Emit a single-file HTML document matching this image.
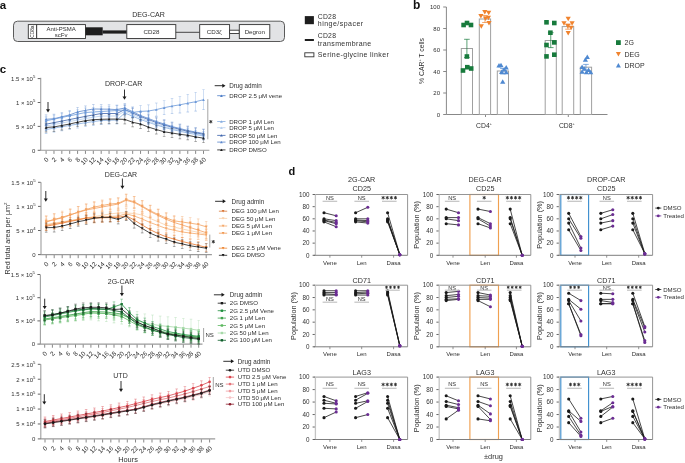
<!DOCTYPE html>
<html><head><meta charset="utf-8"><style>
html,body{margin:0;padding:0;background:#fff;}
body{width:685px;height:463px;overflow:hidden;}
svg{display:block;font-family:"Liberation Sans", sans-serif;will-change:transform;}
</style></head><body>
<svg width="685" height="463" viewBox="0 0 685 463">
<rect width="685" height="463" fill="#fff"/>
<text x="-0.30" y="9.00" font-size="11.50" text-anchor="start" fill="#111" font-weight="bold" >a</text>
<text x="413.00" y="9.20" font-size="12.00" text-anchor="start" fill="#111" font-weight="bold" >b</text>
<text x="-0.30" y="73.20" font-size="11.50" text-anchor="start" fill="#111" font-weight="bold" >c</text>
<text x="288.60" y="175.40" font-size="11.00" text-anchor="start" fill="#111" font-weight="bold" >d</text>
<rect x="13.50" y="21.20" width="271.00" height="20.30" fill="#e2e3e5" stroke="#5a5a5a" stroke-width="1.00" rx="4.00" />
<text x="148.50" y="17.30" font-size="7.10" text-anchor="middle" fill="#303030" font-weight="normal" >DEG-CAR</text>
<rect x="28.30" y="24.60" width="8.40" height="13.90" fill="#fff" stroke="#333" stroke-width="0.90" rx="0.00" />
<text x="34.40" y="31.60" font-size="4.80" text-anchor="middle" fill="#303030" font-weight="normal" transform="rotate(-90 34.4 31.6)" >CD8a</text>
<rect x="36.70" y="24.60" width="48.80" height="13.90" fill="#fff" stroke="#333" stroke-width="0.90" rx="0.00" />
<text x="61.10" y="30.70" font-size="6.00" text-anchor="middle" fill="#303030" font-weight="normal" >Anti-PSMA</text>
<text x="61.10" y="37.10" font-size="6.00" text-anchor="middle" fill="#303030" font-weight="normal" >scFv</text>
<rect x="85.50" y="27.30" width="17.20" height="8.00" fill="#1e1e1e" stroke="none" stroke-width="1.00" rx="0.00" />
<rect x="102.60" y="30.40" width="24.20" height="3.20" fill="#1e1e1e" stroke="none" stroke-width="1.00" rx="0.00" />
<rect x="126.80" y="24.60" width="49.00" height="13.90" fill="#fff" stroke="#333" stroke-width="0.90" rx="0.00" />
<text x="151.50" y="34.00" font-size="6.20" text-anchor="middle" fill="#303030" font-weight="normal" >CD28</text>
<line x1="175.80" y1="32.30" x2="199.70" y2="32.30" stroke="#333" stroke-width="0.90" />
<rect x="199.70" y="24.60" width="29.90" height="13.90" fill="#fff" stroke="#333" stroke-width="0.90" rx="0.00" />
<text x="214.30" y="34.00" font-size="6.20" text-anchor="middle" fill="#303030" font-weight="normal" >CD3ζ</text>
<rect x="229.60" y="30.20" width="9.70" height="3.30" fill="#fff" stroke="#333" stroke-width="0.90" rx="0.00" />
<rect x="239.30" y="24.60" width="30.50" height="13.90" fill="#fff" stroke="#333" stroke-width="0.90" rx="0.00" />
<text x="254.80" y="34.00" font-size="6.20" text-anchor="middle" fill="#303030" font-weight="normal" >Degron</text>
<rect x="304.80" y="16.10" width="9.10" height="8.10" fill="#1e1e1e" stroke="none" stroke-width="1.00" rx="0.00" />
<text x="317.80" y="19.20" font-size="6.80" text-anchor="start" fill="#303030" font-weight="normal" letter-spacing="0.25">CD28</text>
<text x="317.80" y="25.90" font-size="7.00" text-anchor="start" fill="#303030" font-weight="normal" letter-spacing="0.48">hinge/spacer</text>
<rect x="304.80" y="39.00" width="9.10" height="2.00" fill="#1e1e1e" stroke="none" stroke-width="1.00" rx="0.00" />
<text x="317.80" y="38.30" font-size="6.80" text-anchor="start" fill="#303030" font-weight="normal" letter-spacing="0.25">CD28</text>
<text x="317.80" y="45.90" font-size="7.00" text-anchor="start" fill="#303030" font-weight="normal" letter-spacing="0.36">transmembrane</text>
<rect x="304.80" y="52.80" width="9.10" height="4.00" fill="#fff" stroke="#333" stroke-width="0.90" rx="0.00" />
<text x="317.80" y="56.90" font-size="7.00" text-anchor="start" fill="#303030" font-weight="normal" letter-spacing="0.4">Serine-glycine linker</text>
<line x1="446.40" y1="7.00" x2="446.40" y2="114.50" stroke="#7a7a7a" stroke-width="0.90" />
<line x1="446.40" y1="114.50" x2="607.50" y2="114.50" stroke="#7a7a7a" stroke-width="0.90" />
<line x1="443.20" y1="114.50" x2="446.40" y2="114.50" stroke="#7a7a7a" stroke-width="0.90" />
<text x="440.00" y="116.70" font-size="6.00" text-anchor="end" fill="#303030" font-weight="normal" >0</text>
<line x1="443.20" y1="93.00" x2="446.40" y2="93.00" stroke="#7a7a7a" stroke-width="0.90" />
<text x="440.00" y="95.20" font-size="6.00" text-anchor="end" fill="#303030" font-weight="normal" >20</text>
<line x1="443.20" y1="71.50" x2="446.40" y2="71.50" stroke="#7a7a7a" stroke-width="0.90" />
<text x="440.00" y="73.70" font-size="6.00" text-anchor="end" fill="#303030" font-weight="normal" >40</text>
<line x1="443.20" y1="50.00" x2="446.40" y2="50.00" stroke="#7a7a7a" stroke-width="0.90" />
<text x="440.00" y="52.20" font-size="6.00" text-anchor="end" fill="#303030" font-weight="normal" >60</text>
<line x1="443.20" y1="28.50" x2="446.40" y2="28.50" stroke="#7a7a7a" stroke-width="0.90" />
<text x="440.00" y="30.70" font-size="6.00" text-anchor="end" fill="#303030" font-weight="normal" >80</text>
<line x1="443.20" y1="7.00" x2="446.40" y2="7.00" stroke="#7a7a7a" stroke-width="0.90" />
<text x="440.00" y="9.20" font-size="6.00" text-anchor="end" fill="#303030" font-weight="normal" >100</text>
<line x1="485.50" y1="114.50" x2="485.50" y2="117.00" stroke="#7a7a7a" stroke-width="0.90" />
<line x1="568.30" y1="114.50" x2="568.30" y2="117.00" stroke="#7a7a7a" stroke-width="0.90" />
<text x="484.00" y="128.00" font-size="6.80" text-anchor="middle" fill="#303030" font-weight="normal" >CD4<tspan font-size="3.8" dy="-3.2">+</tspan></text>
<text x="566.80" y="128.00" font-size="6.80" text-anchor="middle" fill="#303030" font-weight="normal" >CD8<tspan font-size="3.8" dy="-3.2">+</tspan></text>
<text x="423.50" y="61.00" font-size="6.80" text-anchor="middle" fill="#303030" font-weight="normal" transform="rotate(-90 423.5 61)" >% CAR<tspan font-size="3.8" dy="-3">+</tspan><tspan dy="3"> T cells</tspan></text>
<rect x="461.30" y="48.50" width="11.20" height="66.00" fill="#fff" stroke="#a0a0a0" stroke-width="1.00" rx="0.00" />
<rect x="479.30" y="19.00" width="11.30" height="95.50" fill="#fff" stroke="#a0a0a0" stroke-width="1.00" rx="0.00" />
<rect x="497.30" y="71.00" width="11.20" height="43.50" fill="#fff" stroke="#a0a0a0" stroke-width="1.00" rx="0.00" />
<rect x="545.20" y="40.50" width="11.10" height="74.00" fill="#fff" stroke="#a0a0a0" stroke-width="1.00" rx="0.00" />
<rect x="562.20" y="26.60" width="11.50" height="87.90" fill="#fff" stroke="#a0a0a0" stroke-width="1.00" rx="0.00" />
<rect x="580.30" y="67.20" width="11.30" height="47.30" fill="#fff" stroke="#a0a0a0" stroke-width="1.00" rx="0.00" />
<line x1="466.90" y1="39.30" x2="466.90" y2="57.50" stroke="#177a3c" stroke-width="0.70" />
<line x1="464.10" y1="39.30" x2="469.70" y2="39.30" stroke="#177a3c" stroke-width="0.70" />
<line x1="464.10" y1="57.50" x2="469.70" y2="57.50" stroke="#177a3c" stroke-width="0.70" />
<line x1="484.95" y1="15.50" x2="484.95" y2="22.50" stroke="#f0832e" stroke-width="0.70" />
<line x1="482.15" y1="15.50" x2="487.75" y2="15.50" stroke="#f0832e" stroke-width="0.70" />
<line x1="482.15" y1="22.50" x2="487.75" y2="22.50" stroke="#f0832e" stroke-width="0.70" />
<line x1="502.90" y1="68.50" x2="502.90" y2="74.00" stroke="#4f89d1" stroke-width="0.70" />
<line x1="500.10" y1="68.50" x2="505.70" y2="68.50" stroke="#4f89d1" stroke-width="0.70" />
<line x1="500.10" y1="74.00" x2="505.70" y2="74.00" stroke="#4f89d1" stroke-width="0.70" />
<line x1="550.75" y1="32.70" x2="550.75" y2="47.60" stroke="#177a3c" stroke-width="0.70" />
<line x1="547.95" y1="32.70" x2="553.55" y2="32.70" stroke="#177a3c" stroke-width="0.70" />
<line x1="547.95" y1="47.60" x2="553.55" y2="47.60" stroke="#177a3c" stroke-width="0.70" />
<line x1="567.95" y1="24.00" x2="567.95" y2="29.20" stroke="#f0832e" stroke-width="0.70" />
<line x1="565.15" y1="24.00" x2="570.75" y2="24.00" stroke="#f0832e" stroke-width="0.70" />
<line x1="565.15" y1="29.20" x2="570.75" y2="29.20" stroke="#f0832e" stroke-width="0.70" />
<line x1="585.95" y1="64.40" x2="585.95" y2="70.00" stroke="#4f89d1" stroke-width="0.70" />
<line x1="583.15" y1="64.40" x2="588.75" y2="64.40" stroke="#4f89d1" stroke-width="0.70" />
<line x1="583.15" y1="70.00" x2="588.75" y2="70.00" stroke="#4f89d1" stroke-width="0.70" />
<rect x="461.30" y="22.70" width="4.60" height="4.60" fill="#177a3c" stroke="none" stroke-width="1.00" rx="0.00" />
<rect x="464.70" y="20.70" width="4.60" height="4.60" fill="#177a3c" stroke="none" stroke-width="1.00" rx="0.00" />
<rect x="468.70" y="22.70" width="4.60" height="4.60" fill="#177a3c" stroke="none" stroke-width="1.00" rx="0.00" />
<rect x="464.60" y="54.20" width="4.60" height="4.60" fill="#177a3c" stroke="none" stroke-width="1.00" rx="0.00" />
<rect x="460.70" y="68.20" width="4.60" height="4.60" fill="#177a3c" stroke="none" stroke-width="1.00" rx="0.00" />
<rect x="465.00" y="64.90" width="4.60" height="4.60" fill="#177a3c" stroke="none" stroke-width="1.00" rx="0.00" />
<rect x="468.90" y="66.20" width="4.60" height="4.60" fill="#177a3c" stroke="none" stroke-width="1.00" rx="0.00" />
<rect x="544.20" y="20.00" width="4.60" height="4.60" fill="#177a3c" stroke="none" stroke-width="1.00" rx="0.00" />
<rect x="552.00" y="20.70" width="4.60" height="4.60" fill="#177a3c" stroke="none" stroke-width="1.00" rx="0.00" />
<rect x="548.10" y="30.40" width="4.60" height="4.60" fill="#177a3c" stroke="none" stroke-width="1.00" rx="0.00" />
<rect x="552.00" y="40.10" width="4.60" height="4.60" fill="#177a3c" stroke="none" stroke-width="1.00" rx="0.00" />
<rect x="544.20" y="42.70" width="4.60" height="4.60" fill="#177a3c" stroke="none" stroke-width="1.00" rx="0.00" />
<rect x="544.20" y="54.10" width="4.60" height="4.60" fill="#177a3c" stroke="none" stroke-width="1.00" rx="0.00" />
<rect x="552.00" y="52.40" width="4.60" height="4.60" fill="#177a3c" stroke="none" stroke-width="1.00" rx="0.00" />
<polygon points="478.30,13.94 483.50,13.94 480.90,18.46" fill="#f0832e"/>
<polygon points="482.20,10.04 487.40,10.04 484.80,14.56" fill="#f0832e"/>
<polygon points="486.10,10.74 491.30,10.74 488.70,15.26" fill="#f0832e"/>
<polygon points="482.90,16.54 488.10,16.54 485.50,21.06" fill="#f0832e"/>
<polygon points="485.80,15.84 491.00,15.84 488.40,20.36" fill="#f0832e"/>
<polygon points="486.40,21.04 491.60,21.04 489.00,25.56" fill="#f0832e"/>
<polygon points="478.70,24.34 483.90,24.34 481.30,28.86" fill="#f0832e"/>
<polygon points="565.60,16.74 570.80,16.74 568.20,21.26" fill="#f0832e"/>
<polygon points="561.40,21.34 566.60,21.34 564.00,25.86" fill="#f0832e"/>
<polygon points="569.50,21.34 574.70,21.34 572.10,25.86" fill="#f0832e"/>
<polygon points="565.30,23.94 570.50,23.94 567.90,28.46" fill="#f0832e"/>
<polygon points="568.50,25.84 573.70,25.84 571.10,30.36" fill="#f0832e"/>
<polygon points="565.60,31.04 570.80,31.04 568.20,35.56" fill="#f0832e"/>
<polygon points="496.40,67.56 501.60,67.56 499.00,63.04" fill="#4f89d1"/>
<polygon points="498.40,67.16 503.60,67.16 501.00,62.64" fill="#4f89d1"/>
<polygon points="503.60,69.46 508.80,69.46 506.20,64.94" fill="#4f89d1"/>
<polygon points="501.60,71.46 506.80,71.46 504.20,66.94" fill="#4f89d1"/>
<polygon points="499.00,73.96 504.20,73.96 501.60,69.44" fill="#4f89d1"/>
<polygon points="503.60,74.36 508.80,74.36 506.20,69.84" fill="#4f89d1"/>
<polygon points="500.10,83.76 505.30,83.76 502.70,79.24" fill="#4f89d1"/>
<polygon points="584.70,59.06 589.90,59.06 587.30,54.54" fill="#4f89d1"/>
<polygon points="582.80,61.66 588.00,61.66 585.40,57.14" fill="#4f89d1"/>
<polygon points="579.50,69.06 584.70,69.06 582.10,64.54" fill="#4f89d1"/>
<polygon points="581.70,70.76 586.90,70.76 584.30,66.24" fill="#4f89d1"/>
<polygon points="586.00,72.06 591.20,72.06 588.60,67.54" fill="#4f89d1"/>
<polygon points="579.50,73.76 584.70,73.76 582.10,69.24" fill="#4f89d1"/>
<polygon points="583.80,74.26 589.00,74.26 586.40,69.74" fill="#4f89d1"/>
<polygon points="588.10,74.26 593.30,74.26 590.70,69.74" fill="#4f89d1"/>
<rect x="616.00" y="40.20" width="4.80" height="4.80" fill="#177a3c" stroke="none" stroke-width="1.00" rx="0.00" />
<polygon points="615.90,52.12 620.90,52.12 618.40,56.47" fill="#f0832e"/>
<polygon points="615.90,67.47 620.90,67.47 618.40,63.12" fill="#4f89d1"/>
<text x="624.50" y="45.20" font-size="7.00" text-anchor="start" fill="#303030" font-weight="normal" >2G</text>
<text x="624.50" y="56.50" font-size="7.00" text-anchor="start" fill="#303030" font-weight="normal" >DEG</text>
<text x="624.50" y="67.60" font-size="7.00" text-anchor="start" fill="#303030" font-weight="normal" >DROP</text>
<line x1="40.70" y1="77.80" x2="40.70" y2="150.30" stroke="#a2a2a2" stroke-width="1.15" />
<line x1="40.20" y1="150.30" x2="209.40" y2="150.30" stroke="#9a9a9a" stroke-width="1.10" />
<line x1="37.70" y1="150.30" x2="40.40" y2="150.30" stroke="#555" stroke-width="0.90" />
<text x="35.30" y="152.60" font-size="6.00" text-anchor="end" fill="#303030" font-weight="normal" >0</text>
<line x1="37.70" y1="126.40" x2="40.40" y2="126.40" stroke="#555" stroke-width="0.90" />
<text x="35.30" y="128.70" font-size="6.00" text-anchor="end" fill="#303030" font-weight="normal" >5 × 10<tspan font-size="4.3" dy="-2.7">4</tspan></text>
<line x1="37.70" y1="102.50" x2="40.40" y2="102.50" stroke="#555" stroke-width="0.90" />
<text x="35.30" y="104.80" font-size="6.00" text-anchor="end" fill="#303030" font-weight="normal" >1 × 10<tspan font-size="4.3" dy="-2.7">5</tspan></text>
<line x1="37.70" y1="78.60" x2="40.40" y2="78.60" stroke="#555" stroke-width="0.90" />
<text x="35.30" y="80.90" font-size="6.00" text-anchor="end" fill="#303030" font-weight="normal" >1.5 × 10<tspan font-size="4.3" dy="-2.7">5</tspan></text>
<line x1="46.10" y1="150.80" x2="46.10" y2="153.90" stroke="#6a6a6a" stroke-width="0.80" />
<text x="49.00" y="160.10" font-size="6.40" text-anchor="end" fill="#303030" font-weight="normal" transform="rotate(-45 49 160.1)" >0</text>
<line x1="53.97" y1="150.80" x2="53.97" y2="153.90" stroke="#6a6a6a" stroke-width="0.80" />
<text x="56.87" y="160.10" font-size="6.40" text-anchor="end" fill="#303030" font-weight="normal" transform="rotate(-45 56.87 160.1)" >2</text>
<line x1="61.84" y1="150.80" x2="61.84" y2="153.90" stroke="#6a6a6a" stroke-width="0.80" />
<text x="64.74" y="160.10" font-size="6.40" text-anchor="end" fill="#303030" font-weight="normal" transform="rotate(-45 64.74 160.1)" >4</text>
<line x1="69.71" y1="150.80" x2="69.71" y2="153.90" stroke="#6a6a6a" stroke-width="0.80" />
<text x="72.61" y="160.10" font-size="6.40" text-anchor="end" fill="#303030" font-weight="normal" transform="rotate(-45 72.61 160.1)" >6</text>
<line x1="77.58" y1="150.80" x2="77.58" y2="153.90" stroke="#6a6a6a" stroke-width="0.80" />
<text x="80.48" y="160.10" font-size="6.40" text-anchor="end" fill="#303030" font-weight="normal" transform="rotate(-45 80.48 160.1)" >8</text>
<line x1="85.45" y1="150.80" x2="85.45" y2="153.90" stroke="#6a6a6a" stroke-width="0.80" />
<text x="88.35" y="160.10" font-size="6.40" text-anchor="end" fill="#303030" font-weight="normal" transform="rotate(-45 88.35 160.1)" >10</text>
<line x1="93.32" y1="150.80" x2="93.32" y2="153.90" stroke="#6a6a6a" stroke-width="0.80" />
<text x="96.22" y="160.10" font-size="6.40" text-anchor="end" fill="#303030" font-weight="normal" transform="rotate(-45 96.22 160.1)" >12</text>
<line x1="101.19" y1="150.80" x2="101.19" y2="153.90" stroke="#6a6a6a" stroke-width="0.80" />
<text x="104.09" y="160.10" font-size="6.40" text-anchor="end" fill="#303030" font-weight="normal" transform="rotate(-45 104.09 160.1)" >14</text>
<line x1="109.06" y1="150.80" x2="109.06" y2="153.90" stroke="#6a6a6a" stroke-width="0.80" />
<text x="111.96" y="160.10" font-size="6.40" text-anchor="end" fill="#303030" font-weight="normal" transform="rotate(-45 111.96 160.1)" >16</text>
<line x1="116.93" y1="150.80" x2="116.93" y2="153.90" stroke="#6a6a6a" stroke-width="0.80" />
<text x="119.83" y="160.10" font-size="6.40" text-anchor="end" fill="#303030" font-weight="normal" transform="rotate(-45 119.83 160.1)" >18</text>
<line x1="124.80" y1="150.80" x2="124.80" y2="153.90" stroke="#6a6a6a" stroke-width="0.80" />
<text x="127.70" y="160.10" font-size="6.40" text-anchor="end" fill="#303030" font-weight="normal" transform="rotate(-45 127.7 160.1)" >20</text>
<line x1="132.67" y1="150.80" x2="132.67" y2="153.90" stroke="#6a6a6a" stroke-width="0.80" />
<text x="135.57" y="160.10" font-size="6.40" text-anchor="end" fill="#303030" font-weight="normal" transform="rotate(-45 135.57 160.1)" >22</text>
<line x1="140.54" y1="150.80" x2="140.54" y2="153.90" stroke="#6a6a6a" stroke-width="0.80" />
<text x="143.44" y="160.10" font-size="6.40" text-anchor="end" fill="#303030" font-weight="normal" transform="rotate(-45 143.44 160.1)" >24</text>
<line x1="148.41" y1="150.80" x2="148.41" y2="153.90" stroke="#6a6a6a" stroke-width="0.80" />
<text x="151.31" y="160.10" font-size="6.40" text-anchor="end" fill="#303030" font-weight="normal" transform="rotate(-45 151.31 160.1)" >26</text>
<line x1="156.28" y1="150.80" x2="156.28" y2="153.90" stroke="#6a6a6a" stroke-width="0.80" />
<text x="159.18" y="160.10" font-size="6.40" text-anchor="end" fill="#303030" font-weight="normal" transform="rotate(-45 159.18 160.1)" >28</text>
<line x1="164.15" y1="150.80" x2="164.15" y2="153.90" stroke="#6a6a6a" stroke-width="0.80" />
<text x="167.05" y="160.10" font-size="6.40" text-anchor="end" fill="#303030" font-weight="normal" transform="rotate(-45 167.05 160.1)" >30</text>
<line x1="172.02" y1="150.80" x2="172.02" y2="153.90" stroke="#6a6a6a" stroke-width="0.80" />
<text x="174.92" y="160.10" font-size="6.40" text-anchor="end" fill="#303030" font-weight="normal" transform="rotate(-45 174.92 160.1)" >32</text>
<line x1="179.89" y1="150.80" x2="179.89" y2="153.90" stroke="#6a6a6a" stroke-width="0.80" />
<text x="182.79" y="160.10" font-size="6.40" text-anchor="end" fill="#303030" font-weight="normal" transform="rotate(-45 182.79 160.1)" >34</text>
<line x1="187.76" y1="150.80" x2="187.76" y2="153.90" stroke="#6a6a6a" stroke-width="0.80" />
<text x="190.66" y="160.10" font-size="6.40" text-anchor="end" fill="#303030" font-weight="normal" transform="rotate(-45 190.66 160.1)" >36</text>
<line x1="195.63" y1="150.80" x2="195.63" y2="153.90" stroke="#6a6a6a" stroke-width="0.80" />
<text x="198.53" y="160.10" font-size="6.40" text-anchor="end" fill="#303030" font-weight="normal" transform="rotate(-45 198.53 160.1)" >38</text>
<line x1="203.50" y1="150.80" x2="203.50" y2="153.90" stroke="#6a6a6a" stroke-width="0.80" />
<text x="206.40" y="160.10" font-size="6.40" text-anchor="end" fill="#303030" font-weight="normal" transform="rotate(-45 206.4 160.1)" >40</text>
<line x1="46.10" y1="122.50" x2="46.10" y2="129.50" stroke="#b9d1ef" stroke-width="0.55" opacity="0.68"/>
<line x1="44.80" y1="122.50" x2="47.40" y2="122.50" stroke="#b9d1ef" stroke-width="0.55" opacity="0.68"/>
<line x1="44.80" y1="129.50" x2="47.40" y2="129.50" stroke="#b9d1ef" stroke-width="0.55" opacity="0.90"/>
<line x1="53.97" y1="121.00" x2="53.97" y2="128.00" stroke="#b9d1ef" stroke-width="0.55" opacity="0.68"/>
<line x1="52.67" y1="121.00" x2="55.27" y2="121.00" stroke="#b9d1ef" stroke-width="0.55" opacity="0.68"/>
<line x1="52.67" y1="128.00" x2="55.27" y2="128.00" stroke="#b9d1ef" stroke-width="0.55" opacity="0.90"/>
<line x1="61.84" y1="119.50" x2="61.84" y2="126.50" stroke="#b9d1ef" stroke-width="0.55" opacity="0.68"/>
<line x1="60.54" y1="119.50" x2="63.14" y2="119.50" stroke="#b9d1ef" stroke-width="0.55" opacity="0.68"/>
<line x1="60.54" y1="126.50" x2="63.14" y2="126.50" stroke="#b9d1ef" stroke-width="0.55" opacity="0.90"/>
<line x1="69.71" y1="118.00" x2="69.71" y2="125.00" stroke="#b9d1ef" stroke-width="0.55" opacity="0.68"/>
<line x1="68.41" y1="118.00" x2="71.01" y2="118.00" stroke="#b9d1ef" stroke-width="0.55" opacity="0.68"/>
<line x1="68.41" y1="125.00" x2="71.01" y2="125.00" stroke="#b9d1ef" stroke-width="0.55" opacity="0.90"/>
<line x1="77.58" y1="116.50" x2="77.58" y2="123.50" stroke="#b9d1ef" stroke-width="0.55" opacity="0.68"/>
<line x1="76.28" y1="116.50" x2="78.88" y2="116.50" stroke="#b9d1ef" stroke-width="0.55" opacity="0.68"/>
<line x1="76.28" y1="123.50" x2="78.88" y2="123.50" stroke="#b9d1ef" stroke-width="0.55" opacity="0.90"/>
<line x1="85.45" y1="115.00" x2="85.45" y2="122.00" stroke="#b9d1ef" stroke-width="0.55" opacity="0.68"/>
<line x1="84.15" y1="115.00" x2="86.75" y2="115.00" stroke="#b9d1ef" stroke-width="0.55" opacity="0.68"/>
<line x1="84.15" y1="122.00" x2="86.75" y2="122.00" stroke="#b9d1ef" stroke-width="0.55" opacity="0.90"/>
<line x1="93.32" y1="113.75" x2="93.32" y2="120.75" stroke="#b9d1ef" stroke-width="0.55" opacity="0.68"/>
<line x1="92.02" y1="113.75" x2="94.62" y2="113.75" stroke="#b9d1ef" stroke-width="0.55" opacity="0.68"/>
<line x1="92.02" y1="120.75" x2="94.62" y2="120.75" stroke="#b9d1ef" stroke-width="0.55" opacity="0.90"/>
<line x1="101.19" y1="112.50" x2="101.19" y2="119.50" stroke="#b9d1ef" stroke-width="0.55" opacity="0.68"/>
<line x1="99.89" y1="112.50" x2="102.49" y2="112.50" stroke="#b9d1ef" stroke-width="0.55" opacity="0.68"/>
<line x1="99.89" y1="119.50" x2="102.49" y2="119.50" stroke="#b9d1ef" stroke-width="0.55" opacity="0.90"/>
<line x1="109.06" y1="112.50" x2="109.06" y2="119.50" stroke="#b9d1ef" stroke-width="0.55" opacity="0.68"/>
<line x1="107.76" y1="112.50" x2="110.36" y2="112.50" stroke="#b9d1ef" stroke-width="0.55" opacity="0.68"/>
<line x1="107.76" y1="119.50" x2="110.36" y2="119.50" stroke="#b9d1ef" stroke-width="0.55" opacity="0.90"/>
<line x1="116.93" y1="112.50" x2="116.93" y2="119.50" stroke="#b9d1ef" stroke-width="0.55" opacity="0.68"/>
<line x1="115.63" y1="112.50" x2="118.23" y2="112.50" stroke="#b9d1ef" stroke-width="0.55" opacity="0.68"/>
<line x1="115.63" y1="119.50" x2="118.23" y2="119.50" stroke="#b9d1ef" stroke-width="0.55" opacity="0.90"/>
<line x1="124.80" y1="107.50" x2="124.80" y2="114.50" stroke="#b9d1ef" stroke-width="0.55" opacity="0.68"/>
<line x1="123.50" y1="107.50" x2="126.10" y2="107.50" stroke="#b9d1ef" stroke-width="0.55" opacity="0.68"/>
<line x1="123.50" y1="114.50" x2="126.10" y2="114.50" stroke="#b9d1ef" stroke-width="0.55" opacity="0.90"/>
<line x1="132.67" y1="111.00" x2="132.67" y2="118.00" stroke="#b9d1ef" stroke-width="0.55" opacity="0.68"/>
<line x1="131.37" y1="111.00" x2="133.97" y2="111.00" stroke="#b9d1ef" stroke-width="0.55" opacity="0.68"/>
<line x1="131.37" y1="118.00" x2="133.97" y2="118.00" stroke="#b9d1ef" stroke-width="0.55" opacity="0.90"/>
<line x1="140.54" y1="114.50" x2="140.54" y2="121.50" stroke="#b9d1ef" stroke-width="0.55" opacity="0.68"/>
<line x1="139.24" y1="114.50" x2="141.84" y2="114.50" stroke="#b9d1ef" stroke-width="0.55" opacity="0.68"/>
<line x1="139.24" y1="121.50" x2="141.84" y2="121.50" stroke="#b9d1ef" stroke-width="0.55" opacity="0.90"/>
<line x1="148.41" y1="117.50" x2="148.41" y2="124.50" stroke="#b9d1ef" stroke-width="0.55" opacity="0.68"/>
<line x1="147.11" y1="117.50" x2="149.71" y2="117.50" stroke="#b9d1ef" stroke-width="0.55" opacity="0.68"/>
<line x1="147.11" y1="124.50" x2="149.71" y2="124.50" stroke="#b9d1ef" stroke-width="0.55" opacity="0.90"/>
<line x1="156.28" y1="120.50" x2="156.28" y2="127.50" stroke="#b9d1ef" stroke-width="0.55" opacity="0.68"/>
<line x1="154.98" y1="120.50" x2="157.58" y2="120.50" stroke="#b9d1ef" stroke-width="0.55" opacity="0.68"/>
<line x1="154.98" y1="127.50" x2="157.58" y2="127.50" stroke="#b9d1ef" stroke-width="0.55" opacity="0.90"/>
<line x1="164.15" y1="122.75" x2="164.15" y2="129.75" stroke="#b9d1ef" stroke-width="0.55" opacity="0.68"/>
<line x1="162.85" y1="122.75" x2="165.45" y2="122.75" stroke="#b9d1ef" stroke-width="0.55" opacity="0.68"/>
<line x1="162.85" y1="129.75" x2="165.45" y2="129.75" stroke="#b9d1ef" stroke-width="0.55" opacity="0.90"/>
<line x1="172.02" y1="125.00" x2="172.02" y2="132.00" stroke="#b9d1ef" stroke-width="0.55" opacity="0.68"/>
<line x1="170.72" y1="125.00" x2="173.32" y2="125.00" stroke="#b9d1ef" stroke-width="0.55" opacity="0.68"/>
<line x1="170.72" y1="132.00" x2="173.32" y2="132.00" stroke="#b9d1ef" stroke-width="0.55" opacity="0.90"/>
<line x1="179.89" y1="126.75" x2="179.89" y2="133.75" stroke="#b9d1ef" stroke-width="0.55" opacity="0.68"/>
<line x1="178.59" y1="126.75" x2="181.19" y2="126.75" stroke="#b9d1ef" stroke-width="0.55" opacity="0.68"/>
<line x1="178.59" y1="133.75" x2="181.19" y2="133.75" stroke="#b9d1ef" stroke-width="0.55" opacity="0.90"/>
<line x1="187.76" y1="128.50" x2="187.76" y2="135.50" stroke="#b9d1ef" stroke-width="0.55" opacity="0.68"/>
<line x1="186.46" y1="128.50" x2="189.06" y2="128.50" stroke="#b9d1ef" stroke-width="0.55" opacity="0.68"/>
<line x1="186.46" y1="135.50" x2="189.06" y2="135.50" stroke="#b9d1ef" stroke-width="0.55" opacity="0.90"/>
<line x1="195.63" y1="130.00" x2="195.63" y2="137.00" stroke="#b9d1ef" stroke-width="0.55" opacity="0.68"/>
<line x1="194.33" y1="130.00" x2="196.93" y2="130.00" stroke="#b9d1ef" stroke-width="0.55" opacity="0.68"/>
<line x1="194.33" y1="137.00" x2="196.93" y2="137.00" stroke="#b9d1ef" stroke-width="0.55" opacity="0.90"/>
<line x1="203.50" y1="131.50" x2="203.50" y2="138.50" stroke="#b9d1ef" stroke-width="0.55" opacity="0.68"/>
<line x1="202.20" y1="131.50" x2="204.80" y2="131.50" stroke="#b9d1ef" stroke-width="0.55" opacity="0.68"/>
<line x1="202.20" y1="138.50" x2="204.80" y2="138.50" stroke="#b9d1ef" stroke-width="0.55" opacity="0.90"/>
<polyline points="46.10,126.00 53.97,124.50 61.84,123.00 69.71,121.50 77.58,120.00 85.45,118.50 93.32,117.25 101.19,116.00 109.06,116.00 116.93,116.00 124.80,111.00 132.67,114.50 140.54,118.00 148.41,121.00 156.28,124.00 164.15,126.25 172.02,128.50 179.89,130.25 187.76,132.00 195.63,133.50 203.50,135.00" fill="none" stroke="#b9d1ef" stroke-width="0.80"/>
<polygon points="44.70,127.22 47.50,127.22 46.10,124.78" fill="#b9d1ef"/>
<polygon points="52.57,125.72 55.37,125.72 53.97,123.28" fill="#b9d1ef"/>
<polygon points="60.44,124.22 63.24,124.22 61.84,121.78" fill="#b9d1ef"/>
<polygon points="68.31,122.72 71.11,122.72 69.71,120.28" fill="#b9d1ef"/>
<polygon points="76.18,121.22 78.98,121.22 77.58,118.78" fill="#b9d1ef"/>
<polygon points="84.05,119.72 86.85,119.72 85.45,117.28" fill="#b9d1ef"/>
<polygon points="91.92,118.47 94.72,118.47 93.32,116.03" fill="#b9d1ef"/>
<polygon points="99.79,117.22 102.59,117.22 101.19,114.78" fill="#b9d1ef"/>
<polygon points="107.66,117.22 110.46,117.22 109.06,114.78" fill="#b9d1ef"/>
<polygon points="115.53,117.22 118.33,117.22 116.93,114.78" fill="#b9d1ef"/>
<polygon points="123.40,112.22 126.20,112.22 124.80,109.78" fill="#b9d1ef"/>
<polygon points="131.27,115.72 134.07,115.72 132.67,113.28" fill="#b9d1ef"/>
<polygon points="139.14,119.22 141.94,119.22 140.54,116.78" fill="#b9d1ef"/>
<polygon points="147.01,122.22 149.81,122.22 148.41,119.78" fill="#b9d1ef"/>
<polygon points="154.88,125.22 157.68,125.22 156.28,122.78" fill="#b9d1ef"/>
<polygon points="162.75,127.47 165.55,127.47 164.15,125.03" fill="#b9d1ef"/>
<polygon points="170.62,129.72 173.42,129.72 172.02,127.28" fill="#b9d1ef"/>
<polygon points="178.49,131.47 181.29,131.47 179.89,129.03" fill="#b9d1ef"/>
<polygon points="186.36,133.22 189.16,133.22 187.76,130.78" fill="#b9d1ef"/>
<polygon points="194.23,134.72 197.03,134.72 195.63,132.28" fill="#b9d1ef"/>
<polygon points="202.10,136.22 204.90,136.22 203.50,133.78" fill="#b9d1ef"/>
<line x1="46.10" y1="125.50" x2="46.10" y2="133.50" stroke="#86ade0" stroke-width="0.55" opacity="0.68"/>
<line x1="44.80" y1="125.50" x2="47.40" y2="125.50" stroke="#86ade0" stroke-width="0.55" opacity="0.68"/>
<line x1="44.80" y1="133.50" x2="47.40" y2="133.50" stroke="#86ade0" stroke-width="0.55" opacity="0.90"/>
<line x1="53.97" y1="124.14" x2="53.97" y2="132.14" stroke="#86ade0" stroke-width="0.55" opacity="0.68"/>
<line x1="52.67" y1="124.14" x2="55.27" y2="124.14" stroke="#86ade0" stroke-width="0.55" opacity="0.68"/>
<line x1="52.67" y1="132.14" x2="55.27" y2="132.14" stroke="#86ade0" stroke-width="0.55" opacity="0.90"/>
<line x1="61.84" y1="122.78" x2="61.84" y2="130.78" stroke="#86ade0" stroke-width="0.55" opacity="0.68"/>
<line x1="60.54" y1="122.78" x2="63.14" y2="122.78" stroke="#86ade0" stroke-width="0.55" opacity="0.68"/>
<line x1="60.54" y1="130.78" x2="63.14" y2="130.78" stroke="#86ade0" stroke-width="0.55" opacity="0.90"/>
<line x1="69.71" y1="121.42" x2="69.71" y2="129.42" stroke="#86ade0" stroke-width="0.55" opacity="0.68"/>
<line x1="68.41" y1="121.42" x2="71.01" y2="121.42" stroke="#86ade0" stroke-width="0.55" opacity="0.68"/>
<line x1="68.41" y1="129.42" x2="71.01" y2="129.42" stroke="#86ade0" stroke-width="0.55" opacity="0.90"/>
<line x1="77.58" y1="120.06" x2="77.58" y2="128.06" stroke="#86ade0" stroke-width="0.55" opacity="0.68"/>
<line x1="76.28" y1="120.06" x2="78.88" y2="120.06" stroke="#86ade0" stroke-width="0.55" opacity="0.68"/>
<line x1="76.28" y1="128.06" x2="78.88" y2="128.06" stroke="#86ade0" stroke-width="0.55" opacity="0.90"/>
<line x1="85.45" y1="118.70" x2="85.45" y2="126.70" stroke="#86ade0" stroke-width="0.55" opacity="0.68"/>
<line x1="84.15" y1="118.70" x2="86.75" y2="118.70" stroke="#86ade0" stroke-width="0.55" opacity="0.68"/>
<line x1="84.15" y1="126.70" x2="86.75" y2="126.70" stroke="#86ade0" stroke-width="0.55" opacity="0.90"/>
<line x1="93.32" y1="117.60" x2="93.32" y2="125.60" stroke="#86ade0" stroke-width="0.55" opacity="0.68"/>
<line x1="92.02" y1="117.60" x2="94.62" y2="117.60" stroke="#86ade0" stroke-width="0.55" opacity="0.68"/>
<line x1="92.02" y1="125.60" x2="94.62" y2="125.60" stroke="#86ade0" stroke-width="0.55" opacity="0.90"/>
<line x1="101.19" y1="116.50" x2="101.19" y2="124.50" stroke="#86ade0" stroke-width="0.55" opacity="0.68"/>
<line x1="99.89" y1="116.50" x2="102.49" y2="116.50" stroke="#86ade0" stroke-width="0.55" opacity="0.68"/>
<line x1="99.89" y1="124.50" x2="102.49" y2="124.50" stroke="#86ade0" stroke-width="0.55" opacity="0.90"/>
<line x1="109.06" y1="116.25" x2="109.06" y2="124.25" stroke="#86ade0" stroke-width="0.55" opacity="0.68"/>
<line x1="107.76" y1="116.25" x2="110.36" y2="116.25" stroke="#86ade0" stroke-width="0.55" opacity="0.68"/>
<line x1="107.76" y1="124.25" x2="110.36" y2="124.25" stroke="#86ade0" stroke-width="0.55" opacity="0.90"/>
<line x1="116.93" y1="116.00" x2="116.93" y2="124.00" stroke="#86ade0" stroke-width="0.55" opacity="0.68"/>
<line x1="115.63" y1="116.00" x2="118.23" y2="116.00" stroke="#86ade0" stroke-width="0.55" opacity="0.68"/>
<line x1="115.63" y1="124.00" x2="118.23" y2="124.00" stroke="#86ade0" stroke-width="0.55" opacity="0.90"/>
<line x1="124.80" y1="109.00" x2="124.80" y2="117.00" stroke="#86ade0" stroke-width="0.55" opacity="0.68"/>
<line x1="123.50" y1="109.00" x2="126.10" y2="109.00" stroke="#86ade0" stroke-width="0.55" opacity="0.68"/>
<line x1="123.50" y1="117.00" x2="126.10" y2="117.00" stroke="#86ade0" stroke-width="0.55" opacity="0.90"/>
<line x1="132.67" y1="112.25" x2="132.67" y2="120.25" stroke="#86ade0" stroke-width="0.55" opacity="0.68"/>
<line x1="131.37" y1="112.25" x2="133.97" y2="112.25" stroke="#86ade0" stroke-width="0.55" opacity="0.68"/>
<line x1="131.37" y1="120.25" x2="133.97" y2="120.25" stroke="#86ade0" stroke-width="0.55" opacity="0.90"/>
<line x1="140.54" y1="115.50" x2="140.54" y2="123.50" stroke="#86ade0" stroke-width="0.55" opacity="0.68"/>
<line x1="139.24" y1="115.50" x2="141.84" y2="115.50" stroke="#86ade0" stroke-width="0.55" opacity="0.68"/>
<line x1="139.24" y1="123.50" x2="141.84" y2="123.50" stroke="#86ade0" stroke-width="0.55" opacity="0.90"/>
<line x1="148.41" y1="118.25" x2="148.41" y2="126.25" stroke="#86ade0" stroke-width="0.55" opacity="0.68"/>
<line x1="147.11" y1="118.25" x2="149.71" y2="118.25" stroke="#86ade0" stroke-width="0.55" opacity="0.68"/>
<line x1="147.11" y1="126.25" x2="149.71" y2="126.25" stroke="#86ade0" stroke-width="0.55" opacity="0.90"/>
<line x1="156.28" y1="121.00" x2="156.28" y2="129.00" stroke="#86ade0" stroke-width="0.55" opacity="0.68"/>
<line x1="154.98" y1="121.00" x2="157.58" y2="121.00" stroke="#86ade0" stroke-width="0.55" opacity="0.68"/>
<line x1="154.98" y1="129.00" x2="157.58" y2="129.00" stroke="#86ade0" stroke-width="0.55" opacity="0.90"/>
<line x1="164.15" y1="123.25" x2="164.15" y2="131.25" stroke="#86ade0" stroke-width="0.55" opacity="0.68"/>
<line x1="162.85" y1="123.25" x2="165.45" y2="123.25" stroke="#86ade0" stroke-width="0.55" opacity="0.68"/>
<line x1="162.85" y1="131.25" x2="165.45" y2="131.25" stroke="#86ade0" stroke-width="0.55" opacity="0.90"/>
<line x1="172.02" y1="125.50" x2="172.02" y2="133.50" stroke="#86ade0" stroke-width="0.55" opacity="0.68"/>
<line x1="170.72" y1="125.50" x2="173.32" y2="125.50" stroke="#86ade0" stroke-width="0.55" opacity="0.68"/>
<line x1="170.72" y1="133.50" x2="173.32" y2="133.50" stroke="#86ade0" stroke-width="0.55" opacity="0.90"/>
<line x1="179.89" y1="127.25" x2="179.89" y2="135.25" stroke="#86ade0" stroke-width="0.55" opacity="0.68"/>
<line x1="178.59" y1="127.25" x2="181.19" y2="127.25" stroke="#86ade0" stroke-width="0.55" opacity="0.68"/>
<line x1="178.59" y1="135.25" x2="181.19" y2="135.25" stroke="#86ade0" stroke-width="0.55" opacity="0.90"/>
<line x1="187.76" y1="129.00" x2="187.76" y2="137.00" stroke="#86ade0" stroke-width="0.55" opacity="0.68"/>
<line x1="186.46" y1="129.00" x2="189.06" y2="129.00" stroke="#86ade0" stroke-width="0.55" opacity="0.68"/>
<line x1="186.46" y1="137.00" x2="189.06" y2="137.00" stroke="#86ade0" stroke-width="0.55" opacity="0.90"/>
<line x1="195.63" y1="130.50" x2="195.63" y2="138.50" stroke="#86ade0" stroke-width="0.55" opacity="0.68"/>
<line x1="194.33" y1="130.50" x2="196.93" y2="130.50" stroke="#86ade0" stroke-width="0.55" opacity="0.68"/>
<line x1="194.33" y1="138.50" x2="196.93" y2="138.50" stroke="#86ade0" stroke-width="0.55" opacity="0.90"/>
<line x1="203.50" y1="132.00" x2="203.50" y2="140.00" stroke="#86ade0" stroke-width="0.55" opacity="0.68"/>
<line x1="202.20" y1="132.00" x2="204.80" y2="132.00" stroke="#86ade0" stroke-width="0.55" opacity="0.68"/>
<line x1="202.20" y1="140.00" x2="204.80" y2="140.00" stroke="#86ade0" stroke-width="0.55" opacity="0.90"/>
<polyline points="46.10,129.50 53.97,128.14 61.84,126.78 69.71,125.42 77.58,124.06 85.45,122.70 93.32,121.60 101.19,120.50 109.06,120.25 116.93,120.00 124.80,113.00 132.67,116.25 140.54,119.50 148.41,122.25 156.28,125.00 164.15,127.25 172.02,129.50 179.89,131.25 187.76,133.00 195.63,134.50 203.50,136.00" fill="none" stroke="#86ade0" stroke-width="0.80"/>
<polygon points="44.70,130.72 47.50,130.72 46.10,128.28" fill="#86ade0"/>
<polygon points="52.57,129.36 55.37,129.36 53.97,126.92" fill="#86ade0"/>
<polygon points="60.44,128.00 63.24,128.00 61.84,125.56" fill="#86ade0"/>
<polygon points="68.31,126.64 71.11,126.64 69.71,124.20" fill="#86ade0"/>
<polygon points="76.18,125.28 78.98,125.28 77.58,122.84" fill="#86ade0"/>
<polygon points="84.05,123.92 86.85,123.92 85.45,121.48" fill="#86ade0"/>
<polygon points="91.92,122.82 94.72,122.82 93.32,120.38" fill="#86ade0"/>
<polygon points="99.79,121.72 102.59,121.72 101.19,119.28" fill="#86ade0"/>
<polygon points="107.66,121.47 110.46,121.47 109.06,119.03" fill="#86ade0"/>
<polygon points="115.53,121.22 118.33,121.22 116.93,118.78" fill="#86ade0"/>
<polygon points="123.40,114.22 126.20,114.22 124.80,111.78" fill="#86ade0"/>
<polygon points="131.27,117.47 134.07,117.47 132.67,115.03" fill="#86ade0"/>
<polygon points="139.14,120.72 141.94,120.72 140.54,118.28" fill="#86ade0"/>
<polygon points="147.01,123.47 149.81,123.47 148.41,121.03" fill="#86ade0"/>
<polygon points="154.88,126.22 157.68,126.22 156.28,123.78" fill="#86ade0"/>
<polygon points="162.75,128.47 165.55,128.47 164.15,126.03" fill="#86ade0"/>
<polygon points="170.62,130.72 173.42,130.72 172.02,128.28" fill="#86ade0"/>
<polygon points="178.49,132.47 181.29,132.47 179.89,130.03" fill="#86ade0"/>
<polygon points="186.36,134.22 189.16,134.22 187.76,131.78" fill="#86ade0"/>
<polygon points="194.23,135.72 197.03,135.72 195.63,133.28" fill="#86ade0"/>
<polygon points="202.10,137.22 204.90,137.22 203.50,134.78" fill="#86ade0"/>
<line x1="46.10" y1="119.70" x2="46.10" y2="128.70" stroke="#3c63ac" stroke-width="0.55" opacity="0.60"/>
<line x1="44.80" y1="119.70" x2="47.40" y2="119.70" stroke="#3c63ac" stroke-width="0.55" opacity="0.60"/>
<line x1="44.80" y1="128.70" x2="47.40" y2="128.70" stroke="#3c63ac" stroke-width="0.55" opacity="0.80"/>
<line x1="53.97" y1="118.14" x2="53.97" y2="127.14" stroke="#3c63ac" stroke-width="0.55" opacity="0.60"/>
<line x1="52.67" y1="118.14" x2="55.27" y2="118.14" stroke="#3c63ac" stroke-width="0.55" opacity="0.60"/>
<line x1="52.67" y1="127.14" x2="55.27" y2="127.14" stroke="#3c63ac" stroke-width="0.55" opacity="0.80"/>
<line x1="61.84" y1="116.58" x2="61.84" y2="125.58" stroke="#3c63ac" stroke-width="0.55" opacity="0.60"/>
<line x1="60.54" y1="116.58" x2="63.14" y2="116.58" stroke="#3c63ac" stroke-width="0.55" opacity="0.60"/>
<line x1="60.54" y1="125.58" x2="63.14" y2="125.58" stroke="#3c63ac" stroke-width="0.55" opacity="0.80"/>
<line x1="69.71" y1="115.02" x2="69.71" y2="124.02" stroke="#3c63ac" stroke-width="0.55" opacity="0.60"/>
<line x1="68.41" y1="115.02" x2="71.01" y2="115.02" stroke="#3c63ac" stroke-width="0.55" opacity="0.60"/>
<line x1="68.41" y1="124.02" x2="71.01" y2="124.02" stroke="#3c63ac" stroke-width="0.55" opacity="0.80"/>
<line x1="77.58" y1="113.46" x2="77.58" y2="122.46" stroke="#3c63ac" stroke-width="0.55" opacity="0.60"/>
<line x1="76.28" y1="113.46" x2="78.88" y2="113.46" stroke="#3c63ac" stroke-width="0.55" opacity="0.60"/>
<line x1="76.28" y1="122.46" x2="78.88" y2="122.46" stroke="#3c63ac" stroke-width="0.55" opacity="0.80"/>
<line x1="85.45" y1="111.90" x2="85.45" y2="120.90" stroke="#3c63ac" stroke-width="0.55" opacity="0.60"/>
<line x1="84.15" y1="111.90" x2="86.75" y2="111.90" stroke="#3c63ac" stroke-width="0.55" opacity="0.60"/>
<line x1="84.15" y1="120.90" x2="86.75" y2="120.90" stroke="#3c63ac" stroke-width="0.55" opacity="0.80"/>
<line x1="93.32" y1="110.45" x2="93.32" y2="119.45" stroke="#3c63ac" stroke-width="0.55" opacity="0.60"/>
<line x1="92.02" y1="110.45" x2="94.62" y2="110.45" stroke="#3c63ac" stroke-width="0.55" opacity="0.60"/>
<line x1="92.02" y1="119.45" x2="94.62" y2="119.45" stroke="#3c63ac" stroke-width="0.55" opacity="0.80"/>
<line x1="101.19" y1="109.00" x2="101.19" y2="118.00" stroke="#3c63ac" stroke-width="0.55" opacity="0.60"/>
<line x1="99.89" y1="109.00" x2="102.49" y2="109.00" stroke="#3c63ac" stroke-width="0.55" opacity="0.60"/>
<line x1="99.89" y1="118.00" x2="102.49" y2="118.00" stroke="#3c63ac" stroke-width="0.55" opacity="0.80"/>
<line x1="109.06" y1="109.00" x2="109.06" y2="118.00" stroke="#3c63ac" stroke-width="0.55" opacity="0.60"/>
<line x1="107.76" y1="109.00" x2="110.36" y2="109.00" stroke="#3c63ac" stroke-width="0.55" opacity="0.60"/>
<line x1="107.76" y1="118.00" x2="110.36" y2="118.00" stroke="#3c63ac" stroke-width="0.55" opacity="0.80"/>
<line x1="116.93" y1="109.00" x2="116.93" y2="118.00" stroke="#3c63ac" stroke-width="0.55" opacity="0.60"/>
<line x1="115.63" y1="109.00" x2="118.23" y2="109.00" stroke="#3c63ac" stroke-width="0.55" opacity="0.60"/>
<line x1="115.63" y1="118.00" x2="118.23" y2="118.00" stroke="#3c63ac" stroke-width="0.55" opacity="0.80"/>
<line x1="124.80" y1="105.00" x2="124.80" y2="114.00" stroke="#3c63ac" stroke-width="0.55" opacity="0.60"/>
<line x1="123.50" y1="105.00" x2="126.10" y2="105.00" stroke="#3c63ac" stroke-width="0.55" opacity="0.60"/>
<line x1="123.50" y1="114.00" x2="126.10" y2="114.00" stroke="#3c63ac" stroke-width="0.55" opacity="0.80"/>
<line x1="132.67" y1="108.50" x2="132.67" y2="117.50" stroke="#3c63ac" stroke-width="0.55" opacity="0.60"/>
<line x1="131.37" y1="108.50" x2="133.97" y2="108.50" stroke="#3c63ac" stroke-width="0.55" opacity="0.60"/>
<line x1="131.37" y1="117.50" x2="133.97" y2="117.50" stroke="#3c63ac" stroke-width="0.55" opacity="0.80"/>
<line x1="140.54" y1="112.00" x2="140.54" y2="121.00" stroke="#3c63ac" stroke-width="0.55" opacity="0.60"/>
<line x1="139.24" y1="112.00" x2="141.84" y2="112.00" stroke="#3c63ac" stroke-width="0.55" opacity="0.60"/>
<line x1="139.24" y1="121.00" x2="141.84" y2="121.00" stroke="#3c63ac" stroke-width="0.55" opacity="0.80"/>
<line x1="148.41" y1="115.00" x2="148.41" y2="124.00" stroke="#3c63ac" stroke-width="0.55" opacity="0.60"/>
<line x1="147.11" y1="115.00" x2="149.71" y2="115.00" stroke="#3c63ac" stroke-width="0.55" opacity="0.60"/>
<line x1="147.11" y1="124.00" x2="149.71" y2="124.00" stroke="#3c63ac" stroke-width="0.55" opacity="0.80"/>
<line x1="156.28" y1="118.00" x2="156.28" y2="127.00" stroke="#3c63ac" stroke-width="0.55" opacity="0.60"/>
<line x1="154.98" y1="118.00" x2="157.58" y2="118.00" stroke="#3c63ac" stroke-width="0.55" opacity="0.60"/>
<line x1="154.98" y1="127.00" x2="157.58" y2="127.00" stroke="#3c63ac" stroke-width="0.55" opacity="0.80"/>
<line x1="164.15" y1="120.40" x2="164.15" y2="129.40" stroke="#3c63ac" stroke-width="0.55" opacity="0.60"/>
<line x1="162.85" y1="120.40" x2="165.45" y2="120.40" stroke="#3c63ac" stroke-width="0.55" opacity="0.60"/>
<line x1="162.85" y1="129.40" x2="165.45" y2="129.40" stroke="#3c63ac" stroke-width="0.55" opacity="0.80"/>
<line x1="172.02" y1="122.80" x2="172.02" y2="131.80" stroke="#3c63ac" stroke-width="0.55" opacity="0.60"/>
<line x1="170.72" y1="122.80" x2="173.32" y2="122.80" stroke="#3c63ac" stroke-width="0.55" opacity="0.60"/>
<line x1="170.72" y1="131.80" x2="173.32" y2="131.80" stroke="#3c63ac" stroke-width="0.55" opacity="0.80"/>
<line x1="179.89" y1="124.80" x2="179.89" y2="133.80" stroke="#3c63ac" stroke-width="0.55" opacity="0.60"/>
<line x1="178.59" y1="124.80" x2="181.19" y2="124.80" stroke="#3c63ac" stroke-width="0.55" opacity="0.60"/>
<line x1="178.59" y1="133.80" x2="181.19" y2="133.80" stroke="#3c63ac" stroke-width="0.55" opacity="0.80"/>
<line x1="187.76" y1="126.80" x2="187.76" y2="135.80" stroke="#3c63ac" stroke-width="0.55" opacity="0.60"/>
<line x1="186.46" y1="126.80" x2="189.06" y2="126.80" stroke="#3c63ac" stroke-width="0.55" opacity="0.60"/>
<line x1="186.46" y1="135.80" x2="189.06" y2="135.80" stroke="#3c63ac" stroke-width="0.55" opacity="0.80"/>
<line x1="195.63" y1="128.25" x2="195.63" y2="137.25" stroke="#3c63ac" stroke-width="0.55" opacity="0.60"/>
<line x1="194.33" y1="128.25" x2="196.93" y2="128.25" stroke="#3c63ac" stroke-width="0.55" opacity="0.60"/>
<line x1="194.33" y1="137.25" x2="196.93" y2="137.25" stroke="#3c63ac" stroke-width="0.55" opacity="0.80"/>
<line x1="203.50" y1="129.70" x2="203.50" y2="138.70" stroke="#3c63ac" stroke-width="0.55" opacity="0.60"/>
<line x1="202.20" y1="129.70" x2="204.80" y2="129.70" stroke="#3c63ac" stroke-width="0.55" opacity="0.60"/>
<line x1="202.20" y1="138.70" x2="204.80" y2="138.70" stroke="#3c63ac" stroke-width="0.55" opacity="0.80"/>
<polyline points="46.10,124.20 53.97,122.64 61.84,121.08 69.71,119.52 77.58,117.96 85.45,116.40 93.32,114.95 101.19,113.50 109.06,113.50 116.93,113.50 124.80,109.50 132.67,113.00 140.54,116.50 148.41,119.50 156.28,122.50 164.15,124.90 172.02,127.30 179.89,129.30 187.76,131.30 195.63,132.75 203.50,134.20" fill="none" stroke="#3c63ac" stroke-width="0.80"/>
<polygon points="44.70,125.42 47.50,125.42 46.10,122.98" fill="#3c63ac"/>
<polygon points="52.57,123.86 55.37,123.86 53.97,121.42" fill="#3c63ac"/>
<polygon points="60.44,122.30 63.24,122.30 61.84,119.86" fill="#3c63ac"/>
<polygon points="68.31,120.74 71.11,120.74 69.71,118.30" fill="#3c63ac"/>
<polygon points="76.18,119.18 78.98,119.18 77.58,116.74" fill="#3c63ac"/>
<polygon points="84.05,117.62 86.85,117.62 85.45,115.18" fill="#3c63ac"/>
<polygon points="91.92,116.17 94.72,116.17 93.32,113.73" fill="#3c63ac"/>
<polygon points="99.79,114.72 102.59,114.72 101.19,112.28" fill="#3c63ac"/>
<polygon points="107.66,114.72 110.46,114.72 109.06,112.28" fill="#3c63ac"/>
<polygon points="115.53,114.72 118.33,114.72 116.93,112.28" fill="#3c63ac"/>
<polygon points="123.40,110.72 126.20,110.72 124.80,108.28" fill="#3c63ac"/>
<polygon points="131.27,114.22 134.07,114.22 132.67,111.78" fill="#3c63ac"/>
<polygon points="139.14,117.72 141.94,117.72 140.54,115.28" fill="#3c63ac"/>
<polygon points="147.01,120.72 149.81,120.72 148.41,118.28" fill="#3c63ac"/>
<polygon points="154.88,123.72 157.68,123.72 156.28,121.28" fill="#3c63ac"/>
<polygon points="162.75,126.12 165.55,126.12 164.15,123.68" fill="#3c63ac"/>
<polygon points="170.62,128.52 173.42,128.52 172.02,126.08" fill="#3c63ac"/>
<polygon points="178.49,130.52 181.29,130.52 179.89,128.08" fill="#3c63ac"/>
<polygon points="186.36,132.52 189.16,132.52 187.76,130.08" fill="#3c63ac"/>
<polygon points="194.23,133.97 197.03,133.97 195.63,131.53" fill="#3c63ac"/>
<polygon points="202.10,135.42 204.90,135.42 203.50,132.98" fill="#3c63ac"/>
<line x1="46.10" y1="114.80" x2="46.10" y2="123.80" stroke="#5a86cc" stroke-width="0.55" opacity="0.60"/>
<line x1="44.80" y1="114.80" x2="47.40" y2="114.80" stroke="#5a86cc" stroke-width="0.55" opacity="0.60"/>
<line x1="44.80" y1="123.80" x2="47.40" y2="123.80" stroke="#5a86cc" stroke-width="0.55" opacity="0.80"/>
<line x1="53.97" y1="114.20" x2="53.97" y2="123.20" stroke="#5a86cc" stroke-width="0.55" opacity="0.60"/>
<line x1="52.67" y1="114.20" x2="55.27" y2="114.20" stroke="#5a86cc" stroke-width="0.55" opacity="0.60"/>
<line x1="52.67" y1="123.20" x2="55.27" y2="123.20" stroke="#5a86cc" stroke-width="0.55" opacity="0.80"/>
<line x1="61.84" y1="112.30" x2="61.84" y2="121.30" stroke="#5a86cc" stroke-width="0.55" opacity="0.60"/>
<line x1="60.54" y1="112.30" x2="63.14" y2="112.30" stroke="#5a86cc" stroke-width="0.55" opacity="0.60"/>
<line x1="60.54" y1="121.30" x2="63.14" y2="121.30" stroke="#5a86cc" stroke-width="0.55" opacity="0.80"/>
<line x1="69.71" y1="110.40" x2="69.71" y2="119.40" stroke="#5a86cc" stroke-width="0.55" opacity="0.60"/>
<line x1="68.41" y1="110.40" x2="71.01" y2="110.40" stroke="#5a86cc" stroke-width="0.55" opacity="0.60"/>
<line x1="68.41" y1="119.40" x2="71.01" y2="119.40" stroke="#5a86cc" stroke-width="0.55" opacity="0.80"/>
<line x1="77.58" y1="107.40" x2="77.58" y2="116.40" stroke="#5a86cc" stroke-width="0.55" opacity="0.60"/>
<line x1="76.28" y1="107.40" x2="78.88" y2="107.40" stroke="#5a86cc" stroke-width="0.55" opacity="0.60"/>
<line x1="76.28" y1="116.40" x2="78.88" y2="116.40" stroke="#5a86cc" stroke-width="0.55" opacity="0.80"/>
<line x1="85.45" y1="105.90" x2="85.45" y2="114.90" stroke="#5a86cc" stroke-width="0.55" opacity="0.60"/>
<line x1="84.15" y1="105.90" x2="86.75" y2="105.90" stroke="#5a86cc" stroke-width="0.55" opacity="0.60"/>
<line x1="84.15" y1="114.90" x2="86.75" y2="114.90" stroke="#5a86cc" stroke-width="0.55" opacity="0.80"/>
<line x1="93.32" y1="104.50" x2="93.32" y2="113.50" stroke="#5a86cc" stroke-width="0.55" opacity="0.60"/>
<line x1="92.02" y1="104.50" x2="94.62" y2="104.50" stroke="#5a86cc" stroke-width="0.55" opacity="0.60"/>
<line x1="92.02" y1="113.50" x2="94.62" y2="113.50" stroke="#5a86cc" stroke-width="0.55" opacity="0.80"/>
<line x1="101.19" y1="104.60" x2="101.19" y2="113.60" stroke="#5a86cc" stroke-width="0.55" opacity="0.60"/>
<line x1="99.89" y1="104.60" x2="102.49" y2="104.60" stroke="#5a86cc" stroke-width="0.55" opacity="0.60"/>
<line x1="99.89" y1="113.60" x2="102.49" y2="113.60" stroke="#5a86cc" stroke-width="0.55" opacity="0.80"/>
<line x1="109.06" y1="104.70" x2="109.06" y2="113.70" stroke="#5a86cc" stroke-width="0.55" opacity="0.60"/>
<line x1="107.76" y1="104.70" x2="110.36" y2="104.70" stroke="#5a86cc" stroke-width="0.55" opacity="0.60"/>
<line x1="107.76" y1="113.70" x2="110.36" y2="113.70" stroke="#5a86cc" stroke-width="0.55" opacity="0.80"/>
<line x1="116.93" y1="105.10" x2="116.93" y2="114.10" stroke="#5a86cc" stroke-width="0.55" opacity="0.60"/>
<line x1="115.63" y1="105.10" x2="118.23" y2="105.10" stroke="#5a86cc" stroke-width="0.55" opacity="0.60"/>
<line x1="115.63" y1="114.10" x2="118.23" y2="114.10" stroke="#5a86cc" stroke-width="0.55" opacity="0.80"/>
<line x1="124.80" y1="103.50" x2="124.80" y2="112.50" stroke="#5a86cc" stroke-width="0.55" opacity="0.60"/>
<line x1="123.50" y1="103.50" x2="126.10" y2="103.50" stroke="#5a86cc" stroke-width="0.55" opacity="0.60"/>
<line x1="123.50" y1="112.50" x2="126.10" y2="112.50" stroke="#5a86cc" stroke-width="0.55" opacity="0.80"/>
<line x1="132.67" y1="107.25" x2="132.67" y2="116.25" stroke="#5a86cc" stroke-width="0.55" opacity="0.60"/>
<line x1="131.37" y1="107.25" x2="133.97" y2="107.25" stroke="#5a86cc" stroke-width="0.55" opacity="0.60"/>
<line x1="131.37" y1="116.25" x2="133.97" y2="116.25" stroke="#5a86cc" stroke-width="0.55" opacity="0.80"/>
<line x1="140.54" y1="111.00" x2="140.54" y2="120.00" stroke="#5a86cc" stroke-width="0.55" opacity="0.60"/>
<line x1="139.24" y1="111.00" x2="141.84" y2="111.00" stroke="#5a86cc" stroke-width="0.55" opacity="0.60"/>
<line x1="139.24" y1="120.00" x2="141.84" y2="120.00" stroke="#5a86cc" stroke-width="0.55" opacity="0.80"/>
<line x1="148.41" y1="114.00" x2="148.41" y2="123.00" stroke="#5a86cc" stroke-width="0.55" opacity="0.60"/>
<line x1="147.11" y1="114.00" x2="149.71" y2="114.00" stroke="#5a86cc" stroke-width="0.55" opacity="0.60"/>
<line x1="147.11" y1="123.00" x2="149.71" y2="123.00" stroke="#5a86cc" stroke-width="0.55" opacity="0.80"/>
<line x1="156.28" y1="117.00" x2="156.28" y2="126.00" stroke="#5a86cc" stroke-width="0.55" opacity="0.60"/>
<line x1="154.98" y1="117.00" x2="157.58" y2="117.00" stroke="#5a86cc" stroke-width="0.55" opacity="0.60"/>
<line x1="154.98" y1="126.00" x2="157.58" y2="126.00" stroke="#5a86cc" stroke-width="0.55" opacity="0.80"/>
<line x1="164.15" y1="119.50" x2="164.15" y2="128.50" stroke="#5a86cc" stroke-width="0.55" opacity="0.60"/>
<line x1="162.85" y1="119.50" x2="165.45" y2="119.50" stroke="#5a86cc" stroke-width="0.55" opacity="0.60"/>
<line x1="162.85" y1="128.50" x2="165.45" y2="128.50" stroke="#5a86cc" stroke-width="0.55" opacity="0.80"/>
<line x1="172.02" y1="122.00" x2="172.02" y2="131.00" stroke="#5a86cc" stroke-width="0.55" opacity="0.60"/>
<line x1="170.72" y1="122.00" x2="173.32" y2="122.00" stroke="#5a86cc" stroke-width="0.55" opacity="0.60"/>
<line x1="170.72" y1="131.00" x2="173.32" y2="131.00" stroke="#5a86cc" stroke-width="0.55" opacity="0.80"/>
<line x1="179.89" y1="124.00" x2="179.89" y2="133.00" stroke="#5a86cc" stroke-width="0.55" opacity="0.60"/>
<line x1="178.59" y1="124.00" x2="181.19" y2="124.00" stroke="#5a86cc" stroke-width="0.55" opacity="0.60"/>
<line x1="178.59" y1="133.00" x2="181.19" y2="133.00" stroke="#5a86cc" stroke-width="0.55" opacity="0.80"/>
<line x1="187.76" y1="126.00" x2="187.76" y2="135.00" stroke="#5a86cc" stroke-width="0.55" opacity="0.60"/>
<line x1="186.46" y1="126.00" x2="189.06" y2="126.00" stroke="#5a86cc" stroke-width="0.55" opacity="0.60"/>
<line x1="186.46" y1="135.00" x2="189.06" y2="135.00" stroke="#5a86cc" stroke-width="0.55" opacity="0.80"/>
<line x1="195.63" y1="127.50" x2="195.63" y2="136.50" stroke="#5a86cc" stroke-width="0.55" opacity="0.60"/>
<line x1="194.33" y1="127.50" x2="196.93" y2="127.50" stroke="#5a86cc" stroke-width="0.55" opacity="0.60"/>
<line x1="194.33" y1="136.50" x2="196.93" y2="136.50" stroke="#5a86cc" stroke-width="0.55" opacity="0.80"/>
<line x1="203.50" y1="129.00" x2="203.50" y2="138.00" stroke="#5a86cc" stroke-width="0.55" opacity="0.60"/>
<line x1="202.20" y1="129.00" x2="204.80" y2="129.00" stroke="#5a86cc" stroke-width="0.55" opacity="0.60"/>
<line x1="202.20" y1="138.00" x2="204.80" y2="138.00" stroke="#5a86cc" stroke-width="0.55" opacity="0.80"/>
<polyline points="46.10,119.30 53.97,118.70 61.84,116.80 69.71,114.90 77.58,111.90 85.45,110.40 93.32,109.00 101.19,109.10 109.06,109.20 116.93,109.60 124.80,108.00 132.67,111.75 140.54,115.50 148.41,118.50 156.28,121.50 164.15,124.00 172.02,126.50 179.89,128.50 187.76,130.50 195.63,132.00 203.50,133.50" fill="none" stroke="#5a86cc" stroke-width="0.80"/>
<polygon points="44.70,120.52 47.50,120.52 46.10,118.08" fill="#5a86cc"/>
<polygon points="52.57,119.92 55.37,119.92 53.97,117.48" fill="#5a86cc"/>
<polygon points="60.44,118.02 63.24,118.02 61.84,115.58" fill="#5a86cc"/>
<polygon points="68.31,116.12 71.11,116.12 69.71,113.68" fill="#5a86cc"/>
<polygon points="76.18,113.12 78.98,113.12 77.58,110.68" fill="#5a86cc"/>
<polygon points="84.05,111.62 86.85,111.62 85.45,109.18" fill="#5a86cc"/>
<polygon points="91.92,110.22 94.72,110.22 93.32,107.78" fill="#5a86cc"/>
<polygon points="99.79,110.32 102.59,110.32 101.19,107.88" fill="#5a86cc"/>
<polygon points="107.66,110.42 110.46,110.42 109.06,107.98" fill="#5a86cc"/>
<polygon points="115.53,110.82 118.33,110.82 116.93,108.38" fill="#5a86cc"/>
<polygon points="123.40,109.22 126.20,109.22 124.80,106.78" fill="#5a86cc"/>
<polygon points="131.27,112.97 134.07,112.97 132.67,110.53" fill="#5a86cc"/>
<polygon points="139.14,116.72 141.94,116.72 140.54,114.28" fill="#5a86cc"/>
<polygon points="147.01,119.72 149.81,119.72 148.41,117.28" fill="#5a86cc"/>
<polygon points="154.88,122.72 157.68,122.72 156.28,120.28" fill="#5a86cc"/>
<polygon points="162.75,125.22 165.55,125.22 164.15,122.78" fill="#5a86cc"/>
<polygon points="170.62,127.72 173.42,127.72 172.02,125.28" fill="#5a86cc"/>
<polygon points="178.49,129.72 181.29,129.72 179.89,127.28" fill="#5a86cc"/>
<polygon points="186.36,131.72 189.16,131.72 187.76,129.28" fill="#5a86cc"/>
<polygon points="194.23,133.22 197.03,133.22 195.63,130.78" fill="#5a86cc"/>
<polygon points="202.10,134.72 204.90,134.72 203.50,132.28" fill="#5a86cc"/>
<line x1="46.10" y1="116.80" x2="46.10" y2="124.80" stroke="#6b98d8" stroke-width="0.55" opacity="0.60"/>
<line x1="44.80" y1="116.80" x2="47.40" y2="116.80" stroke="#6b98d8" stroke-width="0.55" opacity="0.60"/>
<line x1="44.80" y1="124.80" x2="47.40" y2="124.80" stroke="#6b98d8" stroke-width="0.55" opacity="0.80"/>
<line x1="53.97" y1="115.04" x2="53.97" y2="123.24" stroke="#6b98d8" stroke-width="0.55" opacity="0.60"/>
<line x1="52.67" y1="115.04" x2="55.27" y2="115.04" stroke="#6b98d8" stroke-width="0.55" opacity="0.60"/>
<line x1="52.67" y1="123.24" x2="55.27" y2="123.24" stroke="#6b98d8" stroke-width="0.55" opacity="0.80"/>
<line x1="61.84" y1="113.28" x2="61.84" y2="121.68" stroke="#6b98d8" stroke-width="0.55" opacity="0.60"/>
<line x1="60.54" y1="113.28" x2="63.14" y2="113.28" stroke="#6b98d8" stroke-width="0.55" opacity="0.60"/>
<line x1="60.54" y1="121.68" x2="63.14" y2="121.68" stroke="#6b98d8" stroke-width="0.55" opacity="0.80"/>
<line x1="69.71" y1="111.52" x2="69.71" y2="120.12" stroke="#6b98d8" stroke-width="0.55" opacity="0.60"/>
<line x1="68.41" y1="111.52" x2="71.01" y2="111.52" stroke="#6b98d8" stroke-width="0.55" opacity="0.60"/>
<line x1="68.41" y1="120.12" x2="71.01" y2="120.12" stroke="#6b98d8" stroke-width="0.55" opacity="0.80"/>
<line x1="77.58" y1="109.76" x2="77.58" y2="118.56" stroke="#6b98d8" stroke-width="0.55" opacity="0.60"/>
<line x1="76.28" y1="109.76" x2="78.88" y2="109.76" stroke="#6b98d8" stroke-width="0.55" opacity="0.60"/>
<line x1="76.28" y1="118.56" x2="78.88" y2="118.56" stroke="#6b98d8" stroke-width="0.55" opacity="0.80"/>
<line x1="85.45" y1="108.00" x2="85.45" y2="117.00" stroke="#6b98d8" stroke-width="0.55" opacity="0.60"/>
<line x1="84.15" y1="108.00" x2="86.75" y2="108.00" stroke="#6b98d8" stroke-width="0.55" opacity="0.60"/>
<line x1="84.15" y1="117.00" x2="86.75" y2="117.00" stroke="#6b98d8" stroke-width="0.55" opacity="0.80"/>
<line x1="93.32" y1="107.40" x2="93.32" y2="116.60" stroke="#6b98d8" stroke-width="0.55" opacity="0.60"/>
<line x1="92.02" y1="107.40" x2="94.62" y2="107.40" stroke="#6b98d8" stroke-width="0.55" opacity="0.60"/>
<line x1="92.02" y1="116.60" x2="94.62" y2="116.60" stroke="#6b98d8" stroke-width="0.55" opacity="0.80"/>
<line x1="101.19" y1="106.80" x2="101.19" y2="116.20" stroke="#6b98d8" stroke-width="0.55" opacity="0.60"/>
<line x1="99.89" y1="106.80" x2="102.49" y2="106.80" stroke="#6b98d8" stroke-width="0.55" opacity="0.60"/>
<line x1="99.89" y1="116.20" x2="102.49" y2="116.20" stroke="#6b98d8" stroke-width="0.55" opacity="0.80"/>
<line x1="109.06" y1="106.20" x2="109.06" y2="115.80" stroke="#6b98d8" stroke-width="0.55" opacity="0.60"/>
<line x1="107.76" y1="106.20" x2="110.36" y2="106.20" stroke="#6b98d8" stroke-width="0.55" opacity="0.60"/>
<line x1="107.76" y1="115.80" x2="110.36" y2="115.80" stroke="#6b98d8" stroke-width="0.55" opacity="0.80"/>
<line x1="116.93" y1="105.60" x2="116.93" y2="115.40" stroke="#6b98d8" stroke-width="0.55" opacity="0.60"/>
<line x1="115.63" y1="105.60" x2="118.23" y2="105.60" stroke="#6b98d8" stroke-width="0.55" opacity="0.60"/>
<line x1="115.63" y1="115.40" x2="118.23" y2="115.40" stroke="#6b98d8" stroke-width="0.55" opacity="0.80"/>
<line x1="124.80" y1="105.00" x2="124.80" y2="115.00" stroke="#6b98d8" stroke-width="0.55" opacity="0.60"/>
<line x1="123.50" y1="105.00" x2="126.10" y2="105.00" stroke="#6b98d8" stroke-width="0.55" opacity="0.60"/>
<line x1="123.50" y1="115.00" x2="126.10" y2="115.00" stroke="#6b98d8" stroke-width="0.55" opacity="0.80"/>
<line x1="132.67" y1="107.00" x2="132.67" y2="117.80" stroke="#6b98d8" stroke-width="0.55" opacity="0.60"/>
<line x1="131.37" y1="107.00" x2="133.97" y2="107.00" stroke="#6b98d8" stroke-width="0.55" opacity="0.60"/>
<line x1="131.37" y1="117.80" x2="133.97" y2="117.80" stroke="#6b98d8" stroke-width="0.55" opacity="0.80"/>
<line x1="140.54" y1="105.60" x2="140.54" y2="117.20" stroke="#6b98d8" stroke-width="0.55" opacity="0.60"/>
<line x1="139.24" y1="105.60" x2="141.84" y2="105.60" stroke="#6b98d8" stroke-width="0.55" opacity="0.60"/>
<line x1="139.24" y1="117.20" x2="141.84" y2="117.20" stroke="#6b98d8" stroke-width="0.55" opacity="0.80"/>
<line x1="148.41" y1="104.80" x2="148.41" y2="117.20" stroke="#6b98d8" stroke-width="0.55" opacity="0.60"/>
<line x1="147.11" y1="104.80" x2="149.71" y2="104.80" stroke="#6b98d8" stroke-width="0.55" opacity="0.60"/>
<line x1="147.11" y1="117.20" x2="149.71" y2="117.20" stroke="#6b98d8" stroke-width="0.55" opacity="0.80"/>
<line x1="156.28" y1="103.00" x2="156.28" y2="116.20" stroke="#6b98d8" stroke-width="0.55" opacity="0.60"/>
<line x1="154.98" y1="103.00" x2="157.58" y2="103.00" stroke="#6b98d8" stroke-width="0.55" opacity="0.60"/>
<line x1="154.98" y1="116.20" x2="157.58" y2="116.20" stroke="#6b98d8" stroke-width="0.55" opacity="0.80"/>
<line x1="164.15" y1="100.70" x2="164.15" y2="114.70" stroke="#6b98d8" stroke-width="0.55" opacity="0.60"/>
<line x1="162.85" y1="100.70" x2="165.45" y2="100.70" stroke="#6b98d8" stroke-width="0.55" opacity="0.60"/>
<line x1="162.85" y1="114.70" x2="165.45" y2="114.70" stroke="#6b98d8" stroke-width="0.55" opacity="0.80"/>
<line x1="172.02" y1="98.50" x2="172.02" y2="113.70" stroke="#6b98d8" stroke-width="0.55" opacity="0.60"/>
<line x1="170.72" y1="98.50" x2="173.32" y2="98.50" stroke="#6b98d8" stroke-width="0.55" opacity="0.60"/>
<line x1="170.72" y1="113.70" x2="173.32" y2="113.70" stroke="#6b98d8" stroke-width="0.55" opacity="0.80"/>
<line x1="179.89" y1="96.60" x2="179.89" y2="113.00" stroke="#6b98d8" stroke-width="0.55" opacity="0.60"/>
<line x1="178.59" y1="96.60" x2="181.19" y2="96.60" stroke="#6b98d8" stroke-width="0.55" opacity="0.60"/>
<line x1="178.59" y1="113.00" x2="181.19" y2="113.00" stroke="#6b98d8" stroke-width="0.55" opacity="0.80"/>
<line x1="187.76" y1="94.40" x2="187.76" y2="112.00" stroke="#6b98d8" stroke-width="0.55" opacity="0.60"/>
<line x1="186.46" y1="94.40" x2="189.06" y2="94.40" stroke="#6b98d8" stroke-width="0.55" opacity="0.60"/>
<line x1="186.46" y1="112.00" x2="189.06" y2="112.00" stroke="#6b98d8" stroke-width="0.55" opacity="0.80"/>
<line x1="195.63" y1="92.30" x2="195.63" y2="111.10" stroke="#6b98d8" stroke-width="0.55" opacity="0.60"/>
<line x1="194.33" y1="92.30" x2="196.93" y2="92.30" stroke="#6b98d8" stroke-width="0.55" opacity="0.60"/>
<line x1="194.33" y1="111.10" x2="196.93" y2="111.10" stroke="#6b98d8" stroke-width="0.55" opacity="0.80"/>
<line x1="203.50" y1="89.70" x2="203.50" y2="109.70" stroke="#6b98d8" stroke-width="0.55" opacity="0.60"/>
<line x1="202.20" y1="89.70" x2="204.80" y2="89.70" stroke="#6b98d8" stroke-width="0.55" opacity="0.60"/>
<line x1="202.20" y1="109.70" x2="204.80" y2="109.70" stroke="#6b98d8" stroke-width="0.55" opacity="0.80"/>
<polyline points="46.10,120.80 53.97,119.14 61.84,117.48 69.71,115.82 77.58,114.16 85.45,112.50 93.32,112.00 101.19,111.50 109.06,111.00 116.93,110.50 124.80,110.00 132.67,112.40 140.54,111.40 148.41,111.00 156.28,109.60 164.15,107.70 172.02,106.10 179.89,104.80 187.76,103.20 195.63,101.70 203.50,99.70" fill="none" stroke="#6b98d8" stroke-width="0.80"/>
<polygon points="44.70,122.02 47.50,122.02 46.10,119.58" fill="#6b98d8"/>
<polygon points="52.57,120.36 55.37,120.36 53.97,117.92" fill="#6b98d8"/>
<polygon points="60.44,118.70 63.24,118.70 61.84,116.26" fill="#6b98d8"/>
<polygon points="68.31,117.04 71.11,117.04 69.71,114.60" fill="#6b98d8"/>
<polygon points="76.18,115.38 78.98,115.38 77.58,112.94" fill="#6b98d8"/>
<polygon points="84.05,113.72 86.85,113.72 85.45,111.28" fill="#6b98d8"/>
<polygon points="91.92,113.22 94.72,113.22 93.32,110.78" fill="#6b98d8"/>
<polygon points="99.79,112.72 102.59,112.72 101.19,110.28" fill="#6b98d8"/>
<polygon points="107.66,112.22 110.46,112.22 109.06,109.78" fill="#6b98d8"/>
<polygon points="115.53,111.72 118.33,111.72 116.93,109.28" fill="#6b98d8"/>
<polygon points="123.40,111.22 126.20,111.22 124.80,108.78" fill="#6b98d8"/>
<polygon points="131.27,113.62 134.07,113.62 132.67,111.18" fill="#6b98d8"/>
<polygon points="139.14,112.62 141.94,112.62 140.54,110.18" fill="#6b98d8"/>
<polygon points="147.01,112.22 149.81,112.22 148.41,109.78" fill="#6b98d8"/>
<polygon points="154.88,110.82 157.68,110.82 156.28,108.38" fill="#6b98d8"/>
<polygon points="162.75,108.92 165.55,108.92 164.15,106.48" fill="#6b98d8"/>
<polygon points="170.62,107.32 173.42,107.32 172.02,104.88" fill="#6b98d8"/>
<polygon points="178.49,106.02 181.29,106.02 179.89,103.58" fill="#6b98d8"/>
<polygon points="186.36,104.42 189.16,104.42 187.76,101.98" fill="#6b98d8"/>
<polygon points="194.23,102.92 197.03,102.92 195.63,100.48" fill="#6b98d8"/>
<polygon points="202.10,100.92 204.90,100.92 203.50,98.48" fill="#6b98d8"/>
<line x1="46.10" y1="123.00" x2="46.10" y2="132.00" stroke="#333" stroke-width="0.55" opacity="0.60"/>
<line x1="44.80" y1="123.00" x2="47.40" y2="123.00" stroke="#333" stroke-width="0.55" opacity="0.60"/>
<line x1="44.80" y1="132.00" x2="47.40" y2="132.00" stroke="#333" stroke-width="0.55" opacity="0.80"/>
<line x1="53.97" y1="122.40" x2="53.97" y2="131.40" stroke="#333" stroke-width="0.55" opacity="0.60"/>
<line x1="52.67" y1="122.40" x2="55.27" y2="122.40" stroke="#333" stroke-width="0.55" opacity="0.60"/>
<line x1="52.67" y1="131.40" x2="55.27" y2="131.40" stroke="#333" stroke-width="0.55" opacity="0.80"/>
<line x1="61.84" y1="121.00" x2="61.84" y2="130.00" stroke="#333" stroke-width="0.55" opacity="0.60"/>
<line x1="60.54" y1="121.00" x2="63.14" y2="121.00" stroke="#333" stroke-width="0.55" opacity="0.60"/>
<line x1="60.54" y1="130.00" x2="63.14" y2="130.00" stroke="#333" stroke-width="0.55" opacity="0.80"/>
<line x1="69.71" y1="119.50" x2="69.71" y2="128.50" stroke="#333" stroke-width="0.55" opacity="0.60"/>
<line x1="68.41" y1="119.50" x2="71.01" y2="119.50" stroke="#333" stroke-width="0.55" opacity="0.60"/>
<line x1="68.41" y1="128.50" x2="71.01" y2="128.50" stroke="#333" stroke-width="0.55" opacity="0.80"/>
<line x1="77.58" y1="117.70" x2="77.58" y2="126.70" stroke="#333" stroke-width="0.55" opacity="0.60"/>
<line x1="76.28" y1="117.70" x2="78.88" y2="117.70" stroke="#333" stroke-width="0.55" opacity="0.60"/>
<line x1="76.28" y1="126.70" x2="78.88" y2="126.70" stroke="#333" stroke-width="0.55" opacity="0.80"/>
<line x1="85.45" y1="116.20" x2="85.45" y2="125.20" stroke="#333" stroke-width="0.55" opacity="0.60"/>
<line x1="84.15" y1="116.20" x2="86.75" y2="116.20" stroke="#333" stroke-width="0.55" opacity="0.60"/>
<line x1="84.15" y1="125.20" x2="86.75" y2="125.20" stroke="#333" stroke-width="0.55" opacity="0.80"/>
<line x1="93.32" y1="115.20" x2="93.32" y2="124.20" stroke="#333" stroke-width="0.55" opacity="0.60"/>
<line x1="92.02" y1="115.20" x2="94.62" y2="115.20" stroke="#333" stroke-width="0.55" opacity="0.60"/>
<line x1="92.02" y1="124.20" x2="94.62" y2="124.20" stroke="#333" stroke-width="0.55" opacity="0.80"/>
<line x1="101.19" y1="114.80" x2="101.19" y2="123.80" stroke="#333" stroke-width="0.55" opacity="0.60"/>
<line x1="99.89" y1="114.80" x2="102.49" y2="114.80" stroke="#333" stroke-width="0.55" opacity="0.60"/>
<line x1="99.89" y1="123.80" x2="102.49" y2="123.80" stroke="#333" stroke-width="0.55" opacity="0.80"/>
<line x1="109.06" y1="114.60" x2="109.06" y2="123.60" stroke="#333" stroke-width="0.55" opacity="0.60"/>
<line x1="107.76" y1="114.60" x2="110.36" y2="114.60" stroke="#333" stroke-width="0.55" opacity="0.60"/>
<line x1="107.76" y1="123.60" x2="110.36" y2="123.60" stroke="#333" stroke-width="0.55" opacity="0.80"/>
<line x1="116.93" y1="114.60" x2="116.93" y2="123.60" stroke="#333" stroke-width="0.55" opacity="0.60"/>
<line x1="115.63" y1="114.60" x2="118.23" y2="114.60" stroke="#333" stroke-width="0.55" opacity="0.60"/>
<line x1="115.63" y1="123.60" x2="118.23" y2="123.60" stroke="#333" stroke-width="0.55" opacity="0.80"/>
<line x1="124.80" y1="114.90" x2="124.80" y2="123.90" stroke="#333" stroke-width="0.55" opacity="0.60"/>
<line x1="123.50" y1="114.90" x2="126.10" y2="114.90" stroke="#333" stroke-width="0.55" opacity="0.60"/>
<line x1="123.50" y1="123.90" x2="126.10" y2="123.90" stroke="#333" stroke-width="0.55" opacity="0.80"/>
<line x1="132.67" y1="117.80" x2="132.67" y2="126.80" stroke="#333" stroke-width="0.55" opacity="0.60"/>
<line x1="131.37" y1="117.80" x2="133.97" y2="117.80" stroke="#333" stroke-width="0.55" opacity="0.60"/>
<line x1="131.37" y1="126.80" x2="133.97" y2="126.80" stroke="#333" stroke-width="0.55" opacity="0.80"/>
<line x1="140.54" y1="119.50" x2="140.54" y2="128.50" stroke="#333" stroke-width="0.55" opacity="0.60"/>
<line x1="139.24" y1="119.50" x2="141.84" y2="119.50" stroke="#333" stroke-width="0.55" opacity="0.60"/>
<line x1="139.24" y1="128.50" x2="141.84" y2="128.50" stroke="#333" stroke-width="0.55" opacity="0.80"/>
<line x1="148.41" y1="122.60" x2="148.41" y2="131.60" stroke="#333" stroke-width="0.55" opacity="0.60"/>
<line x1="147.11" y1="122.60" x2="149.71" y2="122.60" stroke="#333" stroke-width="0.55" opacity="0.60"/>
<line x1="147.11" y1="131.60" x2="149.71" y2="131.60" stroke="#333" stroke-width="0.55" opacity="0.80"/>
<line x1="156.28" y1="125.00" x2="156.28" y2="134.00" stroke="#333" stroke-width="0.55" opacity="0.60"/>
<line x1="154.98" y1="125.00" x2="157.58" y2="125.00" stroke="#333" stroke-width="0.55" opacity="0.60"/>
<line x1="154.98" y1="134.00" x2="157.58" y2="134.00" stroke="#333" stroke-width="0.55" opacity="0.80"/>
<line x1="164.15" y1="127.30" x2="164.15" y2="136.30" stroke="#333" stroke-width="0.55" opacity="0.60"/>
<line x1="162.85" y1="127.30" x2="165.45" y2="127.30" stroke="#333" stroke-width="0.55" opacity="0.60"/>
<line x1="162.85" y1="136.30" x2="165.45" y2="136.30" stroke="#333" stroke-width="0.55" opacity="0.80"/>
<line x1="172.02" y1="128.50" x2="172.02" y2="137.50" stroke="#333" stroke-width="0.55" opacity="0.60"/>
<line x1="170.72" y1="128.50" x2="173.32" y2="128.50" stroke="#333" stroke-width="0.55" opacity="0.60"/>
<line x1="170.72" y1="137.50" x2="173.32" y2="137.50" stroke="#333" stroke-width="0.55" opacity="0.80"/>
<line x1="179.89" y1="129.80" x2="179.89" y2="138.80" stroke="#333" stroke-width="0.55" opacity="0.60"/>
<line x1="178.59" y1="129.80" x2="181.19" y2="129.80" stroke="#333" stroke-width="0.55" opacity="0.60"/>
<line x1="178.59" y1="138.80" x2="181.19" y2="138.80" stroke="#333" stroke-width="0.55" opacity="0.80"/>
<line x1="187.76" y1="130.80" x2="187.76" y2="139.80" stroke="#333" stroke-width="0.55" opacity="0.60"/>
<line x1="186.46" y1="130.80" x2="189.06" y2="130.80" stroke="#333" stroke-width="0.55" opacity="0.60"/>
<line x1="186.46" y1="139.80" x2="189.06" y2="139.80" stroke="#333" stroke-width="0.55" opacity="0.80"/>
<line x1="195.63" y1="132.40" x2="195.63" y2="141.40" stroke="#333" stroke-width="0.55" opacity="0.60"/>
<line x1="194.33" y1="132.40" x2="196.93" y2="132.40" stroke="#333" stroke-width="0.55" opacity="0.60"/>
<line x1="194.33" y1="141.40" x2="196.93" y2="141.40" stroke="#333" stroke-width="0.55" opacity="0.80"/>
<line x1="203.50" y1="133.70" x2="203.50" y2="142.70" stroke="#333" stroke-width="0.55" opacity="0.60"/>
<line x1="202.20" y1="133.70" x2="204.80" y2="133.70" stroke="#333" stroke-width="0.55" opacity="0.60"/>
<line x1="202.20" y1="142.70" x2="204.80" y2="142.70" stroke="#333" stroke-width="0.55" opacity="0.80"/>
<polyline points="46.10,127.50 53.97,126.90 61.84,125.50 69.71,124.00 77.58,122.20 85.45,120.70 93.32,119.70 101.19,119.30 109.06,119.10 116.93,119.10 124.80,119.40 132.67,122.30 140.54,124.00 148.41,127.10 156.28,129.50 164.15,131.80 172.02,133.00 179.89,134.30 187.76,135.30 195.63,136.90 203.50,138.20" fill="none" stroke="#1a1a1a" stroke-width="0.80"/>
<polygon points="44.70,128.72 47.50,128.72 46.10,126.28" fill="#1a1a1a"/>
<polygon points="52.57,128.12 55.37,128.12 53.97,125.68" fill="#1a1a1a"/>
<polygon points="60.44,126.72 63.24,126.72 61.84,124.28" fill="#1a1a1a"/>
<polygon points="68.31,125.22 71.11,125.22 69.71,122.78" fill="#1a1a1a"/>
<polygon points="76.18,123.42 78.98,123.42 77.58,120.98" fill="#1a1a1a"/>
<polygon points="84.05,121.92 86.85,121.92 85.45,119.48" fill="#1a1a1a"/>
<polygon points="91.92,120.92 94.72,120.92 93.32,118.48" fill="#1a1a1a"/>
<polygon points="99.79,120.52 102.59,120.52 101.19,118.08" fill="#1a1a1a"/>
<polygon points="107.66,120.32 110.46,120.32 109.06,117.88" fill="#1a1a1a"/>
<polygon points="115.53,120.32 118.33,120.32 116.93,117.88" fill="#1a1a1a"/>
<polygon points="123.40,120.62 126.20,120.62 124.80,118.18" fill="#1a1a1a"/>
<polygon points="131.27,123.52 134.07,123.52 132.67,121.08" fill="#1a1a1a"/>
<polygon points="139.14,125.22 141.94,125.22 140.54,122.78" fill="#1a1a1a"/>
<polygon points="147.01,128.32 149.81,128.32 148.41,125.88" fill="#1a1a1a"/>
<polygon points="154.88,130.72 157.68,130.72 156.28,128.28" fill="#1a1a1a"/>
<polygon points="162.75,133.02 165.55,133.02 164.15,130.58" fill="#1a1a1a"/>
<polygon points="170.62,134.22 173.42,134.22 172.02,131.78" fill="#1a1a1a"/>
<polygon points="178.49,135.52 181.29,135.52 179.89,133.08" fill="#1a1a1a"/>
<polygon points="186.36,136.52 189.16,136.52 187.76,134.08" fill="#1a1a1a"/>
<polygon points="194.23,138.12 197.03,138.12 195.63,135.68" fill="#1a1a1a"/>
<polygon points="202.10,139.42 204.90,139.42 203.50,136.98" fill="#1a1a1a"/>
<text x="123.60" y="86.00" font-size="7.00" text-anchor="middle" fill="#303030" font-weight="normal" >DROP-CAR</text>
<line x1="124.50" y1="89.50" x2="124.50" y2="97.30" stroke="#1a1a1a" stroke-width="0.90" />
<polygon points="122.50,96.60 126.50,96.60 124.50,99.80" fill="#1a1a1a"/>
<line x1="48.00" y1="102.00" x2="48.00" y2="110.00" stroke="#1a1a1a" stroke-width="0.90" />
<polygon points="46.00,109.30 50.00,109.30 48.00,112.50" fill="#1a1a1a"/>
<line x1="214.70" y1="85.70" x2="223.00" y2="85.70" stroke="#1a1a1a" stroke-width="0.90" />
<polygon points="222.30,83.70 222.30,87.70 225.50,85.70" fill="#1a1a1a"/>
<text x="229.20" y="87.90" font-size="6.30" text-anchor="start" fill="#303030" font-weight="normal" >Drug admin</text>
<line x1="217.20" y1="95.70" x2="225.50" y2="95.70" stroke="#4f7fc8" stroke-width="0.80" />
<polygon points="220.00,96.92 222.80,96.92 221.40,94.48" fill="#4f7fc8"/>
<text x="229.20" y="97.80" font-size="6.10" text-anchor="start" fill="#303030" font-weight="normal" >DROP 2.5 μM vene</text>
<line x1="217.20" y1="121.50" x2="225.50" y2="121.50" stroke="#86ade0" stroke-width="0.80" />
<polygon points="220.00,122.72 222.80,122.72 221.40,120.28" fill="#86ade0"/>
<text x="229.20" y="123.60" font-size="6.10" text-anchor="start" fill="#303030" font-weight="normal" >DROP 1 μM Len</text>
<line x1="217.20" y1="127.70" x2="225.50" y2="127.70" stroke="#b9d1ef" stroke-width="0.80" />
<polygon points="220.00,128.92 222.80,128.92 221.40,126.48" fill="#b9d1ef"/>
<text x="229.20" y="129.80" font-size="6.10" text-anchor="start" fill="#303030" font-weight="normal" >DROP 5 μM Len</text>
<line x1="217.20" y1="135.40" x2="225.50" y2="135.40" stroke="#3c63ac" stroke-width="0.80" />
<polygon points="220.00,136.62 222.80,136.62 221.40,134.18" fill="#3c63ac"/>
<text x="229.20" y="137.50" font-size="6.10" text-anchor="start" fill="#303030" font-weight="normal" >DROP 50 μM Len</text>
<line x1="217.20" y1="142.10" x2="225.50" y2="142.10" stroke="#5a86cc" stroke-width="0.80" />
<polygon points="220.00,143.32 222.80,143.32 221.40,140.88" fill="#5a86cc"/>
<text x="229.20" y="144.20" font-size="6.10" text-anchor="start" fill="#303030" font-weight="normal" >DROP 100 μM Len</text>
<line x1="217.20" y1="149.90" x2="225.50" y2="149.90" stroke="#1a1a1a" stroke-width="0.80" />
<polygon points="220.00,151.12 222.80,151.12 221.40,148.68" fill="#1a1a1a"/>
<text x="229.20" y="152.00" font-size="6.10" text-anchor="start" fill="#303030" font-weight="normal" >DROP DMSO</text>
<line x1="207.80" y1="99.20" x2="207.80" y2="139.30" stroke="#9a9a9a" stroke-width="0.90" />
<path d="M210.80 120.00L210.80 123.40M209.33 120.85L212.27 122.55M209.33 122.55L212.27 120.85" stroke="#333333" stroke-width="1.00"/>
<line x1="41.00" y1="182.30" x2="41.00" y2="254.60" stroke="#a2a2a2" stroke-width="1.15" />
<line x1="40.50" y1="254.60" x2="211.90" y2="254.60" stroke="#9a9a9a" stroke-width="1.10" />
<line x1="38.00" y1="254.60" x2="40.70" y2="254.60" stroke="#555" stroke-width="0.90" />
<text x="35.60" y="256.90" font-size="6.00" text-anchor="end" fill="#303030" font-weight="normal" >0</text>
<line x1="38.00" y1="230.50" x2="40.70" y2="230.50" stroke="#555" stroke-width="0.90" />
<text x="35.60" y="232.80" font-size="6.00" text-anchor="end" fill="#303030" font-weight="normal" >5 × 10<tspan font-size="4.3" dy="-2.7">4</tspan></text>
<line x1="38.00" y1="206.40" x2="40.70" y2="206.40" stroke="#555" stroke-width="0.90" />
<text x="35.60" y="208.70" font-size="6.00" text-anchor="end" fill="#303030" font-weight="normal" >1 × 10<tspan font-size="4.3" dy="-2.7">5</tspan></text>
<line x1="38.00" y1="182.30" x2="40.70" y2="182.30" stroke="#555" stroke-width="0.90" />
<text x="35.60" y="184.60" font-size="6.00" text-anchor="end" fill="#303030" font-weight="normal" >1.5 × 10<tspan font-size="4.3" dy="-2.7">5</tspan></text>
<line x1="46.20" y1="255.10" x2="46.20" y2="258.20" stroke="#6a6a6a" stroke-width="0.80" />
<text x="49.10" y="264.40" font-size="6.40" text-anchor="end" fill="#303030" font-weight="normal" transform="rotate(-45 49.1 264.4)" >0</text>
<line x1="54.20" y1="255.10" x2="54.20" y2="258.20" stroke="#6a6a6a" stroke-width="0.80" />
<text x="57.10" y="264.40" font-size="6.40" text-anchor="end" fill="#303030" font-weight="normal" transform="rotate(-45 57.1 264.4)" >2</text>
<line x1="62.20" y1="255.10" x2="62.20" y2="258.20" stroke="#6a6a6a" stroke-width="0.80" />
<text x="65.10" y="264.40" font-size="6.40" text-anchor="end" fill="#303030" font-weight="normal" transform="rotate(-45 65.1 264.4)" >4</text>
<line x1="70.20" y1="255.10" x2="70.20" y2="258.20" stroke="#6a6a6a" stroke-width="0.80" />
<text x="73.10" y="264.40" font-size="6.40" text-anchor="end" fill="#303030" font-weight="normal" transform="rotate(-45 73.1 264.4)" >6</text>
<line x1="78.20" y1="255.10" x2="78.20" y2="258.20" stroke="#6a6a6a" stroke-width="0.80" />
<text x="81.10" y="264.40" font-size="6.40" text-anchor="end" fill="#303030" font-weight="normal" transform="rotate(-45 81.1 264.4)" >8</text>
<line x1="86.20" y1="255.10" x2="86.20" y2="258.20" stroke="#6a6a6a" stroke-width="0.80" />
<text x="89.10" y="264.40" font-size="6.40" text-anchor="end" fill="#303030" font-weight="normal" transform="rotate(-45 89.1 264.4)" >10</text>
<line x1="94.20" y1="255.10" x2="94.20" y2="258.20" stroke="#6a6a6a" stroke-width="0.80" />
<text x="97.10" y="264.40" font-size="6.40" text-anchor="end" fill="#303030" font-weight="normal" transform="rotate(-45 97.1 264.4)" >12</text>
<line x1="102.20" y1="255.10" x2="102.20" y2="258.20" stroke="#6a6a6a" stroke-width="0.80" />
<text x="105.10" y="264.40" font-size="6.40" text-anchor="end" fill="#303030" font-weight="normal" transform="rotate(-45 105.1 264.4)" >14</text>
<line x1="110.20" y1="255.10" x2="110.20" y2="258.20" stroke="#6a6a6a" stroke-width="0.80" />
<text x="113.10" y="264.40" font-size="6.40" text-anchor="end" fill="#303030" font-weight="normal" transform="rotate(-45 113.1 264.4)" >16</text>
<line x1="118.20" y1="255.10" x2="118.20" y2="258.20" stroke="#6a6a6a" stroke-width="0.80" />
<text x="121.10" y="264.40" font-size="6.40" text-anchor="end" fill="#303030" font-weight="normal" transform="rotate(-45 121.1 264.4)" >18</text>
<line x1="126.20" y1="255.10" x2="126.20" y2="258.20" stroke="#6a6a6a" stroke-width="0.80" />
<text x="129.10" y="264.40" font-size="6.40" text-anchor="end" fill="#303030" font-weight="normal" transform="rotate(-45 129.1 264.4)" >20</text>
<line x1="134.20" y1="255.10" x2="134.20" y2="258.20" stroke="#6a6a6a" stroke-width="0.80" />
<text x="137.10" y="264.40" font-size="6.40" text-anchor="end" fill="#303030" font-weight="normal" transform="rotate(-45 137.1 264.4)" >22</text>
<line x1="142.20" y1="255.10" x2="142.20" y2="258.20" stroke="#6a6a6a" stroke-width="0.80" />
<text x="145.10" y="264.40" font-size="6.40" text-anchor="end" fill="#303030" font-weight="normal" transform="rotate(-45 145.1 264.4)" >24</text>
<line x1="150.20" y1="255.10" x2="150.20" y2="258.20" stroke="#6a6a6a" stroke-width="0.80" />
<text x="153.10" y="264.40" font-size="6.40" text-anchor="end" fill="#303030" font-weight="normal" transform="rotate(-45 153.1 264.4)" >26</text>
<line x1="158.20" y1="255.10" x2="158.20" y2="258.20" stroke="#6a6a6a" stroke-width="0.80" />
<text x="161.10" y="264.40" font-size="6.40" text-anchor="end" fill="#303030" font-weight="normal" transform="rotate(-45 161.1 264.4)" >28</text>
<line x1="166.20" y1="255.10" x2="166.20" y2="258.20" stroke="#6a6a6a" stroke-width="0.80" />
<text x="169.10" y="264.40" font-size="6.40" text-anchor="end" fill="#303030" font-weight="normal" transform="rotate(-45 169.1 264.4)" >30</text>
<line x1="174.20" y1="255.10" x2="174.20" y2="258.20" stroke="#6a6a6a" stroke-width="0.80" />
<text x="177.10" y="264.40" font-size="6.40" text-anchor="end" fill="#303030" font-weight="normal" transform="rotate(-45 177.1 264.4)" >32</text>
<line x1="182.20" y1="255.10" x2="182.20" y2="258.20" stroke="#6a6a6a" stroke-width="0.80" />
<text x="185.10" y="264.40" font-size="6.40" text-anchor="end" fill="#303030" font-weight="normal" transform="rotate(-45 185.1 264.4)" >34</text>
<line x1="190.20" y1="255.10" x2="190.20" y2="258.20" stroke="#6a6a6a" stroke-width="0.80" />
<text x="193.10" y="264.40" font-size="6.40" text-anchor="end" fill="#303030" font-weight="normal" transform="rotate(-45 193.1 264.4)" >36</text>
<line x1="198.20" y1="255.10" x2="198.20" y2="258.20" stroke="#6a6a6a" stroke-width="0.80" />
<text x="201.10" y="264.40" font-size="6.40" text-anchor="end" fill="#303030" font-weight="normal" transform="rotate(-45 201.1 264.4)" >38</text>
<line x1="206.20" y1="255.10" x2="206.20" y2="258.20" stroke="#6a6a6a" stroke-width="0.80" />
<text x="209.10" y="264.40" font-size="6.40" text-anchor="end" fill="#303030" font-weight="normal" transform="rotate(-45 209.1 264.4)" >40</text>
<line x1="46.20" y1="218.90" x2="46.20" y2="229.90" stroke="#f9cfa8" stroke-width="0.55" opacity="0.68"/>
<line x1="44.90" y1="218.90" x2="47.50" y2="218.90" stroke="#f9cfa8" stroke-width="0.55" opacity="0.68"/>
<line x1="44.90" y1="229.90" x2="47.50" y2="229.90" stroke="#f9cfa8" stroke-width="0.55" opacity="0.90"/>
<line x1="54.20" y1="217.60" x2="54.20" y2="228.60" stroke="#f9cfa8" stroke-width="0.55" opacity="0.68"/>
<line x1="52.90" y1="217.60" x2="55.50" y2="217.60" stroke="#f9cfa8" stroke-width="0.55" opacity="0.68"/>
<line x1="52.90" y1="228.60" x2="55.50" y2="228.60" stroke="#f9cfa8" stroke-width="0.55" opacity="0.90"/>
<line x1="62.20" y1="216.30" x2="62.20" y2="227.30" stroke="#f9cfa8" stroke-width="0.55" opacity="0.68"/>
<line x1="60.90" y1="216.30" x2="63.50" y2="216.30" stroke="#f9cfa8" stroke-width="0.55" opacity="0.68"/>
<line x1="60.90" y1="227.30" x2="63.50" y2="227.30" stroke="#f9cfa8" stroke-width="0.55" opacity="0.90"/>
<line x1="70.20" y1="215.00" x2="70.20" y2="226.00" stroke="#f9cfa8" stroke-width="0.55" opacity="0.68"/>
<line x1="68.90" y1="215.00" x2="71.50" y2="215.00" stroke="#f9cfa8" stroke-width="0.55" opacity="0.68"/>
<line x1="68.90" y1="226.00" x2="71.50" y2="226.00" stroke="#f9cfa8" stroke-width="0.55" opacity="0.90"/>
<line x1="78.20" y1="213.70" x2="78.20" y2="224.70" stroke="#f9cfa8" stroke-width="0.55" opacity="0.68"/>
<line x1="76.90" y1="213.70" x2="79.50" y2="213.70" stroke="#f9cfa8" stroke-width="0.55" opacity="0.68"/>
<line x1="76.90" y1="224.70" x2="79.50" y2="224.70" stroke="#f9cfa8" stroke-width="0.55" opacity="0.90"/>
<line x1="86.20" y1="212.40" x2="86.20" y2="223.40" stroke="#f9cfa8" stroke-width="0.55" opacity="0.68"/>
<line x1="84.90" y1="212.40" x2="87.50" y2="212.40" stroke="#f9cfa8" stroke-width="0.55" opacity="0.68"/>
<line x1="84.90" y1="223.40" x2="87.50" y2="223.40" stroke="#f9cfa8" stroke-width="0.55" opacity="0.90"/>
<line x1="94.20" y1="211.10" x2="94.20" y2="222.10" stroke="#f9cfa8" stroke-width="0.55" opacity="0.68"/>
<line x1="92.90" y1="211.10" x2="95.50" y2="211.10" stroke="#f9cfa8" stroke-width="0.55" opacity="0.68"/>
<line x1="92.90" y1="222.10" x2="95.50" y2="222.10" stroke="#f9cfa8" stroke-width="0.55" opacity="0.90"/>
<line x1="102.20" y1="209.80" x2="102.20" y2="220.80" stroke="#f9cfa8" stroke-width="0.55" opacity="0.68"/>
<line x1="100.90" y1="209.80" x2="103.50" y2="209.80" stroke="#f9cfa8" stroke-width="0.55" opacity="0.68"/>
<line x1="100.90" y1="220.80" x2="103.50" y2="220.80" stroke="#f9cfa8" stroke-width="0.55" opacity="0.90"/>
<line x1="110.20" y1="208.50" x2="110.20" y2="219.50" stroke="#f9cfa8" stroke-width="0.55" opacity="0.68"/>
<line x1="108.90" y1="208.50" x2="111.50" y2="208.50" stroke="#f9cfa8" stroke-width="0.55" opacity="0.68"/>
<line x1="108.90" y1="219.50" x2="111.50" y2="219.50" stroke="#f9cfa8" stroke-width="0.55" opacity="0.90"/>
<line x1="118.20" y1="207.40" x2="118.20" y2="218.40" stroke="#f9cfa8" stroke-width="0.55" opacity="0.68"/>
<line x1="116.90" y1="207.40" x2="119.50" y2="207.40" stroke="#f9cfa8" stroke-width="0.55" opacity="0.68"/>
<line x1="116.90" y1="218.40" x2="119.50" y2="218.40" stroke="#f9cfa8" stroke-width="0.55" opacity="0.90"/>
<line x1="126.20" y1="207.40" x2="126.20" y2="218.40" stroke="#f9cfa8" stroke-width="0.55" opacity="0.68"/>
<line x1="124.90" y1="207.40" x2="127.50" y2="207.40" stroke="#f9cfa8" stroke-width="0.55" opacity="0.68"/>
<line x1="124.90" y1="218.40" x2="127.50" y2="218.40" stroke="#f9cfa8" stroke-width="0.55" opacity="0.90"/>
<line x1="134.20" y1="208.00" x2="134.20" y2="219.00" stroke="#f9cfa8" stroke-width="0.55" opacity="0.68"/>
<line x1="132.90" y1="208.00" x2="135.50" y2="208.00" stroke="#f9cfa8" stroke-width="0.55" opacity="0.68"/>
<line x1="132.90" y1="219.00" x2="135.50" y2="219.00" stroke="#f9cfa8" stroke-width="0.55" opacity="0.90"/>
<line x1="142.20" y1="209.50" x2="142.20" y2="220.50" stroke="#f9cfa8" stroke-width="0.55" opacity="0.68"/>
<line x1="140.90" y1="209.50" x2="143.50" y2="209.50" stroke="#f9cfa8" stroke-width="0.55" opacity="0.68"/>
<line x1="140.90" y1="220.50" x2="143.50" y2="220.50" stroke="#f9cfa8" stroke-width="0.55" opacity="0.90"/>
<line x1="150.20" y1="212.90" x2="150.20" y2="223.90" stroke="#f9cfa8" stroke-width="0.55" opacity="0.68"/>
<line x1="148.90" y1="212.90" x2="151.50" y2="212.90" stroke="#f9cfa8" stroke-width="0.55" opacity="0.68"/>
<line x1="148.90" y1="223.90" x2="151.50" y2="223.90" stroke="#f9cfa8" stroke-width="0.55" opacity="0.90"/>
<line x1="158.20" y1="216.40" x2="158.20" y2="227.40" stroke="#f9cfa8" stroke-width="0.55" opacity="0.68"/>
<line x1="156.90" y1="216.40" x2="159.50" y2="216.40" stroke="#f9cfa8" stroke-width="0.55" opacity="0.68"/>
<line x1="156.90" y1="227.40" x2="159.50" y2="227.40" stroke="#f9cfa8" stroke-width="0.55" opacity="0.90"/>
<line x1="166.20" y1="219.70" x2="166.20" y2="230.70" stroke="#f9cfa8" stroke-width="0.55" opacity="0.68"/>
<line x1="164.90" y1="219.70" x2="167.50" y2="219.70" stroke="#f9cfa8" stroke-width="0.55" opacity="0.68"/>
<line x1="164.90" y1="230.70" x2="167.50" y2="230.70" stroke="#f9cfa8" stroke-width="0.55" opacity="0.90"/>
<line x1="174.20" y1="221.60" x2="174.20" y2="232.60" stroke="#f9cfa8" stroke-width="0.55" opacity="0.68"/>
<line x1="172.90" y1="221.60" x2="175.50" y2="221.60" stroke="#f9cfa8" stroke-width="0.55" opacity="0.68"/>
<line x1="172.90" y1="232.60" x2="175.50" y2="232.60" stroke="#f9cfa8" stroke-width="0.55" opacity="0.90"/>
<line x1="182.20" y1="223.50" x2="182.20" y2="234.50" stroke="#f9cfa8" stroke-width="0.55" opacity="0.68"/>
<line x1="180.90" y1="223.50" x2="183.50" y2="223.50" stroke="#f9cfa8" stroke-width="0.55" opacity="0.68"/>
<line x1="180.90" y1="234.50" x2="183.50" y2="234.50" stroke="#f9cfa8" stroke-width="0.55" opacity="0.90"/>
<line x1="190.20" y1="225.17" x2="190.20" y2="236.17" stroke="#f9cfa8" stroke-width="0.55" opacity="0.68"/>
<line x1="188.90" y1="225.17" x2="191.50" y2="225.17" stroke="#f9cfa8" stroke-width="0.55" opacity="0.68"/>
<line x1="188.90" y1="236.17" x2="191.50" y2="236.17" stroke="#f9cfa8" stroke-width="0.55" opacity="0.90"/>
<line x1="198.20" y1="226.83" x2="198.20" y2="237.83" stroke="#f9cfa8" stroke-width="0.55" opacity="0.68"/>
<line x1="196.90" y1="226.83" x2="199.50" y2="226.83" stroke="#f9cfa8" stroke-width="0.55" opacity="0.68"/>
<line x1="196.90" y1="237.83" x2="199.50" y2="237.83" stroke="#f9cfa8" stroke-width="0.55" opacity="0.90"/>
<line x1="206.20" y1="228.50" x2="206.20" y2="239.50" stroke="#f9cfa8" stroke-width="0.55" opacity="0.68"/>
<line x1="204.90" y1="228.50" x2="207.50" y2="228.50" stroke="#f9cfa8" stroke-width="0.55" opacity="0.68"/>
<line x1="204.90" y1="239.50" x2="207.50" y2="239.50" stroke="#f9cfa8" stroke-width="0.55" opacity="0.90"/>
<polyline points="46.20,224.40 54.20,223.10 62.20,221.80 70.20,220.50 78.20,219.20 86.20,217.90 94.20,216.60 102.20,215.30 110.20,214.00 118.20,212.90 126.20,212.90 134.20,213.50 142.20,215.00 150.20,218.40 158.20,221.90 166.20,225.20 174.20,227.10 182.20,229.00 190.20,230.67 198.20,232.33 206.20,234.00" fill="none" stroke="#f9cfa8" stroke-width="0.80"/>
<polygon points="44.80,223.18 47.60,223.18 46.20,225.62" fill="#f9cfa8"/>
<polygon points="52.80,221.88 55.60,221.88 54.20,224.32" fill="#f9cfa8"/>
<polygon points="60.80,220.58 63.60,220.58 62.20,223.02" fill="#f9cfa8"/>
<polygon points="68.80,219.28 71.60,219.28 70.20,221.72" fill="#f9cfa8"/>
<polygon points="76.80,217.98 79.60,217.98 78.20,220.42" fill="#f9cfa8"/>
<polygon points="84.80,216.68 87.60,216.68 86.20,219.12" fill="#f9cfa8"/>
<polygon points="92.80,215.38 95.60,215.38 94.20,217.82" fill="#f9cfa8"/>
<polygon points="100.80,214.08 103.60,214.08 102.20,216.52" fill="#f9cfa8"/>
<polygon points="108.80,212.78 111.60,212.78 110.20,215.22" fill="#f9cfa8"/>
<polygon points="116.80,211.68 119.60,211.68 118.20,214.12" fill="#f9cfa8"/>
<polygon points="124.80,211.68 127.60,211.68 126.20,214.12" fill="#f9cfa8"/>
<polygon points="132.80,212.28 135.60,212.28 134.20,214.72" fill="#f9cfa8"/>
<polygon points="140.80,213.78 143.60,213.78 142.20,216.22" fill="#f9cfa8"/>
<polygon points="148.80,217.18 151.60,217.18 150.20,219.62" fill="#f9cfa8"/>
<polygon points="156.80,220.68 159.60,220.68 158.20,223.12" fill="#f9cfa8"/>
<polygon points="164.80,223.98 167.60,223.98 166.20,226.42" fill="#f9cfa8"/>
<polygon points="172.80,225.88 175.60,225.88 174.20,228.32" fill="#f9cfa8"/>
<polygon points="180.80,227.78 183.60,227.78 182.20,230.22" fill="#f9cfa8"/>
<polygon points="188.80,229.45 191.60,229.45 190.20,231.88" fill="#f9cfa8"/>
<polygon points="196.80,231.12 199.60,231.12 198.20,233.55" fill="#f9cfa8"/>
<polygon points="204.80,232.78 207.60,232.78 206.20,235.22" fill="#f9cfa8"/>
<line x1="46.20" y1="219.70" x2="46.20" y2="230.70" stroke="#f5a86a" stroke-width="0.55" opacity="0.68"/>
<line x1="44.90" y1="219.70" x2="47.50" y2="219.70" stroke="#f5a86a" stroke-width="0.55" opacity="0.68"/>
<line x1="44.90" y1="230.70" x2="47.50" y2="230.70" stroke="#f5a86a" stroke-width="0.55" opacity="0.90"/>
<line x1="54.20" y1="218.26" x2="54.20" y2="229.26" stroke="#f5a86a" stroke-width="0.55" opacity="0.68"/>
<line x1="52.90" y1="218.26" x2="55.50" y2="218.26" stroke="#f5a86a" stroke-width="0.55" opacity="0.68"/>
<line x1="52.90" y1="229.26" x2="55.50" y2="229.26" stroke="#f5a86a" stroke-width="0.55" opacity="0.90"/>
<line x1="62.20" y1="216.82" x2="62.20" y2="227.82" stroke="#f5a86a" stroke-width="0.55" opacity="0.68"/>
<line x1="60.90" y1="216.82" x2="63.50" y2="216.82" stroke="#f5a86a" stroke-width="0.55" opacity="0.68"/>
<line x1="60.90" y1="227.82" x2="63.50" y2="227.82" stroke="#f5a86a" stroke-width="0.55" opacity="0.90"/>
<line x1="70.20" y1="215.38" x2="70.20" y2="226.38" stroke="#f5a86a" stroke-width="0.55" opacity="0.68"/>
<line x1="68.90" y1="215.38" x2="71.50" y2="215.38" stroke="#f5a86a" stroke-width="0.55" opacity="0.68"/>
<line x1="68.90" y1="226.38" x2="71.50" y2="226.38" stroke="#f5a86a" stroke-width="0.55" opacity="0.90"/>
<line x1="78.20" y1="213.94" x2="78.20" y2="224.94" stroke="#f5a86a" stroke-width="0.55" opacity="0.68"/>
<line x1="76.90" y1="213.94" x2="79.50" y2="213.94" stroke="#f5a86a" stroke-width="0.55" opacity="0.68"/>
<line x1="76.90" y1="224.94" x2="79.50" y2="224.94" stroke="#f5a86a" stroke-width="0.55" opacity="0.90"/>
<line x1="86.20" y1="212.50" x2="86.20" y2="223.50" stroke="#f5a86a" stroke-width="0.55" opacity="0.68"/>
<line x1="84.90" y1="212.50" x2="87.50" y2="212.50" stroke="#f5a86a" stroke-width="0.55" opacity="0.68"/>
<line x1="84.90" y1="223.50" x2="87.50" y2="223.50" stroke="#f5a86a" stroke-width="0.55" opacity="0.90"/>
<line x1="94.20" y1="212.00" x2="94.20" y2="223.00" stroke="#f5a86a" stroke-width="0.55" opacity="0.68"/>
<line x1="92.90" y1="212.00" x2="95.50" y2="212.00" stroke="#f5a86a" stroke-width="0.55" opacity="0.68"/>
<line x1="92.90" y1="223.00" x2="95.50" y2="223.00" stroke="#f5a86a" stroke-width="0.55" opacity="0.90"/>
<line x1="102.20" y1="211.50" x2="102.20" y2="222.50" stroke="#f5a86a" stroke-width="0.55" opacity="0.68"/>
<line x1="100.90" y1="211.50" x2="103.50" y2="211.50" stroke="#f5a86a" stroke-width="0.55" opacity="0.68"/>
<line x1="100.90" y1="222.50" x2="103.50" y2="222.50" stroke="#f5a86a" stroke-width="0.55" opacity="0.90"/>
<line x1="110.20" y1="211.00" x2="110.20" y2="222.00" stroke="#f5a86a" stroke-width="0.55" opacity="0.68"/>
<line x1="108.90" y1="211.00" x2="111.50" y2="211.00" stroke="#f5a86a" stroke-width="0.55" opacity="0.68"/>
<line x1="108.90" y1="222.00" x2="111.50" y2="222.00" stroke="#f5a86a" stroke-width="0.55" opacity="0.90"/>
<line x1="118.20" y1="210.50" x2="118.20" y2="221.50" stroke="#f5a86a" stroke-width="0.55" opacity="0.68"/>
<line x1="116.90" y1="210.50" x2="119.50" y2="210.50" stroke="#f5a86a" stroke-width="0.55" opacity="0.68"/>
<line x1="116.90" y1="221.50" x2="119.50" y2="221.50" stroke="#f5a86a" stroke-width="0.55" opacity="0.90"/>
<line x1="126.20" y1="208.30" x2="126.20" y2="219.30" stroke="#f5a86a" stroke-width="0.55" opacity="0.68"/>
<line x1="124.90" y1="208.30" x2="127.50" y2="208.30" stroke="#f5a86a" stroke-width="0.55" opacity="0.68"/>
<line x1="124.90" y1="219.30" x2="127.50" y2="219.30" stroke="#f5a86a" stroke-width="0.55" opacity="0.90"/>
<line x1="134.20" y1="210.50" x2="134.20" y2="221.50" stroke="#f5a86a" stroke-width="0.55" opacity="0.68"/>
<line x1="132.90" y1="210.50" x2="135.50" y2="210.50" stroke="#f5a86a" stroke-width="0.55" opacity="0.68"/>
<line x1="132.90" y1="221.50" x2="135.50" y2="221.50" stroke="#f5a86a" stroke-width="0.55" opacity="0.90"/>
<line x1="142.20" y1="213.50" x2="142.20" y2="224.50" stroke="#f5a86a" stroke-width="0.55" opacity="0.68"/>
<line x1="140.90" y1="213.50" x2="143.50" y2="213.50" stroke="#f5a86a" stroke-width="0.55" opacity="0.68"/>
<line x1="140.90" y1="224.50" x2="143.50" y2="224.50" stroke="#f5a86a" stroke-width="0.55" opacity="0.90"/>
<line x1="150.20" y1="217.00" x2="150.20" y2="228.00" stroke="#f5a86a" stroke-width="0.55" opacity="0.68"/>
<line x1="148.90" y1="217.00" x2="151.50" y2="217.00" stroke="#f5a86a" stroke-width="0.55" opacity="0.68"/>
<line x1="148.90" y1="228.00" x2="151.50" y2="228.00" stroke="#f5a86a" stroke-width="0.55" opacity="0.90"/>
<line x1="158.20" y1="220.00" x2="158.20" y2="231.00" stroke="#f5a86a" stroke-width="0.55" opacity="0.68"/>
<line x1="156.90" y1="220.00" x2="159.50" y2="220.00" stroke="#f5a86a" stroke-width="0.55" opacity="0.68"/>
<line x1="156.90" y1="231.00" x2="159.50" y2="231.00" stroke="#f5a86a" stroke-width="0.55" opacity="0.90"/>
<line x1="166.20" y1="223.00" x2="166.20" y2="234.00" stroke="#f5a86a" stroke-width="0.55" opacity="0.68"/>
<line x1="164.90" y1="223.00" x2="167.50" y2="223.00" stroke="#f5a86a" stroke-width="0.55" opacity="0.68"/>
<line x1="164.90" y1="234.00" x2="167.50" y2="234.00" stroke="#f5a86a" stroke-width="0.55" opacity="0.90"/>
<line x1="174.20" y1="224.75" x2="174.20" y2="235.75" stroke="#f5a86a" stroke-width="0.55" opacity="0.68"/>
<line x1="172.90" y1="224.75" x2="175.50" y2="224.75" stroke="#f5a86a" stroke-width="0.55" opacity="0.68"/>
<line x1="172.90" y1="235.75" x2="175.50" y2="235.75" stroke="#f5a86a" stroke-width="0.55" opacity="0.90"/>
<line x1="182.20" y1="226.50" x2="182.20" y2="237.50" stroke="#f5a86a" stroke-width="0.55" opacity="0.68"/>
<line x1="180.90" y1="226.50" x2="183.50" y2="226.50" stroke="#f5a86a" stroke-width="0.55" opacity="0.68"/>
<line x1="180.90" y1="237.50" x2="183.50" y2="237.50" stroke="#f5a86a" stroke-width="0.55" opacity="0.90"/>
<line x1="190.20" y1="227.50" x2="190.20" y2="238.50" stroke="#f5a86a" stroke-width="0.55" opacity="0.68"/>
<line x1="188.90" y1="227.50" x2="191.50" y2="227.50" stroke="#f5a86a" stroke-width="0.55" opacity="0.68"/>
<line x1="188.90" y1="238.50" x2="191.50" y2="238.50" stroke="#f5a86a" stroke-width="0.55" opacity="0.90"/>
<line x1="198.20" y1="228.50" x2="198.20" y2="239.50" stroke="#f5a86a" stroke-width="0.55" opacity="0.68"/>
<line x1="196.90" y1="228.50" x2="199.50" y2="228.50" stroke="#f5a86a" stroke-width="0.55" opacity="0.68"/>
<line x1="196.90" y1="239.50" x2="199.50" y2="239.50" stroke="#f5a86a" stroke-width="0.55" opacity="0.90"/>
<line x1="206.20" y1="229.50" x2="206.20" y2="240.50" stroke="#f5a86a" stroke-width="0.55" opacity="0.68"/>
<line x1="204.90" y1="229.50" x2="207.50" y2="229.50" stroke="#f5a86a" stroke-width="0.55" opacity="0.68"/>
<line x1="204.90" y1="240.50" x2="207.50" y2="240.50" stroke="#f5a86a" stroke-width="0.55" opacity="0.90"/>
<polyline points="46.20,225.20 54.20,223.76 62.20,222.32 70.20,220.88 78.20,219.44 86.20,218.00 94.20,217.50 102.20,217.00 110.20,216.50 118.20,216.00 126.20,213.80 134.20,216.00 142.20,219.00 150.20,222.50 158.20,225.50 166.20,228.50 174.20,230.25 182.20,232.00 190.20,233.00 198.20,234.00 206.20,235.00" fill="none" stroke="#f5a86a" stroke-width="0.80"/>
<polygon points="44.80,223.98 47.60,223.98 46.20,226.42" fill="#f5a86a"/>
<polygon points="52.80,222.54 55.60,222.54 54.20,224.98" fill="#f5a86a"/>
<polygon points="60.80,221.10 63.60,221.10 62.20,223.54" fill="#f5a86a"/>
<polygon points="68.80,219.66 71.60,219.66 70.20,222.10" fill="#f5a86a"/>
<polygon points="76.80,218.22 79.60,218.22 78.20,220.66" fill="#f5a86a"/>
<polygon points="84.80,216.78 87.60,216.78 86.20,219.22" fill="#f5a86a"/>
<polygon points="92.80,216.28 95.60,216.28 94.20,218.72" fill="#f5a86a"/>
<polygon points="100.80,215.78 103.60,215.78 102.20,218.22" fill="#f5a86a"/>
<polygon points="108.80,215.28 111.60,215.28 110.20,217.72" fill="#f5a86a"/>
<polygon points="116.80,214.78 119.60,214.78 118.20,217.22" fill="#f5a86a"/>
<polygon points="124.80,212.58 127.60,212.58 126.20,215.02" fill="#f5a86a"/>
<polygon points="132.80,214.78 135.60,214.78 134.20,217.22" fill="#f5a86a"/>
<polygon points="140.80,217.78 143.60,217.78 142.20,220.22" fill="#f5a86a"/>
<polygon points="148.80,221.28 151.60,221.28 150.20,223.72" fill="#f5a86a"/>
<polygon points="156.80,224.28 159.60,224.28 158.20,226.72" fill="#f5a86a"/>
<polygon points="164.80,227.28 167.60,227.28 166.20,229.72" fill="#f5a86a"/>
<polygon points="172.80,229.03 175.60,229.03 174.20,231.47" fill="#f5a86a"/>
<polygon points="180.80,230.78 183.60,230.78 182.20,233.22" fill="#f5a86a"/>
<polygon points="188.80,231.78 191.60,231.78 190.20,234.22" fill="#f5a86a"/>
<polygon points="196.80,232.78 199.60,232.78 198.20,235.22" fill="#f5a86a"/>
<polygon points="204.80,233.78 207.60,233.78 206.20,236.22" fill="#f5a86a"/>
<line x1="46.20" y1="216.00" x2="46.20" y2="228.00" stroke="#f4a060" stroke-width="0.55" opacity="0.68"/>
<line x1="44.90" y1="216.00" x2="47.50" y2="216.00" stroke="#f4a060" stroke-width="0.55" opacity="0.68"/>
<line x1="44.90" y1="228.00" x2="47.50" y2="228.00" stroke="#f4a060" stroke-width="0.55" opacity="0.90"/>
<line x1="54.20" y1="213.60" x2="54.20" y2="225.60" stroke="#f4a060" stroke-width="0.55" opacity="0.68"/>
<line x1="52.90" y1="213.60" x2="55.50" y2="213.60" stroke="#f4a060" stroke-width="0.55" opacity="0.68"/>
<line x1="52.90" y1="225.60" x2="55.50" y2="225.60" stroke="#f4a060" stroke-width="0.55" opacity="0.90"/>
<line x1="62.20" y1="211.20" x2="62.20" y2="223.20" stroke="#f4a060" stroke-width="0.55" opacity="0.68"/>
<line x1="60.90" y1="211.20" x2="63.50" y2="211.20" stroke="#f4a060" stroke-width="0.55" opacity="0.68"/>
<line x1="60.90" y1="223.20" x2="63.50" y2="223.20" stroke="#f4a060" stroke-width="0.55" opacity="0.90"/>
<line x1="70.20" y1="208.80" x2="70.20" y2="220.80" stroke="#f4a060" stroke-width="0.55" opacity="0.68"/>
<line x1="68.90" y1="208.80" x2="71.50" y2="208.80" stroke="#f4a060" stroke-width="0.55" opacity="0.68"/>
<line x1="68.90" y1="220.80" x2="71.50" y2="220.80" stroke="#f4a060" stroke-width="0.55" opacity="0.90"/>
<line x1="78.20" y1="206.40" x2="78.20" y2="218.40" stroke="#f4a060" stroke-width="0.55" opacity="0.68"/>
<line x1="76.90" y1="206.40" x2="79.50" y2="206.40" stroke="#f4a060" stroke-width="0.55" opacity="0.68"/>
<line x1="76.90" y1="218.40" x2="79.50" y2="218.40" stroke="#f4a060" stroke-width="0.55" opacity="0.90"/>
<line x1="86.20" y1="204.00" x2="86.20" y2="216.00" stroke="#f4a060" stroke-width="0.55" opacity="0.68"/>
<line x1="84.90" y1="204.00" x2="87.50" y2="204.00" stroke="#f4a060" stroke-width="0.55" opacity="0.68"/>
<line x1="84.90" y1="216.00" x2="87.50" y2="216.00" stroke="#f4a060" stroke-width="0.55" opacity="0.90"/>
<line x1="94.20" y1="202.50" x2="94.20" y2="214.50" stroke="#f4a060" stroke-width="0.55" opacity="0.68"/>
<line x1="92.90" y1="202.50" x2="95.50" y2="202.50" stroke="#f4a060" stroke-width="0.55" opacity="0.68"/>
<line x1="92.90" y1="214.50" x2="95.50" y2="214.50" stroke="#f4a060" stroke-width="0.55" opacity="0.90"/>
<line x1="102.20" y1="201.00" x2="102.20" y2="213.00" stroke="#f4a060" stroke-width="0.55" opacity="0.68"/>
<line x1="100.90" y1="201.00" x2="103.50" y2="201.00" stroke="#f4a060" stroke-width="0.55" opacity="0.68"/>
<line x1="100.90" y1="213.00" x2="103.50" y2="213.00" stroke="#f4a060" stroke-width="0.55" opacity="0.90"/>
<line x1="110.20" y1="199.50" x2="110.20" y2="211.50" stroke="#f4a060" stroke-width="0.55" opacity="0.68"/>
<line x1="108.90" y1="199.50" x2="111.50" y2="199.50" stroke="#f4a060" stroke-width="0.55" opacity="0.68"/>
<line x1="108.90" y1="211.50" x2="111.50" y2="211.50" stroke="#f4a060" stroke-width="0.55" opacity="0.90"/>
<line x1="118.20" y1="198.00" x2="118.20" y2="210.00" stroke="#f4a060" stroke-width="0.55" opacity="0.68"/>
<line x1="116.90" y1="198.00" x2="119.50" y2="198.00" stroke="#f4a060" stroke-width="0.55" opacity="0.68"/>
<line x1="116.90" y1="210.00" x2="119.50" y2="210.00" stroke="#f4a060" stroke-width="0.55" opacity="0.90"/>
<line x1="126.20" y1="194.30" x2="126.20" y2="206.30" stroke="#f4a060" stroke-width="0.55" opacity="0.68"/>
<line x1="124.90" y1="194.30" x2="127.50" y2="194.30" stroke="#f4a060" stroke-width="0.55" opacity="0.68"/>
<line x1="124.90" y1="206.30" x2="127.50" y2="206.30" stroke="#f4a060" stroke-width="0.55" opacity="0.90"/>
<line x1="134.20" y1="196.50" x2="134.20" y2="208.50" stroke="#f4a060" stroke-width="0.55" opacity="0.68"/>
<line x1="132.90" y1="196.50" x2="135.50" y2="196.50" stroke="#f4a060" stroke-width="0.55" opacity="0.68"/>
<line x1="132.90" y1="208.50" x2="135.50" y2="208.50" stroke="#f4a060" stroke-width="0.55" opacity="0.90"/>
<line x1="142.20" y1="200.80" x2="142.20" y2="212.80" stroke="#f4a060" stroke-width="0.55" opacity="0.68"/>
<line x1="140.90" y1="200.80" x2="143.50" y2="200.80" stroke="#f4a060" stroke-width="0.55" opacity="0.68"/>
<line x1="140.90" y1="212.80" x2="143.50" y2="212.80" stroke="#f4a060" stroke-width="0.55" opacity="0.90"/>
<line x1="150.20" y1="205.50" x2="150.20" y2="217.50" stroke="#f4a060" stroke-width="0.55" opacity="0.68"/>
<line x1="148.90" y1="205.50" x2="151.50" y2="205.50" stroke="#f4a060" stroke-width="0.55" opacity="0.68"/>
<line x1="148.90" y1="217.50" x2="151.50" y2="217.50" stroke="#f4a060" stroke-width="0.55" opacity="0.90"/>
<line x1="158.20" y1="209.50" x2="158.20" y2="221.50" stroke="#f4a060" stroke-width="0.55" opacity="0.68"/>
<line x1="156.90" y1="209.50" x2="159.50" y2="209.50" stroke="#f4a060" stroke-width="0.55" opacity="0.68"/>
<line x1="156.90" y1="221.50" x2="159.50" y2="221.50" stroke="#f4a060" stroke-width="0.55" opacity="0.90"/>
<line x1="166.20" y1="213.30" x2="166.20" y2="225.30" stroke="#f4a060" stroke-width="0.55" opacity="0.68"/>
<line x1="164.90" y1="213.30" x2="167.50" y2="213.30" stroke="#f4a060" stroke-width="0.55" opacity="0.68"/>
<line x1="164.90" y1="225.30" x2="167.50" y2="225.30" stroke="#f4a060" stroke-width="0.55" opacity="0.90"/>
<line x1="174.20" y1="216.50" x2="174.20" y2="228.50" stroke="#f4a060" stroke-width="0.55" opacity="0.68"/>
<line x1="172.90" y1="216.50" x2="175.50" y2="216.50" stroke="#f4a060" stroke-width="0.55" opacity="0.68"/>
<line x1="172.90" y1="228.50" x2="175.50" y2="228.50" stroke="#f4a060" stroke-width="0.55" opacity="0.90"/>
<line x1="182.20" y1="219.00" x2="182.20" y2="231.00" stroke="#f4a060" stroke-width="0.55" opacity="0.68"/>
<line x1="180.90" y1="219.00" x2="183.50" y2="219.00" stroke="#f4a060" stroke-width="0.55" opacity="0.68"/>
<line x1="180.90" y1="231.00" x2="183.50" y2="231.00" stroke="#f4a060" stroke-width="0.55" opacity="0.90"/>
<line x1="190.20" y1="221.50" x2="190.20" y2="233.50" stroke="#f4a060" stroke-width="0.55" opacity="0.68"/>
<line x1="188.90" y1="221.50" x2="191.50" y2="221.50" stroke="#f4a060" stroke-width="0.55" opacity="0.68"/>
<line x1="188.90" y1="233.50" x2="191.50" y2="233.50" stroke="#f4a060" stroke-width="0.55" opacity="0.90"/>
<line x1="198.20" y1="224.10" x2="198.20" y2="236.10" stroke="#f4a060" stroke-width="0.55" opacity="0.68"/>
<line x1="196.90" y1="224.10" x2="199.50" y2="224.10" stroke="#f4a060" stroke-width="0.55" opacity="0.68"/>
<line x1="196.90" y1="236.10" x2="199.50" y2="236.10" stroke="#f4a060" stroke-width="0.55" opacity="0.90"/>
<line x1="206.20" y1="226.70" x2="206.20" y2="238.70" stroke="#f4a060" stroke-width="0.55" opacity="0.68"/>
<line x1="204.90" y1="226.70" x2="207.50" y2="226.70" stroke="#f4a060" stroke-width="0.55" opacity="0.68"/>
<line x1="204.90" y1="238.70" x2="207.50" y2="238.70" stroke="#f4a060" stroke-width="0.55" opacity="0.90"/>
<polyline points="46.20,222.00 54.20,219.60 62.20,217.20 70.20,214.80 78.20,212.40 86.20,210.00 94.20,208.50 102.20,207.00 110.20,205.50 118.20,204.00 126.20,200.30 134.20,202.50 142.20,206.80 150.20,211.50 158.20,215.50 166.20,219.30 174.20,222.50 182.20,225.00 190.20,227.50 198.20,230.10 206.20,232.70" fill="none" stroke="#f4a060" stroke-width="0.80"/>
<polygon points="44.80,220.78 47.60,220.78 46.20,223.22" fill="#f4a060"/>
<polygon points="52.80,218.38 55.60,218.38 54.20,220.82" fill="#f4a060"/>
<polygon points="60.80,215.98 63.60,215.98 62.20,218.42" fill="#f4a060"/>
<polygon points="68.80,213.58 71.60,213.58 70.20,216.02" fill="#f4a060"/>
<polygon points="76.80,211.18 79.60,211.18 78.20,213.62" fill="#f4a060"/>
<polygon points="84.80,208.78 87.60,208.78 86.20,211.22" fill="#f4a060"/>
<polygon points="92.80,207.28 95.60,207.28 94.20,209.72" fill="#f4a060"/>
<polygon points="100.80,205.78 103.60,205.78 102.20,208.22" fill="#f4a060"/>
<polygon points="108.80,204.28 111.60,204.28 110.20,206.72" fill="#f4a060"/>
<polygon points="116.80,202.78 119.60,202.78 118.20,205.22" fill="#f4a060"/>
<polygon points="124.80,199.08 127.60,199.08 126.20,201.52" fill="#f4a060"/>
<polygon points="132.80,201.28 135.60,201.28 134.20,203.72" fill="#f4a060"/>
<polygon points="140.80,205.58 143.60,205.58 142.20,208.02" fill="#f4a060"/>
<polygon points="148.80,210.28 151.60,210.28 150.20,212.72" fill="#f4a060"/>
<polygon points="156.80,214.28 159.60,214.28 158.20,216.72" fill="#f4a060"/>
<polygon points="164.80,218.08 167.60,218.08 166.20,220.52" fill="#f4a060"/>
<polygon points="172.80,221.28 175.60,221.28 174.20,223.72" fill="#f4a060"/>
<polygon points="180.80,223.78 183.60,223.78 182.20,226.22" fill="#f4a060"/>
<polygon points="188.80,226.28 191.60,226.28 190.20,228.72" fill="#f4a060"/>
<polygon points="196.80,228.88 199.60,228.88 198.20,231.32" fill="#f4a060"/>
<polygon points="204.80,231.48 207.60,231.48 206.20,233.92" fill="#f4a060"/>
<line x1="46.20" y1="216.00" x2="46.20" y2="227.00" stroke="#f3a261" stroke-width="0.55" opacity="0.68"/>
<line x1="44.90" y1="216.00" x2="47.50" y2="216.00" stroke="#f3a261" stroke-width="0.55" opacity="0.68"/>
<line x1="44.90" y1="227.00" x2="47.50" y2="227.00" stroke="#f3a261" stroke-width="0.55" opacity="0.90"/>
<line x1="54.20" y1="214.00" x2="54.20" y2="225.00" stroke="#f3a261" stroke-width="0.55" opacity="0.68"/>
<line x1="52.90" y1="214.00" x2="55.50" y2="214.00" stroke="#f3a261" stroke-width="0.55" opacity="0.68"/>
<line x1="52.90" y1="225.00" x2="55.50" y2="225.00" stroke="#f3a261" stroke-width="0.55" opacity="0.90"/>
<line x1="62.20" y1="212.50" x2="62.20" y2="223.50" stroke="#f3a261" stroke-width="0.55" opacity="0.68"/>
<line x1="60.90" y1="212.50" x2="63.50" y2="212.50" stroke="#f3a261" stroke-width="0.55" opacity="0.68"/>
<line x1="60.90" y1="223.50" x2="63.50" y2="223.50" stroke="#f3a261" stroke-width="0.55" opacity="0.90"/>
<line x1="70.20" y1="209.50" x2="70.20" y2="220.50" stroke="#f3a261" stroke-width="0.55" opacity="0.68"/>
<line x1="68.90" y1="209.50" x2="71.50" y2="209.50" stroke="#f3a261" stroke-width="0.55" opacity="0.68"/>
<line x1="68.90" y1="220.50" x2="71.50" y2="220.50" stroke="#f3a261" stroke-width="0.55" opacity="0.90"/>
<line x1="78.20" y1="206.50" x2="78.20" y2="217.50" stroke="#f3a261" stroke-width="0.55" opacity="0.68"/>
<line x1="76.90" y1="206.50" x2="79.50" y2="206.50" stroke="#f3a261" stroke-width="0.55" opacity="0.68"/>
<line x1="76.90" y1="217.50" x2="79.50" y2="217.50" stroke="#f3a261" stroke-width="0.55" opacity="0.90"/>
<line x1="86.20" y1="204.00" x2="86.20" y2="215.00" stroke="#f3a261" stroke-width="0.55" opacity="0.68"/>
<line x1="84.90" y1="204.00" x2="87.50" y2="204.00" stroke="#f3a261" stroke-width="0.55" opacity="0.68"/>
<line x1="84.90" y1="215.00" x2="87.50" y2="215.00" stroke="#f3a261" stroke-width="0.55" opacity="0.90"/>
<line x1="94.20" y1="201.50" x2="94.20" y2="212.50" stroke="#f3a261" stroke-width="0.55" opacity="0.68"/>
<line x1="92.90" y1="201.50" x2="95.50" y2="201.50" stroke="#f3a261" stroke-width="0.55" opacity="0.68"/>
<line x1="92.90" y1="212.50" x2="95.50" y2="212.50" stroke="#f3a261" stroke-width="0.55" opacity="0.90"/>
<line x1="102.20" y1="200.00" x2="102.20" y2="211.00" stroke="#f3a261" stroke-width="0.55" opacity="0.68"/>
<line x1="100.90" y1="200.00" x2="103.50" y2="200.00" stroke="#f3a261" stroke-width="0.55" opacity="0.68"/>
<line x1="100.90" y1="211.00" x2="103.50" y2="211.00" stroke="#f3a261" stroke-width="0.55" opacity="0.90"/>
<line x1="110.20" y1="198.50" x2="110.20" y2="209.50" stroke="#f3a261" stroke-width="0.55" opacity="0.68"/>
<line x1="108.90" y1="198.50" x2="111.50" y2="198.50" stroke="#f3a261" stroke-width="0.55" opacity="0.68"/>
<line x1="108.90" y1="209.50" x2="111.50" y2="209.50" stroke="#f3a261" stroke-width="0.55" opacity="0.90"/>
<line x1="118.20" y1="197.80" x2="118.20" y2="208.80" stroke="#f3a261" stroke-width="0.55" opacity="0.68"/>
<line x1="116.90" y1="197.80" x2="119.50" y2="197.80" stroke="#f3a261" stroke-width="0.55" opacity="0.68"/>
<line x1="116.90" y1="208.80" x2="119.50" y2="208.80" stroke="#f3a261" stroke-width="0.55" opacity="0.90"/>
<line x1="126.20" y1="194.00" x2="126.20" y2="205.00" stroke="#f3a261" stroke-width="0.55" opacity="0.68"/>
<line x1="124.90" y1="194.00" x2="127.50" y2="194.00" stroke="#f3a261" stroke-width="0.55" opacity="0.68"/>
<line x1="124.90" y1="205.00" x2="127.50" y2="205.00" stroke="#f3a261" stroke-width="0.55" opacity="0.90"/>
<line x1="134.20" y1="196.30" x2="134.20" y2="207.30" stroke="#f3a261" stroke-width="0.55" opacity="0.68"/>
<line x1="132.90" y1="196.30" x2="135.50" y2="196.30" stroke="#f3a261" stroke-width="0.55" opacity="0.68"/>
<line x1="132.90" y1="207.30" x2="135.50" y2="207.30" stroke="#f3a261" stroke-width="0.55" opacity="0.90"/>
<line x1="142.20" y1="200.50" x2="142.20" y2="211.50" stroke="#f3a261" stroke-width="0.55" opacity="0.68"/>
<line x1="140.90" y1="200.50" x2="143.50" y2="200.50" stroke="#f3a261" stroke-width="0.55" opacity="0.68"/>
<line x1="140.90" y1="211.50" x2="143.50" y2="211.50" stroke="#f3a261" stroke-width="0.55" opacity="0.90"/>
<line x1="150.20" y1="205.20" x2="150.20" y2="216.20" stroke="#f3a261" stroke-width="0.55" opacity="0.68"/>
<line x1="148.90" y1="205.20" x2="151.50" y2="205.20" stroke="#f3a261" stroke-width="0.55" opacity="0.68"/>
<line x1="148.90" y1="216.20" x2="151.50" y2="216.20" stroke="#f3a261" stroke-width="0.55" opacity="0.90"/>
<line x1="158.20" y1="209.00" x2="158.20" y2="220.00" stroke="#f3a261" stroke-width="0.55" opacity="0.68"/>
<line x1="156.90" y1="209.00" x2="159.50" y2="209.00" stroke="#f3a261" stroke-width="0.55" opacity="0.68"/>
<line x1="156.90" y1="220.00" x2="159.50" y2="220.00" stroke="#f3a261" stroke-width="0.55" opacity="0.90"/>
<line x1="166.20" y1="212.50" x2="166.20" y2="223.50" stroke="#f3a261" stroke-width="0.55" opacity="0.68"/>
<line x1="164.90" y1="212.50" x2="167.50" y2="212.50" stroke="#f3a261" stroke-width="0.55" opacity="0.68"/>
<line x1="164.90" y1="223.50" x2="167.50" y2="223.50" stroke="#f3a261" stroke-width="0.55" opacity="0.90"/>
<line x1="174.20" y1="215.30" x2="174.20" y2="226.30" stroke="#f3a261" stroke-width="0.55" opacity="0.68"/>
<line x1="172.90" y1="215.30" x2="175.50" y2="215.30" stroke="#f3a261" stroke-width="0.55" opacity="0.68"/>
<line x1="172.90" y1="226.30" x2="175.50" y2="226.30" stroke="#f3a261" stroke-width="0.55" opacity="0.90"/>
<line x1="182.20" y1="216.50" x2="182.20" y2="227.50" stroke="#f3a261" stroke-width="0.55" opacity="0.68"/>
<line x1="180.90" y1="216.50" x2="183.50" y2="216.50" stroke="#f3a261" stroke-width="0.55" opacity="0.68"/>
<line x1="180.90" y1="227.50" x2="183.50" y2="227.50" stroke="#f3a261" stroke-width="0.55" opacity="0.90"/>
<line x1="190.20" y1="217.70" x2="190.20" y2="228.70" stroke="#f3a261" stroke-width="0.55" opacity="0.68"/>
<line x1="188.90" y1="217.70" x2="191.50" y2="217.70" stroke="#f3a261" stroke-width="0.55" opacity="0.68"/>
<line x1="188.90" y1="228.70" x2="191.50" y2="228.70" stroke="#f3a261" stroke-width="0.55" opacity="0.90"/>
<line x1="198.20" y1="218.90" x2="198.20" y2="229.90" stroke="#f3a261" stroke-width="0.55" opacity="0.68"/>
<line x1="196.90" y1="218.90" x2="199.50" y2="218.90" stroke="#f3a261" stroke-width="0.55" opacity="0.68"/>
<line x1="196.90" y1="229.90" x2="199.50" y2="229.90" stroke="#f3a261" stroke-width="0.55" opacity="0.90"/>
<line x1="206.20" y1="221.30" x2="206.20" y2="232.30" stroke="#f3a261" stroke-width="0.55" opacity="0.68"/>
<line x1="204.90" y1="221.30" x2="207.50" y2="221.30" stroke="#f3a261" stroke-width="0.55" opacity="0.68"/>
<line x1="204.90" y1="232.30" x2="207.50" y2="232.30" stroke="#f3a261" stroke-width="0.55" opacity="0.90"/>
<polyline points="46.20,221.50 54.20,219.50 62.20,218.00 70.20,215.00 78.20,212.00 86.20,209.50 94.20,207.00 102.20,205.50 110.20,204.00 118.20,203.30 126.20,199.50 134.20,201.80 142.20,206.00 150.20,210.70 158.20,214.50 166.20,218.00 174.20,220.80 182.20,222.00 190.20,223.20 198.20,224.40 206.20,226.80" fill="none" stroke="#f3a261" stroke-width="0.80"/>
<polygon points="44.80,220.28 47.60,220.28 46.20,222.72" fill="#f3a261"/>
<polygon points="52.80,218.28 55.60,218.28 54.20,220.72" fill="#f3a261"/>
<polygon points="60.80,216.78 63.60,216.78 62.20,219.22" fill="#f3a261"/>
<polygon points="68.80,213.78 71.60,213.78 70.20,216.22" fill="#f3a261"/>
<polygon points="76.80,210.78 79.60,210.78 78.20,213.22" fill="#f3a261"/>
<polygon points="84.80,208.28 87.60,208.28 86.20,210.72" fill="#f3a261"/>
<polygon points="92.80,205.78 95.60,205.78 94.20,208.22" fill="#f3a261"/>
<polygon points="100.80,204.28 103.60,204.28 102.20,206.72" fill="#f3a261"/>
<polygon points="108.80,202.78 111.60,202.78 110.20,205.22" fill="#f3a261"/>
<polygon points="116.80,202.08 119.60,202.08 118.20,204.52" fill="#f3a261"/>
<polygon points="124.80,198.28 127.60,198.28 126.20,200.72" fill="#f3a261"/>
<polygon points="132.80,200.58 135.60,200.58 134.20,203.02" fill="#f3a261"/>
<polygon points="140.80,204.78 143.60,204.78 142.20,207.22" fill="#f3a261"/>
<polygon points="148.80,209.48 151.60,209.48 150.20,211.92" fill="#f3a261"/>
<polygon points="156.80,213.28 159.60,213.28 158.20,215.72" fill="#f3a261"/>
<polygon points="164.80,216.78 167.60,216.78 166.20,219.22" fill="#f3a261"/>
<polygon points="172.80,219.58 175.60,219.58 174.20,222.02" fill="#f3a261"/>
<polygon points="180.80,220.78 183.60,220.78 182.20,223.22" fill="#f3a261"/>
<polygon points="188.80,221.98 191.60,221.98 190.20,224.42" fill="#f3a261"/>
<polygon points="196.80,223.18 199.60,223.18 198.20,225.62" fill="#f3a261"/>
<polygon points="204.80,225.58 207.60,225.58 206.20,228.02" fill="#f3a261"/>
<line x1="46.20" y1="222.30" x2="46.20" y2="230.30" stroke="#e8762c" stroke-width="0.55" opacity="0.68"/>
<line x1="44.90" y1="222.30" x2="47.50" y2="222.30" stroke="#e8762c" stroke-width="0.55" opacity="0.68"/>
<line x1="44.90" y1="230.30" x2="47.50" y2="230.30" stroke="#e8762c" stroke-width="0.55" opacity="0.90"/>
<line x1="54.20" y1="220.68" x2="54.20" y2="228.68" stroke="#e8762c" stroke-width="0.55" opacity="0.68"/>
<line x1="52.90" y1="220.68" x2="55.50" y2="220.68" stroke="#e8762c" stroke-width="0.55" opacity="0.68"/>
<line x1="52.90" y1="228.68" x2="55.50" y2="228.68" stroke="#e8762c" stroke-width="0.55" opacity="0.90"/>
<line x1="62.20" y1="219.06" x2="62.20" y2="227.06" stroke="#e8762c" stroke-width="0.55" opacity="0.68"/>
<line x1="60.90" y1="219.06" x2="63.50" y2="219.06" stroke="#e8762c" stroke-width="0.55" opacity="0.68"/>
<line x1="60.90" y1="227.06" x2="63.50" y2="227.06" stroke="#e8762c" stroke-width="0.55" opacity="0.90"/>
<line x1="70.20" y1="217.44" x2="70.20" y2="225.44" stroke="#e8762c" stroke-width="0.55" opacity="0.68"/>
<line x1="68.90" y1="217.44" x2="71.50" y2="217.44" stroke="#e8762c" stroke-width="0.55" opacity="0.68"/>
<line x1="68.90" y1="225.44" x2="71.50" y2="225.44" stroke="#e8762c" stroke-width="0.55" opacity="0.90"/>
<line x1="78.20" y1="215.82" x2="78.20" y2="223.82" stroke="#e8762c" stroke-width="0.55" opacity="0.68"/>
<line x1="76.90" y1="215.82" x2="79.50" y2="215.82" stroke="#e8762c" stroke-width="0.55" opacity="0.68"/>
<line x1="76.90" y1="223.82" x2="79.50" y2="223.82" stroke="#e8762c" stroke-width="0.55" opacity="0.90"/>
<line x1="86.20" y1="214.20" x2="86.20" y2="222.20" stroke="#e8762c" stroke-width="0.55" opacity="0.68"/>
<line x1="84.90" y1="214.20" x2="87.50" y2="214.20" stroke="#e8762c" stroke-width="0.55" opacity="0.68"/>
<line x1="84.90" y1="222.20" x2="87.50" y2="222.20" stroke="#e8762c" stroke-width="0.55" opacity="0.90"/>
<line x1="94.20" y1="214.00" x2="94.20" y2="222.00" stroke="#e8762c" stroke-width="0.55" opacity="0.68"/>
<line x1="92.90" y1="214.00" x2="95.50" y2="214.00" stroke="#e8762c" stroke-width="0.55" opacity="0.68"/>
<line x1="92.90" y1="222.00" x2="95.50" y2="222.00" stroke="#e8762c" stroke-width="0.55" opacity="0.90"/>
<line x1="102.20" y1="213.80" x2="102.20" y2="221.80" stroke="#e8762c" stroke-width="0.55" opacity="0.68"/>
<line x1="100.90" y1="213.80" x2="103.50" y2="213.80" stroke="#e8762c" stroke-width="0.55" opacity="0.68"/>
<line x1="100.90" y1="221.80" x2="103.50" y2="221.80" stroke="#e8762c" stroke-width="0.55" opacity="0.90"/>
<line x1="110.20" y1="213.60" x2="110.20" y2="221.60" stroke="#e8762c" stroke-width="0.55" opacity="0.68"/>
<line x1="108.90" y1="213.60" x2="111.50" y2="213.60" stroke="#e8762c" stroke-width="0.55" opacity="0.68"/>
<line x1="108.90" y1="221.60" x2="111.50" y2="221.60" stroke="#e8762c" stroke-width="0.55" opacity="0.90"/>
<line x1="118.20" y1="213.40" x2="118.20" y2="221.40" stroke="#e8762c" stroke-width="0.55" opacity="0.68"/>
<line x1="116.90" y1="213.40" x2="119.50" y2="213.40" stroke="#e8762c" stroke-width="0.55" opacity="0.68"/>
<line x1="116.90" y1="221.40" x2="119.50" y2="221.40" stroke="#e8762c" stroke-width="0.55" opacity="0.90"/>
<line x1="126.20" y1="211.80" x2="126.20" y2="219.80" stroke="#e8762c" stroke-width="0.55" opacity="0.68"/>
<line x1="124.90" y1="211.80" x2="127.50" y2="211.80" stroke="#e8762c" stroke-width="0.55" opacity="0.68"/>
<line x1="124.90" y1="219.80" x2="127.50" y2="219.80" stroke="#e8762c" stroke-width="0.55" opacity="0.90"/>
<line x1="134.20" y1="216.00" x2="134.20" y2="224.00" stroke="#e8762c" stroke-width="0.55" opacity="0.68"/>
<line x1="132.90" y1="216.00" x2="135.50" y2="216.00" stroke="#e8762c" stroke-width="0.55" opacity="0.68"/>
<line x1="132.90" y1="224.00" x2="135.50" y2="224.00" stroke="#e8762c" stroke-width="0.55" opacity="0.90"/>
<line x1="142.20" y1="221.00" x2="142.20" y2="229.00" stroke="#e8762c" stroke-width="0.55" opacity="0.68"/>
<line x1="140.90" y1="221.00" x2="143.50" y2="221.00" stroke="#e8762c" stroke-width="0.55" opacity="0.68"/>
<line x1="140.90" y1="229.00" x2="143.50" y2="229.00" stroke="#e8762c" stroke-width="0.55" opacity="0.90"/>
<line x1="150.20" y1="225.70" x2="150.20" y2="233.70" stroke="#e8762c" stroke-width="0.55" opacity="0.68"/>
<line x1="148.90" y1="225.70" x2="151.50" y2="225.70" stroke="#e8762c" stroke-width="0.55" opacity="0.68"/>
<line x1="148.90" y1="233.70" x2="151.50" y2="233.70" stroke="#e8762c" stroke-width="0.55" opacity="0.90"/>
<line x1="158.20" y1="229.60" x2="158.20" y2="237.60" stroke="#e8762c" stroke-width="0.55" opacity="0.68"/>
<line x1="156.90" y1="229.60" x2="159.50" y2="229.60" stroke="#e8762c" stroke-width="0.55" opacity="0.68"/>
<line x1="156.90" y1="237.60" x2="159.50" y2="237.60" stroke="#e8762c" stroke-width="0.55" opacity="0.90"/>
<line x1="166.20" y1="232.80" x2="166.20" y2="240.80" stroke="#e8762c" stroke-width="0.55" opacity="0.68"/>
<line x1="164.90" y1="232.80" x2="167.50" y2="232.80" stroke="#e8762c" stroke-width="0.55" opacity="0.68"/>
<line x1="164.90" y1="240.80" x2="167.50" y2="240.80" stroke="#e8762c" stroke-width="0.55" opacity="0.90"/>
<line x1="174.20" y1="235.15" x2="174.20" y2="243.15" stroke="#e8762c" stroke-width="0.55" opacity="0.68"/>
<line x1="172.90" y1="235.15" x2="175.50" y2="235.15" stroke="#e8762c" stroke-width="0.55" opacity="0.68"/>
<line x1="172.90" y1="243.15" x2="175.50" y2="243.15" stroke="#e8762c" stroke-width="0.55" opacity="0.90"/>
<line x1="182.20" y1="237.50" x2="182.20" y2="245.50" stroke="#e8762c" stroke-width="0.55" opacity="0.68"/>
<line x1="180.90" y1="237.50" x2="183.50" y2="237.50" stroke="#e8762c" stroke-width="0.55" opacity="0.68"/>
<line x1="180.90" y1="245.50" x2="183.50" y2="245.50" stroke="#e8762c" stroke-width="0.55" opacity="0.90"/>
<line x1="190.20" y1="239.43" x2="190.20" y2="247.43" stroke="#e8762c" stroke-width="0.55" opacity="0.68"/>
<line x1="188.90" y1="239.43" x2="191.50" y2="239.43" stroke="#e8762c" stroke-width="0.55" opacity="0.68"/>
<line x1="188.90" y1="247.43" x2="191.50" y2="247.43" stroke="#e8762c" stroke-width="0.55" opacity="0.90"/>
<line x1="198.20" y1="241.37" x2="198.20" y2="249.37" stroke="#e8762c" stroke-width="0.55" opacity="0.68"/>
<line x1="196.90" y1="241.37" x2="199.50" y2="241.37" stroke="#e8762c" stroke-width="0.55" opacity="0.68"/>
<line x1="196.90" y1="249.37" x2="199.50" y2="249.37" stroke="#e8762c" stroke-width="0.55" opacity="0.90"/>
<line x1="206.20" y1="243.30" x2="206.20" y2="251.30" stroke="#e8762c" stroke-width="0.55" opacity="0.68"/>
<line x1="204.90" y1="243.30" x2="207.50" y2="243.30" stroke="#e8762c" stroke-width="0.55" opacity="0.68"/>
<line x1="204.90" y1="251.30" x2="207.50" y2="251.30" stroke="#e8762c" stroke-width="0.55" opacity="0.90"/>
<polyline points="46.20,226.30 54.20,224.68 62.20,223.06 70.20,221.44 78.20,219.82 86.20,218.20 94.20,218.00 102.20,217.80 110.20,217.60 118.20,217.40 126.20,215.80 134.20,220.00 142.20,225.00 150.20,229.70 158.20,233.60 166.20,236.80 174.20,239.15 182.20,241.50 190.20,243.43 198.20,245.37 206.20,247.30" fill="none" stroke="#e8762c" stroke-width="0.80"/>
<polygon points="44.80,225.08 47.60,225.08 46.20,227.52" fill="#e8762c"/>
<polygon points="52.80,223.46 55.60,223.46 54.20,225.90" fill="#e8762c"/>
<polygon points="60.80,221.84 63.60,221.84 62.20,224.28" fill="#e8762c"/>
<polygon points="68.80,220.22 71.60,220.22 70.20,222.66" fill="#e8762c"/>
<polygon points="76.80,218.60 79.60,218.60 78.20,221.04" fill="#e8762c"/>
<polygon points="84.80,216.98 87.60,216.98 86.20,219.42" fill="#e8762c"/>
<polygon points="92.80,216.78 95.60,216.78 94.20,219.22" fill="#e8762c"/>
<polygon points="100.80,216.58 103.60,216.58 102.20,219.02" fill="#e8762c"/>
<polygon points="108.80,216.38 111.60,216.38 110.20,218.82" fill="#e8762c"/>
<polygon points="116.80,216.18 119.60,216.18 118.20,218.62" fill="#e8762c"/>
<polygon points="124.80,214.58 127.60,214.58 126.20,217.02" fill="#e8762c"/>
<polygon points="132.80,218.78 135.60,218.78 134.20,221.22" fill="#e8762c"/>
<polygon points="140.80,223.78 143.60,223.78 142.20,226.22" fill="#e8762c"/>
<polygon points="148.80,228.48 151.60,228.48 150.20,230.92" fill="#e8762c"/>
<polygon points="156.80,232.38 159.60,232.38 158.20,234.82" fill="#e8762c"/>
<polygon points="164.80,235.58 167.60,235.58 166.20,238.02" fill="#e8762c"/>
<polygon points="172.80,237.93 175.60,237.93 174.20,240.37" fill="#e8762c"/>
<polygon points="180.80,240.28 183.60,240.28 182.20,242.72" fill="#e8762c"/>
<polygon points="188.80,242.22 191.60,242.22 190.20,244.65" fill="#e8762c"/>
<polygon points="196.80,244.15 199.60,244.15 198.20,246.58" fill="#e8762c"/>
<polygon points="204.80,246.08 207.60,246.08 206.20,248.52" fill="#e8762c"/>
<line x1="46.20" y1="223.20" x2="46.20" y2="232.20" stroke="#333" stroke-width="0.55" opacity="0.60"/>
<line x1="44.90" y1="223.20" x2="47.50" y2="223.20" stroke="#333" stroke-width="0.55" opacity="0.60"/>
<line x1="44.90" y1="232.20" x2="47.50" y2="232.20" stroke="#333" stroke-width="0.55" opacity="0.80"/>
<line x1="54.20" y1="223.00" x2="54.20" y2="232.00" stroke="#333" stroke-width="0.55" opacity="0.60"/>
<line x1="52.90" y1="223.00" x2="55.50" y2="223.00" stroke="#333" stroke-width="0.55" opacity="0.60"/>
<line x1="52.90" y1="232.00" x2="55.50" y2="232.00" stroke="#333" stroke-width="0.55" opacity="0.80"/>
<line x1="62.20" y1="221.60" x2="62.20" y2="230.60" stroke="#333" stroke-width="0.55" opacity="0.60"/>
<line x1="60.90" y1="221.60" x2="63.50" y2="221.60" stroke="#333" stroke-width="0.55" opacity="0.60"/>
<line x1="60.90" y1="230.60" x2="63.50" y2="230.60" stroke="#333" stroke-width="0.55" opacity="0.80"/>
<line x1="70.20" y1="219.50" x2="70.20" y2="228.50" stroke="#333" stroke-width="0.55" opacity="0.60"/>
<line x1="68.90" y1="219.50" x2="71.50" y2="219.50" stroke="#333" stroke-width="0.55" opacity="0.60"/>
<line x1="68.90" y1="228.50" x2="71.50" y2="228.50" stroke="#333" stroke-width="0.55" opacity="0.80"/>
<line x1="78.20" y1="217.20" x2="78.20" y2="226.20" stroke="#333" stroke-width="0.55" opacity="0.60"/>
<line x1="76.90" y1="217.20" x2="79.50" y2="217.20" stroke="#333" stroke-width="0.55" opacity="0.60"/>
<line x1="76.90" y1="226.20" x2="79.50" y2="226.20" stroke="#333" stroke-width="0.55" opacity="0.80"/>
<line x1="86.20" y1="215.60" x2="86.20" y2="224.60" stroke="#333" stroke-width="0.55" opacity="0.60"/>
<line x1="84.90" y1="215.60" x2="87.50" y2="215.60" stroke="#333" stroke-width="0.55" opacity="0.60"/>
<line x1="84.90" y1="224.60" x2="87.50" y2="224.60" stroke="#333" stroke-width="0.55" opacity="0.80"/>
<line x1="94.20" y1="213.70" x2="94.20" y2="222.70" stroke="#333" stroke-width="0.55" opacity="0.60"/>
<line x1="92.90" y1="213.70" x2="95.50" y2="213.70" stroke="#333" stroke-width="0.55" opacity="0.60"/>
<line x1="92.90" y1="222.70" x2="95.50" y2="222.70" stroke="#333" stroke-width="0.55" opacity="0.80"/>
<line x1="102.20" y1="212.90" x2="102.20" y2="221.90" stroke="#333" stroke-width="0.55" opacity="0.60"/>
<line x1="100.90" y1="212.90" x2="103.50" y2="212.90" stroke="#333" stroke-width="0.55" opacity="0.60"/>
<line x1="100.90" y1="221.90" x2="103.50" y2="221.90" stroke="#333" stroke-width="0.55" opacity="0.80"/>
<line x1="110.20" y1="212.90" x2="110.20" y2="221.90" stroke="#333" stroke-width="0.55" opacity="0.60"/>
<line x1="108.90" y1="212.90" x2="111.50" y2="212.90" stroke="#333" stroke-width="0.55" opacity="0.60"/>
<line x1="108.90" y1="221.90" x2="111.50" y2="221.90" stroke="#333" stroke-width="0.55" opacity="0.80"/>
<line x1="118.20" y1="214.90" x2="118.20" y2="223.90" stroke="#333" stroke-width="0.55" opacity="0.60"/>
<line x1="116.90" y1="214.90" x2="119.50" y2="214.90" stroke="#333" stroke-width="0.55" opacity="0.60"/>
<line x1="116.90" y1="223.90" x2="119.50" y2="223.90" stroke="#333" stroke-width="0.55" opacity="0.80"/>
<line x1="126.20" y1="211.50" x2="126.20" y2="220.50" stroke="#333" stroke-width="0.55" opacity="0.60"/>
<line x1="124.90" y1="211.50" x2="127.50" y2="211.50" stroke="#333" stroke-width="0.55" opacity="0.60"/>
<line x1="124.90" y1="220.50" x2="127.50" y2="220.50" stroke="#333" stroke-width="0.55" opacity="0.80"/>
<line x1="134.20" y1="219.10" x2="134.20" y2="228.10" stroke="#333" stroke-width="0.55" opacity="0.60"/>
<line x1="132.90" y1="219.10" x2="135.50" y2="219.10" stroke="#333" stroke-width="0.55" opacity="0.60"/>
<line x1="132.90" y1="228.10" x2="135.50" y2="228.10" stroke="#333" stroke-width="0.55" opacity="0.80"/>
<line x1="142.20" y1="223.90" x2="142.20" y2="232.90" stroke="#333" stroke-width="0.55" opacity="0.60"/>
<line x1="140.90" y1="223.90" x2="143.50" y2="223.90" stroke="#333" stroke-width="0.55" opacity="0.60"/>
<line x1="140.90" y1="232.90" x2="143.50" y2="232.90" stroke="#333" stroke-width="0.55" opacity="0.80"/>
<line x1="150.20" y1="228.70" x2="150.20" y2="237.70" stroke="#333" stroke-width="0.55" opacity="0.60"/>
<line x1="148.90" y1="228.70" x2="151.50" y2="228.70" stroke="#333" stroke-width="0.55" opacity="0.60"/>
<line x1="148.90" y1="237.70" x2="151.50" y2="237.70" stroke="#333" stroke-width="0.55" opacity="0.80"/>
<line x1="158.20" y1="232.10" x2="158.20" y2="241.10" stroke="#333" stroke-width="0.55" opacity="0.60"/>
<line x1="156.90" y1="232.10" x2="159.50" y2="232.10" stroke="#333" stroke-width="0.55" opacity="0.60"/>
<line x1="156.90" y1="241.10" x2="159.50" y2="241.10" stroke="#333" stroke-width="0.55" opacity="0.80"/>
<line x1="166.20" y1="234.70" x2="166.20" y2="243.70" stroke="#333" stroke-width="0.55" opacity="0.60"/>
<line x1="164.90" y1="234.70" x2="167.50" y2="234.70" stroke="#333" stroke-width="0.55" opacity="0.60"/>
<line x1="164.90" y1="243.70" x2="167.50" y2="243.70" stroke="#333" stroke-width="0.55" opacity="0.80"/>
<line x1="174.20" y1="237.70" x2="174.20" y2="246.70" stroke="#333" stroke-width="0.55" opacity="0.60"/>
<line x1="172.90" y1="237.70" x2="175.50" y2="237.70" stroke="#333" stroke-width="0.55" opacity="0.60"/>
<line x1="172.90" y1="246.70" x2="175.50" y2="246.70" stroke="#333" stroke-width="0.55" opacity="0.80"/>
<line x1="182.20" y1="239.40" x2="182.20" y2="248.40" stroke="#333" stroke-width="0.55" opacity="0.60"/>
<line x1="180.90" y1="239.40" x2="183.50" y2="239.40" stroke="#333" stroke-width="0.55" opacity="0.60"/>
<line x1="180.90" y1="248.40" x2="183.50" y2="248.40" stroke="#333" stroke-width="0.55" opacity="0.80"/>
<line x1="190.20" y1="241.30" x2="190.20" y2="250.30" stroke="#333" stroke-width="0.55" opacity="0.60"/>
<line x1="188.90" y1="241.30" x2="191.50" y2="241.30" stroke="#333" stroke-width="0.55" opacity="0.60"/>
<line x1="188.90" y1="250.30" x2="191.50" y2="250.30" stroke="#333" stroke-width="0.55" opacity="0.80"/>
<line x1="198.20" y1="242.50" x2="198.20" y2="251.50" stroke="#333" stroke-width="0.55" opacity="0.60"/>
<line x1="196.90" y1="242.50" x2="199.50" y2="242.50" stroke="#333" stroke-width="0.55" opacity="0.60"/>
<line x1="196.90" y1="251.50" x2="199.50" y2="251.50" stroke="#333" stroke-width="0.55" opacity="0.80"/>
<line x1="206.20" y1="243.70" x2="206.20" y2="252.70" stroke="#333" stroke-width="0.55" opacity="0.60"/>
<line x1="204.90" y1="243.70" x2="207.50" y2="243.70" stroke="#333" stroke-width="0.55" opacity="0.60"/>
<line x1="204.90" y1="252.70" x2="207.50" y2="252.70" stroke="#333" stroke-width="0.55" opacity="0.80"/>
<polyline points="46.20,227.70 54.20,227.50 62.20,226.10 70.20,224.00 78.20,221.70 86.20,220.10 94.20,218.20 102.20,217.40 110.20,217.40 118.20,219.40 126.20,216.00 134.20,223.60 142.20,228.40 150.20,233.20 158.20,236.60 166.20,239.20 174.20,242.20 182.20,243.90 190.20,245.80 198.20,247.00 206.20,248.20" fill="none" stroke="#1a1a1a" stroke-width="0.80"/>
<polygon points="44.80,226.48 47.60,226.48 46.20,228.92" fill="#1a1a1a"/>
<polygon points="52.80,226.28 55.60,226.28 54.20,228.72" fill="#1a1a1a"/>
<polygon points="60.80,224.88 63.60,224.88 62.20,227.32" fill="#1a1a1a"/>
<polygon points="68.80,222.78 71.60,222.78 70.20,225.22" fill="#1a1a1a"/>
<polygon points="76.80,220.48 79.60,220.48 78.20,222.92" fill="#1a1a1a"/>
<polygon points="84.80,218.88 87.60,218.88 86.20,221.32" fill="#1a1a1a"/>
<polygon points="92.80,216.98 95.60,216.98 94.20,219.42" fill="#1a1a1a"/>
<polygon points="100.80,216.18 103.60,216.18 102.20,218.62" fill="#1a1a1a"/>
<polygon points="108.80,216.18 111.60,216.18 110.20,218.62" fill="#1a1a1a"/>
<polygon points="116.80,218.18 119.60,218.18 118.20,220.62" fill="#1a1a1a"/>
<polygon points="124.80,214.78 127.60,214.78 126.20,217.22" fill="#1a1a1a"/>
<polygon points="132.80,222.38 135.60,222.38 134.20,224.82" fill="#1a1a1a"/>
<polygon points="140.80,227.18 143.60,227.18 142.20,229.62" fill="#1a1a1a"/>
<polygon points="148.80,231.98 151.60,231.98 150.20,234.42" fill="#1a1a1a"/>
<polygon points="156.80,235.38 159.60,235.38 158.20,237.82" fill="#1a1a1a"/>
<polygon points="164.80,237.98 167.60,237.98 166.20,240.42" fill="#1a1a1a"/>
<polygon points="172.80,240.98 175.60,240.98 174.20,243.42" fill="#1a1a1a"/>
<polygon points="180.80,242.68 183.60,242.68 182.20,245.12" fill="#1a1a1a"/>
<polygon points="188.80,244.58 191.60,244.58 190.20,247.02" fill="#1a1a1a"/>
<polygon points="196.80,245.78 199.60,245.78 198.20,248.22" fill="#1a1a1a"/>
<polygon points="204.80,246.98 207.60,246.98 206.20,249.42" fill="#1a1a1a"/>
<text x="121.00" y="176.90" font-size="7.00" text-anchor="middle" fill="#303030" font-weight="normal" >DEG-CAR</text>
<line x1="122.40" y1="178.50" x2="122.40" y2="186.50" stroke="#1a1a1a" stroke-width="0.90" />
<polygon points="120.40,185.80 124.40,185.80 122.40,189.00" fill="#1a1a1a"/>
<line x1="45.80" y1="191.00" x2="45.80" y2="199.30" stroke="#1a1a1a" stroke-width="0.90" />
<polygon points="43.80,198.60 47.80,198.60 45.80,201.80" fill="#1a1a1a"/>
<line x1="215.10" y1="201.30" x2="223.40" y2="201.30" stroke="#1a1a1a" stroke-width="0.90" />
<polygon points="222.70,199.30 222.70,203.30 225.90,201.30" fill="#1a1a1a"/>
<text x="231.60" y="203.50" font-size="6.30" text-anchor="start" fill="#303030" font-weight="normal" >Drug admin</text>
<line x1="218.90" y1="211.20" x2="227.20" y2="211.20" stroke="#d9783a" stroke-width="0.80" />
<polygon points="221.70,209.98 224.50,209.98 223.10,212.42" fill="#d9783a"/>
<text x="231.60" y="213.30" font-size="6.10" text-anchor="start" fill="#303030" font-weight="normal" >DEG 100 μM Len</text>
<line x1="218.90" y1="218.40" x2="227.20" y2="218.40" stroke="#f9cfa8" stroke-width="0.80" />
<polygon points="221.70,217.18 224.50,217.18 223.10,219.62" fill="#f9cfa8"/>
<text x="231.60" y="220.50" font-size="6.10" text-anchor="start" fill="#303030" font-weight="normal" >DEG 50 μM Len</text>
<line x1="218.90" y1="226.00" x2="227.20" y2="226.00" stroke="#f5a86a" stroke-width="0.80" />
<polygon points="221.70,224.78 224.50,224.78 223.10,227.22" fill="#f5a86a"/>
<text x="231.60" y="228.10" font-size="6.10" text-anchor="start" fill="#303030" font-weight="normal" >DEG 5 μM Len</text>
<line x1="218.90" y1="233.20" x2="227.20" y2="233.20" stroke="#f19a55" stroke-width="0.80" />
<polygon points="221.70,231.98 224.50,231.98 223.10,234.42" fill="#f19a55"/>
<text x="231.60" y="235.30" font-size="6.10" text-anchor="start" fill="#303030" font-weight="normal" >DEG 1 μM Len</text>
<line x1="218.90" y1="248.20" x2="227.20" y2="248.20" stroke="#ee8a3a" stroke-width="0.80" />
<polygon points="221.70,246.98 224.50,246.98 223.10,249.42" fill="#ee8a3a"/>
<text x="231.60" y="250.30" font-size="6.10" text-anchor="start" fill="#303030" font-weight="normal" >DEG 2.5 μM Vene</text>
<line x1="218.90" y1="255.30" x2="227.20" y2="255.30" stroke="#1a1a1a" stroke-width="0.80" />
<polygon points="221.70,254.08 224.50,254.08 223.10,256.52" fill="#1a1a1a"/>
<text x="231.60" y="257.40" font-size="6.10" text-anchor="start" fill="#303030" font-weight="normal" >DEG DMSO</text>
<line x1="209.80" y1="234.60" x2="209.80" y2="247.50" stroke="#9a9a9a" stroke-width="0.90" />
<path d="M213.30 240.00L213.30 243.40M211.83 240.85L214.77 242.55M211.83 242.55L214.77 240.85" stroke="#333333" stroke-width="1.00"/>
<line x1="40.40" y1="274.50" x2="40.40" y2="344.10" stroke="#a2a2a2" stroke-width="1.15" />
<line x1="39.90" y1="344.10" x2="202.50" y2="344.10" stroke="#9a9a9a" stroke-width="1.10" />
<line x1="37.40" y1="344.10" x2="40.10" y2="344.10" stroke="#555" stroke-width="0.90" />
<text x="35.00" y="346.40" font-size="6.00" text-anchor="end" fill="#303030" font-weight="normal" >0</text>
<line x1="37.40" y1="320.90" x2="40.10" y2="320.90" stroke="#555" stroke-width="0.90" />
<text x="35.00" y="323.20" font-size="6.00" text-anchor="end" fill="#303030" font-weight="normal" >5 × 10<tspan font-size="4.3" dy="-2.7">4</tspan></text>
<line x1="37.40" y1="297.70" x2="40.10" y2="297.70" stroke="#555" stroke-width="0.90" />
<text x="35.00" y="300.00" font-size="6.00" text-anchor="end" fill="#303030" font-weight="normal" >1 × 10<tspan font-size="4.3" dy="-2.7">5</tspan></text>
<line x1="37.40" y1="274.50" x2="40.10" y2="274.50" stroke="#555" stroke-width="0.90" />
<text x="35.00" y="276.80" font-size="6.00" text-anchor="end" fill="#303030" font-weight="normal" >1.5 × 10<tspan font-size="4.3" dy="-2.7">5</tspan></text>
<line x1="44.70" y1="344.60" x2="44.70" y2="347.70" stroke="#6a6a6a" stroke-width="0.80" />
<text x="47.60" y="353.90" font-size="6.40" text-anchor="end" fill="#303030" font-weight="normal" transform="rotate(-45 47.6 353.9)" >0</text>
<line x1="52.40" y1="344.60" x2="52.40" y2="347.70" stroke="#6a6a6a" stroke-width="0.80" />
<text x="55.30" y="353.90" font-size="6.40" text-anchor="end" fill="#303030" font-weight="normal" transform="rotate(-45 55.3 353.9)" >2</text>
<line x1="60.10" y1="344.60" x2="60.10" y2="347.70" stroke="#6a6a6a" stroke-width="0.80" />
<text x="63.00" y="353.90" font-size="6.40" text-anchor="end" fill="#303030" font-weight="normal" transform="rotate(-45 63 353.9)" >4</text>
<line x1="67.80" y1="344.60" x2="67.80" y2="347.70" stroke="#6a6a6a" stroke-width="0.80" />
<text x="70.70" y="353.90" font-size="6.40" text-anchor="end" fill="#303030" font-weight="normal" transform="rotate(-45 70.7 353.9)" >6</text>
<line x1="75.50" y1="344.60" x2="75.50" y2="347.70" stroke="#6a6a6a" stroke-width="0.80" />
<text x="78.40" y="353.90" font-size="6.40" text-anchor="end" fill="#303030" font-weight="normal" transform="rotate(-45 78.4 353.9)" >8</text>
<line x1="83.20" y1="344.60" x2="83.20" y2="347.70" stroke="#6a6a6a" stroke-width="0.80" />
<text x="86.10" y="353.90" font-size="6.40" text-anchor="end" fill="#303030" font-weight="normal" transform="rotate(-45 86.1 353.9)" >10</text>
<line x1="90.90" y1="344.60" x2="90.90" y2="347.70" stroke="#6a6a6a" stroke-width="0.80" />
<text x="93.80" y="353.90" font-size="6.40" text-anchor="end" fill="#303030" font-weight="normal" transform="rotate(-45 93.8 353.9)" >12</text>
<line x1="98.60" y1="344.60" x2="98.60" y2="347.70" stroke="#6a6a6a" stroke-width="0.80" />
<text x="101.50" y="353.90" font-size="6.40" text-anchor="end" fill="#303030" font-weight="normal" transform="rotate(-45 101.5 353.9)" >14</text>
<line x1="106.30" y1="344.60" x2="106.30" y2="347.70" stroke="#6a6a6a" stroke-width="0.80" />
<text x="109.20" y="353.90" font-size="6.40" text-anchor="end" fill="#303030" font-weight="normal" transform="rotate(-45 109.2 353.9)" >16</text>
<line x1="114.00" y1="344.60" x2="114.00" y2="347.70" stroke="#6a6a6a" stroke-width="0.80" />
<text x="116.90" y="353.90" font-size="6.40" text-anchor="end" fill="#303030" font-weight="normal" transform="rotate(-45 116.9 353.9)" >18</text>
<line x1="121.70" y1="344.60" x2="121.70" y2="347.70" stroke="#6a6a6a" stroke-width="0.80" />
<text x="124.60" y="353.90" font-size="6.40" text-anchor="end" fill="#303030" font-weight="normal" transform="rotate(-45 124.6 353.9)" >20</text>
<line x1="129.40" y1="344.60" x2="129.40" y2="347.70" stroke="#6a6a6a" stroke-width="0.80" />
<text x="132.30" y="353.90" font-size="6.40" text-anchor="end" fill="#303030" font-weight="normal" transform="rotate(-45 132.3 353.9)" >22</text>
<line x1="137.10" y1="344.60" x2="137.10" y2="347.70" stroke="#6a6a6a" stroke-width="0.80" />
<text x="140.00" y="353.90" font-size="6.40" text-anchor="end" fill="#303030" font-weight="normal" transform="rotate(-45 140 353.9)" >24</text>
<line x1="144.80" y1="344.60" x2="144.80" y2="347.70" stroke="#6a6a6a" stroke-width="0.80" />
<text x="147.70" y="353.90" font-size="6.40" text-anchor="end" fill="#303030" font-weight="normal" transform="rotate(-45 147.7 353.9)" >26</text>
<line x1="152.50" y1="344.60" x2="152.50" y2="347.70" stroke="#6a6a6a" stroke-width="0.80" />
<text x="155.40" y="353.90" font-size="6.40" text-anchor="end" fill="#303030" font-weight="normal" transform="rotate(-45 155.4 353.9)" >28</text>
<line x1="160.20" y1="344.60" x2="160.20" y2="347.70" stroke="#6a6a6a" stroke-width="0.80" />
<text x="163.10" y="353.90" font-size="6.40" text-anchor="end" fill="#303030" font-weight="normal" transform="rotate(-45 163.1 353.9)" >30</text>
<line x1="167.90" y1="344.60" x2="167.90" y2="347.70" stroke="#6a6a6a" stroke-width="0.80" />
<text x="170.80" y="353.90" font-size="6.40" text-anchor="end" fill="#303030" font-weight="normal" transform="rotate(-45 170.8 353.9)" >32</text>
<line x1="175.60" y1="344.60" x2="175.60" y2="347.70" stroke="#6a6a6a" stroke-width="0.80" />
<text x="178.50" y="353.90" font-size="6.40" text-anchor="end" fill="#303030" font-weight="normal" transform="rotate(-45 178.5 353.9)" >34</text>
<line x1="183.30" y1="344.60" x2="183.30" y2="347.70" stroke="#6a6a6a" stroke-width="0.80" />
<text x="186.20" y="353.90" font-size="6.40" text-anchor="end" fill="#303030" font-weight="normal" transform="rotate(-45 186.2 353.9)" >36</text>
<line x1="191.00" y1="344.60" x2="191.00" y2="347.70" stroke="#6a6a6a" stroke-width="0.80" />
<text x="193.90" y="353.90" font-size="6.40" text-anchor="end" fill="#303030" font-weight="normal" transform="rotate(-45 193.9 353.9)" >38</text>
<line x1="198.70" y1="344.60" x2="198.70" y2="347.70" stroke="#6a6a6a" stroke-width="0.80" />
<text x="201.60" y="353.90" font-size="6.40" text-anchor="end" fill="#303030" font-weight="normal" transform="rotate(-45 201.6 353.9)" >40</text>
<line x1="44.70" y1="314.50" x2="44.70" y2="324.50" stroke="#a6d9a8" stroke-width="0.55" opacity="0.68"/>
<line x1="43.40" y1="314.50" x2="46.00" y2="314.50" stroke="#a6d9a8" stroke-width="0.55" opacity="0.68"/>
<line x1="43.40" y1="324.50" x2="46.00" y2="324.50" stroke="#a6d9a8" stroke-width="0.55" opacity="0.90"/>
<line x1="52.40" y1="312.85" x2="52.40" y2="323.65" stroke="#a6d9a8" stroke-width="0.55" opacity="0.68"/>
<line x1="51.10" y1="312.85" x2="53.70" y2="312.85" stroke="#a6d9a8" stroke-width="0.55" opacity="0.68"/>
<line x1="51.10" y1="323.65" x2="53.70" y2="323.65" stroke="#a6d9a8" stroke-width="0.55" opacity="0.90"/>
<line x1="60.10" y1="311.20" x2="60.10" y2="322.80" stroke="#a6d9a8" stroke-width="0.55" opacity="0.68"/>
<line x1="58.80" y1="311.20" x2="61.40" y2="311.20" stroke="#a6d9a8" stroke-width="0.55" opacity="0.68"/>
<line x1="58.80" y1="322.80" x2="61.40" y2="322.80" stroke="#a6d9a8" stroke-width="0.55" opacity="0.90"/>
<line x1="67.80" y1="309.55" x2="67.80" y2="321.95" stroke="#a6d9a8" stroke-width="0.55" opacity="0.68"/>
<line x1="66.50" y1="309.55" x2="69.10" y2="309.55" stroke="#a6d9a8" stroke-width="0.55" opacity="0.68"/>
<line x1="66.50" y1="321.95" x2="69.10" y2="321.95" stroke="#a6d9a8" stroke-width="0.55" opacity="0.90"/>
<line x1="75.50" y1="307.90" x2="75.50" y2="321.10" stroke="#a6d9a8" stroke-width="0.55" opacity="0.68"/>
<line x1="74.20" y1="307.90" x2="76.80" y2="307.90" stroke="#a6d9a8" stroke-width="0.55" opacity="0.68"/>
<line x1="74.20" y1="321.10" x2="76.80" y2="321.10" stroke="#a6d9a8" stroke-width="0.55" opacity="0.90"/>
<line x1="83.20" y1="306.50" x2="83.20" y2="320.50" stroke="#a6d9a8" stroke-width="0.55" opacity="0.68"/>
<line x1="81.90" y1="306.50" x2="84.50" y2="306.50" stroke="#a6d9a8" stroke-width="0.55" opacity="0.68"/>
<line x1="81.90" y1="320.50" x2="84.50" y2="320.50" stroke="#a6d9a8" stroke-width="0.55" opacity="0.90"/>
<line x1="90.90" y1="305.10" x2="90.90" y2="319.90" stroke="#a6d9a8" stroke-width="0.55" opacity="0.68"/>
<line x1="89.60" y1="305.10" x2="92.20" y2="305.10" stroke="#a6d9a8" stroke-width="0.55" opacity="0.68"/>
<line x1="89.60" y1="319.90" x2="92.20" y2="319.90" stroke="#a6d9a8" stroke-width="0.55" opacity="0.90"/>
<line x1="98.60" y1="305.20" x2="98.60" y2="320.80" stroke="#a6d9a8" stroke-width="0.55" opacity="0.68"/>
<line x1="97.30" y1="305.20" x2="99.90" y2="305.20" stroke="#a6d9a8" stroke-width="0.55" opacity="0.68"/>
<line x1="97.30" y1="320.80" x2="99.90" y2="320.80" stroke="#a6d9a8" stroke-width="0.55" opacity="0.90"/>
<line x1="106.30" y1="305.30" x2="106.30" y2="321.70" stroke="#a6d9a8" stroke-width="0.55" opacity="0.68"/>
<line x1="105.00" y1="305.30" x2="107.60" y2="305.30" stroke="#a6d9a8" stroke-width="0.55" opacity="0.68"/>
<line x1="105.00" y1="321.70" x2="107.60" y2="321.70" stroke="#a6d9a8" stroke-width="0.55" opacity="0.90"/>
<line x1="114.00" y1="305.65" x2="114.00" y2="322.85" stroke="#a6d9a8" stroke-width="0.55" opacity="0.68"/>
<line x1="112.70" y1="305.65" x2="115.30" y2="305.65" stroke="#a6d9a8" stroke-width="0.55" opacity="0.68"/>
<line x1="112.70" y1="322.85" x2="115.30" y2="322.85" stroke="#a6d9a8" stroke-width="0.55" opacity="0.90"/>
<line x1="121.70" y1="306.00" x2="121.70" y2="324.00" stroke="#a6d9a8" stroke-width="0.55" opacity="0.68"/>
<line x1="120.40" y1="306.00" x2="123.00" y2="306.00" stroke="#a6d9a8" stroke-width="0.55" opacity="0.68"/>
<line x1="120.40" y1="324.00" x2="123.00" y2="324.00" stroke="#a6d9a8" stroke-width="0.55" opacity="0.90"/>
<line x1="129.40" y1="308.65" x2="129.40" y2="326.85" stroke="#a6d9a8" stroke-width="0.55" opacity="0.68"/>
<line x1="128.10" y1="308.65" x2="130.70" y2="308.65" stroke="#a6d9a8" stroke-width="0.55" opacity="0.68"/>
<line x1="128.10" y1="326.85" x2="130.70" y2="326.85" stroke="#a6d9a8" stroke-width="0.55" opacity="0.90"/>
<line x1="137.10" y1="311.30" x2="137.10" y2="329.70" stroke="#a6d9a8" stroke-width="0.55" opacity="0.68"/>
<line x1="135.80" y1="311.30" x2="138.40" y2="311.30" stroke="#a6d9a8" stroke-width="0.55" opacity="0.68"/>
<line x1="135.80" y1="329.70" x2="138.40" y2="329.70" stroke="#a6d9a8" stroke-width="0.55" opacity="0.90"/>
<line x1="144.80" y1="313.90" x2="144.80" y2="332.50" stroke="#a6d9a8" stroke-width="0.55" opacity="0.68"/>
<line x1="143.50" y1="313.90" x2="146.10" y2="313.90" stroke="#a6d9a8" stroke-width="0.55" opacity="0.68"/>
<line x1="143.50" y1="332.50" x2="146.10" y2="332.50" stroke="#a6d9a8" stroke-width="0.55" opacity="0.90"/>
<line x1="152.50" y1="315.00" x2="152.50" y2="333.80" stroke="#a6d9a8" stroke-width="0.55" opacity="0.68"/>
<line x1="151.20" y1="315.00" x2="153.80" y2="315.00" stroke="#a6d9a8" stroke-width="0.55" opacity="0.68"/>
<line x1="151.20" y1="333.80" x2="153.80" y2="333.80" stroke="#a6d9a8" stroke-width="0.55" opacity="0.90"/>
<line x1="160.20" y1="316.10" x2="160.20" y2="335.10" stroke="#a6d9a8" stroke-width="0.55" opacity="0.68"/>
<line x1="158.90" y1="316.10" x2="161.50" y2="316.10" stroke="#a6d9a8" stroke-width="0.55" opacity="0.68"/>
<line x1="158.90" y1="335.10" x2="161.50" y2="335.10" stroke="#a6d9a8" stroke-width="0.55" opacity="0.90"/>
<line x1="167.90" y1="316.80" x2="167.90" y2="336.00" stroke="#a6d9a8" stroke-width="0.55" opacity="0.68"/>
<line x1="166.60" y1="316.80" x2="169.20" y2="316.80" stroke="#a6d9a8" stroke-width="0.55" opacity="0.68"/>
<line x1="166.60" y1="336.00" x2="169.20" y2="336.00" stroke="#a6d9a8" stroke-width="0.55" opacity="0.90"/>
<line x1="175.60" y1="317.50" x2="175.60" y2="336.90" stroke="#a6d9a8" stroke-width="0.55" opacity="0.68"/>
<line x1="174.30" y1="317.50" x2="176.90" y2="317.50" stroke="#a6d9a8" stroke-width="0.55" opacity="0.68"/>
<line x1="174.30" y1="336.90" x2="176.90" y2="336.90" stroke="#a6d9a8" stroke-width="0.55" opacity="0.90"/>
<line x1="183.30" y1="318.35" x2="183.30" y2="337.95" stroke="#a6d9a8" stroke-width="0.55" opacity="0.68"/>
<line x1="182.00" y1="318.35" x2="184.60" y2="318.35" stroke="#a6d9a8" stroke-width="0.55" opacity="0.68"/>
<line x1="182.00" y1="337.95" x2="184.60" y2="337.95" stroke="#a6d9a8" stroke-width="0.55" opacity="0.90"/>
<line x1="191.00" y1="319.20" x2="191.00" y2="339.00" stroke="#a6d9a8" stroke-width="0.55" opacity="0.68"/>
<line x1="189.70" y1="319.20" x2="192.30" y2="319.20" stroke="#a6d9a8" stroke-width="0.55" opacity="0.68"/>
<line x1="189.70" y1="339.00" x2="192.30" y2="339.00" stroke="#a6d9a8" stroke-width="0.55" opacity="0.90"/>
<line x1="198.70" y1="320.30" x2="198.70" y2="340.30" stroke="#a6d9a8" stroke-width="0.55" opacity="0.68"/>
<line x1="197.40" y1="320.30" x2="200.00" y2="320.30" stroke="#a6d9a8" stroke-width="0.55" opacity="0.68"/>
<line x1="197.40" y1="340.30" x2="200.00" y2="340.30" stroke="#a6d9a8" stroke-width="0.55" opacity="0.90"/>
<polyline points="44.70,319.50 52.40,318.25 60.10,317.00 67.80,315.75 75.50,314.50 83.20,313.50 90.90,312.50 98.60,313.00 106.30,313.50 114.00,314.25 121.70,315.00 129.40,317.75 137.10,320.50 144.80,323.20 152.50,324.40 160.20,325.60 167.90,326.40 175.60,327.20 183.30,328.15 191.00,329.10 198.70,330.30" fill="none" stroke="#a6d9a8" stroke-width="0.80"/>
<rect x="43.50" y="318.30" width="2.40" height="2.40" fill="#a6d9a8" stroke="none" stroke-width="1.00" rx="0.00" />
<rect x="51.20" y="317.05" width="2.40" height="2.40" fill="#a6d9a8" stroke="none" stroke-width="1.00" rx="0.00" />
<rect x="58.90" y="315.80" width="2.40" height="2.40" fill="#a6d9a8" stroke="none" stroke-width="1.00" rx="0.00" />
<rect x="66.60" y="314.55" width="2.40" height="2.40" fill="#a6d9a8" stroke="none" stroke-width="1.00" rx="0.00" />
<rect x="74.30" y="313.30" width="2.40" height="2.40" fill="#a6d9a8" stroke="none" stroke-width="1.00" rx="0.00" />
<rect x="82.00" y="312.30" width="2.40" height="2.40" fill="#a6d9a8" stroke="none" stroke-width="1.00" rx="0.00" />
<rect x="89.70" y="311.30" width="2.40" height="2.40" fill="#a6d9a8" stroke="none" stroke-width="1.00" rx="0.00" />
<rect x="97.40" y="311.80" width="2.40" height="2.40" fill="#a6d9a8" stroke="none" stroke-width="1.00" rx="0.00" />
<rect x="105.10" y="312.30" width="2.40" height="2.40" fill="#a6d9a8" stroke="none" stroke-width="1.00" rx="0.00" />
<rect x="112.80" y="313.05" width="2.40" height="2.40" fill="#a6d9a8" stroke="none" stroke-width="1.00" rx="0.00" />
<rect x="120.50" y="313.80" width="2.40" height="2.40" fill="#a6d9a8" stroke="none" stroke-width="1.00" rx="0.00" />
<rect x="128.20" y="316.55" width="2.40" height="2.40" fill="#a6d9a8" stroke="none" stroke-width="1.00" rx="0.00" />
<rect x="135.90" y="319.30" width="2.40" height="2.40" fill="#a6d9a8" stroke="none" stroke-width="1.00" rx="0.00" />
<rect x="143.60" y="322.00" width="2.40" height="2.40" fill="#a6d9a8" stroke="none" stroke-width="1.00" rx="0.00" />
<rect x="151.30" y="323.20" width="2.40" height="2.40" fill="#a6d9a8" stroke="none" stroke-width="1.00" rx="0.00" />
<rect x="159.00" y="324.40" width="2.40" height="2.40" fill="#a6d9a8" stroke="none" stroke-width="1.00" rx="0.00" />
<rect x="166.70" y="325.20" width="2.40" height="2.40" fill="#a6d9a8" stroke="none" stroke-width="1.00" rx="0.00" />
<rect x="174.40" y="326.00" width="2.40" height="2.40" fill="#a6d9a8" stroke="none" stroke-width="1.00" rx="0.00" />
<rect x="182.10" y="326.95" width="2.40" height="2.40" fill="#a6d9a8" stroke="none" stroke-width="1.00" rx="0.00" />
<rect x="189.80" y="327.90" width="2.40" height="2.40" fill="#a6d9a8" stroke="none" stroke-width="1.00" rx="0.00" />
<rect x="197.50" y="329.10" width="2.40" height="2.40" fill="#a6d9a8" stroke="none" stroke-width="1.00" rx="0.00" />
<line x1="44.70" y1="315.00" x2="44.70" y2="325.00" stroke="#5cb85f" stroke-width="0.55" opacity="0.68"/>
<line x1="43.40" y1="315.00" x2="46.00" y2="315.00" stroke="#5cb85f" stroke-width="0.55" opacity="0.68"/>
<line x1="43.40" y1="325.00" x2="46.00" y2="325.00" stroke="#5cb85f" stroke-width="0.55" opacity="0.90"/>
<line x1="52.40" y1="313.88" x2="52.40" y2="323.88" stroke="#5cb85f" stroke-width="0.55" opacity="0.68"/>
<line x1="51.10" y1="313.88" x2="53.70" y2="313.88" stroke="#5cb85f" stroke-width="0.55" opacity="0.68"/>
<line x1="51.10" y1="323.88" x2="53.70" y2="323.88" stroke="#5cb85f" stroke-width="0.55" opacity="0.90"/>
<line x1="60.10" y1="312.75" x2="60.10" y2="322.75" stroke="#5cb85f" stroke-width="0.55" opacity="0.68"/>
<line x1="58.80" y1="312.75" x2="61.40" y2="312.75" stroke="#5cb85f" stroke-width="0.55" opacity="0.68"/>
<line x1="58.80" y1="322.75" x2="61.40" y2="322.75" stroke="#5cb85f" stroke-width="0.55" opacity="0.90"/>
<line x1="67.80" y1="311.62" x2="67.80" y2="321.62" stroke="#5cb85f" stroke-width="0.55" opacity="0.68"/>
<line x1="66.50" y1="311.62" x2="69.10" y2="311.62" stroke="#5cb85f" stroke-width="0.55" opacity="0.68"/>
<line x1="66.50" y1="321.62" x2="69.10" y2="321.62" stroke="#5cb85f" stroke-width="0.55" opacity="0.90"/>
<line x1="75.50" y1="310.50" x2="75.50" y2="320.50" stroke="#5cb85f" stroke-width="0.55" opacity="0.68"/>
<line x1="74.20" y1="310.50" x2="76.80" y2="310.50" stroke="#5cb85f" stroke-width="0.55" opacity="0.68"/>
<line x1="74.20" y1="320.50" x2="76.80" y2="320.50" stroke="#5cb85f" stroke-width="0.55" opacity="0.90"/>
<line x1="83.20" y1="309.25" x2="83.20" y2="319.25" stroke="#5cb85f" stroke-width="0.55" opacity="0.68"/>
<line x1="81.90" y1="309.25" x2="84.50" y2="309.25" stroke="#5cb85f" stroke-width="0.55" opacity="0.68"/>
<line x1="81.90" y1="319.25" x2="84.50" y2="319.25" stroke="#5cb85f" stroke-width="0.55" opacity="0.90"/>
<line x1="90.90" y1="308.00" x2="90.90" y2="318.00" stroke="#5cb85f" stroke-width="0.55" opacity="0.68"/>
<line x1="89.60" y1="308.00" x2="92.20" y2="308.00" stroke="#5cb85f" stroke-width="0.55" opacity="0.68"/>
<line x1="89.60" y1="318.00" x2="92.20" y2="318.00" stroke="#5cb85f" stroke-width="0.55" opacity="0.90"/>
<line x1="98.60" y1="308.25" x2="98.60" y2="318.25" stroke="#5cb85f" stroke-width="0.55" opacity="0.68"/>
<line x1="97.30" y1="308.25" x2="99.90" y2="308.25" stroke="#5cb85f" stroke-width="0.55" opacity="0.68"/>
<line x1="97.30" y1="318.25" x2="99.90" y2="318.25" stroke="#5cb85f" stroke-width="0.55" opacity="0.90"/>
<line x1="106.30" y1="308.50" x2="106.30" y2="318.50" stroke="#5cb85f" stroke-width="0.55" opacity="0.68"/>
<line x1="105.00" y1="308.50" x2="107.60" y2="308.50" stroke="#5cb85f" stroke-width="0.55" opacity="0.68"/>
<line x1="105.00" y1="318.50" x2="107.60" y2="318.50" stroke="#5cb85f" stroke-width="0.55" opacity="0.90"/>
<line x1="114.00" y1="310.00" x2="114.00" y2="320.00" stroke="#5cb85f" stroke-width="0.55" opacity="0.68"/>
<line x1="112.70" y1="310.00" x2="115.30" y2="310.00" stroke="#5cb85f" stroke-width="0.55" opacity="0.68"/>
<line x1="112.70" y1="320.00" x2="115.30" y2="320.00" stroke="#5cb85f" stroke-width="0.55" opacity="0.90"/>
<line x1="121.70" y1="311.50" x2="121.70" y2="321.50" stroke="#5cb85f" stroke-width="0.55" opacity="0.68"/>
<line x1="120.40" y1="311.50" x2="123.00" y2="311.50" stroke="#5cb85f" stroke-width="0.55" opacity="0.68"/>
<line x1="120.40" y1="321.50" x2="123.00" y2="321.50" stroke="#5cb85f" stroke-width="0.55" opacity="0.90"/>
<line x1="129.40" y1="315.75" x2="129.40" y2="325.75" stroke="#5cb85f" stroke-width="0.55" opacity="0.68"/>
<line x1="128.10" y1="315.75" x2="130.70" y2="315.75" stroke="#5cb85f" stroke-width="0.55" opacity="0.68"/>
<line x1="128.10" y1="325.75" x2="130.70" y2="325.75" stroke="#5cb85f" stroke-width="0.55" opacity="0.90"/>
<line x1="137.10" y1="320.00" x2="137.10" y2="330.00" stroke="#5cb85f" stroke-width="0.55" opacity="0.68"/>
<line x1="135.80" y1="320.00" x2="138.40" y2="320.00" stroke="#5cb85f" stroke-width="0.55" opacity="0.68"/>
<line x1="135.80" y1="330.00" x2="138.40" y2="330.00" stroke="#5cb85f" stroke-width="0.55" opacity="0.90"/>
<line x1="144.80" y1="322.75" x2="144.80" y2="332.75" stroke="#5cb85f" stroke-width="0.55" opacity="0.68"/>
<line x1="143.50" y1="322.75" x2="146.10" y2="322.75" stroke="#5cb85f" stroke-width="0.55" opacity="0.68"/>
<line x1="143.50" y1="332.75" x2="146.10" y2="332.75" stroke="#5cb85f" stroke-width="0.55" opacity="0.90"/>
<line x1="152.50" y1="325.50" x2="152.50" y2="335.50" stroke="#5cb85f" stroke-width="0.55" opacity="0.68"/>
<line x1="151.20" y1="325.50" x2="153.80" y2="325.50" stroke="#5cb85f" stroke-width="0.55" opacity="0.68"/>
<line x1="151.20" y1="335.50" x2="153.80" y2="335.50" stroke="#5cb85f" stroke-width="0.55" opacity="0.90"/>
<line x1="160.20" y1="327.25" x2="160.20" y2="337.25" stroke="#5cb85f" stroke-width="0.55" opacity="0.68"/>
<line x1="158.90" y1="327.25" x2="161.50" y2="327.25" stroke="#5cb85f" stroke-width="0.55" opacity="0.68"/>
<line x1="158.90" y1="337.25" x2="161.50" y2="337.25" stroke="#5cb85f" stroke-width="0.55" opacity="0.90"/>
<line x1="167.90" y1="329.00" x2="167.90" y2="339.00" stroke="#5cb85f" stroke-width="0.55" opacity="0.68"/>
<line x1="166.60" y1="329.00" x2="169.20" y2="329.00" stroke="#5cb85f" stroke-width="0.55" opacity="0.68"/>
<line x1="166.60" y1="339.00" x2="169.20" y2="339.00" stroke="#5cb85f" stroke-width="0.55" opacity="0.90"/>
<line x1="175.60" y1="330.00" x2="175.60" y2="340.00" stroke="#5cb85f" stroke-width="0.55" opacity="0.68"/>
<line x1="174.30" y1="330.00" x2="176.90" y2="330.00" stroke="#5cb85f" stroke-width="0.55" opacity="0.68"/>
<line x1="174.30" y1="340.00" x2="176.90" y2="340.00" stroke="#5cb85f" stroke-width="0.55" opacity="0.90"/>
<line x1="183.30" y1="331.00" x2="183.30" y2="341.00" stroke="#5cb85f" stroke-width="0.55" opacity="0.68"/>
<line x1="182.00" y1="331.00" x2="184.60" y2="331.00" stroke="#5cb85f" stroke-width="0.55" opacity="0.68"/>
<line x1="182.00" y1="341.00" x2="184.60" y2="341.00" stroke="#5cb85f" stroke-width="0.55" opacity="0.90"/>
<line x1="191.00" y1="331.90" x2="191.00" y2="341.90" stroke="#5cb85f" stroke-width="0.55" opacity="0.68"/>
<line x1="189.70" y1="331.90" x2="192.30" y2="331.90" stroke="#5cb85f" stroke-width="0.55" opacity="0.68"/>
<line x1="189.70" y1="341.90" x2="192.30" y2="341.90" stroke="#5cb85f" stroke-width="0.55" opacity="0.90"/>
<line x1="198.70" y1="332.80" x2="198.70" y2="342.80" stroke="#5cb85f" stroke-width="0.55" opacity="0.68"/>
<line x1="197.40" y1="332.80" x2="200.00" y2="332.80" stroke="#5cb85f" stroke-width="0.55" opacity="0.68"/>
<line x1="197.40" y1="342.80" x2="200.00" y2="342.80" stroke="#5cb85f" stroke-width="0.55" opacity="0.90"/>
<polyline points="44.70,320.00 52.40,318.88 60.10,317.75 67.80,316.62 75.50,315.50 83.20,314.25 90.90,313.00 98.60,313.25 106.30,313.50 114.00,315.00 121.70,316.50 129.40,320.75 137.10,325.00 144.80,327.75 152.50,330.50 160.20,332.25 167.90,334.00 175.60,335.00 183.30,336.00 191.00,336.90 198.70,337.80" fill="none" stroke="#5cb85f" stroke-width="0.80"/>
<rect x="43.50" y="318.80" width="2.40" height="2.40" fill="#5cb85f" stroke="none" stroke-width="1.00" rx="0.00" />
<rect x="51.20" y="317.68" width="2.40" height="2.40" fill="#5cb85f" stroke="none" stroke-width="1.00" rx="0.00" />
<rect x="58.90" y="316.55" width="2.40" height="2.40" fill="#5cb85f" stroke="none" stroke-width="1.00" rx="0.00" />
<rect x="66.60" y="315.43" width="2.40" height="2.40" fill="#5cb85f" stroke="none" stroke-width="1.00" rx="0.00" />
<rect x="74.30" y="314.30" width="2.40" height="2.40" fill="#5cb85f" stroke="none" stroke-width="1.00" rx="0.00" />
<rect x="82.00" y="313.05" width="2.40" height="2.40" fill="#5cb85f" stroke="none" stroke-width="1.00" rx="0.00" />
<rect x="89.70" y="311.80" width="2.40" height="2.40" fill="#5cb85f" stroke="none" stroke-width="1.00" rx="0.00" />
<rect x="97.40" y="312.05" width="2.40" height="2.40" fill="#5cb85f" stroke="none" stroke-width="1.00" rx="0.00" />
<rect x="105.10" y="312.30" width="2.40" height="2.40" fill="#5cb85f" stroke="none" stroke-width="1.00" rx="0.00" />
<rect x="112.80" y="313.80" width="2.40" height="2.40" fill="#5cb85f" stroke="none" stroke-width="1.00" rx="0.00" />
<rect x="120.50" y="315.30" width="2.40" height="2.40" fill="#5cb85f" stroke="none" stroke-width="1.00" rx="0.00" />
<rect x="128.20" y="319.55" width="2.40" height="2.40" fill="#5cb85f" stroke="none" stroke-width="1.00" rx="0.00" />
<rect x="135.90" y="323.80" width="2.40" height="2.40" fill="#5cb85f" stroke="none" stroke-width="1.00" rx="0.00" />
<rect x="143.60" y="326.55" width="2.40" height="2.40" fill="#5cb85f" stroke="none" stroke-width="1.00" rx="0.00" />
<rect x="151.30" y="329.30" width="2.40" height="2.40" fill="#5cb85f" stroke="none" stroke-width="1.00" rx="0.00" />
<rect x="159.00" y="331.05" width="2.40" height="2.40" fill="#5cb85f" stroke="none" stroke-width="1.00" rx="0.00" />
<rect x="166.70" y="332.80" width="2.40" height="2.40" fill="#5cb85f" stroke="none" stroke-width="1.00" rx="0.00" />
<rect x="174.40" y="333.80" width="2.40" height="2.40" fill="#5cb85f" stroke="none" stroke-width="1.00" rx="0.00" />
<rect x="182.10" y="334.80" width="2.40" height="2.40" fill="#5cb85f" stroke="none" stroke-width="1.00" rx="0.00" />
<rect x="189.80" y="335.70" width="2.40" height="2.40" fill="#5cb85f" stroke="none" stroke-width="1.00" rx="0.00" />
<rect x="197.50" y="336.60" width="2.40" height="2.40" fill="#5cb85f" stroke="none" stroke-width="1.00" rx="0.00" />
<line x1="44.70" y1="314.00" x2="44.70" y2="324.00" stroke="#3fa34d" stroke-width="0.55" opacity="0.68"/>
<line x1="43.40" y1="314.00" x2="46.00" y2="314.00" stroke="#3fa34d" stroke-width="0.55" opacity="0.68"/>
<line x1="43.40" y1="324.00" x2="46.00" y2="324.00" stroke="#3fa34d" stroke-width="0.55" opacity="0.90"/>
<line x1="52.40" y1="312.75" x2="52.40" y2="322.75" stroke="#3fa34d" stroke-width="0.55" opacity="0.68"/>
<line x1="51.10" y1="312.75" x2="53.70" y2="312.75" stroke="#3fa34d" stroke-width="0.55" opacity="0.68"/>
<line x1="51.10" y1="322.75" x2="53.70" y2="322.75" stroke="#3fa34d" stroke-width="0.55" opacity="0.90"/>
<line x1="60.10" y1="311.50" x2="60.10" y2="321.50" stroke="#3fa34d" stroke-width="0.55" opacity="0.68"/>
<line x1="58.80" y1="311.50" x2="61.40" y2="311.50" stroke="#3fa34d" stroke-width="0.55" opacity="0.68"/>
<line x1="58.80" y1="321.50" x2="61.40" y2="321.50" stroke="#3fa34d" stroke-width="0.55" opacity="0.90"/>
<line x1="67.80" y1="310.25" x2="67.80" y2="320.25" stroke="#3fa34d" stroke-width="0.55" opacity="0.68"/>
<line x1="66.50" y1="310.25" x2="69.10" y2="310.25" stroke="#3fa34d" stroke-width="0.55" opacity="0.68"/>
<line x1="66.50" y1="320.25" x2="69.10" y2="320.25" stroke="#3fa34d" stroke-width="0.55" opacity="0.90"/>
<line x1="75.50" y1="309.00" x2="75.50" y2="319.00" stroke="#3fa34d" stroke-width="0.55" opacity="0.68"/>
<line x1="74.20" y1="309.00" x2="76.80" y2="309.00" stroke="#3fa34d" stroke-width="0.55" opacity="0.68"/>
<line x1="74.20" y1="319.00" x2="76.80" y2="319.00" stroke="#3fa34d" stroke-width="0.55" opacity="0.90"/>
<line x1="83.20" y1="307.75" x2="83.20" y2="317.75" stroke="#3fa34d" stroke-width="0.55" opacity="0.68"/>
<line x1="81.90" y1="307.75" x2="84.50" y2="307.75" stroke="#3fa34d" stroke-width="0.55" opacity="0.68"/>
<line x1="81.90" y1="317.75" x2="84.50" y2="317.75" stroke="#3fa34d" stroke-width="0.55" opacity="0.90"/>
<line x1="90.90" y1="306.50" x2="90.90" y2="316.50" stroke="#3fa34d" stroke-width="0.55" opacity="0.68"/>
<line x1="89.60" y1="306.50" x2="92.20" y2="306.50" stroke="#3fa34d" stroke-width="0.55" opacity="0.68"/>
<line x1="89.60" y1="316.50" x2="92.20" y2="316.50" stroke="#3fa34d" stroke-width="0.55" opacity="0.90"/>
<line x1="98.60" y1="306.75" x2="98.60" y2="316.75" stroke="#3fa34d" stroke-width="0.55" opacity="0.68"/>
<line x1="97.30" y1="306.75" x2="99.90" y2="306.75" stroke="#3fa34d" stroke-width="0.55" opacity="0.68"/>
<line x1="97.30" y1="316.75" x2="99.90" y2="316.75" stroke="#3fa34d" stroke-width="0.55" opacity="0.90"/>
<line x1="106.30" y1="307.00" x2="106.30" y2="317.00" stroke="#3fa34d" stroke-width="0.55" opacity="0.68"/>
<line x1="105.00" y1="307.00" x2="107.60" y2="307.00" stroke="#3fa34d" stroke-width="0.55" opacity="0.68"/>
<line x1="105.00" y1="317.00" x2="107.60" y2="317.00" stroke="#3fa34d" stroke-width="0.55" opacity="0.90"/>
<line x1="114.00" y1="308.00" x2="114.00" y2="318.00" stroke="#3fa34d" stroke-width="0.55" opacity="0.68"/>
<line x1="112.70" y1="308.00" x2="115.30" y2="308.00" stroke="#3fa34d" stroke-width="0.55" opacity="0.68"/>
<line x1="112.70" y1="318.00" x2="115.30" y2="318.00" stroke="#3fa34d" stroke-width="0.55" opacity="0.90"/>
<line x1="121.70" y1="309.00" x2="121.70" y2="319.00" stroke="#3fa34d" stroke-width="0.55" opacity="0.68"/>
<line x1="120.40" y1="309.00" x2="123.00" y2="309.00" stroke="#3fa34d" stroke-width="0.55" opacity="0.68"/>
<line x1="120.40" y1="319.00" x2="123.00" y2="319.00" stroke="#3fa34d" stroke-width="0.55" opacity="0.90"/>
<line x1="129.40" y1="313.25" x2="129.40" y2="323.25" stroke="#3fa34d" stroke-width="0.55" opacity="0.68"/>
<line x1="128.10" y1="313.25" x2="130.70" y2="313.25" stroke="#3fa34d" stroke-width="0.55" opacity="0.68"/>
<line x1="128.10" y1="323.25" x2="130.70" y2="323.25" stroke="#3fa34d" stroke-width="0.55" opacity="0.90"/>
<line x1="137.10" y1="317.50" x2="137.10" y2="327.50" stroke="#3fa34d" stroke-width="0.55" opacity="0.68"/>
<line x1="135.80" y1="317.50" x2="138.40" y2="317.50" stroke="#3fa34d" stroke-width="0.55" opacity="0.68"/>
<line x1="135.80" y1="327.50" x2="138.40" y2="327.50" stroke="#3fa34d" stroke-width="0.55" opacity="0.90"/>
<line x1="144.80" y1="320.50" x2="144.80" y2="330.50" stroke="#3fa34d" stroke-width="0.55" opacity="0.68"/>
<line x1="143.50" y1="320.50" x2="146.10" y2="320.50" stroke="#3fa34d" stroke-width="0.55" opacity="0.68"/>
<line x1="143.50" y1="330.50" x2="146.10" y2="330.50" stroke="#3fa34d" stroke-width="0.55" opacity="0.90"/>
<line x1="152.50" y1="323.50" x2="152.50" y2="333.50" stroke="#3fa34d" stroke-width="0.55" opacity="0.68"/>
<line x1="151.20" y1="323.50" x2="153.80" y2="323.50" stroke="#3fa34d" stroke-width="0.55" opacity="0.68"/>
<line x1="151.20" y1="333.50" x2="153.80" y2="333.50" stroke="#3fa34d" stroke-width="0.55" opacity="0.90"/>
<line x1="160.20" y1="325.75" x2="160.20" y2="335.75" stroke="#3fa34d" stroke-width="0.55" opacity="0.68"/>
<line x1="158.90" y1="325.75" x2="161.50" y2="325.75" stroke="#3fa34d" stroke-width="0.55" opacity="0.68"/>
<line x1="158.90" y1="335.75" x2="161.50" y2="335.75" stroke="#3fa34d" stroke-width="0.55" opacity="0.90"/>
<line x1="167.90" y1="328.00" x2="167.90" y2="338.00" stroke="#3fa34d" stroke-width="0.55" opacity="0.68"/>
<line x1="166.60" y1="328.00" x2="169.20" y2="328.00" stroke="#3fa34d" stroke-width="0.55" opacity="0.68"/>
<line x1="166.60" y1="338.00" x2="169.20" y2="338.00" stroke="#3fa34d" stroke-width="0.55" opacity="0.90"/>
<line x1="175.60" y1="329.25" x2="175.60" y2="339.25" stroke="#3fa34d" stroke-width="0.55" opacity="0.68"/>
<line x1="174.30" y1="329.25" x2="176.90" y2="329.25" stroke="#3fa34d" stroke-width="0.55" opacity="0.68"/>
<line x1="174.30" y1="339.25" x2="176.90" y2="339.25" stroke="#3fa34d" stroke-width="0.55" opacity="0.90"/>
<line x1="183.30" y1="330.50" x2="183.30" y2="340.50" stroke="#3fa34d" stroke-width="0.55" opacity="0.68"/>
<line x1="182.00" y1="330.50" x2="184.60" y2="330.50" stroke="#3fa34d" stroke-width="0.55" opacity="0.68"/>
<line x1="182.00" y1="340.50" x2="184.60" y2="340.50" stroke="#3fa34d" stroke-width="0.55" opacity="0.90"/>
<line x1="191.00" y1="331.25" x2="191.00" y2="341.25" stroke="#3fa34d" stroke-width="0.55" opacity="0.68"/>
<line x1="189.70" y1="331.25" x2="192.30" y2="331.25" stroke="#3fa34d" stroke-width="0.55" opacity="0.68"/>
<line x1="189.70" y1="341.25" x2="192.30" y2="341.25" stroke="#3fa34d" stroke-width="0.55" opacity="0.90"/>
<line x1="198.70" y1="332.00" x2="198.70" y2="342.00" stroke="#3fa34d" stroke-width="0.55" opacity="0.68"/>
<line x1="197.40" y1="332.00" x2="200.00" y2="332.00" stroke="#3fa34d" stroke-width="0.55" opacity="0.68"/>
<line x1="197.40" y1="342.00" x2="200.00" y2="342.00" stroke="#3fa34d" stroke-width="0.55" opacity="0.90"/>
<polyline points="44.70,319.00 52.40,317.75 60.10,316.50 67.80,315.25 75.50,314.00 83.20,312.75 90.90,311.50 98.60,311.75 106.30,312.00 114.00,313.00 121.70,314.00 129.40,318.25 137.10,322.50 144.80,325.50 152.50,328.50 160.20,330.75 167.90,333.00 175.60,334.25 183.30,335.50 191.00,336.25 198.70,337.00" fill="none" stroke="#3fa34d" stroke-width="0.80"/>
<rect x="43.50" y="317.80" width="2.40" height="2.40" fill="#3fa34d" stroke="none" stroke-width="1.00" rx="0.00" />
<rect x="51.20" y="316.55" width="2.40" height="2.40" fill="#3fa34d" stroke="none" stroke-width="1.00" rx="0.00" />
<rect x="58.90" y="315.30" width="2.40" height="2.40" fill="#3fa34d" stroke="none" stroke-width="1.00" rx="0.00" />
<rect x="66.60" y="314.05" width="2.40" height="2.40" fill="#3fa34d" stroke="none" stroke-width="1.00" rx="0.00" />
<rect x="74.30" y="312.80" width="2.40" height="2.40" fill="#3fa34d" stroke="none" stroke-width="1.00" rx="0.00" />
<rect x="82.00" y="311.55" width="2.40" height="2.40" fill="#3fa34d" stroke="none" stroke-width="1.00" rx="0.00" />
<rect x="89.70" y="310.30" width="2.40" height="2.40" fill="#3fa34d" stroke="none" stroke-width="1.00" rx="0.00" />
<rect x="97.40" y="310.55" width="2.40" height="2.40" fill="#3fa34d" stroke="none" stroke-width="1.00" rx="0.00" />
<rect x="105.10" y="310.80" width="2.40" height="2.40" fill="#3fa34d" stroke="none" stroke-width="1.00" rx="0.00" />
<rect x="112.80" y="311.80" width="2.40" height="2.40" fill="#3fa34d" stroke="none" stroke-width="1.00" rx="0.00" />
<rect x="120.50" y="312.80" width="2.40" height="2.40" fill="#3fa34d" stroke="none" stroke-width="1.00" rx="0.00" />
<rect x="128.20" y="317.05" width="2.40" height="2.40" fill="#3fa34d" stroke="none" stroke-width="1.00" rx="0.00" />
<rect x="135.90" y="321.30" width="2.40" height="2.40" fill="#3fa34d" stroke="none" stroke-width="1.00" rx="0.00" />
<rect x="143.60" y="324.30" width="2.40" height="2.40" fill="#3fa34d" stroke="none" stroke-width="1.00" rx="0.00" />
<rect x="151.30" y="327.30" width="2.40" height="2.40" fill="#3fa34d" stroke="none" stroke-width="1.00" rx="0.00" />
<rect x="159.00" y="329.55" width="2.40" height="2.40" fill="#3fa34d" stroke="none" stroke-width="1.00" rx="0.00" />
<rect x="166.70" y="331.80" width="2.40" height="2.40" fill="#3fa34d" stroke="none" stroke-width="1.00" rx="0.00" />
<rect x="174.40" y="333.05" width="2.40" height="2.40" fill="#3fa34d" stroke="none" stroke-width="1.00" rx="0.00" />
<rect x="182.10" y="334.30" width="2.40" height="2.40" fill="#3fa34d" stroke="none" stroke-width="1.00" rx="0.00" />
<rect x="189.80" y="335.05" width="2.40" height="2.40" fill="#3fa34d" stroke="none" stroke-width="1.00" rx="0.00" />
<rect x="197.50" y="335.80" width="2.40" height="2.40" fill="#3fa34d" stroke="none" stroke-width="1.00" rx="0.00" />
<line x1="44.70" y1="312.00" x2="44.70" y2="322.00" stroke="#1f8f3f" stroke-width="0.55" opacity="0.68"/>
<line x1="43.40" y1="312.00" x2="46.00" y2="312.00" stroke="#1f8f3f" stroke-width="0.55" opacity="0.68"/>
<line x1="43.40" y1="322.00" x2="46.00" y2="322.00" stroke="#1f8f3f" stroke-width="0.55" opacity="0.90"/>
<line x1="52.40" y1="310.50" x2="52.40" y2="320.50" stroke="#1f8f3f" stroke-width="0.55" opacity="0.68"/>
<line x1="51.10" y1="310.50" x2="53.70" y2="310.50" stroke="#1f8f3f" stroke-width="0.55" opacity="0.68"/>
<line x1="51.10" y1="320.50" x2="53.70" y2="320.50" stroke="#1f8f3f" stroke-width="0.55" opacity="0.90"/>
<line x1="60.10" y1="309.00" x2="60.10" y2="319.00" stroke="#1f8f3f" stroke-width="0.55" opacity="0.68"/>
<line x1="58.80" y1="309.00" x2="61.40" y2="309.00" stroke="#1f8f3f" stroke-width="0.55" opacity="0.68"/>
<line x1="58.80" y1="319.00" x2="61.40" y2="319.00" stroke="#1f8f3f" stroke-width="0.55" opacity="0.90"/>
<line x1="67.80" y1="307.50" x2="67.80" y2="317.50" stroke="#1f8f3f" stroke-width="0.55" opacity="0.68"/>
<line x1="66.50" y1="307.50" x2="69.10" y2="307.50" stroke="#1f8f3f" stroke-width="0.55" opacity="0.68"/>
<line x1="66.50" y1="317.50" x2="69.10" y2="317.50" stroke="#1f8f3f" stroke-width="0.55" opacity="0.90"/>
<line x1="75.50" y1="306.00" x2="75.50" y2="316.00" stroke="#1f8f3f" stroke-width="0.55" opacity="0.68"/>
<line x1="74.20" y1="306.00" x2="76.80" y2="306.00" stroke="#1f8f3f" stroke-width="0.55" opacity="0.68"/>
<line x1="74.20" y1="316.00" x2="76.80" y2="316.00" stroke="#1f8f3f" stroke-width="0.55" opacity="0.90"/>
<line x1="83.20" y1="305.00" x2="83.20" y2="315.00" stroke="#1f8f3f" stroke-width="0.55" opacity="0.68"/>
<line x1="81.90" y1="305.00" x2="84.50" y2="305.00" stroke="#1f8f3f" stroke-width="0.55" opacity="0.68"/>
<line x1="81.90" y1="315.00" x2="84.50" y2="315.00" stroke="#1f8f3f" stroke-width="0.55" opacity="0.90"/>
<line x1="90.90" y1="304.00" x2="90.90" y2="314.00" stroke="#1f8f3f" stroke-width="0.55" opacity="0.68"/>
<line x1="89.60" y1="304.00" x2="92.20" y2="304.00" stroke="#1f8f3f" stroke-width="0.55" opacity="0.68"/>
<line x1="89.60" y1="314.00" x2="92.20" y2="314.00" stroke="#1f8f3f" stroke-width="0.55" opacity="0.90"/>
<line x1="98.60" y1="304.25" x2="98.60" y2="314.25" stroke="#1f8f3f" stroke-width="0.55" opacity="0.68"/>
<line x1="97.30" y1="304.25" x2="99.90" y2="304.25" stroke="#1f8f3f" stroke-width="0.55" opacity="0.68"/>
<line x1="97.30" y1="314.25" x2="99.90" y2="314.25" stroke="#1f8f3f" stroke-width="0.55" opacity="0.90"/>
<line x1="106.30" y1="304.50" x2="106.30" y2="314.50" stroke="#1f8f3f" stroke-width="0.55" opacity="0.68"/>
<line x1="105.00" y1="304.50" x2="107.60" y2="304.50" stroke="#1f8f3f" stroke-width="0.55" opacity="0.68"/>
<line x1="105.00" y1="314.50" x2="107.60" y2="314.50" stroke="#1f8f3f" stroke-width="0.55" opacity="0.90"/>
<line x1="114.00" y1="301.85" x2="114.00" y2="311.85" stroke="#1f8f3f" stroke-width="0.55" opacity="0.68"/>
<line x1="112.70" y1="301.85" x2="115.30" y2="301.85" stroke="#1f8f3f" stroke-width="0.55" opacity="0.68"/>
<line x1="112.70" y1="311.85" x2="115.30" y2="311.85" stroke="#1f8f3f" stroke-width="0.55" opacity="0.90"/>
<line x1="121.70" y1="299.20" x2="121.70" y2="309.20" stroke="#1f8f3f" stroke-width="0.55" opacity="0.68"/>
<line x1="120.40" y1="299.20" x2="123.00" y2="299.20" stroke="#1f8f3f" stroke-width="0.55" opacity="0.68"/>
<line x1="120.40" y1="309.20" x2="123.00" y2="309.20" stroke="#1f8f3f" stroke-width="0.55" opacity="0.90"/>
<line x1="129.40" y1="307.50" x2="129.40" y2="317.50" stroke="#1f8f3f" stroke-width="0.55" opacity="0.68"/>
<line x1="128.10" y1="307.50" x2="130.70" y2="307.50" stroke="#1f8f3f" stroke-width="0.55" opacity="0.68"/>
<line x1="128.10" y1="317.50" x2="130.70" y2="317.50" stroke="#1f8f3f" stroke-width="0.55" opacity="0.90"/>
<line x1="137.10" y1="314.60" x2="137.10" y2="324.60" stroke="#1f8f3f" stroke-width="0.55" opacity="0.68"/>
<line x1="135.80" y1="314.60" x2="138.40" y2="314.60" stroke="#1f8f3f" stroke-width="0.55" opacity="0.68"/>
<line x1="135.80" y1="324.60" x2="138.40" y2="324.60" stroke="#1f8f3f" stroke-width="0.55" opacity="0.90"/>
<line x1="144.80" y1="318.05" x2="144.80" y2="328.05" stroke="#1f8f3f" stroke-width="0.55" opacity="0.68"/>
<line x1="143.50" y1="318.05" x2="146.10" y2="318.05" stroke="#1f8f3f" stroke-width="0.55" opacity="0.68"/>
<line x1="143.50" y1="328.05" x2="146.10" y2="328.05" stroke="#1f8f3f" stroke-width="0.55" opacity="0.90"/>
<line x1="152.50" y1="321.50" x2="152.50" y2="331.50" stroke="#1f8f3f" stroke-width="0.55" opacity="0.68"/>
<line x1="151.20" y1="321.50" x2="153.80" y2="321.50" stroke="#1f8f3f" stroke-width="0.55" opacity="0.68"/>
<line x1="151.20" y1="331.50" x2="153.80" y2="331.50" stroke="#1f8f3f" stroke-width="0.55" opacity="0.90"/>
<line x1="160.20" y1="324.00" x2="160.20" y2="334.00" stroke="#1f8f3f" stroke-width="0.55" opacity="0.68"/>
<line x1="158.90" y1="324.00" x2="161.50" y2="324.00" stroke="#1f8f3f" stroke-width="0.55" opacity="0.68"/>
<line x1="158.90" y1="334.00" x2="161.50" y2="334.00" stroke="#1f8f3f" stroke-width="0.55" opacity="0.90"/>
<line x1="167.90" y1="326.50" x2="167.90" y2="336.50" stroke="#1f8f3f" stroke-width="0.55" opacity="0.68"/>
<line x1="166.60" y1="326.50" x2="169.20" y2="326.50" stroke="#1f8f3f" stroke-width="0.55" opacity="0.68"/>
<line x1="166.60" y1="336.50" x2="169.20" y2="336.50" stroke="#1f8f3f" stroke-width="0.55" opacity="0.90"/>
<line x1="175.60" y1="328.00" x2="175.60" y2="338.00" stroke="#1f8f3f" stroke-width="0.55" opacity="0.68"/>
<line x1="174.30" y1="328.00" x2="176.90" y2="328.00" stroke="#1f8f3f" stroke-width="0.55" opacity="0.68"/>
<line x1="174.30" y1="338.00" x2="176.90" y2="338.00" stroke="#1f8f3f" stroke-width="0.55" opacity="0.90"/>
<line x1="183.30" y1="329.50" x2="183.30" y2="339.50" stroke="#1f8f3f" stroke-width="0.55" opacity="0.68"/>
<line x1="182.00" y1="329.50" x2="184.60" y2="329.50" stroke="#1f8f3f" stroke-width="0.55" opacity="0.68"/>
<line x1="182.00" y1="339.50" x2="184.60" y2="339.50" stroke="#1f8f3f" stroke-width="0.55" opacity="0.90"/>
<line x1="191.00" y1="330.40" x2="191.00" y2="340.40" stroke="#1f8f3f" stroke-width="0.55" opacity="0.68"/>
<line x1="189.70" y1="330.40" x2="192.30" y2="330.40" stroke="#1f8f3f" stroke-width="0.55" opacity="0.68"/>
<line x1="189.70" y1="340.40" x2="192.30" y2="340.40" stroke="#1f8f3f" stroke-width="0.55" opacity="0.90"/>
<line x1="198.70" y1="331.30" x2="198.70" y2="341.30" stroke="#1f8f3f" stroke-width="0.55" opacity="0.68"/>
<line x1="197.40" y1="331.30" x2="200.00" y2="331.30" stroke="#1f8f3f" stroke-width="0.55" opacity="0.68"/>
<line x1="197.40" y1="341.30" x2="200.00" y2="341.30" stroke="#1f8f3f" stroke-width="0.55" opacity="0.90"/>
<polyline points="44.70,317.00 52.40,315.50 60.10,314.00 67.80,312.50 75.50,311.00 83.20,310.00 90.90,309.00 98.60,309.25 106.30,309.50 114.00,306.85 121.70,304.20 129.40,312.50 137.10,319.60 144.80,323.05 152.50,326.50 160.20,329.00 167.90,331.50 175.60,333.00 183.30,334.50 191.00,335.40 198.70,336.30" fill="none" stroke="#1f8f3f" stroke-width="0.80"/>
<rect x="43.50" y="315.80" width="2.40" height="2.40" fill="#1f8f3f" stroke="none" stroke-width="1.00" rx="0.00" />
<rect x="51.20" y="314.30" width="2.40" height="2.40" fill="#1f8f3f" stroke="none" stroke-width="1.00" rx="0.00" />
<rect x="58.90" y="312.80" width="2.40" height="2.40" fill="#1f8f3f" stroke="none" stroke-width="1.00" rx="0.00" />
<rect x="66.60" y="311.30" width="2.40" height="2.40" fill="#1f8f3f" stroke="none" stroke-width="1.00" rx="0.00" />
<rect x="74.30" y="309.80" width="2.40" height="2.40" fill="#1f8f3f" stroke="none" stroke-width="1.00" rx="0.00" />
<rect x="82.00" y="308.80" width="2.40" height="2.40" fill="#1f8f3f" stroke="none" stroke-width="1.00" rx="0.00" />
<rect x="89.70" y="307.80" width="2.40" height="2.40" fill="#1f8f3f" stroke="none" stroke-width="1.00" rx="0.00" />
<rect x="97.40" y="308.05" width="2.40" height="2.40" fill="#1f8f3f" stroke="none" stroke-width="1.00" rx="0.00" />
<rect x="105.10" y="308.30" width="2.40" height="2.40" fill="#1f8f3f" stroke="none" stroke-width="1.00" rx="0.00" />
<rect x="112.80" y="305.65" width="2.40" height="2.40" fill="#1f8f3f" stroke="none" stroke-width="1.00" rx="0.00" />
<rect x="120.50" y="303.00" width="2.40" height="2.40" fill="#1f8f3f" stroke="none" stroke-width="1.00" rx="0.00" />
<rect x="128.20" y="311.30" width="2.40" height="2.40" fill="#1f8f3f" stroke="none" stroke-width="1.00" rx="0.00" />
<rect x="135.90" y="318.40" width="2.40" height="2.40" fill="#1f8f3f" stroke="none" stroke-width="1.00" rx="0.00" />
<rect x="143.60" y="321.85" width="2.40" height="2.40" fill="#1f8f3f" stroke="none" stroke-width="1.00" rx="0.00" />
<rect x="151.30" y="325.30" width="2.40" height="2.40" fill="#1f8f3f" stroke="none" stroke-width="1.00" rx="0.00" />
<rect x="159.00" y="327.80" width="2.40" height="2.40" fill="#1f8f3f" stroke="none" stroke-width="1.00" rx="0.00" />
<rect x="166.70" y="330.30" width="2.40" height="2.40" fill="#1f8f3f" stroke="none" stroke-width="1.00" rx="0.00" />
<rect x="174.40" y="331.80" width="2.40" height="2.40" fill="#1f8f3f" stroke="none" stroke-width="1.00" rx="0.00" />
<rect x="182.10" y="333.30" width="2.40" height="2.40" fill="#1f8f3f" stroke="none" stroke-width="1.00" rx="0.00" />
<rect x="189.80" y="334.20" width="2.40" height="2.40" fill="#1f8f3f" stroke="none" stroke-width="1.00" rx="0.00" />
<rect x="197.50" y="335.10" width="2.40" height="2.40" fill="#1f8f3f" stroke="none" stroke-width="1.00" rx="0.00" />
<line x1="44.70" y1="311.00" x2="44.70" y2="321.00" stroke="#0e5e2a" stroke-width="0.55" opacity="0.68"/>
<line x1="43.40" y1="311.00" x2="46.00" y2="311.00" stroke="#0e5e2a" stroke-width="0.55" opacity="0.68"/>
<line x1="43.40" y1="321.00" x2="46.00" y2="321.00" stroke="#0e5e2a" stroke-width="0.55" opacity="0.90"/>
<line x1="52.40" y1="309.50" x2="52.40" y2="319.50" stroke="#0e5e2a" stroke-width="0.55" opacity="0.68"/>
<line x1="51.10" y1="309.50" x2="53.70" y2="309.50" stroke="#0e5e2a" stroke-width="0.55" opacity="0.68"/>
<line x1="51.10" y1="319.50" x2="53.70" y2="319.50" stroke="#0e5e2a" stroke-width="0.55" opacity="0.90"/>
<line x1="60.10" y1="308.00" x2="60.10" y2="318.00" stroke="#0e5e2a" stroke-width="0.55" opacity="0.68"/>
<line x1="58.80" y1="308.00" x2="61.40" y2="308.00" stroke="#0e5e2a" stroke-width="0.55" opacity="0.68"/>
<line x1="58.80" y1="318.00" x2="61.40" y2="318.00" stroke="#0e5e2a" stroke-width="0.55" opacity="0.90"/>
<line x1="67.80" y1="306.50" x2="67.80" y2="316.50" stroke="#0e5e2a" stroke-width="0.55" opacity="0.68"/>
<line x1="66.50" y1="306.50" x2="69.10" y2="306.50" stroke="#0e5e2a" stroke-width="0.55" opacity="0.68"/>
<line x1="66.50" y1="316.50" x2="69.10" y2="316.50" stroke="#0e5e2a" stroke-width="0.55" opacity="0.90"/>
<line x1="75.50" y1="305.00" x2="75.50" y2="315.00" stroke="#0e5e2a" stroke-width="0.55" opacity="0.68"/>
<line x1="74.20" y1="305.00" x2="76.80" y2="305.00" stroke="#0e5e2a" stroke-width="0.55" opacity="0.68"/>
<line x1="74.20" y1="315.00" x2="76.80" y2="315.00" stroke="#0e5e2a" stroke-width="0.55" opacity="0.90"/>
<line x1="83.20" y1="304.25" x2="83.20" y2="314.25" stroke="#0e5e2a" stroke-width="0.55" opacity="0.68"/>
<line x1="81.90" y1="304.25" x2="84.50" y2="304.25" stroke="#0e5e2a" stroke-width="0.55" opacity="0.68"/>
<line x1="81.90" y1="314.25" x2="84.50" y2="314.25" stroke="#0e5e2a" stroke-width="0.55" opacity="0.90"/>
<line x1="90.90" y1="303.50" x2="90.90" y2="313.50" stroke="#0e5e2a" stroke-width="0.55" opacity="0.68"/>
<line x1="89.60" y1="303.50" x2="92.20" y2="303.50" stroke="#0e5e2a" stroke-width="0.55" opacity="0.68"/>
<line x1="89.60" y1="313.50" x2="92.20" y2="313.50" stroke="#0e5e2a" stroke-width="0.55" opacity="0.90"/>
<line x1="98.60" y1="303.75" x2="98.60" y2="313.75" stroke="#0e5e2a" stroke-width="0.55" opacity="0.68"/>
<line x1="97.30" y1="303.75" x2="99.90" y2="303.75" stroke="#0e5e2a" stroke-width="0.55" opacity="0.68"/>
<line x1="97.30" y1="313.75" x2="99.90" y2="313.75" stroke="#0e5e2a" stroke-width="0.55" opacity="0.90"/>
<line x1="106.30" y1="304.00" x2="106.30" y2="314.00" stroke="#0e5e2a" stroke-width="0.55" opacity="0.68"/>
<line x1="105.00" y1="304.00" x2="107.60" y2="304.00" stroke="#0e5e2a" stroke-width="0.55" opacity="0.68"/>
<line x1="105.00" y1="314.00" x2="107.60" y2="314.00" stroke="#0e5e2a" stroke-width="0.55" opacity="0.90"/>
<line x1="114.00" y1="305.50" x2="114.00" y2="315.50" stroke="#0e5e2a" stroke-width="0.55" opacity="0.68"/>
<line x1="112.70" y1="305.50" x2="115.30" y2="305.50" stroke="#0e5e2a" stroke-width="0.55" opacity="0.68"/>
<line x1="112.70" y1="315.50" x2="115.30" y2="315.50" stroke="#0e5e2a" stroke-width="0.55" opacity="0.90"/>
<line x1="121.70" y1="307.00" x2="121.70" y2="317.00" stroke="#0e5e2a" stroke-width="0.55" opacity="0.68"/>
<line x1="120.40" y1="307.00" x2="123.00" y2="307.00" stroke="#0e5e2a" stroke-width="0.55" opacity="0.68"/>
<line x1="120.40" y1="317.00" x2="123.00" y2="317.00" stroke="#0e5e2a" stroke-width="0.55" opacity="0.90"/>
<line x1="129.40" y1="313.00" x2="129.40" y2="323.00" stroke="#0e5e2a" stroke-width="0.55" opacity="0.68"/>
<line x1="128.10" y1="313.00" x2="130.70" y2="313.00" stroke="#0e5e2a" stroke-width="0.55" opacity="0.68"/>
<line x1="128.10" y1="323.00" x2="130.70" y2="323.00" stroke="#0e5e2a" stroke-width="0.55" opacity="0.90"/>
<line x1="137.10" y1="319.00" x2="137.10" y2="329.00" stroke="#0e5e2a" stroke-width="0.55" opacity="0.68"/>
<line x1="135.80" y1="319.00" x2="138.40" y2="319.00" stroke="#0e5e2a" stroke-width="0.55" opacity="0.68"/>
<line x1="135.80" y1="329.00" x2="138.40" y2="329.00" stroke="#0e5e2a" stroke-width="0.55" opacity="0.90"/>
<line x1="144.80" y1="322.00" x2="144.80" y2="332.00" stroke="#0e5e2a" stroke-width="0.55" opacity="0.68"/>
<line x1="143.50" y1="322.00" x2="146.10" y2="322.00" stroke="#0e5e2a" stroke-width="0.55" opacity="0.68"/>
<line x1="143.50" y1="332.00" x2="146.10" y2="332.00" stroke="#0e5e2a" stroke-width="0.55" opacity="0.90"/>
<line x1="152.50" y1="325.00" x2="152.50" y2="335.00" stroke="#0e5e2a" stroke-width="0.55" opacity="0.68"/>
<line x1="151.20" y1="325.00" x2="153.80" y2="325.00" stroke="#0e5e2a" stroke-width="0.55" opacity="0.68"/>
<line x1="151.20" y1="335.00" x2="153.80" y2="335.00" stroke="#0e5e2a" stroke-width="0.55" opacity="0.90"/>
<line x1="160.20" y1="327.25" x2="160.20" y2="337.25" stroke="#0e5e2a" stroke-width="0.55" opacity="0.68"/>
<line x1="158.90" y1="327.25" x2="161.50" y2="327.25" stroke="#0e5e2a" stroke-width="0.55" opacity="0.68"/>
<line x1="158.90" y1="337.25" x2="161.50" y2="337.25" stroke="#0e5e2a" stroke-width="0.55" opacity="0.90"/>
<line x1="167.90" y1="329.50" x2="167.90" y2="339.50" stroke="#0e5e2a" stroke-width="0.55" opacity="0.68"/>
<line x1="166.60" y1="329.50" x2="169.20" y2="329.50" stroke="#0e5e2a" stroke-width="0.55" opacity="0.68"/>
<line x1="166.60" y1="339.50" x2="169.20" y2="339.50" stroke="#0e5e2a" stroke-width="0.55" opacity="0.90"/>
<line x1="175.60" y1="331.00" x2="175.60" y2="341.00" stroke="#0e5e2a" stroke-width="0.55" opacity="0.68"/>
<line x1="174.30" y1="331.00" x2="176.90" y2="331.00" stroke="#0e5e2a" stroke-width="0.55" opacity="0.68"/>
<line x1="174.30" y1="341.00" x2="176.90" y2="341.00" stroke="#0e5e2a" stroke-width="0.55" opacity="0.90"/>
<line x1="183.30" y1="332.50" x2="183.30" y2="342.50" stroke="#0e5e2a" stroke-width="0.55" opacity="0.68"/>
<line x1="182.00" y1="332.50" x2="184.60" y2="332.50" stroke="#0e5e2a" stroke-width="0.55" opacity="0.68"/>
<line x1="182.00" y1="342.50" x2="184.60" y2="342.50" stroke="#0e5e2a" stroke-width="0.55" opacity="0.90"/>
<line x1="191.00" y1="333.40" x2="191.00" y2="343.40" stroke="#0e5e2a" stroke-width="0.55" opacity="0.68"/>
<line x1="189.70" y1="333.40" x2="192.30" y2="333.40" stroke="#0e5e2a" stroke-width="0.55" opacity="0.68"/>
<line x1="189.70" y1="343.40" x2="192.30" y2="343.40" stroke="#0e5e2a" stroke-width="0.55" opacity="0.90"/>
<line x1="198.70" y1="334.30" x2="198.70" y2="344.30" stroke="#0e5e2a" stroke-width="0.55" opacity="0.68"/>
<line x1="197.40" y1="334.30" x2="200.00" y2="334.30" stroke="#0e5e2a" stroke-width="0.55" opacity="0.68"/>
<line x1="197.40" y1="344.30" x2="200.00" y2="344.30" stroke="#0e5e2a" stroke-width="0.55" opacity="0.90"/>
<polyline points="44.70,316.00 52.40,314.50 60.10,313.00 67.80,311.50 75.50,310.00 83.20,309.25 90.90,308.50 98.60,308.75 106.30,309.00 114.00,310.50 121.70,312.00 129.40,318.00 137.10,324.00 144.80,327.00 152.50,330.00 160.20,332.25 167.90,334.50 175.60,336.00 183.30,337.50 191.00,338.40 198.70,339.30" fill="none" stroke="#0e5e2a" stroke-width="0.80"/>
<rect x="43.50" y="314.80" width="2.40" height="2.40" fill="#0e5e2a" stroke="none" stroke-width="1.00" rx="0.00" />
<rect x="51.20" y="313.30" width="2.40" height="2.40" fill="#0e5e2a" stroke="none" stroke-width="1.00" rx="0.00" />
<rect x="58.90" y="311.80" width="2.40" height="2.40" fill="#0e5e2a" stroke="none" stroke-width="1.00" rx="0.00" />
<rect x="66.60" y="310.30" width="2.40" height="2.40" fill="#0e5e2a" stroke="none" stroke-width="1.00" rx="0.00" />
<rect x="74.30" y="308.80" width="2.40" height="2.40" fill="#0e5e2a" stroke="none" stroke-width="1.00" rx="0.00" />
<rect x="82.00" y="308.05" width="2.40" height="2.40" fill="#0e5e2a" stroke="none" stroke-width="1.00" rx="0.00" />
<rect x="89.70" y="307.30" width="2.40" height="2.40" fill="#0e5e2a" stroke="none" stroke-width="1.00" rx="0.00" />
<rect x="97.40" y="307.55" width="2.40" height="2.40" fill="#0e5e2a" stroke="none" stroke-width="1.00" rx="0.00" />
<rect x="105.10" y="307.80" width="2.40" height="2.40" fill="#0e5e2a" stroke="none" stroke-width="1.00" rx="0.00" />
<rect x="112.80" y="309.30" width="2.40" height="2.40" fill="#0e5e2a" stroke="none" stroke-width="1.00" rx="0.00" />
<rect x="120.50" y="310.80" width="2.40" height="2.40" fill="#0e5e2a" stroke="none" stroke-width="1.00" rx="0.00" />
<rect x="128.20" y="316.80" width="2.40" height="2.40" fill="#0e5e2a" stroke="none" stroke-width="1.00" rx="0.00" />
<rect x="135.90" y="322.80" width="2.40" height="2.40" fill="#0e5e2a" stroke="none" stroke-width="1.00" rx="0.00" />
<rect x="143.60" y="325.80" width="2.40" height="2.40" fill="#0e5e2a" stroke="none" stroke-width="1.00" rx="0.00" />
<rect x="151.30" y="328.80" width="2.40" height="2.40" fill="#0e5e2a" stroke="none" stroke-width="1.00" rx="0.00" />
<rect x="159.00" y="331.05" width="2.40" height="2.40" fill="#0e5e2a" stroke="none" stroke-width="1.00" rx="0.00" />
<rect x="166.70" y="333.30" width="2.40" height="2.40" fill="#0e5e2a" stroke="none" stroke-width="1.00" rx="0.00" />
<rect x="174.40" y="334.80" width="2.40" height="2.40" fill="#0e5e2a" stroke="none" stroke-width="1.00" rx="0.00" />
<rect x="182.10" y="336.30" width="2.40" height="2.40" fill="#0e5e2a" stroke="none" stroke-width="1.00" rx="0.00" />
<rect x="189.80" y="337.20" width="2.40" height="2.40" fill="#0e5e2a" stroke="none" stroke-width="1.00" rx="0.00" />
<rect x="197.50" y="338.10" width="2.40" height="2.40" fill="#0e5e2a" stroke="none" stroke-width="1.00" rx="0.00" />
<line x1="44.70" y1="310.40" x2="44.70" y2="320.40" stroke="#333" stroke-width="0.55" opacity="0.60"/>
<line x1="43.40" y1="310.40" x2="46.00" y2="310.40" stroke="#333" stroke-width="0.55" opacity="0.60"/>
<line x1="43.40" y1="320.40" x2="46.00" y2="320.40" stroke="#333" stroke-width="0.55" opacity="0.80"/>
<line x1="52.40" y1="309.90" x2="52.40" y2="319.90" stroke="#333" stroke-width="0.55" opacity="0.60"/>
<line x1="51.10" y1="309.90" x2="53.70" y2="309.90" stroke="#333" stroke-width="0.55" opacity="0.60"/>
<line x1="51.10" y1="319.90" x2="53.70" y2="319.90" stroke="#333" stroke-width="0.55" opacity="0.80"/>
<line x1="60.10" y1="308.20" x2="60.10" y2="318.20" stroke="#333" stroke-width="0.55" opacity="0.60"/>
<line x1="58.80" y1="308.20" x2="61.40" y2="308.20" stroke="#333" stroke-width="0.55" opacity="0.60"/>
<line x1="58.80" y1="318.20" x2="61.40" y2="318.20" stroke="#333" stroke-width="0.55" opacity="0.80"/>
<line x1="67.80" y1="306.30" x2="67.80" y2="316.30" stroke="#333" stroke-width="0.55" opacity="0.60"/>
<line x1="66.50" y1="306.30" x2="69.10" y2="306.30" stroke="#333" stroke-width="0.55" opacity="0.60"/>
<line x1="66.50" y1="316.30" x2="69.10" y2="316.30" stroke="#333" stroke-width="0.55" opacity="0.80"/>
<line x1="75.50" y1="304.00" x2="75.50" y2="314.00" stroke="#333" stroke-width="0.55" opacity="0.60"/>
<line x1="74.20" y1="304.00" x2="76.80" y2="304.00" stroke="#333" stroke-width="0.55" opacity="0.60"/>
<line x1="74.20" y1="314.00" x2="76.80" y2="314.00" stroke="#333" stroke-width="0.55" opacity="0.80"/>
<line x1="83.20" y1="302.80" x2="83.20" y2="312.80" stroke="#333" stroke-width="0.55" opacity="0.60"/>
<line x1="81.90" y1="302.80" x2="84.50" y2="302.80" stroke="#333" stroke-width="0.55" opacity="0.60"/>
<line x1="81.90" y1="312.80" x2="84.50" y2="312.80" stroke="#333" stroke-width="0.55" opacity="0.80"/>
<line x1="90.90" y1="302.30" x2="90.90" y2="312.30" stroke="#333" stroke-width="0.55" opacity="0.60"/>
<line x1="89.60" y1="302.30" x2="92.20" y2="302.30" stroke="#333" stroke-width="0.55" opacity="0.60"/>
<line x1="89.60" y1="312.30" x2="92.20" y2="312.30" stroke="#333" stroke-width="0.55" opacity="0.80"/>
<line x1="98.60" y1="302.30" x2="98.60" y2="312.30" stroke="#333" stroke-width="0.55" opacity="0.60"/>
<line x1="97.30" y1="302.30" x2="99.90" y2="302.30" stroke="#333" stroke-width="0.55" opacity="0.60"/>
<line x1="97.30" y1="312.30" x2="99.90" y2="312.30" stroke="#333" stroke-width="0.55" opacity="0.80"/>
<line x1="106.30" y1="302.80" x2="106.30" y2="312.80" stroke="#333" stroke-width="0.55" opacity="0.60"/>
<line x1="105.00" y1="302.80" x2="107.60" y2="302.80" stroke="#333" stroke-width="0.55" opacity="0.60"/>
<line x1="105.00" y1="312.80" x2="107.60" y2="312.80" stroke="#333" stroke-width="0.55" opacity="0.80"/>
<line x1="114.00" y1="304.50" x2="114.00" y2="314.50" stroke="#333" stroke-width="0.55" opacity="0.60"/>
<line x1="112.70" y1="304.50" x2="115.30" y2="304.50" stroke="#333" stroke-width="0.55" opacity="0.60"/>
<line x1="112.70" y1="314.50" x2="115.30" y2="314.50" stroke="#333" stroke-width="0.55" opacity="0.80"/>
<line x1="121.70" y1="304.00" x2="121.70" y2="314.00" stroke="#333" stroke-width="0.55" opacity="0.60"/>
<line x1="120.40" y1="304.00" x2="123.00" y2="304.00" stroke="#333" stroke-width="0.55" opacity="0.60"/>
<line x1="120.40" y1="314.00" x2="123.00" y2="314.00" stroke="#333" stroke-width="0.55" opacity="0.80"/>
<line x1="129.40" y1="310.50" x2="129.40" y2="320.50" stroke="#333" stroke-width="0.55" opacity="0.60"/>
<line x1="128.10" y1="310.50" x2="130.70" y2="310.50" stroke="#333" stroke-width="0.55" opacity="0.60"/>
<line x1="128.10" y1="320.50" x2="130.70" y2="320.50" stroke="#333" stroke-width="0.55" opacity="0.80"/>
<line x1="137.10" y1="317.00" x2="137.10" y2="327.00" stroke="#333" stroke-width="0.55" opacity="0.60"/>
<line x1="135.80" y1="317.00" x2="138.40" y2="317.00" stroke="#333" stroke-width="0.55" opacity="0.60"/>
<line x1="135.80" y1="327.00" x2="138.40" y2="327.00" stroke="#333" stroke-width="0.55" opacity="0.80"/>
<line x1="144.80" y1="320.60" x2="144.80" y2="330.60" stroke="#333" stroke-width="0.55" opacity="0.60"/>
<line x1="143.50" y1="320.60" x2="146.10" y2="320.60" stroke="#333" stroke-width="0.55" opacity="0.60"/>
<line x1="143.50" y1="330.60" x2="146.10" y2="330.60" stroke="#333" stroke-width="0.55" opacity="0.80"/>
<line x1="152.50" y1="323.00" x2="152.50" y2="333.00" stroke="#333" stroke-width="0.55" opacity="0.60"/>
<line x1="151.20" y1="323.00" x2="153.80" y2="323.00" stroke="#333" stroke-width="0.55" opacity="0.60"/>
<line x1="151.20" y1="333.00" x2="153.80" y2="333.00" stroke="#333" stroke-width="0.55" opacity="0.80"/>
<line x1="160.20" y1="326.50" x2="160.20" y2="336.50" stroke="#333" stroke-width="0.55" opacity="0.60"/>
<line x1="158.90" y1="326.50" x2="161.50" y2="326.50" stroke="#333" stroke-width="0.55" opacity="0.60"/>
<line x1="158.90" y1="336.50" x2="161.50" y2="336.50" stroke="#333" stroke-width="0.55" opacity="0.80"/>
<line x1="167.90" y1="328.90" x2="167.90" y2="338.90" stroke="#333" stroke-width="0.55" opacity="0.60"/>
<line x1="166.60" y1="328.90" x2="169.20" y2="328.90" stroke="#333" stroke-width="0.55" opacity="0.60"/>
<line x1="166.60" y1="338.90" x2="169.20" y2="338.90" stroke="#333" stroke-width="0.55" opacity="0.80"/>
<line x1="175.60" y1="330.10" x2="175.60" y2="340.10" stroke="#333" stroke-width="0.55" opacity="0.60"/>
<line x1="174.30" y1="330.10" x2="176.90" y2="330.10" stroke="#333" stroke-width="0.55" opacity="0.60"/>
<line x1="174.30" y1="340.10" x2="176.90" y2="340.10" stroke="#333" stroke-width="0.55" opacity="0.80"/>
<line x1="183.30" y1="331.30" x2="183.30" y2="341.30" stroke="#333" stroke-width="0.55" opacity="0.60"/>
<line x1="182.00" y1="331.30" x2="184.60" y2="331.30" stroke="#333" stroke-width="0.55" opacity="0.60"/>
<line x1="182.00" y1="341.30" x2="184.60" y2="341.30" stroke="#333" stroke-width="0.55" opacity="0.80"/>
<line x1="191.00" y1="332.50" x2="191.00" y2="342.50" stroke="#333" stroke-width="0.55" opacity="0.60"/>
<line x1="189.70" y1="332.50" x2="192.30" y2="332.50" stroke="#333" stroke-width="0.55" opacity="0.60"/>
<line x1="189.70" y1="342.50" x2="192.30" y2="342.50" stroke="#333" stroke-width="0.55" opacity="0.80"/>
<line x1="198.70" y1="333.60" x2="198.70" y2="343.60" stroke="#333" stroke-width="0.55" opacity="0.60"/>
<line x1="197.40" y1="333.60" x2="200.00" y2="333.60" stroke="#333" stroke-width="0.55" opacity="0.60"/>
<line x1="197.40" y1="343.60" x2="200.00" y2="343.60" stroke="#333" stroke-width="0.55" opacity="0.80"/>
<polyline points="44.70,315.40 52.40,314.90 60.10,313.20 67.80,311.30 75.50,309.00 83.20,307.80 90.90,307.30 98.60,307.30 106.30,307.80 114.00,309.50 121.70,309.00 129.40,315.50 137.10,322.00 144.80,325.60 152.50,328.00 160.20,331.50 167.90,333.90 175.60,335.10 183.30,336.30 191.00,337.50 198.70,338.60" fill="none" stroke="#1a1a1a" stroke-width="0.80"/>
<rect x="43.50" y="314.20" width="2.40" height="2.40" fill="#1a1a1a" stroke="none" stroke-width="1.00" rx="0.00" />
<rect x="51.20" y="313.70" width="2.40" height="2.40" fill="#1a1a1a" stroke="none" stroke-width="1.00" rx="0.00" />
<rect x="58.90" y="312.00" width="2.40" height="2.40" fill="#1a1a1a" stroke="none" stroke-width="1.00" rx="0.00" />
<rect x="66.60" y="310.10" width="2.40" height="2.40" fill="#1a1a1a" stroke="none" stroke-width="1.00" rx="0.00" />
<rect x="74.30" y="307.80" width="2.40" height="2.40" fill="#1a1a1a" stroke="none" stroke-width="1.00" rx="0.00" />
<rect x="82.00" y="306.60" width="2.40" height="2.40" fill="#1a1a1a" stroke="none" stroke-width="1.00" rx="0.00" />
<rect x="89.70" y="306.10" width="2.40" height="2.40" fill="#1a1a1a" stroke="none" stroke-width="1.00" rx="0.00" />
<rect x="97.40" y="306.10" width="2.40" height="2.40" fill="#1a1a1a" stroke="none" stroke-width="1.00" rx="0.00" />
<rect x="105.10" y="306.60" width="2.40" height="2.40" fill="#1a1a1a" stroke="none" stroke-width="1.00" rx="0.00" />
<rect x="112.80" y="308.30" width="2.40" height="2.40" fill="#1a1a1a" stroke="none" stroke-width="1.00" rx="0.00" />
<rect x="120.50" y="307.80" width="2.40" height="2.40" fill="#1a1a1a" stroke="none" stroke-width="1.00" rx="0.00" />
<rect x="128.20" y="314.30" width="2.40" height="2.40" fill="#1a1a1a" stroke="none" stroke-width="1.00" rx="0.00" />
<rect x="135.90" y="320.80" width="2.40" height="2.40" fill="#1a1a1a" stroke="none" stroke-width="1.00" rx="0.00" />
<rect x="143.60" y="324.40" width="2.40" height="2.40" fill="#1a1a1a" stroke="none" stroke-width="1.00" rx="0.00" />
<rect x="151.30" y="326.80" width="2.40" height="2.40" fill="#1a1a1a" stroke="none" stroke-width="1.00" rx="0.00" />
<rect x="159.00" y="330.30" width="2.40" height="2.40" fill="#1a1a1a" stroke="none" stroke-width="1.00" rx="0.00" />
<rect x="166.70" y="332.70" width="2.40" height="2.40" fill="#1a1a1a" stroke="none" stroke-width="1.00" rx="0.00" />
<rect x="174.40" y="333.90" width="2.40" height="2.40" fill="#1a1a1a" stroke="none" stroke-width="1.00" rx="0.00" />
<rect x="182.10" y="335.10" width="2.40" height="2.40" fill="#1a1a1a" stroke="none" stroke-width="1.00" rx="0.00" />
<rect x="189.80" y="336.30" width="2.40" height="2.40" fill="#1a1a1a" stroke="none" stroke-width="1.00" rx="0.00" />
<rect x="197.50" y="337.40" width="2.40" height="2.40" fill="#1a1a1a" stroke="none" stroke-width="1.00" rx="0.00" />
<text x="121.00" y="283.50" font-size="7.00" text-anchor="middle" fill="#303030" font-weight="normal" >2G-CAR</text>
<line x1="121.90" y1="285.50" x2="121.90" y2="293.70" stroke="#1a1a1a" stroke-width="0.90" />
<polygon points="119.90,293.00 123.90,293.00 121.90,296.20" fill="#1a1a1a"/>
<line x1="44.70" y1="298.70" x2="44.70" y2="306.70" stroke="#1a1a1a" stroke-width="0.90" />
<polygon points="42.70,306.00 46.70,306.00 44.70,309.20" fill="#1a1a1a"/>
<line x1="213.90" y1="294.80" x2="222.20" y2="294.80" stroke="#1a1a1a" stroke-width="0.90" />
<polygon points="221.50,292.80 221.50,296.80 224.70,294.80" fill="#1a1a1a"/>
<text x="229.80" y="297.00" font-size="6.30" text-anchor="start" fill="#303030" font-weight="normal" >Drug admin</text>
<line x1="217.70" y1="303.20" x2="226.00" y2="303.20" stroke="#1a1a1a" stroke-width="0.80" />
<rect x="220.70" y="302.00" width="2.40" height="2.40" fill="#1a1a1a" stroke="none" stroke-width="1.00" rx="0.00" />
<text x="229.80" y="305.30" font-size="6.10" text-anchor="start" fill="#303030" font-weight="normal" >2G DMSO</text>
<line x1="217.70" y1="310.70" x2="226.00" y2="310.70" stroke="#1f8f3f" stroke-width="0.80" />
<rect x="220.70" y="309.50" width="2.40" height="2.40" fill="#1f8f3f" stroke="none" stroke-width="1.00" rx="0.00" />
<text x="229.80" y="312.80" font-size="6.10" text-anchor="start" fill="#303030" font-weight="normal" >2G 2.5 μM Vene</text>
<line x1="217.70" y1="318.10" x2="226.00" y2="318.10" stroke="#3fa34d" stroke-width="0.80" />
<rect x="220.70" y="316.90" width="2.40" height="2.40" fill="#3fa34d" stroke="none" stroke-width="1.00" rx="0.00" />
<text x="229.80" y="320.20" font-size="6.10" text-anchor="start" fill="#303030" font-weight="normal" >2G 1 μM Len</text>
<line x1="217.70" y1="325.50" x2="226.00" y2="325.50" stroke="#5cb85f" stroke-width="0.80" />
<rect x="220.70" y="324.30" width="2.40" height="2.40" fill="#5cb85f" stroke="none" stroke-width="1.00" rx="0.00" />
<text x="229.80" y="327.60" font-size="6.10" text-anchor="start" fill="#303030" font-weight="normal" >2G 5 μM Len</text>
<line x1="217.70" y1="333.00" x2="226.00" y2="333.00" stroke="#a6d9a8" stroke-width="0.80" />
<rect x="220.70" y="331.80" width="2.40" height="2.40" fill="#a6d9a8" stroke="none" stroke-width="1.00" rx="0.00" />
<text x="229.80" y="335.10" font-size="6.10" text-anchor="start" fill="#303030" font-weight="normal" >2G 50 μM Len</text>
<line x1="217.70" y1="340.30" x2="226.00" y2="340.30" stroke="#0e5e2a" stroke-width="0.80" />
<rect x="220.70" y="339.10" width="2.40" height="2.40" fill="#0e5e2a" stroke="none" stroke-width="1.00" rx="0.00" />
<text x="229.80" y="342.40" font-size="6.10" text-anchor="start" fill="#303030" font-weight="normal" >2G 100 μM Len</text>
<line x1="203.60" y1="328.00" x2="203.60" y2="342.00" stroke="#9a9a9a" stroke-width="0.90" />
<text x="205.50" y="336.80" font-size="6.00" text-anchor="start" fill="#303030" font-weight="normal" >NS</text>
<line x1="40.80" y1="364.30" x2="40.80" y2="438.90" stroke="#a2a2a2" stroke-width="1.15" />
<line x1="40.30" y1="438.90" x2="215.20" y2="438.90" stroke="#9a9a9a" stroke-width="1.10" />
<line x1="37.80" y1="438.90" x2="40.50" y2="438.90" stroke="#555" stroke-width="0.90" />
<text x="35.40" y="441.20" font-size="6.00" text-anchor="end" fill="#303030" font-weight="normal" >0</text>
<line x1="37.80" y1="423.98" x2="40.50" y2="423.98" stroke="#555" stroke-width="0.90" />
<text x="35.40" y="426.28" font-size="6.00" text-anchor="end" fill="#303030" font-weight="normal" >5 × 10<tspan font-size="4.3" dy="-2.7">4</tspan></text>
<line x1="37.80" y1="409.06" x2="40.50" y2="409.06" stroke="#555" stroke-width="0.90" />
<text x="35.40" y="411.36" font-size="6.00" text-anchor="end" fill="#303030" font-weight="normal" >1 × 10<tspan font-size="4.3" dy="-2.7">5</tspan></text>
<line x1="37.80" y1="394.14" x2="40.50" y2="394.14" stroke="#555" stroke-width="0.90" />
<text x="35.40" y="396.44" font-size="6.00" text-anchor="end" fill="#303030" font-weight="normal" >1.5 × 10<tspan font-size="4.3" dy="-2.7">5</tspan></text>
<line x1="37.80" y1="379.22" x2="40.50" y2="379.22" stroke="#555" stroke-width="0.90" />
<text x="35.40" y="381.52" font-size="6.00" text-anchor="end" fill="#303030" font-weight="normal" >2 × 10<tspan font-size="4.3" dy="-2.7">5</tspan></text>
<line x1="37.80" y1="364.30" x2="40.50" y2="364.30" stroke="#555" stroke-width="0.90" />
<text x="35.40" y="366.60" font-size="6.00" text-anchor="end" fill="#303030" font-weight="normal" >2.5 × 10<tspan font-size="4.3" dy="-2.7">5</tspan></text>
<line x1="45.00" y1="439.40" x2="45.00" y2="442.50" stroke="#6a6a6a" stroke-width="0.80" />
<text x="47.90" y="448.70" font-size="6.40" text-anchor="end" fill="#303030" font-weight="normal" transform="rotate(-45 47.9 448.7)" >0</text>
<line x1="53.23" y1="439.40" x2="53.23" y2="442.50" stroke="#6a6a6a" stroke-width="0.80" />
<text x="56.13" y="448.70" font-size="6.40" text-anchor="end" fill="#303030" font-weight="normal" transform="rotate(-45 56.13 448.7)" >2</text>
<line x1="61.46" y1="439.40" x2="61.46" y2="442.50" stroke="#6a6a6a" stroke-width="0.80" />
<text x="64.36" y="448.70" font-size="6.40" text-anchor="end" fill="#303030" font-weight="normal" transform="rotate(-45 64.36 448.7)" >4</text>
<line x1="69.69" y1="439.40" x2="69.69" y2="442.50" stroke="#6a6a6a" stroke-width="0.80" />
<text x="72.59" y="448.70" font-size="6.40" text-anchor="end" fill="#303030" font-weight="normal" transform="rotate(-45 72.59 448.7)" >6</text>
<line x1="77.92" y1="439.40" x2="77.92" y2="442.50" stroke="#6a6a6a" stroke-width="0.80" />
<text x="80.82" y="448.70" font-size="6.40" text-anchor="end" fill="#303030" font-weight="normal" transform="rotate(-45 80.82 448.7)" >8</text>
<line x1="86.15" y1="439.40" x2="86.15" y2="442.50" stroke="#6a6a6a" stroke-width="0.80" />
<text x="89.05" y="448.70" font-size="6.40" text-anchor="end" fill="#303030" font-weight="normal" transform="rotate(-45 89.05 448.7)" >10</text>
<line x1="94.38" y1="439.40" x2="94.38" y2="442.50" stroke="#6a6a6a" stroke-width="0.80" />
<text x="97.28" y="448.70" font-size="6.40" text-anchor="end" fill="#303030" font-weight="normal" transform="rotate(-45 97.28 448.7)" >12</text>
<line x1="102.61" y1="439.40" x2="102.61" y2="442.50" stroke="#6a6a6a" stroke-width="0.80" />
<text x="105.51" y="448.70" font-size="6.40" text-anchor="end" fill="#303030" font-weight="normal" transform="rotate(-45 105.51 448.7)" >14</text>
<line x1="110.84" y1="439.40" x2="110.84" y2="442.50" stroke="#6a6a6a" stroke-width="0.80" />
<text x="113.74" y="448.70" font-size="6.40" text-anchor="end" fill="#303030" font-weight="normal" transform="rotate(-45 113.74 448.7)" >16</text>
<line x1="119.07" y1="439.40" x2="119.07" y2="442.50" stroke="#6a6a6a" stroke-width="0.80" />
<text x="121.97" y="448.70" font-size="6.40" text-anchor="end" fill="#303030" font-weight="normal" transform="rotate(-45 121.97 448.7)" >18</text>
<line x1="127.30" y1="439.40" x2="127.30" y2="442.50" stroke="#6a6a6a" stroke-width="0.80" />
<text x="130.20" y="448.70" font-size="6.40" text-anchor="end" fill="#303030" font-weight="normal" transform="rotate(-45 130.2 448.7)" >20</text>
<line x1="135.53" y1="439.40" x2="135.53" y2="442.50" stroke="#6a6a6a" stroke-width="0.80" />
<text x="138.43" y="448.70" font-size="6.40" text-anchor="end" fill="#303030" font-weight="normal" transform="rotate(-45 138.43 448.7)" >22</text>
<line x1="143.76" y1="439.40" x2="143.76" y2="442.50" stroke="#6a6a6a" stroke-width="0.80" />
<text x="146.66" y="448.70" font-size="6.40" text-anchor="end" fill="#303030" font-weight="normal" transform="rotate(-45 146.66 448.7)" >24</text>
<line x1="151.99" y1="439.40" x2="151.99" y2="442.50" stroke="#6a6a6a" stroke-width="0.80" />
<text x="154.89" y="448.70" font-size="6.40" text-anchor="end" fill="#303030" font-weight="normal" transform="rotate(-45 154.89 448.7)" >26</text>
<line x1="160.22" y1="439.40" x2="160.22" y2="442.50" stroke="#6a6a6a" stroke-width="0.80" />
<text x="163.12" y="448.70" font-size="6.40" text-anchor="end" fill="#303030" font-weight="normal" transform="rotate(-45 163.12 448.7)" >28</text>
<line x1="168.45" y1="439.40" x2="168.45" y2="442.50" stroke="#6a6a6a" stroke-width="0.80" />
<text x="171.35" y="448.70" font-size="6.40" text-anchor="end" fill="#303030" font-weight="normal" transform="rotate(-45 171.35 448.7)" >30</text>
<line x1="176.68" y1="439.40" x2="176.68" y2="442.50" stroke="#6a6a6a" stroke-width="0.80" />
<text x="179.58" y="448.70" font-size="6.40" text-anchor="end" fill="#303030" font-weight="normal" transform="rotate(-45 179.58 448.7)" >32</text>
<line x1="184.91" y1="439.40" x2="184.91" y2="442.50" stroke="#6a6a6a" stroke-width="0.80" />
<text x="187.81" y="448.70" font-size="6.40" text-anchor="end" fill="#303030" font-weight="normal" transform="rotate(-45 187.81 448.7)" >34</text>
<line x1="193.14" y1="439.40" x2="193.14" y2="442.50" stroke="#6a6a6a" stroke-width="0.80" />
<text x="196.04" y="448.70" font-size="6.40" text-anchor="end" fill="#303030" font-weight="normal" transform="rotate(-45 196.04 448.7)" >36</text>
<line x1="201.37" y1="439.40" x2="201.37" y2="442.50" stroke="#6a6a6a" stroke-width="0.80" />
<text x="204.27" y="448.70" font-size="6.40" text-anchor="end" fill="#303030" font-weight="normal" transform="rotate(-45 204.27 448.7)" >38</text>
<line x1="209.60" y1="439.40" x2="209.60" y2="442.50" stroke="#6a6a6a" stroke-width="0.80" />
<text x="212.50" y="448.70" font-size="6.40" text-anchor="end" fill="#303030" font-weight="normal" transform="rotate(-45 212.5 448.7)" >40</text>
<line x1="45.00" y1="420.00" x2="45.00" y2="428.00" stroke="#f6c4c6" stroke-width="0.55" opacity="0.68"/>
<line x1="43.70" y1="420.00" x2="46.30" y2="420.00" stroke="#f6c4c6" stroke-width="0.55" opacity="0.68"/>
<line x1="43.70" y1="428.00" x2="46.30" y2="428.00" stroke="#f6c4c6" stroke-width="0.55" opacity="0.90"/>
<line x1="53.23" y1="418.79" x2="53.23" y2="426.79" stroke="#f6c4c6" stroke-width="0.55" opacity="0.68"/>
<line x1="51.93" y1="418.79" x2="54.53" y2="418.79" stroke="#f6c4c6" stroke-width="0.55" opacity="0.68"/>
<line x1="51.93" y1="426.79" x2="54.53" y2="426.79" stroke="#f6c4c6" stroke-width="0.55" opacity="0.90"/>
<line x1="61.46" y1="417.57" x2="61.46" y2="425.57" stroke="#f6c4c6" stroke-width="0.55" opacity="0.68"/>
<line x1="60.16" y1="417.57" x2="62.76" y2="417.57" stroke="#f6c4c6" stroke-width="0.55" opacity="0.68"/>
<line x1="60.16" y1="425.57" x2="62.76" y2="425.57" stroke="#f6c4c6" stroke-width="0.55" opacity="0.90"/>
<line x1="69.69" y1="416.36" x2="69.69" y2="424.36" stroke="#f6c4c6" stroke-width="0.55" opacity="0.68"/>
<line x1="68.39" y1="416.36" x2="70.99" y2="416.36" stroke="#f6c4c6" stroke-width="0.55" opacity="0.68"/>
<line x1="68.39" y1="424.36" x2="70.99" y2="424.36" stroke="#f6c4c6" stroke-width="0.55" opacity="0.90"/>
<line x1="77.92" y1="415.14" x2="77.92" y2="423.14" stroke="#f6c4c6" stroke-width="0.55" opacity="0.68"/>
<line x1="76.62" y1="415.14" x2="79.22" y2="415.14" stroke="#f6c4c6" stroke-width="0.55" opacity="0.68"/>
<line x1="76.62" y1="423.14" x2="79.22" y2="423.14" stroke="#f6c4c6" stroke-width="0.55" opacity="0.90"/>
<line x1="86.15" y1="413.93" x2="86.15" y2="421.93" stroke="#f6c4c6" stroke-width="0.55" opacity="0.68"/>
<line x1="84.85" y1="413.93" x2="87.45" y2="413.93" stroke="#f6c4c6" stroke-width="0.55" opacity="0.68"/>
<line x1="84.85" y1="421.93" x2="87.45" y2="421.93" stroke="#f6c4c6" stroke-width="0.55" opacity="0.90"/>
<line x1="94.38" y1="412.71" x2="94.38" y2="420.71" stroke="#f6c4c6" stroke-width="0.55" opacity="0.68"/>
<line x1="93.08" y1="412.71" x2="95.68" y2="412.71" stroke="#f6c4c6" stroke-width="0.55" opacity="0.68"/>
<line x1="93.08" y1="420.71" x2="95.68" y2="420.71" stroke="#f6c4c6" stroke-width="0.55" opacity="0.90"/>
<line x1="102.61" y1="411.50" x2="102.61" y2="419.50" stroke="#f6c4c6" stroke-width="0.55" opacity="0.68"/>
<line x1="101.31" y1="411.50" x2="103.91" y2="411.50" stroke="#f6c4c6" stroke-width="0.55" opacity="0.68"/>
<line x1="101.31" y1="419.50" x2="103.91" y2="419.50" stroke="#f6c4c6" stroke-width="0.55" opacity="0.90"/>
<line x1="110.84" y1="410.00" x2="110.84" y2="418.00" stroke="#f6c4c6" stroke-width="0.55" opacity="0.68"/>
<line x1="109.54" y1="410.00" x2="112.14" y2="410.00" stroke="#f6c4c6" stroke-width="0.55" opacity="0.68"/>
<line x1="109.54" y1="418.00" x2="112.14" y2="418.00" stroke="#f6c4c6" stroke-width="0.55" opacity="0.90"/>
<line x1="119.07" y1="408.50" x2="119.07" y2="416.50" stroke="#f6c4c6" stroke-width="0.55" opacity="0.68"/>
<line x1="117.77" y1="408.50" x2="120.37" y2="408.50" stroke="#f6c4c6" stroke-width="0.55" opacity="0.68"/>
<line x1="117.77" y1="416.50" x2="120.37" y2="416.50" stroke="#f6c4c6" stroke-width="0.55" opacity="0.90"/>
<line x1="127.30" y1="407.00" x2="127.30" y2="415.00" stroke="#f6c4c6" stroke-width="0.55" opacity="0.68"/>
<line x1="126.00" y1="407.00" x2="128.60" y2="407.00" stroke="#f6c4c6" stroke-width="0.55" opacity="0.68"/>
<line x1="126.00" y1="415.00" x2="128.60" y2="415.00" stroke="#f6c4c6" stroke-width="0.55" opacity="0.90"/>
<line x1="135.53" y1="405.17" x2="135.53" y2="413.17" stroke="#f6c4c6" stroke-width="0.55" opacity="0.68"/>
<line x1="134.23" y1="405.17" x2="136.83" y2="405.17" stroke="#f6c4c6" stroke-width="0.55" opacity="0.68"/>
<line x1="134.23" y1="413.17" x2="136.83" y2="413.17" stroke="#f6c4c6" stroke-width="0.55" opacity="0.90"/>
<line x1="143.76" y1="403.33" x2="143.76" y2="411.33" stroke="#f6c4c6" stroke-width="0.55" opacity="0.68"/>
<line x1="142.46" y1="403.33" x2="145.06" y2="403.33" stroke="#f6c4c6" stroke-width="0.55" opacity="0.68"/>
<line x1="142.46" y1="411.33" x2="145.06" y2="411.33" stroke="#f6c4c6" stroke-width="0.55" opacity="0.90"/>
<line x1="151.99" y1="401.50" x2="151.99" y2="409.50" stroke="#f6c4c6" stroke-width="0.55" opacity="0.68"/>
<line x1="150.69" y1="401.50" x2="153.29" y2="401.50" stroke="#f6c4c6" stroke-width="0.55" opacity="0.68"/>
<line x1="150.69" y1="409.50" x2="153.29" y2="409.50" stroke="#f6c4c6" stroke-width="0.55" opacity="0.90"/>
<line x1="160.22" y1="399.75" x2="160.22" y2="407.75" stroke="#f6c4c6" stroke-width="0.55" opacity="0.68"/>
<line x1="158.92" y1="399.75" x2="161.52" y2="399.75" stroke="#f6c4c6" stroke-width="0.55" opacity="0.68"/>
<line x1="158.92" y1="407.75" x2="161.52" y2="407.75" stroke="#f6c4c6" stroke-width="0.55" opacity="0.90"/>
<line x1="168.45" y1="398.00" x2="168.45" y2="406.00" stroke="#f6c4c6" stroke-width="0.55" opacity="0.68"/>
<line x1="167.15" y1="398.00" x2="169.75" y2="398.00" stroke="#f6c4c6" stroke-width="0.55" opacity="0.68"/>
<line x1="167.15" y1="406.00" x2="169.75" y2="406.00" stroke="#f6c4c6" stroke-width="0.55" opacity="0.90"/>
<line x1="176.68" y1="396.25" x2="176.68" y2="404.25" stroke="#f6c4c6" stroke-width="0.55" opacity="0.68"/>
<line x1="175.38" y1="396.25" x2="177.98" y2="396.25" stroke="#f6c4c6" stroke-width="0.55" opacity="0.68"/>
<line x1="175.38" y1="404.25" x2="177.98" y2="404.25" stroke="#f6c4c6" stroke-width="0.55" opacity="0.90"/>
<line x1="184.91" y1="394.50" x2="184.91" y2="402.50" stroke="#f6c4c6" stroke-width="0.55" opacity="0.68"/>
<line x1="183.61" y1="394.50" x2="186.21" y2="394.50" stroke="#f6c4c6" stroke-width="0.55" opacity="0.68"/>
<line x1="183.61" y1="402.50" x2="186.21" y2="402.50" stroke="#f6c4c6" stroke-width="0.55" opacity="0.90"/>
<line x1="193.14" y1="392.50" x2="193.14" y2="400.50" stroke="#f6c4c6" stroke-width="0.55" opacity="0.68"/>
<line x1="191.84" y1="392.50" x2="194.44" y2="392.50" stroke="#f6c4c6" stroke-width="0.55" opacity="0.68"/>
<line x1="191.84" y1="400.50" x2="194.44" y2="400.50" stroke="#f6c4c6" stroke-width="0.55" opacity="0.90"/>
<line x1="201.37" y1="390.50" x2="201.37" y2="398.50" stroke="#f6c4c6" stroke-width="0.55" opacity="0.68"/>
<line x1="200.07" y1="390.50" x2="202.67" y2="390.50" stroke="#f6c4c6" stroke-width="0.55" opacity="0.68"/>
<line x1="200.07" y1="398.50" x2="202.67" y2="398.50" stroke="#f6c4c6" stroke-width="0.55" opacity="0.90"/>
<line x1="209.60" y1="388.00" x2="209.60" y2="396.00" stroke="#f6c4c6" stroke-width="0.55" opacity="0.68"/>
<line x1="208.30" y1="388.00" x2="210.90" y2="388.00" stroke="#f6c4c6" stroke-width="0.55" opacity="0.68"/>
<line x1="208.30" y1="396.00" x2="210.90" y2="396.00" stroke="#f6c4c6" stroke-width="0.55" opacity="0.90"/>
<polyline points="45.00,424.00 53.23,422.79 61.46,421.57 69.69,420.36 77.92,419.14 86.15,417.93 94.38,416.71 102.61,415.50 110.84,414.00 119.07,412.50 127.30,411.00 135.53,409.17 143.76,407.33 151.99,405.50 160.22,403.75 168.45,402.00 176.68,400.25 184.91,398.50 193.14,396.50 201.37,394.50 209.60,392.00" fill="none" stroke="#f6c4c6" stroke-width="0.80"/>
<circle cx="45.00" cy="424.00" r="1.30" fill="#f6c4c6"/>
<circle cx="53.23" cy="422.79" r="1.30" fill="#f6c4c6"/>
<circle cx="61.46" cy="421.57" r="1.30" fill="#f6c4c6"/>
<circle cx="69.69" cy="420.36" r="1.30" fill="#f6c4c6"/>
<circle cx="77.92" cy="419.14" r="1.30" fill="#f6c4c6"/>
<circle cx="86.15" cy="417.93" r="1.30" fill="#f6c4c6"/>
<circle cx="94.38" cy="416.71" r="1.30" fill="#f6c4c6"/>
<circle cx="102.61" cy="415.50" r="1.30" fill="#f6c4c6"/>
<circle cx="110.84" cy="414.00" r="1.30" fill="#f6c4c6"/>
<circle cx="119.07" cy="412.50" r="1.30" fill="#f6c4c6"/>
<circle cx="127.30" cy="411.00" r="1.30" fill="#f6c4c6"/>
<circle cx="135.53" cy="409.17" r="1.30" fill="#f6c4c6"/>
<circle cx="143.76" cy="407.33" r="1.30" fill="#f6c4c6"/>
<circle cx="151.99" cy="405.50" r="1.30" fill="#f6c4c6"/>
<circle cx="160.22" cy="403.75" r="1.30" fill="#f6c4c6"/>
<circle cx="168.45" cy="402.00" r="1.30" fill="#f6c4c6"/>
<circle cx="176.68" cy="400.25" r="1.30" fill="#f6c4c6"/>
<circle cx="184.91" cy="398.50" r="1.30" fill="#f6c4c6"/>
<circle cx="193.14" cy="396.50" r="1.30" fill="#f6c4c6"/>
<circle cx="201.37" cy="394.50" r="1.30" fill="#f6c4c6"/>
<circle cx="209.60" cy="392.00" r="1.30" fill="#f6c4c6"/>
<line x1="45.00" y1="418.50" x2="45.00" y2="426.50" stroke="#e57379" stroke-width="0.55" opacity="0.68"/>
<line x1="43.70" y1="418.50" x2="46.30" y2="418.50" stroke="#e57379" stroke-width="0.55" opacity="0.68"/>
<line x1="43.70" y1="426.50" x2="46.30" y2="426.50" stroke="#e57379" stroke-width="0.55" opacity="0.90"/>
<line x1="53.23" y1="417.07" x2="53.23" y2="425.07" stroke="#e57379" stroke-width="0.55" opacity="0.68"/>
<line x1="51.93" y1="417.07" x2="54.53" y2="417.07" stroke="#e57379" stroke-width="0.55" opacity="0.68"/>
<line x1="51.93" y1="425.07" x2="54.53" y2="425.07" stroke="#e57379" stroke-width="0.55" opacity="0.90"/>
<line x1="61.46" y1="415.64" x2="61.46" y2="423.64" stroke="#e57379" stroke-width="0.55" opacity="0.68"/>
<line x1="60.16" y1="415.64" x2="62.76" y2="415.64" stroke="#e57379" stroke-width="0.55" opacity="0.68"/>
<line x1="60.16" y1="423.64" x2="62.76" y2="423.64" stroke="#e57379" stroke-width="0.55" opacity="0.90"/>
<line x1="69.69" y1="414.21" x2="69.69" y2="422.21" stroke="#e57379" stroke-width="0.55" opacity="0.68"/>
<line x1="68.39" y1="414.21" x2="70.99" y2="414.21" stroke="#e57379" stroke-width="0.55" opacity="0.68"/>
<line x1="68.39" y1="422.21" x2="70.99" y2="422.21" stroke="#e57379" stroke-width="0.55" opacity="0.90"/>
<line x1="77.92" y1="412.79" x2="77.92" y2="420.79" stroke="#e57379" stroke-width="0.55" opacity="0.68"/>
<line x1="76.62" y1="412.79" x2="79.22" y2="412.79" stroke="#e57379" stroke-width="0.55" opacity="0.68"/>
<line x1="76.62" y1="420.79" x2="79.22" y2="420.79" stroke="#e57379" stroke-width="0.55" opacity="0.90"/>
<line x1="86.15" y1="411.36" x2="86.15" y2="419.36" stroke="#e57379" stroke-width="0.55" opacity="0.68"/>
<line x1="84.85" y1="411.36" x2="87.45" y2="411.36" stroke="#e57379" stroke-width="0.55" opacity="0.68"/>
<line x1="84.85" y1="419.36" x2="87.45" y2="419.36" stroke="#e57379" stroke-width="0.55" opacity="0.90"/>
<line x1="94.38" y1="409.93" x2="94.38" y2="417.93" stroke="#e57379" stroke-width="0.55" opacity="0.68"/>
<line x1="93.08" y1="409.93" x2="95.68" y2="409.93" stroke="#e57379" stroke-width="0.55" opacity="0.68"/>
<line x1="93.08" y1="417.93" x2="95.68" y2="417.93" stroke="#e57379" stroke-width="0.55" opacity="0.90"/>
<line x1="102.61" y1="408.50" x2="102.61" y2="416.50" stroke="#e57379" stroke-width="0.55" opacity="0.68"/>
<line x1="101.31" y1="408.50" x2="103.91" y2="408.50" stroke="#e57379" stroke-width="0.55" opacity="0.68"/>
<line x1="101.31" y1="416.50" x2="103.91" y2="416.50" stroke="#e57379" stroke-width="0.55" opacity="0.90"/>
<line x1="110.84" y1="406.83" x2="110.84" y2="414.83" stroke="#e57379" stroke-width="0.55" opacity="0.68"/>
<line x1="109.54" y1="406.83" x2="112.14" y2="406.83" stroke="#e57379" stroke-width="0.55" opacity="0.68"/>
<line x1="109.54" y1="414.83" x2="112.14" y2="414.83" stroke="#e57379" stroke-width="0.55" opacity="0.90"/>
<line x1="119.07" y1="405.17" x2="119.07" y2="413.17" stroke="#e57379" stroke-width="0.55" opacity="0.68"/>
<line x1="117.77" y1="405.17" x2="120.37" y2="405.17" stroke="#e57379" stroke-width="0.55" opacity="0.68"/>
<line x1="117.77" y1="413.17" x2="120.37" y2="413.17" stroke="#e57379" stroke-width="0.55" opacity="0.90"/>
<line x1="127.30" y1="403.50" x2="127.30" y2="411.50" stroke="#e57379" stroke-width="0.55" opacity="0.68"/>
<line x1="126.00" y1="403.50" x2="128.60" y2="403.50" stroke="#e57379" stroke-width="0.55" opacity="0.68"/>
<line x1="126.00" y1="411.50" x2="128.60" y2="411.50" stroke="#e57379" stroke-width="0.55" opacity="0.90"/>
<line x1="135.53" y1="401.50" x2="135.53" y2="409.50" stroke="#e57379" stroke-width="0.55" opacity="0.68"/>
<line x1="134.23" y1="401.50" x2="136.83" y2="401.50" stroke="#e57379" stroke-width="0.55" opacity="0.68"/>
<line x1="134.23" y1="409.50" x2="136.83" y2="409.50" stroke="#e57379" stroke-width="0.55" opacity="0.90"/>
<line x1="143.76" y1="399.50" x2="143.76" y2="407.50" stroke="#e57379" stroke-width="0.55" opacity="0.68"/>
<line x1="142.46" y1="399.50" x2="145.06" y2="399.50" stroke="#e57379" stroke-width="0.55" opacity="0.68"/>
<line x1="142.46" y1="407.50" x2="145.06" y2="407.50" stroke="#e57379" stroke-width="0.55" opacity="0.90"/>
<line x1="151.99" y1="397.50" x2="151.99" y2="405.50" stroke="#e57379" stroke-width="0.55" opacity="0.68"/>
<line x1="150.69" y1="397.50" x2="153.29" y2="397.50" stroke="#e57379" stroke-width="0.55" opacity="0.68"/>
<line x1="150.69" y1="405.50" x2="153.29" y2="405.50" stroke="#e57379" stroke-width="0.55" opacity="0.90"/>
<line x1="160.22" y1="395.75" x2="160.22" y2="403.75" stroke="#e57379" stroke-width="0.55" opacity="0.68"/>
<line x1="158.92" y1="395.75" x2="161.52" y2="395.75" stroke="#e57379" stroke-width="0.55" opacity="0.68"/>
<line x1="158.92" y1="403.75" x2="161.52" y2="403.75" stroke="#e57379" stroke-width="0.55" opacity="0.90"/>
<line x1="168.45" y1="394.00" x2="168.45" y2="402.00" stroke="#e57379" stroke-width="0.55" opacity="0.68"/>
<line x1="167.15" y1="394.00" x2="169.75" y2="394.00" stroke="#e57379" stroke-width="0.55" opacity="0.68"/>
<line x1="167.15" y1="402.00" x2="169.75" y2="402.00" stroke="#e57379" stroke-width="0.55" opacity="0.90"/>
<line x1="176.68" y1="392.00" x2="176.68" y2="400.00" stroke="#e57379" stroke-width="0.55" opacity="0.68"/>
<line x1="175.38" y1="392.00" x2="177.98" y2="392.00" stroke="#e57379" stroke-width="0.55" opacity="0.68"/>
<line x1="175.38" y1="400.00" x2="177.98" y2="400.00" stroke="#e57379" stroke-width="0.55" opacity="0.90"/>
<line x1="184.91" y1="390.00" x2="184.91" y2="398.00" stroke="#e57379" stroke-width="0.55" opacity="0.68"/>
<line x1="183.61" y1="390.00" x2="186.21" y2="390.00" stroke="#e57379" stroke-width="0.55" opacity="0.68"/>
<line x1="183.61" y1="398.00" x2="186.21" y2="398.00" stroke="#e57379" stroke-width="0.55" opacity="0.90"/>
<line x1="193.14" y1="387.50" x2="193.14" y2="395.50" stroke="#e57379" stroke-width="0.55" opacity="0.68"/>
<line x1="191.84" y1="387.50" x2="194.44" y2="387.50" stroke="#e57379" stroke-width="0.55" opacity="0.68"/>
<line x1="191.84" y1="395.50" x2="194.44" y2="395.50" stroke="#e57379" stroke-width="0.55" opacity="0.90"/>
<line x1="201.37" y1="385.00" x2="201.37" y2="393.00" stroke="#e57379" stroke-width="0.55" opacity="0.68"/>
<line x1="200.07" y1="385.00" x2="202.67" y2="385.00" stroke="#e57379" stroke-width="0.55" opacity="0.68"/>
<line x1="200.07" y1="393.00" x2="202.67" y2="393.00" stroke="#e57379" stroke-width="0.55" opacity="0.90"/>
<line x1="209.60" y1="382.50" x2="209.60" y2="390.50" stroke="#e57379" stroke-width="0.55" opacity="0.68"/>
<line x1="208.30" y1="382.50" x2="210.90" y2="382.50" stroke="#e57379" stroke-width="0.55" opacity="0.68"/>
<line x1="208.30" y1="390.50" x2="210.90" y2="390.50" stroke="#e57379" stroke-width="0.55" opacity="0.90"/>
<polyline points="45.00,422.50 53.23,421.07 61.46,419.64 69.69,418.21 77.92,416.79 86.15,415.36 94.38,413.93 102.61,412.50 110.84,410.83 119.07,409.17 127.30,407.50 135.53,405.50 143.76,403.50 151.99,401.50 160.22,399.75 168.45,398.00 176.68,396.00 184.91,394.00 193.14,391.50 201.37,389.00 209.60,386.50" fill="none" stroke="#e57379" stroke-width="0.80"/>
<circle cx="45.00" cy="422.50" r="1.30" fill="#e57379"/>
<circle cx="53.23" cy="421.07" r="1.30" fill="#e57379"/>
<circle cx="61.46" cy="419.64" r="1.30" fill="#e57379"/>
<circle cx="69.69" cy="418.21" r="1.30" fill="#e57379"/>
<circle cx="77.92" cy="416.79" r="1.30" fill="#e57379"/>
<circle cx="86.15" cy="415.36" r="1.30" fill="#e57379"/>
<circle cx="94.38" cy="413.93" r="1.30" fill="#e57379"/>
<circle cx="102.61" cy="412.50" r="1.30" fill="#e57379"/>
<circle cx="110.84" cy="410.83" r="1.30" fill="#e57379"/>
<circle cx="119.07" cy="409.17" r="1.30" fill="#e57379"/>
<circle cx="127.30" cy="407.50" r="1.30" fill="#e57379"/>
<circle cx="135.53" cy="405.50" r="1.30" fill="#e57379"/>
<circle cx="143.76" cy="403.50" r="1.30" fill="#e57379"/>
<circle cx="151.99" cy="401.50" r="1.30" fill="#e57379"/>
<circle cx="160.22" cy="399.75" r="1.30" fill="#e57379"/>
<circle cx="168.45" cy="398.00" r="1.30" fill="#e57379"/>
<circle cx="176.68" cy="396.00" r="1.30" fill="#e57379"/>
<circle cx="184.91" cy="394.00" r="1.30" fill="#e57379"/>
<circle cx="193.14" cy="391.50" r="1.30" fill="#e57379"/>
<circle cx="201.37" cy="389.00" r="1.30" fill="#e57379"/>
<circle cx="209.60" cy="386.50" r="1.30" fill="#e57379"/>
<line x1="45.00" y1="417.00" x2="45.00" y2="426.00" stroke="#d9434b" stroke-width="0.55" opacity="0.68"/>
<line x1="43.70" y1="417.00" x2="46.30" y2="417.00" stroke="#d9434b" stroke-width="0.55" opacity="0.68"/>
<line x1="43.70" y1="426.00" x2="46.30" y2="426.00" stroke="#d9434b" stroke-width="0.55" opacity="0.90"/>
<line x1="53.23" y1="415.50" x2="53.23" y2="424.50" stroke="#d9434b" stroke-width="0.55" opacity="0.68"/>
<line x1="51.93" y1="415.50" x2="54.53" y2="415.50" stroke="#d9434b" stroke-width="0.55" opacity="0.68"/>
<line x1="51.93" y1="424.50" x2="54.53" y2="424.50" stroke="#d9434b" stroke-width="0.55" opacity="0.90"/>
<line x1="61.46" y1="414.00" x2="61.46" y2="423.00" stroke="#d9434b" stroke-width="0.55" opacity="0.68"/>
<line x1="60.16" y1="414.00" x2="62.76" y2="414.00" stroke="#d9434b" stroke-width="0.55" opacity="0.68"/>
<line x1="60.16" y1="423.00" x2="62.76" y2="423.00" stroke="#d9434b" stroke-width="0.55" opacity="0.90"/>
<line x1="69.69" y1="412.50" x2="69.69" y2="421.50" stroke="#d9434b" stroke-width="0.55" opacity="0.68"/>
<line x1="68.39" y1="412.50" x2="70.99" y2="412.50" stroke="#d9434b" stroke-width="0.55" opacity="0.68"/>
<line x1="68.39" y1="421.50" x2="70.99" y2="421.50" stroke="#d9434b" stroke-width="0.55" opacity="0.90"/>
<line x1="77.92" y1="411.00" x2="77.92" y2="420.00" stroke="#d9434b" stroke-width="0.55" opacity="0.68"/>
<line x1="76.62" y1="411.00" x2="79.22" y2="411.00" stroke="#d9434b" stroke-width="0.55" opacity="0.68"/>
<line x1="76.62" y1="420.00" x2="79.22" y2="420.00" stroke="#d9434b" stroke-width="0.55" opacity="0.90"/>
<line x1="86.15" y1="409.50" x2="86.15" y2="418.50" stroke="#d9434b" stroke-width="0.55" opacity="0.68"/>
<line x1="84.85" y1="409.50" x2="87.45" y2="409.50" stroke="#d9434b" stroke-width="0.55" opacity="0.68"/>
<line x1="84.85" y1="418.50" x2="87.45" y2="418.50" stroke="#d9434b" stroke-width="0.55" opacity="0.90"/>
<line x1="94.38" y1="408.00" x2="94.38" y2="417.00" stroke="#d9434b" stroke-width="0.55" opacity="0.68"/>
<line x1="93.08" y1="408.00" x2="95.68" y2="408.00" stroke="#d9434b" stroke-width="0.55" opacity="0.68"/>
<line x1="93.08" y1="417.00" x2="95.68" y2="417.00" stroke="#d9434b" stroke-width="0.55" opacity="0.90"/>
<line x1="102.61" y1="406.50" x2="102.61" y2="415.50" stroke="#d9434b" stroke-width="0.55" opacity="0.68"/>
<line x1="101.31" y1="406.50" x2="103.91" y2="406.50" stroke="#d9434b" stroke-width="0.55" opacity="0.68"/>
<line x1="101.31" y1="415.50" x2="103.91" y2="415.50" stroke="#d9434b" stroke-width="0.55" opacity="0.90"/>
<line x1="110.84" y1="404.77" x2="110.84" y2="413.77" stroke="#d9434b" stroke-width="0.55" opacity="0.68"/>
<line x1="109.54" y1="404.77" x2="112.14" y2="404.77" stroke="#d9434b" stroke-width="0.55" opacity="0.68"/>
<line x1="109.54" y1="413.77" x2="112.14" y2="413.77" stroke="#d9434b" stroke-width="0.55" opacity="0.90"/>
<line x1="119.07" y1="403.03" x2="119.07" y2="412.03" stroke="#d9434b" stroke-width="0.55" opacity="0.68"/>
<line x1="117.77" y1="403.03" x2="120.37" y2="403.03" stroke="#d9434b" stroke-width="0.55" opacity="0.68"/>
<line x1="117.77" y1="412.03" x2="120.37" y2="412.03" stroke="#d9434b" stroke-width="0.55" opacity="0.90"/>
<line x1="127.30" y1="401.30" x2="127.30" y2="410.30" stroke="#d9434b" stroke-width="0.55" opacity="0.68"/>
<line x1="126.00" y1="401.30" x2="128.60" y2="401.30" stroke="#d9434b" stroke-width="0.55" opacity="0.68"/>
<line x1="126.00" y1="410.30" x2="128.60" y2="410.30" stroke="#d9434b" stroke-width="0.55" opacity="0.90"/>
<line x1="135.53" y1="399.13" x2="135.53" y2="408.13" stroke="#d9434b" stroke-width="0.55" opacity="0.68"/>
<line x1="134.23" y1="399.13" x2="136.83" y2="399.13" stroke="#d9434b" stroke-width="0.55" opacity="0.68"/>
<line x1="134.23" y1="408.13" x2="136.83" y2="408.13" stroke="#d9434b" stroke-width="0.55" opacity="0.90"/>
<line x1="143.76" y1="396.97" x2="143.76" y2="405.97" stroke="#d9434b" stroke-width="0.55" opacity="0.68"/>
<line x1="142.46" y1="396.97" x2="145.06" y2="396.97" stroke="#d9434b" stroke-width="0.55" opacity="0.68"/>
<line x1="142.46" y1="405.97" x2="145.06" y2="405.97" stroke="#d9434b" stroke-width="0.55" opacity="0.90"/>
<line x1="151.99" y1="394.80" x2="151.99" y2="403.80" stroke="#d9434b" stroke-width="0.55" opacity="0.68"/>
<line x1="150.69" y1="394.80" x2="153.29" y2="394.80" stroke="#d9434b" stroke-width="0.55" opacity="0.68"/>
<line x1="150.69" y1="403.80" x2="153.29" y2="403.80" stroke="#d9434b" stroke-width="0.55" opacity="0.90"/>
<line x1="160.22" y1="393.05" x2="160.22" y2="402.05" stroke="#d9434b" stroke-width="0.55" opacity="0.68"/>
<line x1="158.92" y1="393.05" x2="161.52" y2="393.05" stroke="#d9434b" stroke-width="0.55" opacity="0.68"/>
<line x1="158.92" y1="402.05" x2="161.52" y2="402.05" stroke="#d9434b" stroke-width="0.55" opacity="0.90"/>
<line x1="168.45" y1="391.30" x2="168.45" y2="400.30" stroke="#d9434b" stroke-width="0.55" opacity="0.68"/>
<line x1="167.15" y1="391.30" x2="169.75" y2="391.30" stroke="#d9434b" stroke-width="0.55" opacity="0.68"/>
<line x1="167.15" y1="400.30" x2="169.75" y2="400.30" stroke="#d9434b" stroke-width="0.55" opacity="0.90"/>
<line x1="176.68" y1="388.95" x2="176.68" y2="397.95" stroke="#d9434b" stroke-width="0.55" opacity="0.68"/>
<line x1="175.38" y1="388.95" x2="177.98" y2="388.95" stroke="#d9434b" stroke-width="0.55" opacity="0.68"/>
<line x1="175.38" y1="397.95" x2="177.98" y2="397.95" stroke="#d9434b" stroke-width="0.55" opacity="0.90"/>
<line x1="184.91" y1="386.60" x2="184.91" y2="395.60" stroke="#d9434b" stroke-width="0.55" opacity="0.68"/>
<line x1="183.61" y1="386.60" x2="186.21" y2="386.60" stroke="#d9434b" stroke-width="0.55" opacity="0.68"/>
<line x1="183.61" y1="395.60" x2="186.21" y2="395.60" stroke="#d9434b" stroke-width="0.55" opacity="0.90"/>
<line x1="193.14" y1="383.70" x2="193.14" y2="392.70" stroke="#d9434b" stroke-width="0.55" opacity="0.68"/>
<line x1="191.84" y1="383.70" x2="194.44" y2="383.70" stroke="#d9434b" stroke-width="0.55" opacity="0.68"/>
<line x1="191.84" y1="392.70" x2="194.44" y2="392.70" stroke="#d9434b" stroke-width="0.55" opacity="0.90"/>
<line x1="201.37" y1="380.80" x2="201.37" y2="389.80" stroke="#d9434b" stroke-width="0.55" opacity="0.68"/>
<line x1="200.07" y1="380.80" x2="202.67" y2="380.80" stroke="#d9434b" stroke-width="0.55" opacity="0.68"/>
<line x1="200.07" y1="389.80" x2="202.67" y2="389.80" stroke="#d9434b" stroke-width="0.55" opacity="0.90"/>
<line x1="209.60" y1="377.30" x2="209.60" y2="386.30" stroke="#d9434b" stroke-width="0.55" opacity="0.68"/>
<line x1="208.30" y1="377.30" x2="210.90" y2="377.30" stroke="#d9434b" stroke-width="0.55" opacity="0.68"/>
<line x1="208.30" y1="386.30" x2="210.90" y2="386.30" stroke="#d9434b" stroke-width="0.55" opacity="0.90"/>
<polyline points="45.00,421.50 53.23,420.00 61.46,418.50 69.69,417.00 77.92,415.50 86.15,414.00 94.38,412.50 102.61,411.00 110.84,409.27 119.07,407.53 127.30,405.80 135.53,403.63 143.76,401.47 151.99,399.30 160.22,397.55 168.45,395.80 176.68,393.45 184.91,391.10 193.14,388.20 201.37,385.30 209.60,381.80" fill="none" stroke="#d9434b" stroke-width="0.80"/>
<circle cx="45.00" cy="421.50" r="1.30" fill="#d9434b"/>
<circle cx="53.23" cy="420.00" r="1.30" fill="#d9434b"/>
<circle cx="61.46" cy="418.50" r="1.30" fill="#d9434b"/>
<circle cx="69.69" cy="417.00" r="1.30" fill="#d9434b"/>
<circle cx="77.92" cy="415.50" r="1.30" fill="#d9434b"/>
<circle cx="86.15" cy="414.00" r="1.30" fill="#d9434b"/>
<circle cx="94.38" cy="412.50" r="1.30" fill="#d9434b"/>
<circle cx="102.61" cy="411.00" r="1.30" fill="#d9434b"/>
<circle cx="110.84" cy="409.27" r="1.30" fill="#d9434b"/>
<circle cx="119.07" cy="407.53" r="1.30" fill="#d9434b"/>
<circle cx="127.30" cy="405.80" r="1.30" fill="#d9434b"/>
<circle cx="135.53" cy="403.63" r="1.30" fill="#d9434b"/>
<circle cx="143.76" cy="401.47" r="1.30" fill="#d9434b"/>
<circle cx="151.99" cy="399.30" r="1.30" fill="#d9434b"/>
<circle cx="160.22" cy="397.55" r="1.30" fill="#d9434b"/>
<circle cx="168.45" cy="395.80" r="1.30" fill="#d9434b"/>
<circle cx="176.68" cy="393.45" r="1.30" fill="#d9434b"/>
<circle cx="184.91" cy="391.10" r="1.30" fill="#d9434b"/>
<circle cx="193.14" cy="388.20" r="1.30" fill="#d9434b"/>
<circle cx="201.37" cy="385.30" r="1.30" fill="#d9434b"/>
<circle cx="209.60" cy="381.80" r="1.30" fill="#d9434b"/>
<line x1="45.00" y1="419.30" x2="45.00" y2="427.30" stroke="#8c1d2c" stroke-width="0.55" opacity="0.68"/>
<line x1="43.70" y1="419.30" x2="46.30" y2="419.30" stroke="#8c1d2c" stroke-width="0.55" opacity="0.68"/>
<line x1="43.70" y1="427.30" x2="46.30" y2="427.30" stroke="#8c1d2c" stroke-width="0.55" opacity="0.90"/>
<line x1="53.23" y1="418.03" x2="53.23" y2="426.03" stroke="#8c1d2c" stroke-width="0.55" opacity="0.68"/>
<line x1="51.93" y1="418.03" x2="54.53" y2="418.03" stroke="#8c1d2c" stroke-width="0.55" opacity="0.68"/>
<line x1="51.93" y1="426.03" x2="54.53" y2="426.03" stroke="#8c1d2c" stroke-width="0.55" opacity="0.90"/>
<line x1="61.46" y1="416.76" x2="61.46" y2="424.76" stroke="#8c1d2c" stroke-width="0.55" opacity="0.68"/>
<line x1="60.16" y1="416.76" x2="62.76" y2="416.76" stroke="#8c1d2c" stroke-width="0.55" opacity="0.68"/>
<line x1="60.16" y1="424.76" x2="62.76" y2="424.76" stroke="#8c1d2c" stroke-width="0.55" opacity="0.90"/>
<line x1="69.69" y1="415.49" x2="69.69" y2="423.49" stroke="#8c1d2c" stroke-width="0.55" opacity="0.68"/>
<line x1="68.39" y1="415.49" x2="70.99" y2="415.49" stroke="#8c1d2c" stroke-width="0.55" opacity="0.68"/>
<line x1="68.39" y1="423.49" x2="70.99" y2="423.49" stroke="#8c1d2c" stroke-width="0.55" opacity="0.90"/>
<line x1="77.92" y1="414.21" x2="77.92" y2="422.21" stroke="#8c1d2c" stroke-width="0.55" opacity="0.68"/>
<line x1="76.62" y1="414.21" x2="79.22" y2="414.21" stroke="#8c1d2c" stroke-width="0.55" opacity="0.68"/>
<line x1="76.62" y1="422.21" x2="79.22" y2="422.21" stroke="#8c1d2c" stroke-width="0.55" opacity="0.90"/>
<line x1="86.15" y1="412.94" x2="86.15" y2="420.94" stroke="#8c1d2c" stroke-width="0.55" opacity="0.68"/>
<line x1="84.85" y1="412.94" x2="87.45" y2="412.94" stroke="#8c1d2c" stroke-width="0.55" opacity="0.68"/>
<line x1="84.85" y1="420.94" x2="87.45" y2="420.94" stroke="#8c1d2c" stroke-width="0.55" opacity="0.90"/>
<line x1="94.38" y1="411.67" x2="94.38" y2="419.67" stroke="#8c1d2c" stroke-width="0.55" opacity="0.68"/>
<line x1="93.08" y1="411.67" x2="95.68" y2="411.67" stroke="#8c1d2c" stroke-width="0.55" opacity="0.68"/>
<line x1="93.08" y1="419.67" x2="95.68" y2="419.67" stroke="#8c1d2c" stroke-width="0.55" opacity="0.90"/>
<line x1="102.61" y1="410.40" x2="102.61" y2="418.40" stroke="#8c1d2c" stroke-width="0.55" opacity="0.68"/>
<line x1="101.31" y1="410.40" x2="103.91" y2="410.40" stroke="#8c1d2c" stroke-width="0.55" opacity="0.68"/>
<line x1="101.31" y1="418.40" x2="103.91" y2="418.40" stroke="#8c1d2c" stroke-width="0.55" opacity="0.90"/>
<line x1="110.84" y1="409.00" x2="110.84" y2="417.00" stroke="#8c1d2c" stroke-width="0.55" opacity="0.68"/>
<line x1="109.54" y1="409.00" x2="112.14" y2="409.00" stroke="#8c1d2c" stroke-width="0.55" opacity="0.68"/>
<line x1="109.54" y1="417.00" x2="112.14" y2="417.00" stroke="#8c1d2c" stroke-width="0.55" opacity="0.90"/>
<line x1="119.07" y1="407.60" x2="119.07" y2="415.60" stroke="#8c1d2c" stroke-width="0.55" opacity="0.68"/>
<line x1="117.77" y1="407.60" x2="120.37" y2="407.60" stroke="#8c1d2c" stroke-width="0.55" opacity="0.68"/>
<line x1="117.77" y1="415.60" x2="120.37" y2="415.60" stroke="#8c1d2c" stroke-width="0.55" opacity="0.90"/>
<line x1="127.30" y1="406.35" x2="127.30" y2="414.35" stroke="#8c1d2c" stroke-width="0.55" opacity="0.68"/>
<line x1="126.00" y1="406.35" x2="128.60" y2="406.35" stroke="#8c1d2c" stroke-width="0.55" opacity="0.68"/>
<line x1="126.00" y1="414.35" x2="128.60" y2="414.35" stroke="#8c1d2c" stroke-width="0.55" opacity="0.90"/>
<line x1="135.53" y1="405.10" x2="135.53" y2="413.10" stroke="#8c1d2c" stroke-width="0.55" opacity="0.68"/>
<line x1="134.23" y1="405.10" x2="136.83" y2="405.10" stroke="#8c1d2c" stroke-width="0.55" opacity="0.68"/>
<line x1="134.23" y1="413.10" x2="136.83" y2="413.10" stroke="#8c1d2c" stroke-width="0.55" opacity="0.90"/>
<line x1="143.76" y1="402.75" x2="143.76" y2="410.75" stroke="#8c1d2c" stroke-width="0.55" opacity="0.68"/>
<line x1="142.46" y1="402.75" x2="145.06" y2="402.75" stroke="#8c1d2c" stroke-width="0.55" opacity="0.68"/>
<line x1="142.46" y1="410.75" x2="145.06" y2="410.75" stroke="#8c1d2c" stroke-width="0.55" opacity="0.90"/>
<line x1="151.99" y1="400.40" x2="151.99" y2="408.40" stroke="#8c1d2c" stroke-width="0.55" opacity="0.68"/>
<line x1="150.69" y1="400.40" x2="153.29" y2="400.40" stroke="#8c1d2c" stroke-width="0.55" opacity="0.68"/>
<line x1="150.69" y1="408.40" x2="153.29" y2="408.40" stroke="#8c1d2c" stroke-width="0.55" opacity="0.90"/>
<line x1="160.22" y1="398.45" x2="160.22" y2="406.45" stroke="#8c1d2c" stroke-width="0.55" opacity="0.68"/>
<line x1="158.92" y1="398.45" x2="161.52" y2="398.45" stroke="#8c1d2c" stroke-width="0.55" opacity="0.68"/>
<line x1="158.92" y1="406.45" x2="161.52" y2="406.45" stroke="#8c1d2c" stroke-width="0.55" opacity="0.90"/>
<line x1="168.45" y1="396.50" x2="168.45" y2="404.50" stroke="#8c1d2c" stroke-width="0.55" opacity="0.68"/>
<line x1="167.15" y1="396.50" x2="169.75" y2="396.50" stroke="#8c1d2c" stroke-width="0.55" opacity="0.68"/>
<line x1="167.15" y1="404.50" x2="169.75" y2="404.50" stroke="#8c1d2c" stroke-width="0.55" opacity="0.90"/>
<line x1="176.68" y1="394.75" x2="176.68" y2="402.75" stroke="#8c1d2c" stroke-width="0.55" opacity="0.68"/>
<line x1="175.38" y1="394.75" x2="177.98" y2="394.75" stroke="#8c1d2c" stroke-width="0.55" opacity="0.68"/>
<line x1="175.38" y1="402.75" x2="177.98" y2="402.75" stroke="#8c1d2c" stroke-width="0.55" opacity="0.90"/>
<line x1="184.91" y1="393.00" x2="184.91" y2="401.00" stroke="#8c1d2c" stroke-width="0.55" opacity="0.68"/>
<line x1="183.61" y1="393.00" x2="186.21" y2="393.00" stroke="#8c1d2c" stroke-width="0.55" opacity="0.68"/>
<line x1="183.61" y1="401.00" x2="186.21" y2="401.00" stroke="#8c1d2c" stroke-width="0.55" opacity="0.90"/>
<line x1="193.14" y1="390.90" x2="193.14" y2="398.90" stroke="#8c1d2c" stroke-width="0.55" opacity="0.68"/>
<line x1="191.84" y1="390.90" x2="194.44" y2="390.90" stroke="#8c1d2c" stroke-width="0.55" opacity="0.68"/>
<line x1="191.84" y1="398.90" x2="194.44" y2="398.90" stroke="#8c1d2c" stroke-width="0.55" opacity="0.90"/>
<line x1="201.37" y1="388.80" x2="201.37" y2="396.80" stroke="#8c1d2c" stroke-width="0.55" opacity="0.68"/>
<line x1="200.07" y1="388.80" x2="202.67" y2="388.80" stroke="#8c1d2c" stroke-width="0.55" opacity="0.68"/>
<line x1="200.07" y1="396.80" x2="202.67" y2="396.80" stroke="#8c1d2c" stroke-width="0.55" opacity="0.90"/>
<line x1="209.60" y1="386.00" x2="209.60" y2="394.00" stroke="#8c1d2c" stroke-width="0.55" opacity="0.68"/>
<line x1="208.30" y1="386.00" x2="210.90" y2="386.00" stroke="#8c1d2c" stroke-width="0.55" opacity="0.68"/>
<line x1="208.30" y1="394.00" x2="210.90" y2="394.00" stroke="#8c1d2c" stroke-width="0.55" opacity="0.90"/>
<polyline points="45.00,423.30 53.23,422.03 61.46,420.76 69.69,419.49 77.92,418.21 86.15,416.94 94.38,415.67 102.61,414.40 110.84,413.00 119.07,411.60 127.30,410.35 135.53,409.10 143.76,406.75 151.99,404.40 160.22,402.45 168.45,400.50 176.68,398.75 184.91,397.00 193.14,394.90 201.37,392.80 209.60,390.00" fill="none" stroke="#8c1d2c" stroke-width="0.80"/>
<circle cx="45.00" cy="423.30" r="1.30" fill="#8c1d2c"/>
<circle cx="53.23" cy="422.03" r="1.30" fill="#8c1d2c"/>
<circle cx="61.46" cy="420.76" r="1.30" fill="#8c1d2c"/>
<circle cx="69.69" cy="419.49" r="1.30" fill="#8c1d2c"/>
<circle cx="77.92" cy="418.21" r="1.30" fill="#8c1d2c"/>
<circle cx="86.15" cy="416.94" r="1.30" fill="#8c1d2c"/>
<circle cx="94.38" cy="415.67" r="1.30" fill="#8c1d2c"/>
<circle cx="102.61" cy="414.40" r="1.30" fill="#8c1d2c"/>
<circle cx="110.84" cy="413.00" r="1.30" fill="#8c1d2c"/>
<circle cx="119.07" cy="411.60" r="1.30" fill="#8c1d2c"/>
<circle cx="127.30" cy="410.35" r="1.30" fill="#8c1d2c"/>
<circle cx="135.53" cy="409.10" r="1.30" fill="#8c1d2c"/>
<circle cx="143.76" cy="406.75" r="1.30" fill="#8c1d2c"/>
<circle cx="151.99" cy="404.40" r="1.30" fill="#8c1d2c"/>
<circle cx="160.22" cy="402.45" r="1.30" fill="#8c1d2c"/>
<circle cx="168.45" cy="400.50" r="1.30" fill="#8c1d2c"/>
<circle cx="176.68" cy="398.75" r="1.30" fill="#8c1d2c"/>
<circle cx="184.91" cy="397.00" r="1.30" fill="#8c1d2c"/>
<circle cx="193.14" cy="394.90" r="1.30" fill="#8c1d2c"/>
<circle cx="201.37" cy="392.80" r="1.30" fill="#8c1d2c"/>
<circle cx="209.60" cy="390.00" r="1.30" fill="#8c1d2c"/>
<line x1="45.00" y1="419.90" x2="45.00" y2="427.90" stroke="#333" stroke-width="0.55" opacity="0.60"/>
<line x1="43.70" y1="419.90" x2="46.30" y2="419.90" stroke="#333" stroke-width="0.55" opacity="0.60"/>
<line x1="43.70" y1="427.90" x2="46.30" y2="427.90" stroke="#333" stroke-width="0.55" opacity="0.80"/>
<line x1="53.23" y1="418.63" x2="53.23" y2="426.63" stroke="#333" stroke-width="0.55" opacity="0.60"/>
<line x1="51.93" y1="418.63" x2="54.53" y2="418.63" stroke="#333" stroke-width="0.55" opacity="0.60"/>
<line x1="51.93" y1="426.63" x2="54.53" y2="426.63" stroke="#333" stroke-width="0.55" opacity="0.80"/>
<line x1="61.46" y1="417.36" x2="61.46" y2="425.36" stroke="#333" stroke-width="0.55" opacity="0.60"/>
<line x1="60.16" y1="417.36" x2="62.76" y2="417.36" stroke="#333" stroke-width="0.55" opacity="0.60"/>
<line x1="60.16" y1="425.36" x2="62.76" y2="425.36" stroke="#333" stroke-width="0.55" opacity="0.80"/>
<line x1="69.69" y1="416.09" x2="69.69" y2="424.09" stroke="#333" stroke-width="0.55" opacity="0.60"/>
<line x1="68.39" y1="416.09" x2="70.99" y2="416.09" stroke="#333" stroke-width="0.55" opacity="0.60"/>
<line x1="68.39" y1="424.09" x2="70.99" y2="424.09" stroke="#333" stroke-width="0.55" opacity="0.80"/>
<line x1="77.92" y1="414.81" x2="77.92" y2="422.81" stroke="#333" stroke-width="0.55" opacity="0.60"/>
<line x1="76.62" y1="414.81" x2="79.22" y2="414.81" stroke="#333" stroke-width="0.55" opacity="0.60"/>
<line x1="76.62" y1="422.81" x2="79.22" y2="422.81" stroke="#333" stroke-width="0.55" opacity="0.80"/>
<line x1="86.15" y1="413.54" x2="86.15" y2="421.54" stroke="#333" stroke-width="0.55" opacity="0.60"/>
<line x1="84.85" y1="413.54" x2="87.45" y2="413.54" stroke="#333" stroke-width="0.55" opacity="0.60"/>
<line x1="84.85" y1="421.54" x2="87.45" y2="421.54" stroke="#333" stroke-width="0.55" opacity="0.80"/>
<line x1="94.38" y1="412.27" x2="94.38" y2="420.27" stroke="#333" stroke-width="0.55" opacity="0.60"/>
<line x1="93.08" y1="412.27" x2="95.68" y2="412.27" stroke="#333" stroke-width="0.55" opacity="0.60"/>
<line x1="93.08" y1="420.27" x2="95.68" y2="420.27" stroke="#333" stroke-width="0.55" opacity="0.80"/>
<line x1="102.61" y1="411.00" x2="102.61" y2="419.00" stroke="#333" stroke-width="0.55" opacity="0.60"/>
<line x1="101.31" y1="411.00" x2="103.91" y2="411.00" stroke="#333" stroke-width="0.55" opacity="0.60"/>
<line x1="101.31" y1="419.00" x2="103.91" y2="419.00" stroke="#333" stroke-width="0.55" opacity="0.80"/>
<line x1="110.84" y1="409.60" x2="110.84" y2="417.60" stroke="#333" stroke-width="0.55" opacity="0.60"/>
<line x1="109.54" y1="409.60" x2="112.14" y2="409.60" stroke="#333" stroke-width="0.55" opacity="0.60"/>
<line x1="109.54" y1="417.60" x2="112.14" y2="417.60" stroke="#333" stroke-width="0.55" opacity="0.80"/>
<line x1="119.07" y1="408.20" x2="119.07" y2="416.20" stroke="#333" stroke-width="0.55" opacity="0.60"/>
<line x1="117.77" y1="408.20" x2="120.37" y2="408.20" stroke="#333" stroke-width="0.55" opacity="0.60"/>
<line x1="117.77" y1="416.20" x2="120.37" y2="416.20" stroke="#333" stroke-width="0.55" opacity="0.80"/>
<line x1="127.30" y1="406.95" x2="127.30" y2="414.95" stroke="#333" stroke-width="0.55" opacity="0.60"/>
<line x1="126.00" y1="406.95" x2="128.60" y2="406.95" stroke="#333" stroke-width="0.55" opacity="0.60"/>
<line x1="126.00" y1="414.95" x2="128.60" y2="414.95" stroke="#333" stroke-width="0.55" opacity="0.80"/>
<line x1="135.53" y1="405.70" x2="135.53" y2="413.70" stroke="#333" stroke-width="0.55" opacity="0.60"/>
<line x1="134.23" y1="405.70" x2="136.83" y2="405.70" stroke="#333" stroke-width="0.55" opacity="0.60"/>
<line x1="134.23" y1="413.70" x2="136.83" y2="413.70" stroke="#333" stroke-width="0.55" opacity="0.80"/>
<line x1="143.76" y1="403.35" x2="143.76" y2="411.35" stroke="#333" stroke-width="0.55" opacity="0.60"/>
<line x1="142.46" y1="403.35" x2="145.06" y2="403.35" stroke="#333" stroke-width="0.55" opacity="0.60"/>
<line x1="142.46" y1="411.35" x2="145.06" y2="411.35" stroke="#333" stroke-width="0.55" opacity="0.80"/>
<line x1="151.99" y1="401.00" x2="151.99" y2="409.00" stroke="#333" stroke-width="0.55" opacity="0.60"/>
<line x1="150.69" y1="401.00" x2="153.29" y2="401.00" stroke="#333" stroke-width="0.55" opacity="0.60"/>
<line x1="150.69" y1="409.00" x2="153.29" y2="409.00" stroke="#333" stroke-width="0.55" opacity="0.80"/>
<line x1="160.22" y1="399.05" x2="160.22" y2="407.05" stroke="#333" stroke-width="0.55" opacity="0.60"/>
<line x1="158.92" y1="399.05" x2="161.52" y2="399.05" stroke="#333" stroke-width="0.55" opacity="0.60"/>
<line x1="158.92" y1="407.05" x2="161.52" y2="407.05" stroke="#333" stroke-width="0.55" opacity="0.80"/>
<line x1="168.45" y1="397.10" x2="168.45" y2="405.10" stroke="#333" stroke-width="0.55" opacity="0.60"/>
<line x1="167.15" y1="397.10" x2="169.75" y2="397.10" stroke="#333" stroke-width="0.55" opacity="0.60"/>
<line x1="167.15" y1="405.10" x2="169.75" y2="405.10" stroke="#333" stroke-width="0.55" opacity="0.80"/>
<line x1="176.68" y1="395.35" x2="176.68" y2="403.35" stroke="#333" stroke-width="0.55" opacity="0.60"/>
<line x1="175.38" y1="395.35" x2="177.98" y2="395.35" stroke="#333" stroke-width="0.55" opacity="0.60"/>
<line x1="175.38" y1="403.35" x2="177.98" y2="403.35" stroke="#333" stroke-width="0.55" opacity="0.80"/>
<line x1="184.91" y1="393.60" x2="184.91" y2="401.60" stroke="#333" stroke-width="0.55" opacity="0.60"/>
<line x1="183.61" y1="393.60" x2="186.21" y2="393.60" stroke="#333" stroke-width="0.55" opacity="0.60"/>
<line x1="183.61" y1="401.60" x2="186.21" y2="401.60" stroke="#333" stroke-width="0.55" opacity="0.80"/>
<line x1="193.14" y1="391.50" x2="193.14" y2="399.50" stroke="#333" stroke-width="0.55" opacity="0.60"/>
<line x1="191.84" y1="391.50" x2="194.44" y2="391.50" stroke="#333" stroke-width="0.55" opacity="0.60"/>
<line x1="191.84" y1="399.50" x2="194.44" y2="399.50" stroke="#333" stroke-width="0.55" opacity="0.80"/>
<line x1="201.37" y1="389.40" x2="201.37" y2="397.40" stroke="#333" stroke-width="0.55" opacity="0.60"/>
<line x1="200.07" y1="389.40" x2="202.67" y2="389.40" stroke="#333" stroke-width="0.55" opacity="0.60"/>
<line x1="200.07" y1="397.40" x2="202.67" y2="397.40" stroke="#333" stroke-width="0.55" opacity="0.80"/>
<line x1="209.60" y1="386.60" x2="209.60" y2="394.60" stroke="#333" stroke-width="0.55" opacity="0.60"/>
<line x1="208.30" y1="386.60" x2="210.90" y2="386.60" stroke="#333" stroke-width="0.55" opacity="0.60"/>
<line x1="208.30" y1="394.60" x2="210.90" y2="394.60" stroke="#333" stroke-width="0.55" opacity="0.80"/>
<polyline points="45.00,423.90 53.23,422.63 61.46,421.36 69.69,420.09 77.92,418.81 86.15,417.54 94.38,416.27 102.61,415.00 110.84,413.60 119.07,412.20 127.30,410.95 135.53,409.70 143.76,407.35 151.99,405.00 160.22,403.05 168.45,401.10 176.68,399.35 184.91,397.60 193.14,395.50 201.37,393.40 209.60,390.60" fill="none" stroke="#1a1a1a" stroke-width="0.80"/>
<circle cx="45.00" cy="423.90" r="1.30" fill="#1a1a1a"/>
<circle cx="53.23" cy="422.63" r="1.30" fill="#1a1a1a"/>
<circle cx="61.46" cy="421.36" r="1.30" fill="#1a1a1a"/>
<circle cx="69.69" cy="420.09" r="1.30" fill="#1a1a1a"/>
<circle cx="77.92" cy="418.81" r="1.30" fill="#1a1a1a"/>
<circle cx="86.15" cy="417.54" r="1.30" fill="#1a1a1a"/>
<circle cx="94.38" cy="416.27" r="1.30" fill="#1a1a1a"/>
<circle cx="102.61" cy="415.00" r="1.30" fill="#1a1a1a"/>
<circle cx="110.84" cy="413.60" r="1.30" fill="#1a1a1a"/>
<circle cx="119.07" cy="412.20" r="1.30" fill="#1a1a1a"/>
<circle cx="127.30" cy="410.95" r="1.30" fill="#1a1a1a"/>
<circle cx="135.53" cy="409.70" r="1.30" fill="#1a1a1a"/>
<circle cx="143.76" cy="407.35" r="1.30" fill="#1a1a1a"/>
<circle cx="151.99" cy="405.00" r="1.30" fill="#1a1a1a"/>
<circle cx="160.22" cy="403.05" r="1.30" fill="#1a1a1a"/>
<circle cx="168.45" cy="401.10" r="1.30" fill="#1a1a1a"/>
<circle cx="176.68" cy="399.35" r="1.30" fill="#1a1a1a"/>
<circle cx="184.91" cy="397.60" r="1.30" fill="#1a1a1a"/>
<circle cx="193.14" cy="395.50" r="1.30" fill="#1a1a1a"/>
<circle cx="201.37" cy="393.40" r="1.30" fill="#1a1a1a"/>
<circle cx="209.60" cy="390.60" r="1.30" fill="#1a1a1a"/>
<text x="120.50" y="377.80" font-size="7.00" text-anchor="middle" fill="#303030" font-weight="normal" >UTD</text>
<line x1="121.00" y1="381.00" x2="121.00" y2="389.50" stroke="#1a1a1a" stroke-width="0.90" />
<polygon points="119.00,388.80 123.00,388.80 121.00,392.00" fill="#1a1a1a"/>
<line x1="44.30" y1="394.20" x2="44.30" y2="402.10" stroke="#1a1a1a" stroke-width="0.90" />
<polygon points="42.30,401.40 46.30,401.40 44.30,404.60" fill="#1a1a1a"/>
<line x1="223.30" y1="361.30" x2="231.60" y2="361.30" stroke="#1a1a1a" stroke-width="0.90" />
<polygon points="230.90,359.30 230.90,363.30 234.10,361.30" fill="#1a1a1a"/>
<text x="237.80" y="363.50" font-size="6.30" text-anchor="start" fill="#303030" font-weight="normal" >Drug admin</text>
<line x1="225.80" y1="370.20" x2="234.10" y2="370.20" stroke="#1a1a1a" stroke-width="0.80" />
<circle cx="230.00" cy="370.20" r="1.30" fill="#1a1a1a"/>
<text x="237.80" y="372.30" font-size="6.10" text-anchor="start" fill="#303030" font-weight="normal" >UTD DMSO</text>
<line x1="225.80" y1="377.10" x2="234.10" y2="377.10" stroke="#d9434b" stroke-width="0.80" />
<circle cx="230.00" cy="377.10" r="1.30" fill="#d9434b"/>
<text x="237.80" y="379.20" font-size="6.10" text-anchor="start" fill="#303030" font-weight="normal" >UTD 2.5 μM Vene</text>
<line x1="225.80" y1="384.10" x2="234.10" y2="384.10" stroke="#e57379" stroke-width="0.80" />
<circle cx="230.00" cy="384.10" r="1.30" fill="#e57379"/>
<text x="237.80" y="386.20" font-size="6.10" text-anchor="start" fill="#303030" font-weight="normal" >UTD 1 μM Len</text>
<line x1="225.80" y1="391.10" x2="234.10" y2="391.10" stroke="#ef9a9e" stroke-width="0.80" />
<circle cx="230.00" cy="391.10" r="1.30" fill="#ef9a9e"/>
<text x="237.80" y="393.20" font-size="6.10" text-anchor="start" fill="#303030" font-weight="normal" >UTD 5 μM Len</text>
<line x1="225.80" y1="397.60" x2="234.10" y2="397.60" stroke="#f6c4c6" stroke-width="0.80" />
<circle cx="230.00" cy="397.60" r="1.30" fill="#f6c4c6"/>
<text x="237.80" y="399.70" font-size="6.10" text-anchor="start" fill="#303030" font-weight="normal" >UTD 50 μM Len</text>
<line x1="225.80" y1="404.20" x2="234.10" y2="404.20" stroke="#8c1d2c" stroke-width="0.80" />
<circle cx="230.00" cy="404.20" r="1.30" fill="#8c1d2c"/>
<text x="237.80" y="406.30" font-size="6.10" text-anchor="start" fill="#303030" font-weight="normal" >UTD 100 μM Len</text>
<line x1="213.30" y1="377.00" x2="213.30" y2="390.00" stroke="#9a9a9a" stroke-width="0.90" />
<text x="215.20" y="387.00" font-size="6.00" text-anchor="start" fill="#303030" font-weight="normal" >NS</text>
<text x="128.00" y="462.00" font-size="7.40" text-anchor="middle" fill="#303030" font-weight="normal" >Hours</text>
<text x="10.20" y="238.50" font-size="7.20" text-anchor="middle" fill="#303030" font-weight="normal" transform="rotate(-90 10.2 238.5)" >Red total area per μm<tspan font-size="4.4" dy="-3">2</tspan></text>
<path d="M313.80 194.50 H407.60 V255.30" fill="none" stroke="#8f8f8f" stroke-width="0.95"/>
<line x1="315.40" y1="194.50" x2="315.40" y2="255.30" stroke="#c4c4c4" stroke-width="1.30" />
<line x1="313.80" y1="255.30" x2="407.60" y2="255.30" stroke="#7e7e7e" stroke-width="1.00" />
<line x1="312.60" y1="255.30" x2="314.80" y2="255.30" stroke="#555" stroke-width="0.90" />
<text x="309.50" y="257.50" font-size="6.30" text-anchor="end" fill="#303030" font-weight="normal" >0</text>
<line x1="312.60" y1="243.14" x2="314.80" y2="243.14" stroke="#555" stroke-width="0.90" />
<text x="309.50" y="245.34" font-size="6.30" text-anchor="end" fill="#303030" font-weight="normal" >20</text>
<line x1="312.60" y1="230.98" x2="314.80" y2="230.98" stroke="#555" stroke-width="0.90" />
<text x="309.50" y="233.18" font-size="6.30" text-anchor="end" fill="#303030" font-weight="normal" >40</text>
<line x1="312.60" y1="218.82" x2="314.80" y2="218.82" stroke="#555" stroke-width="0.90" />
<text x="309.50" y="221.02" font-size="6.30" text-anchor="end" fill="#303030" font-weight="normal" >60</text>
<line x1="312.60" y1="206.66" x2="314.80" y2="206.66" stroke="#555" stroke-width="0.90" />
<text x="309.50" y="208.86" font-size="6.30" text-anchor="end" fill="#303030" font-weight="normal" >80</text>
<line x1="312.60" y1="194.50" x2="314.80" y2="194.50" stroke="#555" stroke-width="0.90" />
<text x="309.50" y="196.70" font-size="6.30" text-anchor="end" fill="#303030" font-weight="normal" >100</text>
<line x1="329.90" y1="255.30" x2="329.90" y2="257.70" stroke="#777" stroke-width="0.80" />
<text x="329.90" y="265.20" font-size="6.00" text-anchor="middle" fill="#303030" font-weight="normal" >Vene</text>
<line x1="361.70" y1="255.30" x2="361.70" y2="257.70" stroke="#777" stroke-width="0.80" />
<text x="361.70" y="265.20" font-size="6.00" text-anchor="middle" fill="#303030" font-weight="normal" >Len</text>
<line x1="393.60" y1="255.30" x2="393.60" y2="257.70" stroke="#777" stroke-width="0.80" />
<text x="393.60" y="265.20" font-size="6.00" text-anchor="middle" fill="#303030" font-weight="normal" >Dasa</text>
<text x="361.70" y="190.60" font-size="7.20" text-anchor="middle" fill="#303030" font-weight="normal" >CD25</text>
<text x="361.70" y="181.60" font-size="7.20" text-anchor="middle" fill="#303030" font-weight="normal" >2G-CAR</text>
<line x1="324.00" y1="212.74" x2="336.20" y2="215.78" stroke="#1a1a1a" stroke-width="0.80" />
<line x1="324.00" y1="218.82" x2="336.20" y2="220.64" stroke="#1a1a1a" stroke-width="0.80" />
<line x1="324.00" y1="220.04" x2="336.20" y2="222.47" stroke="#1a1a1a" stroke-width="0.80" />
<line x1="324.00" y1="220.64" x2="336.20" y2="223.68" stroke="#1a1a1a" stroke-width="0.80" />
<line x1="324.00" y1="221.86" x2="336.20" y2="226.72" stroke="#1a1a1a" stroke-width="0.80" />
<circle cx="324.00" cy="212.74" r="1.55" fill="#1a1a1a"/>
<circle cx="324.00" cy="218.82" r="1.55" fill="#1a1a1a"/>
<circle cx="324.00" cy="220.04" r="1.55" fill="#1a1a1a"/>
<circle cx="324.00" cy="220.64" r="1.55" fill="#1a1a1a"/>
<circle cx="324.00" cy="221.86" r="1.55" fill="#1a1a1a"/>
<circle cx="336.20" cy="215.78" r="1.55" fill="#6b2d93"/>
<circle cx="336.20" cy="220.64" r="1.55" fill="#6b2d93"/>
<circle cx="336.20" cy="222.47" r="1.55" fill="#6b2d93"/>
<circle cx="336.20" cy="223.68" r="1.55" fill="#6b2d93"/>
<circle cx="336.20" cy="226.72" r="1.55" fill="#6b2d93"/>
<text x="329.90" y="199.90" font-size="5.70" text-anchor="middle" fill="#303030" font-weight="normal" >NS</text>
<line x1="322.60" y1="201.30" x2="337.20" y2="201.30" stroke="#c2c2c2" stroke-width="1.20" />
<line x1="355.60" y1="212.74" x2="367.80" y2="207.27" stroke="#1a1a1a" stroke-width="0.80" />
<line x1="355.60" y1="218.82" x2="367.80" y2="218.82" stroke="#1a1a1a" stroke-width="0.80" />
<line x1="355.60" y1="220.04" x2="367.80" y2="220.64" stroke="#1a1a1a" stroke-width="0.80" />
<line x1="355.60" y1="220.64" x2="367.80" y2="221.86" stroke="#1a1a1a" stroke-width="0.80" />
<line x1="355.60" y1="221.86" x2="367.80" y2="223.08" stroke="#1a1a1a" stroke-width="0.80" />
<circle cx="355.60" cy="212.74" r="1.55" fill="#1a1a1a"/>
<circle cx="355.60" cy="218.82" r="1.55" fill="#1a1a1a"/>
<circle cx="355.60" cy="220.04" r="1.55" fill="#1a1a1a"/>
<circle cx="355.60" cy="220.64" r="1.55" fill="#1a1a1a"/>
<circle cx="355.60" cy="221.86" r="1.55" fill="#1a1a1a"/>
<circle cx="367.80" cy="207.27" r="1.55" fill="#6b2d93"/>
<circle cx="367.80" cy="218.82" r="1.55" fill="#6b2d93"/>
<circle cx="367.80" cy="220.64" r="1.55" fill="#6b2d93"/>
<circle cx="367.80" cy="221.86" r="1.55" fill="#6b2d93"/>
<circle cx="367.80" cy="223.08" r="1.55" fill="#6b2d93"/>
<text x="361.70" y="199.90" font-size="5.70" text-anchor="middle" fill="#303030" font-weight="normal" >NS</text>
<line x1="354.40" y1="201.30" x2="369.00" y2="201.30" stroke="#c2c2c2" stroke-width="1.20" />
<line x1="387.60" y1="212.74" x2="399.80" y2="254.69" stroke="#1a1a1a" stroke-width="0.80" />
<line x1="387.60" y1="218.82" x2="399.80" y2="254.69" stroke="#1a1a1a" stroke-width="0.80" />
<line x1="387.60" y1="220.04" x2="399.80" y2="254.69" stroke="#1a1a1a" stroke-width="0.80" />
<line x1="387.60" y1="220.64" x2="399.80" y2="254.69" stroke="#1a1a1a" stroke-width="0.80" />
<line x1="387.60" y1="221.86" x2="399.80" y2="254.69" stroke="#1a1a1a" stroke-width="0.80" />
<circle cx="387.60" cy="212.74" r="1.55" fill="#1a1a1a"/>
<circle cx="387.60" cy="218.82" r="1.55" fill="#1a1a1a"/>
<circle cx="387.60" cy="220.04" r="1.55" fill="#1a1a1a"/>
<circle cx="387.60" cy="220.64" r="1.55" fill="#1a1a1a"/>
<circle cx="387.60" cy="221.86" r="1.55" fill="#1a1a1a"/>
<circle cx="399.80" cy="254.69" r="1.55" fill="#6b2d93"/>
<circle cx="399.80" cy="254.69" r="1.55" fill="#6b2d93"/>
<circle cx="399.80" cy="254.69" r="1.55" fill="#6b2d93"/>
<circle cx="399.80" cy="254.69" r="1.55" fill="#6b2d93"/>
<circle cx="399.80" cy="254.69" r="1.55" fill="#6b2d93"/>
<path d="M383.15 195.95L383.15 199.45M381.63 196.83L384.67 198.58M381.63 198.58L384.67 196.83" stroke="#333333" stroke-width="0.95"/>
<path d="M387.25 195.95L387.25 199.45M385.73 196.83L388.77 198.58M385.73 198.58L388.77 196.83" stroke="#333333" stroke-width="0.95"/>
<path d="M391.35 195.95L391.35 199.45M389.83 196.83L392.87 198.58M389.83 198.58L392.87 196.83" stroke="#333333" stroke-width="0.95"/>
<path d="M395.45 195.95L395.45 199.45M393.93 196.83L396.97 198.58M393.93 198.58L396.97 196.83" stroke="#333333" stroke-width="0.95"/>
<line x1="382.00" y1="201.30" x2="396.60" y2="201.30" stroke="#c2c2c2" stroke-width="1.20" />
<rect x="469.90" y="194.50" width="28.60" height="60.80" fill="none" stroke="#f0a050" stroke-width="1.15" rx="0.00" />
<path d="M437.60 194.50 H530.80 V255.30" fill="none" stroke="#8f8f8f" stroke-width="0.95"/>
<line x1="439.20" y1="194.50" x2="439.20" y2="255.30" stroke="#c4c4c4" stroke-width="1.30" />
<line x1="437.60" y1="255.30" x2="530.80" y2="255.30" stroke="#7e7e7e" stroke-width="1.00" />
<line x1="436.40" y1="255.30" x2="438.60" y2="255.30" stroke="#555" stroke-width="0.90" />
<text x="433.30" y="257.50" font-size="6.30" text-anchor="end" fill="#303030" font-weight="normal" >0</text>
<line x1="436.40" y1="243.14" x2="438.60" y2="243.14" stroke="#555" stroke-width="0.90" />
<text x="433.30" y="245.34" font-size="6.30" text-anchor="end" fill="#303030" font-weight="normal" >20</text>
<line x1="436.40" y1="230.98" x2="438.60" y2="230.98" stroke="#555" stroke-width="0.90" />
<text x="433.30" y="233.18" font-size="6.30" text-anchor="end" fill="#303030" font-weight="normal" >40</text>
<line x1="436.40" y1="218.82" x2="438.60" y2="218.82" stroke="#555" stroke-width="0.90" />
<text x="433.30" y="221.02" font-size="6.30" text-anchor="end" fill="#303030" font-weight="normal" >60</text>
<line x1="436.40" y1="206.66" x2="438.60" y2="206.66" stroke="#555" stroke-width="0.90" />
<text x="433.30" y="208.86" font-size="6.30" text-anchor="end" fill="#303030" font-weight="normal" >80</text>
<line x1="436.40" y1="194.50" x2="438.60" y2="194.50" stroke="#555" stroke-width="0.90" />
<text x="433.30" y="196.70" font-size="6.30" text-anchor="end" fill="#303030" font-weight="normal" >100</text>
<line x1="453.00" y1="255.30" x2="453.00" y2="257.70" stroke="#777" stroke-width="0.80" />
<text x="453.00" y="265.20" font-size="6.00" text-anchor="middle" fill="#303030" font-weight="normal" >Vene</text>
<line x1="485.20" y1="255.30" x2="485.20" y2="257.70" stroke="#777" stroke-width="0.80" />
<text x="485.20" y="265.20" font-size="6.00" text-anchor="middle" fill="#303030" font-weight="normal" >Len</text>
<line x1="516.40" y1="255.30" x2="516.40" y2="257.70" stroke="#777" stroke-width="0.80" />
<text x="516.40" y="265.20" font-size="6.00" text-anchor="middle" fill="#303030" font-weight="normal" >Dasa</text>
<text x="485.20" y="190.60" font-size="7.20" text-anchor="middle" fill="#303030" font-weight="normal" >CD25</text>
<text x="485.20" y="181.60" font-size="7.20" text-anchor="middle" fill="#303030" font-weight="normal" >DEG-CAR</text>
<text x="419.30" y="224.90" font-size="7.30" text-anchor="middle" fill="#303030" font-weight="normal" transform="rotate(-90 419.3 224.9)" >Population (%)</text>
<line x1="446.20" y1="209.09" x2="458.50" y2="212.74" stroke="#1a1a1a" stroke-width="0.80" />
<line x1="446.20" y1="217.60" x2="458.50" y2="217.60" stroke="#1a1a1a" stroke-width="0.80" />
<line x1="446.20" y1="218.82" x2="458.50" y2="220.64" stroke="#1a1a1a" stroke-width="0.80" />
<line x1="446.20" y1="223.68" x2="458.50" y2="224.90" stroke="#1a1a1a" stroke-width="0.80" />
<circle cx="446.20" cy="209.09" r="1.55" fill="#1a1a1a"/>
<circle cx="446.20" cy="217.60" r="1.55" fill="#1a1a1a"/>
<circle cx="446.20" cy="218.82" r="1.55" fill="#1a1a1a"/>
<circle cx="446.20" cy="223.68" r="1.55" fill="#1a1a1a"/>
<circle cx="458.50" cy="212.74" r="1.55" fill="#6b2d93"/>
<circle cx="458.50" cy="217.60" r="1.55" fill="#6b2d93"/>
<circle cx="458.50" cy="220.64" r="1.55" fill="#6b2d93"/>
<circle cx="458.50" cy="224.90" r="1.55" fill="#6b2d93"/>
<text x="452.15" y="199.90" font-size="5.70" text-anchor="middle" fill="#303030" font-weight="normal" >NS</text>
<line x1="444.85" y1="201.30" x2="459.45" y2="201.30" stroke="#c2c2c2" stroke-width="1.20" />
<line x1="478.00" y1="209.09" x2="490.40" y2="211.52" stroke="#1a1a1a" stroke-width="0.80" />
<line x1="478.00" y1="217.60" x2="490.40" y2="223.68" stroke="#1a1a1a" stroke-width="0.80" />
<line x1="478.00" y1="218.82" x2="490.40" y2="226.12" stroke="#1a1a1a" stroke-width="0.80" />
<line x1="478.00" y1="223.68" x2="490.40" y2="227.94" stroke="#1a1a1a" stroke-width="0.80" />
<circle cx="478.00" cy="209.09" r="1.55" fill="#1a1a1a"/>
<circle cx="478.00" cy="217.60" r="1.55" fill="#1a1a1a"/>
<circle cx="478.00" cy="218.82" r="1.55" fill="#1a1a1a"/>
<circle cx="478.00" cy="223.68" r="1.55" fill="#1a1a1a"/>
<circle cx="490.40" cy="211.52" r="1.55" fill="#6b2d93"/>
<circle cx="490.40" cy="223.68" r="1.55" fill="#6b2d93"/>
<circle cx="490.40" cy="226.12" r="1.55" fill="#6b2d93"/>
<circle cx="490.40" cy="227.94" r="1.55" fill="#6b2d93"/>
<path d="M484.20 195.95L484.20 199.45M482.68 196.83L485.72 198.58M482.68 198.58L485.72 196.83" stroke="#333333" stroke-width="0.95"/>
<line x1="476.90" y1="201.30" x2="491.50" y2="201.30" stroke="#c2c2c2" stroke-width="1.20" />
<line x1="510.20" y1="209.09" x2="522.20" y2="255.30" stroke="#1a1a1a" stroke-width="0.80" />
<line x1="510.20" y1="217.60" x2="522.20" y2="255.30" stroke="#1a1a1a" stroke-width="0.80" />
<line x1="510.20" y1="218.82" x2="522.20" y2="255.30" stroke="#1a1a1a" stroke-width="0.80" />
<line x1="510.20" y1="223.68" x2="522.20" y2="255.30" stroke="#1a1a1a" stroke-width="0.80" />
<circle cx="510.20" cy="209.09" r="1.55" fill="#1a1a1a"/>
<circle cx="510.20" cy="217.60" r="1.55" fill="#1a1a1a"/>
<circle cx="510.20" cy="218.82" r="1.55" fill="#1a1a1a"/>
<circle cx="510.20" cy="223.68" r="1.55" fill="#1a1a1a"/>
<circle cx="522.20" cy="255.30" r="1.55" fill="#6b2d93"/>
<circle cx="522.20" cy="255.30" r="1.55" fill="#6b2d93"/>
<circle cx="522.20" cy="255.30" r="1.55" fill="#6b2d93"/>
<circle cx="522.20" cy="255.30" r="1.55" fill="#6b2d93"/>
<path d="M507.35 195.95L507.35 199.45M505.83 196.83L508.87 198.58M505.83 198.58L508.87 196.83" stroke="#333333" stroke-width="0.95"/>
<path d="M511.45 195.95L511.45 199.45M509.93 196.83L512.97 198.58M509.93 198.58L512.97 196.83" stroke="#333333" stroke-width="0.95"/>
<path d="M515.55 195.95L515.55 199.45M514.03 196.83L517.07 198.58M514.03 198.58L517.07 196.83" stroke="#333333" stroke-width="0.95"/>
<path d="M519.65 195.95L519.65 199.45M518.13 196.83L521.17 198.58M518.13 198.58L521.17 196.83" stroke="#333333" stroke-width="0.95"/>
<line x1="506.20" y1="201.30" x2="520.80" y2="201.30" stroke="#c2c2c2" stroke-width="1.20" />
<rect x="560.80" y="194.50" width="27.80" height="60.80" fill="none" stroke="#3e8fcf" stroke-width="1.15" rx="0.00" />
<path d="M557.80 194.50 H652.60 V255.30" fill="none" stroke="#8f8f8f" stroke-width="0.95"/>
<line x1="559.40" y1="194.50" x2="559.40" y2="255.30" stroke="#c4c4c4" stroke-width="1.30" />
<line x1="557.80" y1="255.30" x2="652.60" y2="255.30" stroke="#7e7e7e" stroke-width="1.00" />
<line x1="556.60" y1="255.30" x2="558.80" y2="255.30" stroke="#555" stroke-width="0.90" />
<text x="553.50" y="257.50" font-size="6.30" text-anchor="end" fill="#303030" font-weight="normal" >0</text>
<line x1="556.60" y1="243.14" x2="558.80" y2="243.14" stroke="#555" stroke-width="0.90" />
<text x="553.50" y="245.34" font-size="6.30" text-anchor="end" fill="#303030" font-weight="normal" >20</text>
<line x1="556.60" y1="230.98" x2="558.80" y2="230.98" stroke="#555" stroke-width="0.90" />
<text x="553.50" y="233.18" font-size="6.30" text-anchor="end" fill="#303030" font-weight="normal" >40</text>
<line x1="556.60" y1="218.82" x2="558.80" y2="218.82" stroke="#555" stroke-width="0.90" />
<text x="553.50" y="221.02" font-size="6.30" text-anchor="end" fill="#303030" font-weight="normal" >60</text>
<line x1="556.60" y1="206.66" x2="558.80" y2="206.66" stroke="#555" stroke-width="0.90" />
<text x="553.50" y="208.86" font-size="6.30" text-anchor="end" fill="#303030" font-weight="normal" >80</text>
<line x1="556.60" y1="194.50" x2="558.80" y2="194.50" stroke="#555" stroke-width="0.90" />
<text x="553.50" y="196.70" font-size="6.30" text-anchor="end" fill="#303030" font-weight="normal" >100</text>
<line x1="575.00" y1="255.30" x2="575.00" y2="257.70" stroke="#777" stroke-width="0.80" />
<text x="575.00" y="265.20" font-size="6.00" text-anchor="middle" fill="#303030" font-weight="normal" >Vene</text>
<line x1="606.70" y1="255.30" x2="606.70" y2="257.70" stroke="#777" stroke-width="0.80" />
<text x="606.70" y="265.20" font-size="6.00" text-anchor="middle" fill="#303030" font-weight="normal" >Len</text>
<line x1="638.70" y1="255.30" x2="638.70" y2="257.70" stroke="#777" stroke-width="0.80" />
<text x="638.70" y="265.20" font-size="6.00" text-anchor="middle" fill="#303030" font-weight="normal" >Dasa</text>
<text x="606.20" y="190.60" font-size="7.20" text-anchor="middle" fill="#303030" font-weight="normal" >CD25</text>
<text x="606.20" y="181.60" font-size="7.20" text-anchor="middle" fill="#303030" font-weight="normal" >DROP-CAR</text>
<text x="542.00" y="224.90" font-size="7.30" text-anchor="middle" fill="#303030" font-weight="normal" transform="rotate(-90 542 224.9)" >Population (%)</text>
<line x1="568.70" y1="213.35" x2="580.90" y2="236.45" stroke="#1a1a1a" stroke-width="0.80" />
<line x1="568.70" y1="218.82" x2="580.90" y2="238.28" stroke="#1a1a1a" stroke-width="0.80" />
<line x1="568.70" y1="223.08" x2="580.90" y2="248.00" stroke="#1a1a1a" stroke-width="0.80" />
<line x1="568.70" y1="229.76" x2="580.90" y2="250.44" stroke="#1a1a1a" stroke-width="0.80" />
<circle cx="568.70" cy="213.35" r="1.55" fill="#1a1a1a"/>
<circle cx="568.70" cy="218.82" r="1.55" fill="#1a1a1a"/>
<circle cx="568.70" cy="223.08" r="1.55" fill="#1a1a1a"/>
<circle cx="568.70" cy="229.76" r="1.55" fill="#1a1a1a"/>
<circle cx="580.90" cy="236.45" r="1.55" fill="#6b2d93"/>
<circle cx="580.90" cy="238.28" r="1.55" fill="#6b2d93"/>
<circle cx="580.90" cy="248.00" r="1.55" fill="#6b2d93"/>
<circle cx="580.90" cy="250.44" r="1.55" fill="#6b2d93"/>
<path d="M568.45 195.95L568.45 199.45M566.93 196.83L569.97 198.58M566.93 198.58L569.97 196.83" stroke="#333333" stroke-width="0.95"/>
<path d="M572.55 195.95L572.55 199.45M571.03 196.83L574.07 198.58M571.03 198.58L574.07 196.83" stroke="#333333" stroke-width="0.95"/>
<path d="M576.65 195.95L576.65 199.45M575.13 196.83L578.17 198.58M575.13 198.58L578.17 196.83" stroke="#333333" stroke-width="0.95"/>
<path d="M580.75 195.95L580.75 199.45M579.23 196.83L582.27 198.58M579.23 198.58L582.27 196.83" stroke="#333333" stroke-width="0.95"/>
<line x1="567.30" y1="201.30" x2="581.90" y2="201.30" stroke="#c2c2c2" stroke-width="1.20" />
<line x1="600.80" y1="213.35" x2="612.80" y2="209.70" stroke="#1a1a1a" stroke-width="0.80" />
<line x1="600.80" y1="218.82" x2="612.80" y2="214.56" stroke="#1a1a1a" stroke-width="0.80" />
<line x1="600.80" y1="223.08" x2="612.80" y2="220.64" stroke="#1a1a1a" stroke-width="0.80" />
<line x1="600.80" y1="229.76" x2="612.80" y2="226.12" stroke="#1a1a1a" stroke-width="0.80" />
<circle cx="600.80" cy="213.35" r="1.55" fill="#1a1a1a"/>
<circle cx="600.80" cy="218.82" r="1.55" fill="#1a1a1a"/>
<circle cx="600.80" cy="223.08" r="1.55" fill="#1a1a1a"/>
<circle cx="600.80" cy="229.76" r="1.55" fill="#1a1a1a"/>
<circle cx="612.80" cy="209.70" r="1.55" fill="#6b2d93"/>
<circle cx="612.80" cy="214.56" r="1.55" fill="#6b2d93"/>
<circle cx="612.80" cy="220.64" r="1.55" fill="#6b2d93"/>
<circle cx="612.80" cy="226.12" r="1.55" fill="#6b2d93"/>
<text x="606.80" y="199.90" font-size="5.70" text-anchor="middle" fill="#303030" font-weight="normal" >NS</text>
<line x1="599.50" y1="201.30" x2="614.10" y2="201.30" stroke="#c2c2c2" stroke-width="1.20" />
<line x1="632.80" y1="213.35" x2="644.80" y2="253.48" stroke="#1a1a1a" stroke-width="0.80" />
<line x1="632.80" y1="218.82" x2="644.80" y2="254.08" stroke="#1a1a1a" stroke-width="0.80" />
<line x1="632.80" y1="223.08" x2="644.80" y2="254.08" stroke="#1a1a1a" stroke-width="0.80" />
<line x1="632.80" y1="229.76" x2="644.80" y2="253.48" stroke="#1a1a1a" stroke-width="0.80" />
<circle cx="632.80" cy="213.35" r="1.55" fill="#1a1a1a"/>
<circle cx="632.80" cy="218.82" r="1.55" fill="#1a1a1a"/>
<circle cx="632.80" cy="223.08" r="1.55" fill="#1a1a1a"/>
<circle cx="632.80" cy="229.76" r="1.55" fill="#1a1a1a"/>
<circle cx="644.80" cy="253.48" r="1.55" fill="#6b2d93"/>
<circle cx="644.80" cy="254.08" r="1.55" fill="#6b2d93"/>
<circle cx="644.80" cy="254.08" r="1.55" fill="#6b2d93"/>
<circle cx="644.80" cy="253.48" r="1.55" fill="#6b2d93"/>
<path d="M628.15 195.95L628.15 199.45M626.63 196.83L629.67 198.58M626.63 198.58L629.67 196.83" stroke="#333333" stroke-width="0.95"/>
<path d="M632.25 195.95L632.25 199.45M630.73 196.83L633.77 198.58M630.73 198.58L633.77 196.83" stroke="#333333" stroke-width="0.95"/>
<path d="M636.35 195.95L636.35 199.45M634.83 196.83L637.87 198.58M634.83 198.58L637.87 196.83" stroke="#333333" stroke-width="0.95"/>
<path d="M640.45 195.95L640.45 199.45M638.93 196.83L641.97 198.58M638.93 198.58L641.97 196.83" stroke="#333333" stroke-width="0.95"/>
<line x1="627.00" y1="201.30" x2="641.60" y2="201.30" stroke="#c2c2c2" stroke-width="1.20" />
<line x1="655.30" y1="208.10" x2="661.30" y2="208.10" stroke="#1a1a1a" stroke-width="0.80" />
<circle cx="658.30" cy="208.10" r="1.40" fill="#1a1a1a"/>
<text x="663.20" y="210.20" font-size="6.10" text-anchor="start" fill="#303030" font-weight="normal" >DMSO</text>
<line x1="655.30" y1="215.90" x2="661.30" y2="215.90" stroke="#6b2d93" stroke-width="0.80" />
<circle cx="658.30" cy="215.90" r="1.40" fill="#6b2d93"/>
<text x="663.20" y="218.00" font-size="6.10" text-anchor="start" fill="#303030" font-weight="normal" >Treated</text>
<path d="M313.80 285.20 H407.60 V346.80" fill="none" stroke="#8f8f8f" stroke-width="0.95"/>
<line x1="315.40" y1="285.20" x2="315.40" y2="346.80" stroke="#c4c4c4" stroke-width="1.30" />
<line x1="313.80" y1="346.80" x2="407.60" y2="346.80" stroke="#7e7e7e" stroke-width="1.00" />
<line x1="312.60" y1="346.80" x2="314.80" y2="346.80" stroke="#555" stroke-width="0.90" />
<text x="309.50" y="349.00" font-size="6.30" text-anchor="end" fill="#303030" font-weight="normal" >0</text>
<line x1="312.60" y1="334.48" x2="314.80" y2="334.48" stroke="#555" stroke-width="0.90" />
<text x="309.50" y="336.68" font-size="6.30" text-anchor="end" fill="#303030" font-weight="normal" >20</text>
<line x1="312.60" y1="322.16" x2="314.80" y2="322.16" stroke="#555" stroke-width="0.90" />
<text x="309.50" y="324.36" font-size="6.30" text-anchor="end" fill="#303030" font-weight="normal" >40</text>
<line x1="312.60" y1="309.84" x2="314.80" y2="309.84" stroke="#555" stroke-width="0.90" />
<text x="309.50" y="312.04" font-size="6.30" text-anchor="end" fill="#303030" font-weight="normal" >60</text>
<line x1="312.60" y1="297.52" x2="314.80" y2="297.52" stroke="#555" stroke-width="0.90" />
<text x="309.50" y="299.72" font-size="6.30" text-anchor="end" fill="#303030" font-weight="normal" >80</text>
<line x1="312.60" y1="285.20" x2="314.80" y2="285.20" stroke="#555" stroke-width="0.90" />
<text x="309.50" y="287.40" font-size="6.30" text-anchor="end" fill="#303030" font-weight="normal" >100</text>
<line x1="329.90" y1="346.80" x2="329.90" y2="349.20" stroke="#777" stroke-width="0.80" />
<text x="329.90" y="355.70" font-size="6.00" text-anchor="middle" fill="#303030" font-weight="normal" >Vene</text>
<line x1="361.70" y1="346.80" x2="361.70" y2="349.20" stroke="#777" stroke-width="0.80" />
<text x="361.70" y="355.70" font-size="6.00" text-anchor="middle" fill="#303030" font-weight="normal" >Len</text>
<line x1="393.60" y1="346.80" x2="393.60" y2="349.20" stroke="#777" stroke-width="0.80" />
<text x="393.60" y="355.70" font-size="6.00" text-anchor="middle" fill="#303030" font-weight="normal" >Dasa</text>
<text x="361.70" y="283.20" font-size="7.20" text-anchor="middle" fill="#303030" font-weight="normal" >CD71</text>
<text x="295.70" y="316.00" font-size="7.30" text-anchor="middle" fill="#303030" font-weight="normal" transform="rotate(-90 295.7 316)" >Population (%)</text>
<line x1="324.00" y1="290.74" x2="336.20" y2="290.74" stroke="#1a1a1a" stroke-width="0.80" />
<line x1="324.00" y1="292.59" x2="336.20" y2="292.59" stroke="#1a1a1a" stroke-width="0.80" />
<line x1="324.00" y1="293.82" x2="336.20" y2="294.44" stroke="#1a1a1a" stroke-width="0.80" />
<line x1="324.00" y1="295.06" x2="336.20" y2="295.06" stroke="#1a1a1a" stroke-width="0.80" />
<circle cx="324.00" cy="290.74" r="1.55" fill="#1a1a1a"/>
<circle cx="324.00" cy="292.59" r="1.55" fill="#1a1a1a"/>
<circle cx="324.00" cy="293.82" r="1.55" fill="#1a1a1a"/>
<circle cx="324.00" cy="295.06" r="1.55" fill="#1a1a1a"/>
<circle cx="336.20" cy="290.74" r="1.55" fill="#6b2d93"/>
<circle cx="336.20" cy="292.59" r="1.55" fill="#6b2d93"/>
<circle cx="336.20" cy="294.44" r="1.55" fill="#6b2d93"/>
<circle cx="336.20" cy="295.06" r="1.55" fill="#6b2d93"/>
<text x="329.90" y="301.00" font-size="5.70" text-anchor="middle" fill="#303030" font-weight="normal" >NS</text>
<line x1="322.60" y1="302.20" x2="337.20" y2="302.20" stroke="#c2c2c2" stroke-width="1.20" />
<line x1="355.60" y1="290.74" x2="367.80" y2="290.74" stroke="#1a1a1a" stroke-width="0.80" />
<line x1="355.60" y1="292.59" x2="367.80" y2="291.98" stroke="#1a1a1a" stroke-width="0.80" />
<line x1="355.60" y1="293.82" x2="367.80" y2="293.21" stroke="#1a1a1a" stroke-width="0.80" />
<line x1="355.60" y1="295.06" x2="367.80" y2="295.06" stroke="#1a1a1a" stroke-width="0.80" />
<circle cx="355.60" cy="290.74" r="1.55" fill="#1a1a1a"/>
<circle cx="355.60" cy="292.59" r="1.55" fill="#1a1a1a"/>
<circle cx="355.60" cy="293.82" r="1.55" fill="#1a1a1a"/>
<circle cx="355.60" cy="295.06" r="1.55" fill="#1a1a1a"/>
<circle cx="367.80" cy="290.74" r="1.55" fill="#6b2d93"/>
<circle cx="367.80" cy="291.98" r="1.55" fill="#6b2d93"/>
<circle cx="367.80" cy="293.21" r="1.55" fill="#6b2d93"/>
<circle cx="367.80" cy="295.06" r="1.55" fill="#6b2d93"/>
<text x="361.70" y="301.00" font-size="5.70" text-anchor="middle" fill="#303030" font-weight="normal" >NS</text>
<line x1="354.40" y1="302.20" x2="369.00" y2="302.20" stroke="#c2c2c2" stroke-width="1.20" />
<line x1="387.60" y1="290.74" x2="399.80" y2="345.57" stroke="#1a1a1a" stroke-width="0.80" />
<line x1="387.60" y1="292.59" x2="399.80" y2="345.57" stroke="#1a1a1a" stroke-width="0.80" />
<line x1="387.60" y1="293.82" x2="399.80" y2="346.18" stroke="#1a1a1a" stroke-width="0.80" />
<line x1="387.60" y1="295.06" x2="399.80" y2="345.57" stroke="#1a1a1a" stroke-width="0.80" />
<circle cx="387.60" cy="290.74" r="1.55" fill="#1a1a1a"/>
<circle cx="387.60" cy="292.59" r="1.55" fill="#1a1a1a"/>
<circle cx="387.60" cy="293.82" r="1.55" fill="#1a1a1a"/>
<circle cx="387.60" cy="295.06" r="1.55" fill="#1a1a1a"/>
<circle cx="399.80" cy="345.57" r="1.55" fill="#6b2d93"/>
<circle cx="399.80" cy="345.57" r="1.55" fill="#6b2d93"/>
<circle cx="399.80" cy="346.18" r="1.55" fill="#6b2d93"/>
<circle cx="399.80" cy="345.57" r="1.55" fill="#6b2d93"/>
<path d="M386.50 285.85L386.50 288.75M385.24 286.57L387.76 288.02M385.24 288.02L387.76 286.57" stroke="#333333" stroke-width="0.95"/>
<path d="M390.50 285.85L390.50 288.75M389.24 286.57L391.76 288.02M389.24 288.02L391.76 286.57" stroke="#333333" stroke-width="0.95"/>
<path d="M394.50 285.85L394.50 288.75M393.24 286.57L395.76 288.02M393.24 288.02L395.76 286.57" stroke="#333333" stroke-width="0.95"/>
<path d="M398.50 285.85L398.50 288.75M397.24 286.57L399.76 288.02M397.24 288.02L399.76 286.57" stroke="#333333" stroke-width="0.95"/>
<line x1="385.20" y1="290.20" x2="399.80" y2="290.20" stroke="#c2c2c2" stroke-width="1.20" />
<rect x="469.90" y="285.20" width="28.60" height="61.60" fill="none" stroke="#f0a050" stroke-width="1.15" rx="0.00" />
<path d="M437.60 285.20 H530.80 V346.80" fill="none" stroke="#8f8f8f" stroke-width="0.95"/>
<line x1="439.20" y1="285.20" x2="439.20" y2="346.80" stroke="#c4c4c4" stroke-width="1.30" />
<line x1="437.60" y1="346.80" x2="530.80" y2="346.80" stroke="#7e7e7e" stroke-width="1.00" />
<line x1="436.40" y1="346.80" x2="438.60" y2="346.80" stroke="#555" stroke-width="0.90" />
<text x="433.30" y="349.00" font-size="6.30" text-anchor="end" fill="#303030" font-weight="normal" >0</text>
<line x1="436.40" y1="334.48" x2="438.60" y2="334.48" stroke="#555" stroke-width="0.90" />
<text x="433.30" y="336.68" font-size="6.30" text-anchor="end" fill="#303030" font-weight="normal" >20</text>
<line x1="436.40" y1="322.16" x2="438.60" y2="322.16" stroke="#555" stroke-width="0.90" />
<text x="433.30" y="324.36" font-size="6.30" text-anchor="end" fill="#303030" font-weight="normal" >40</text>
<line x1="436.40" y1="309.84" x2="438.60" y2="309.84" stroke="#555" stroke-width="0.90" />
<text x="433.30" y="312.04" font-size="6.30" text-anchor="end" fill="#303030" font-weight="normal" >60</text>
<line x1="436.40" y1="297.52" x2="438.60" y2="297.52" stroke="#555" stroke-width="0.90" />
<text x="433.30" y="299.72" font-size="6.30" text-anchor="end" fill="#303030" font-weight="normal" >80</text>
<line x1="436.40" y1="285.20" x2="438.60" y2="285.20" stroke="#555" stroke-width="0.90" />
<text x="433.30" y="287.40" font-size="6.30" text-anchor="end" fill="#303030" font-weight="normal" >100</text>
<line x1="453.00" y1="346.80" x2="453.00" y2="349.20" stroke="#777" stroke-width="0.80" />
<text x="453.00" y="355.70" font-size="6.00" text-anchor="middle" fill="#303030" font-weight="normal" >Vene</text>
<line x1="485.20" y1="346.80" x2="485.20" y2="349.20" stroke="#777" stroke-width="0.80" />
<text x="485.20" y="355.70" font-size="6.00" text-anchor="middle" fill="#303030" font-weight="normal" >Len</text>
<line x1="516.40" y1="346.80" x2="516.40" y2="349.20" stroke="#777" stroke-width="0.80" />
<text x="516.40" y="355.70" font-size="6.00" text-anchor="middle" fill="#303030" font-weight="normal" >Dasa</text>
<text x="485.20" y="283.20" font-size="7.20" text-anchor="middle" fill="#303030" font-weight="normal" >CD71</text>
<text x="419.30" y="316.00" font-size="7.30" text-anchor="middle" fill="#303030" font-weight="normal" transform="rotate(-90 419.3 316)" >Population (%)</text>
<line x1="446.20" y1="292.59" x2="458.50" y2="291.36" stroke="#1a1a1a" stroke-width="0.80" />
<line x1="446.20" y1="295.67" x2="458.50" y2="294.44" stroke="#1a1a1a" stroke-width="0.80" />
<line x1="446.20" y1="297.52" x2="458.50" y2="296.29" stroke="#1a1a1a" stroke-width="0.80" />
<line x1="446.20" y1="299.37" x2="458.50" y2="298.75" stroke="#1a1a1a" stroke-width="0.80" />
<line x1="446.20" y1="300.60" x2="458.50" y2="299.37" stroke="#1a1a1a" stroke-width="0.80" />
<circle cx="446.20" cy="292.59" r="1.55" fill="#1a1a1a"/>
<circle cx="446.20" cy="295.67" r="1.55" fill="#1a1a1a"/>
<circle cx="446.20" cy="297.52" r="1.55" fill="#1a1a1a"/>
<circle cx="446.20" cy="299.37" r="1.55" fill="#1a1a1a"/>
<circle cx="446.20" cy="300.60" r="1.55" fill="#1a1a1a"/>
<circle cx="458.50" cy="291.36" r="1.55" fill="#6b2d93"/>
<circle cx="458.50" cy="294.44" r="1.55" fill="#6b2d93"/>
<circle cx="458.50" cy="296.29" r="1.55" fill="#6b2d93"/>
<circle cx="458.50" cy="298.75" r="1.55" fill="#6b2d93"/>
<circle cx="458.50" cy="299.37" r="1.55" fill="#6b2d93"/>
<text x="452.15" y="289.90" font-size="5.70" text-anchor="middle" fill="#303030" font-weight="normal" >NS</text>
<line x1="444.85" y1="290.20" x2="459.45" y2="290.20" stroke="#c2c2c2" stroke-width="1.20" />
<line x1="478.00" y1="292.59" x2="490.40" y2="295.06" stroke="#1a1a1a" stroke-width="0.80" />
<line x1="478.00" y1="295.67" x2="490.40" y2="296.29" stroke="#1a1a1a" stroke-width="0.80" />
<line x1="478.00" y1="297.52" x2="490.40" y2="298.14" stroke="#1a1a1a" stroke-width="0.80" />
<line x1="478.00" y1="299.37" x2="490.40" y2="299.37" stroke="#1a1a1a" stroke-width="0.80" />
<line x1="478.00" y1="300.60" x2="490.40" y2="306.76" stroke="#1a1a1a" stroke-width="0.80" />
<circle cx="478.00" cy="292.59" r="1.55" fill="#1a1a1a"/>
<circle cx="478.00" cy="295.67" r="1.55" fill="#1a1a1a"/>
<circle cx="478.00" cy="297.52" r="1.55" fill="#1a1a1a"/>
<circle cx="478.00" cy="299.37" r="1.55" fill="#1a1a1a"/>
<circle cx="478.00" cy="300.60" r="1.55" fill="#1a1a1a"/>
<circle cx="490.40" cy="295.06" r="1.55" fill="#6b2d93"/>
<circle cx="490.40" cy="296.29" r="1.55" fill="#6b2d93"/>
<circle cx="490.40" cy="298.14" r="1.55" fill="#6b2d93"/>
<circle cx="490.40" cy="299.37" r="1.55" fill="#6b2d93"/>
<circle cx="490.40" cy="306.76" r="1.55" fill="#6b2d93"/>
<text x="484.20" y="289.90" font-size="5.70" text-anchor="middle" fill="#303030" font-weight="normal" >NS</text>
<line x1="476.90" y1="290.20" x2="491.50" y2="290.20" stroke="#c2c2c2" stroke-width="1.20" />
<line x1="510.20" y1="292.59" x2="522.20" y2="346.18" stroke="#1a1a1a" stroke-width="0.80" />
<line x1="510.20" y1="295.67" x2="522.20" y2="346.18" stroke="#1a1a1a" stroke-width="0.80" />
<line x1="510.20" y1="297.52" x2="522.20" y2="346.18" stroke="#1a1a1a" stroke-width="0.80" />
<line x1="510.20" y1="299.37" x2="522.20" y2="346.18" stroke="#1a1a1a" stroke-width="0.80" />
<line x1="510.20" y1="300.60" x2="522.20" y2="346.18" stroke="#1a1a1a" stroke-width="0.80" />
<circle cx="510.20" cy="292.59" r="1.55" fill="#1a1a1a"/>
<circle cx="510.20" cy="295.67" r="1.55" fill="#1a1a1a"/>
<circle cx="510.20" cy="297.52" r="1.55" fill="#1a1a1a"/>
<circle cx="510.20" cy="299.37" r="1.55" fill="#1a1a1a"/>
<circle cx="510.20" cy="300.60" r="1.55" fill="#1a1a1a"/>
<circle cx="522.20" cy="346.18" r="1.55" fill="#6b2d93"/>
<circle cx="522.20" cy="346.18" r="1.55" fill="#6b2d93"/>
<circle cx="522.20" cy="346.18" r="1.55" fill="#6b2d93"/>
<circle cx="522.20" cy="346.18" r="1.55" fill="#6b2d93"/>
<circle cx="522.20" cy="346.18" r="1.55" fill="#6b2d93"/>
<path d="M508.20 285.85L508.20 288.75M506.94 286.57L509.46 288.02M506.94 288.02L509.46 286.57" stroke="#333333" stroke-width="0.95"/>
<path d="M512.20 285.85L512.20 288.75M510.94 286.57L513.46 288.02M510.94 288.02L513.46 286.57" stroke="#333333" stroke-width="0.95"/>
<path d="M516.20 285.85L516.20 288.75M514.94 286.57L517.46 288.02M514.94 288.02L517.46 286.57" stroke="#333333" stroke-width="0.95"/>
<path d="M520.20 285.85L520.20 288.75M518.94 286.57L521.46 288.02M518.94 288.02L521.46 286.57" stroke="#333333" stroke-width="0.95"/>
<line x1="506.90" y1="290.20" x2="521.50" y2="290.20" stroke="#c2c2c2" stroke-width="1.20" />
<rect x="560.80" y="285.20" width="27.80" height="61.60" fill="none" stroke="#3e8fcf" stroke-width="1.15" rx="0.00" />
<path d="M557.80 285.20 H652.60 V346.80" fill="none" stroke="#8f8f8f" stroke-width="0.95"/>
<line x1="559.40" y1="285.20" x2="559.40" y2="346.80" stroke="#c4c4c4" stroke-width="1.30" />
<line x1="557.80" y1="346.80" x2="652.60" y2="346.80" stroke="#7e7e7e" stroke-width="1.00" />
<line x1="556.60" y1="346.80" x2="558.80" y2="346.80" stroke="#555" stroke-width="0.90" />
<text x="553.50" y="349.00" font-size="6.30" text-anchor="end" fill="#303030" font-weight="normal" >0</text>
<line x1="556.60" y1="334.48" x2="558.80" y2="334.48" stroke="#555" stroke-width="0.90" />
<text x="553.50" y="336.68" font-size="6.30" text-anchor="end" fill="#303030" font-weight="normal" >20</text>
<line x1="556.60" y1="322.16" x2="558.80" y2="322.16" stroke="#555" stroke-width="0.90" />
<text x="553.50" y="324.36" font-size="6.30" text-anchor="end" fill="#303030" font-weight="normal" >40</text>
<line x1="556.60" y1="309.84" x2="558.80" y2="309.84" stroke="#555" stroke-width="0.90" />
<text x="553.50" y="312.04" font-size="6.30" text-anchor="end" fill="#303030" font-weight="normal" >60</text>
<line x1="556.60" y1="297.52" x2="558.80" y2="297.52" stroke="#555" stroke-width="0.90" />
<text x="553.50" y="299.72" font-size="6.30" text-anchor="end" fill="#303030" font-weight="normal" >80</text>
<line x1="556.60" y1="285.20" x2="558.80" y2="285.20" stroke="#555" stroke-width="0.90" />
<text x="553.50" y="287.40" font-size="6.30" text-anchor="end" fill="#303030" font-weight="normal" >100</text>
<line x1="575.00" y1="346.80" x2="575.00" y2="349.20" stroke="#777" stroke-width="0.80" />
<text x="575.00" y="355.70" font-size="6.00" text-anchor="middle" fill="#303030" font-weight="normal" >Vene</text>
<line x1="606.70" y1="346.80" x2="606.70" y2="349.20" stroke="#777" stroke-width="0.80" />
<text x="606.70" y="355.70" font-size="6.00" text-anchor="middle" fill="#303030" font-weight="normal" >Len</text>
<line x1="638.70" y1="346.80" x2="638.70" y2="349.20" stroke="#777" stroke-width="0.80" />
<text x="638.70" y="355.70" font-size="6.00" text-anchor="middle" fill="#303030" font-weight="normal" >Dasa</text>
<text x="606.20" y="283.20" font-size="7.20" text-anchor="middle" fill="#303030" font-weight="normal" >CD71</text>
<text x="542.00" y="316.00" font-size="7.30" text-anchor="middle" fill="#303030" font-weight="normal" transform="rotate(-90 542 316)" >Population (%)</text>
<line x1="568.70" y1="293.21" x2="580.90" y2="300.60" stroke="#1a1a1a" stroke-width="0.80" />
<line x1="568.70" y1="299.37" x2="580.90" y2="309.22" stroke="#1a1a1a" stroke-width="0.80" />
<line x1="568.70" y1="300.60" x2="580.90" y2="320.93" stroke="#1a1a1a" stroke-width="0.80" />
<line x1="568.70" y1="303.68" x2="580.90" y2="334.48" stroke="#1a1a1a" stroke-width="0.80" />
<line x1="568.70" y1="303.68" x2="580.90" y2="335.71" stroke="#1a1a1a" stroke-width="0.80" />
<circle cx="568.70" cy="293.21" r="1.55" fill="#1a1a1a"/>
<circle cx="568.70" cy="299.37" r="1.55" fill="#1a1a1a"/>
<circle cx="568.70" cy="300.60" r="1.55" fill="#1a1a1a"/>
<circle cx="568.70" cy="303.68" r="1.55" fill="#1a1a1a"/>
<circle cx="568.70" cy="303.68" r="1.55" fill="#1a1a1a"/>
<circle cx="580.90" cy="300.60" r="1.55" fill="#6b2d93"/>
<circle cx="580.90" cy="309.22" r="1.55" fill="#6b2d93"/>
<circle cx="580.90" cy="320.93" r="1.55" fill="#6b2d93"/>
<circle cx="580.90" cy="334.48" r="1.55" fill="#6b2d93"/>
<circle cx="580.90" cy="335.71" r="1.55" fill="#6b2d93"/>
<path d="M570.60 285.85L570.60 288.75M569.34 286.57L571.86 288.02M569.34 288.02L571.86 286.57" stroke="#333333" stroke-width="0.95"/>
<path d="M574.60 285.85L574.60 288.75M573.34 286.57L575.86 288.02M573.34 288.02L575.86 286.57" stroke="#333333" stroke-width="0.95"/>
<path d="M578.60 285.85L578.60 288.75M577.34 286.57L579.86 288.02M577.34 288.02L579.86 286.57" stroke="#333333" stroke-width="0.95"/>
<line x1="567.30" y1="290.20" x2="581.90" y2="290.20" stroke="#c2c2c2" stroke-width="1.20" />
<line x1="600.80" y1="293.21" x2="612.80" y2="293.82" stroke="#1a1a1a" stroke-width="0.80" />
<line x1="600.80" y1="299.37" x2="612.80" y2="299.37" stroke="#1a1a1a" stroke-width="0.80" />
<line x1="600.80" y1="300.60" x2="612.80" y2="302.45" stroke="#1a1a1a" stroke-width="0.80" />
<line x1="600.80" y1="303.68" x2="612.80" y2="303.68" stroke="#1a1a1a" stroke-width="0.80" />
<line x1="600.80" y1="303.68" x2="612.80" y2="303.68" stroke="#1a1a1a" stroke-width="0.80" />
<circle cx="600.80" cy="293.21" r="1.55" fill="#1a1a1a"/>
<circle cx="600.80" cy="299.37" r="1.55" fill="#1a1a1a"/>
<circle cx="600.80" cy="300.60" r="1.55" fill="#1a1a1a"/>
<circle cx="600.80" cy="303.68" r="1.55" fill="#1a1a1a"/>
<circle cx="600.80" cy="303.68" r="1.55" fill="#1a1a1a"/>
<circle cx="612.80" cy="293.82" r="1.55" fill="#6b2d93"/>
<circle cx="612.80" cy="299.37" r="1.55" fill="#6b2d93"/>
<circle cx="612.80" cy="302.45" r="1.55" fill="#6b2d93"/>
<circle cx="612.80" cy="303.68" r="1.55" fill="#6b2d93"/>
<circle cx="612.80" cy="303.68" r="1.55" fill="#6b2d93"/>
<text x="606.80" y="289.90" font-size="5.70" text-anchor="middle" fill="#303030" font-weight="normal" >NS</text>
<line x1="599.50" y1="290.20" x2="614.10" y2="290.20" stroke="#c2c2c2" stroke-width="1.20" />
<line x1="632.80" y1="293.21" x2="644.80" y2="326.47" stroke="#1a1a1a" stroke-width="0.80" />
<line x1="632.80" y1="299.37" x2="644.80" y2="327.70" stroke="#1a1a1a" stroke-width="0.80" />
<line x1="632.80" y1="300.60" x2="644.80" y2="332.02" stroke="#1a1a1a" stroke-width="0.80" />
<line x1="632.80" y1="303.68" x2="644.80" y2="340.64" stroke="#1a1a1a" stroke-width="0.80" />
<line x1="632.80" y1="303.68" x2="644.80" y2="342.49" stroke="#1a1a1a" stroke-width="0.80" />
<circle cx="632.80" cy="293.21" r="1.55" fill="#1a1a1a"/>
<circle cx="632.80" cy="299.37" r="1.55" fill="#1a1a1a"/>
<circle cx="632.80" cy="300.60" r="1.55" fill="#1a1a1a"/>
<circle cx="632.80" cy="303.68" r="1.55" fill="#1a1a1a"/>
<circle cx="632.80" cy="303.68" r="1.55" fill="#1a1a1a"/>
<circle cx="644.80" cy="326.47" r="1.55" fill="#6b2d93"/>
<circle cx="644.80" cy="327.70" r="1.55" fill="#6b2d93"/>
<circle cx="644.80" cy="332.02" r="1.55" fill="#6b2d93"/>
<circle cx="644.80" cy="340.64" r="1.55" fill="#6b2d93"/>
<circle cx="644.80" cy="342.49" r="1.55" fill="#6b2d93"/>
<path d="M628.30 285.85L628.30 288.75M627.04 286.57L629.56 288.02M627.04 288.02L629.56 286.57" stroke="#333333" stroke-width="0.95"/>
<path d="M632.30 285.85L632.30 288.75M631.04 286.57L633.56 288.02M631.04 288.02L633.56 286.57" stroke="#333333" stroke-width="0.95"/>
<path d="M636.30 285.85L636.30 288.75M635.04 286.57L637.56 288.02M635.04 288.02L637.56 286.57" stroke="#333333" stroke-width="0.95"/>
<path d="M640.30 285.85L640.30 288.75M639.04 286.57L641.56 288.02M639.04 288.02L641.56 286.57" stroke="#333333" stroke-width="0.95"/>
<line x1="627.00" y1="290.20" x2="641.60" y2="290.20" stroke="#c2c2c2" stroke-width="1.20" />
<line x1="655.30" y1="289.50" x2="661.30" y2="289.50" stroke="#1a1a1a" stroke-width="0.80" />
<circle cx="658.30" cy="289.50" r="1.40" fill="#1a1a1a"/>
<text x="663.20" y="291.60" font-size="6.10" text-anchor="start" fill="#303030" font-weight="normal" >DMSO</text>
<line x1="655.30" y1="297.30" x2="661.30" y2="297.30" stroke="#6b2d93" stroke-width="0.80" />
<circle cx="658.30" cy="297.30" r="1.40" fill="#6b2d93"/>
<text x="663.20" y="299.40" font-size="6.10" text-anchor="start" fill="#303030" font-weight="normal" >Treated</text>
<path d="M313.80 377.10 H407.60 V439.50" fill="none" stroke="#8f8f8f" stroke-width="0.95"/>
<line x1="315.40" y1="377.10" x2="315.40" y2="439.50" stroke="#c4c4c4" stroke-width="1.30" />
<line x1="313.80" y1="439.50" x2="407.60" y2="439.50" stroke="#7e7e7e" stroke-width="1.00" />
<line x1="312.60" y1="439.50" x2="314.80" y2="439.50" stroke="#555" stroke-width="0.90" />
<text x="309.50" y="441.70" font-size="6.30" text-anchor="end" fill="#303030" font-weight="normal" >0</text>
<line x1="312.60" y1="427.02" x2="314.80" y2="427.02" stroke="#555" stroke-width="0.90" />
<text x="309.50" y="429.22" font-size="6.30" text-anchor="end" fill="#303030" font-weight="normal" >20</text>
<line x1="312.60" y1="414.54" x2="314.80" y2="414.54" stroke="#555" stroke-width="0.90" />
<text x="309.50" y="416.74" font-size="6.30" text-anchor="end" fill="#303030" font-weight="normal" >40</text>
<line x1="312.60" y1="402.06" x2="314.80" y2="402.06" stroke="#555" stroke-width="0.90" />
<text x="309.50" y="404.26" font-size="6.30" text-anchor="end" fill="#303030" font-weight="normal" >60</text>
<line x1="312.60" y1="389.58" x2="314.80" y2="389.58" stroke="#555" stroke-width="0.90" />
<text x="309.50" y="391.78" font-size="6.30" text-anchor="end" fill="#303030" font-weight="normal" >80</text>
<line x1="312.60" y1="377.10" x2="314.80" y2="377.10" stroke="#555" stroke-width="0.90" />
<text x="309.50" y="379.30" font-size="6.30" text-anchor="end" fill="#303030" font-weight="normal" >100</text>
<line x1="329.90" y1="439.50" x2="329.90" y2="441.90" stroke="#777" stroke-width="0.80" />
<text x="329.90" y="449.00" font-size="6.00" text-anchor="middle" fill="#303030" font-weight="normal" >Vene</text>
<line x1="361.70" y1="439.50" x2="361.70" y2="441.90" stroke="#777" stroke-width="0.80" />
<text x="361.70" y="449.00" font-size="6.00" text-anchor="middle" fill="#303030" font-weight="normal" >Len</text>
<line x1="393.60" y1="439.50" x2="393.60" y2="441.90" stroke="#777" stroke-width="0.80" />
<text x="393.60" y="449.00" font-size="6.00" text-anchor="middle" fill="#303030" font-weight="normal" >Dasa</text>
<text x="361.70" y="375.10" font-size="7.20" text-anchor="middle" fill="#303030" font-weight="normal" >LAG3</text>
<line x1="324.00" y1="396.44" x2="336.20" y2="400.81" stroke="#1a1a1a" stroke-width="0.80" />
<line x1="324.00" y1="400.19" x2="336.20" y2="403.31" stroke="#1a1a1a" stroke-width="0.80" />
<line x1="324.00" y1="403.31" x2="336.20" y2="403.93" stroke="#1a1a1a" stroke-width="0.80" />
<line x1="324.00" y1="408.30" x2="336.20" y2="408.92" stroke="#1a1a1a" stroke-width="0.80" />
<line x1="324.00" y1="417.66" x2="336.20" y2="412.04" stroke="#1a1a1a" stroke-width="0.80" />
<circle cx="324.00" cy="396.44" r="1.55" fill="#1a1a1a"/>
<circle cx="324.00" cy="400.19" r="1.55" fill="#1a1a1a"/>
<circle cx="324.00" cy="403.31" r="1.55" fill="#1a1a1a"/>
<circle cx="324.00" cy="408.30" r="1.55" fill="#1a1a1a"/>
<circle cx="324.00" cy="417.66" r="1.55" fill="#1a1a1a"/>
<circle cx="336.20" cy="400.81" r="1.55" fill="#6b2d93"/>
<circle cx="336.20" cy="403.31" r="1.55" fill="#6b2d93"/>
<circle cx="336.20" cy="403.93" r="1.55" fill="#6b2d93"/>
<circle cx="336.20" cy="408.92" r="1.55" fill="#6b2d93"/>
<circle cx="336.20" cy="412.04" r="1.55" fill="#6b2d93"/>
<text x="329.90" y="386.10" font-size="5.70" text-anchor="middle" fill="#303030" font-weight="normal" >NS</text>
<line x1="322.60" y1="388.30" x2="337.20" y2="388.30" stroke="#c2c2c2" stroke-width="1.20" />
<line x1="355.60" y1="396.44" x2="367.80" y2="392.70" stroke="#1a1a1a" stroke-width="0.80" />
<line x1="355.60" y1="400.19" x2="367.80" y2="393.32" stroke="#1a1a1a" stroke-width="0.80" />
<line x1="355.60" y1="403.31" x2="367.80" y2="400.81" stroke="#1a1a1a" stroke-width="0.80" />
<line x1="355.60" y1="408.30" x2="367.80" y2="401.44" stroke="#1a1a1a" stroke-width="0.80" />
<line x1="355.60" y1="417.66" x2="367.80" y2="414.54" stroke="#1a1a1a" stroke-width="0.80" />
<circle cx="355.60" cy="396.44" r="1.55" fill="#1a1a1a"/>
<circle cx="355.60" cy="400.19" r="1.55" fill="#1a1a1a"/>
<circle cx="355.60" cy="403.31" r="1.55" fill="#1a1a1a"/>
<circle cx="355.60" cy="408.30" r="1.55" fill="#1a1a1a"/>
<circle cx="355.60" cy="417.66" r="1.55" fill="#1a1a1a"/>
<circle cx="367.80" cy="392.70" r="1.55" fill="#6b2d93"/>
<circle cx="367.80" cy="393.32" r="1.55" fill="#6b2d93"/>
<circle cx="367.80" cy="400.81" r="1.55" fill="#6b2d93"/>
<circle cx="367.80" cy="401.44" r="1.55" fill="#6b2d93"/>
<circle cx="367.80" cy="414.54" r="1.55" fill="#6b2d93"/>
<text x="361.70" y="386.10" font-size="5.70" text-anchor="middle" fill="#303030" font-weight="normal" >NS</text>
<line x1="354.40" y1="388.30" x2="369.00" y2="388.30" stroke="#c2c2c2" stroke-width="1.20" />
<line x1="387.60" y1="396.44" x2="399.80" y2="439.50" stroke="#1a1a1a" stroke-width="0.80" />
<line x1="387.60" y1="400.19" x2="399.80" y2="439.50" stroke="#1a1a1a" stroke-width="0.80" />
<line x1="387.60" y1="403.31" x2="399.80" y2="439.50" stroke="#1a1a1a" stroke-width="0.80" />
<line x1="387.60" y1="408.30" x2="399.80" y2="439.50" stroke="#1a1a1a" stroke-width="0.80" />
<line x1="387.60" y1="417.66" x2="399.80" y2="439.50" stroke="#1a1a1a" stroke-width="0.80" />
<circle cx="387.60" cy="396.44" r="1.55" fill="#1a1a1a"/>
<circle cx="387.60" cy="400.19" r="1.55" fill="#1a1a1a"/>
<circle cx="387.60" cy="403.31" r="1.55" fill="#1a1a1a"/>
<circle cx="387.60" cy="408.30" r="1.55" fill="#1a1a1a"/>
<circle cx="387.60" cy="417.66" r="1.55" fill="#1a1a1a"/>
<circle cx="399.80" cy="439.50" r="1.55" fill="#6b2d93"/>
<circle cx="399.80" cy="439.50" r="1.55" fill="#6b2d93"/>
<circle cx="399.80" cy="439.50" r="1.55" fill="#6b2d93"/>
<circle cx="399.80" cy="439.50" r="1.55" fill="#6b2d93"/>
<circle cx="399.80" cy="439.50" r="1.55" fill="#6b2d93"/>
<path d="M383.15 382.75L383.15 386.25M381.63 383.63L384.67 385.38M381.63 385.38L384.67 383.63" stroke="#333333" stroke-width="0.95"/>
<path d="M387.25 382.75L387.25 386.25M385.73 383.63L388.77 385.38M385.73 385.38L388.77 383.63" stroke="#333333" stroke-width="0.95"/>
<path d="M391.35 382.75L391.35 386.25M389.83 383.63L392.87 385.38M389.83 385.38L392.87 383.63" stroke="#333333" stroke-width="0.95"/>
<path d="M395.45 382.75L395.45 386.25M393.93 383.63L396.97 385.38M393.93 385.38L396.97 383.63" stroke="#333333" stroke-width="0.95"/>
<line x1="382.00" y1="388.30" x2="396.60" y2="388.30" stroke="#c2c2c2" stroke-width="1.20" />
<rect x="469.90" y="377.10" width="28.60" height="62.40" fill="none" stroke="#f0a050" stroke-width="1.15" rx="0.00" />
<path d="M437.60 377.10 H530.80 V439.50" fill="none" stroke="#8f8f8f" stroke-width="0.95"/>
<line x1="439.20" y1="377.10" x2="439.20" y2="439.50" stroke="#c4c4c4" stroke-width="1.30" />
<line x1="437.60" y1="439.50" x2="530.80" y2="439.50" stroke="#7e7e7e" stroke-width="1.00" />
<line x1="436.40" y1="439.50" x2="438.60" y2="439.50" stroke="#555" stroke-width="0.90" />
<text x="433.30" y="441.70" font-size="6.30" text-anchor="end" fill="#303030" font-weight="normal" >0</text>
<line x1="436.40" y1="427.02" x2="438.60" y2="427.02" stroke="#555" stroke-width="0.90" />
<text x="433.30" y="429.22" font-size="6.30" text-anchor="end" fill="#303030" font-weight="normal" >20</text>
<line x1="436.40" y1="414.54" x2="438.60" y2="414.54" stroke="#555" stroke-width="0.90" />
<text x="433.30" y="416.74" font-size="6.30" text-anchor="end" fill="#303030" font-weight="normal" >40</text>
<line x1="436.40" y1="402.06" x2="438.60" y2="402.06" stroke="#555" stroke-width="0.90" />
<text x="433.30" y="404.26" font-size="6.30" text-anchor="end" fill="#303030" font-weight="normal" >60</text>
<line x1="436.40" y1="389.58" x2="438.60" y2="389.58" stroke="#555" stroke-width="0.90" />
<text x="433.30" y="391.78" font-size="6.30" text-anchor="end" fill="#303030" font-weight="normal" >80</text>
<line x1="436.40" y1="377.10" x2="438.60" y2="377.10" stroke="#555" stroke-width="0.90" />
<text x="433.30" y="379.30" font-size="6.30" text-anchor="end" fill="#303030" font-weight="normal" >100</text>
<line x1="453.00" y1="439.50" x2="453.00" y2="441.90" stroke="#777" stroke-width="0.80" />
<text x="453.00" y="449.00" font-size="6.00" text-anchor="middle" fill="#303030" font-weight="normal" >Vene</text>
<line x1="485.20" y1="439.50" x2="485.20" y2="441.90" stroke="#777" stroke-width="0.80" />
<text x="485.20" y="449.00" font-size="6.00" text-anchor="middle" fill="#303030" font-weight="normal" >Len</text>
<line x1="516.40" y1="439.50" x2="516.40" y2="441.90" stroke="#777" stroke-width="0.80" />
<text x="516.40" y="449.00" font-size="6.00" text-anchor="middle" fill="#303030" font-weight="normal" >Dasa</text>
<text x="485.20" y="375.10" font-size="7.20" text-anchor="middle" fill="#303030" font-weight="normal" >LAG3</text>
<text x="419.30" y="408.30" font-size="7.30" text-anchor="middle" fill="#303030" font-weight="normal" transform="rotate(-90 419.3 408.3)" >Population (%)</text>
<line x1="446.20" y1="395.82" x2="458.50" y2="400.81" stroke="#1a1a1a" stroke-width="0.80" />
<line x1="446.20" y1="401.44" x2="458.50" y2="404.56" stroke="#1a1a1a" stroke-width="0.80" />
<line x1="446.20" y1="405.18" x2="458.50" y2="407.68" stroke="#1a1a1a" stroke-width="0.80" />
<line x1="446.20" y1="406.43" x2="458.50" y2="408.92" stroke="#1a1a1a" stroke-width="0.80" />
<line x1="446.20" y1="418.91" x2="458.50" y2="410.17" stroke="#1a1a1a" stroke-width="0.80" />
<circle cx="446.20" cy="395.82" r="1.55" fill="#1a1a1a"/>
<circle cx="446.20" cy="401.44" r="1.55" fill="#1a1a1a"/>
<circle cx="446.20" cy="405.18" r="1.55" fill="#1a1a1a"/>
<circle cx="446.20" cy="406.43" r="1.55" fill="#1a1a1a"/>
<circle cx="446.20" cy="418.91" r="1.55" fill="#1a1a1a"/>
<circle cx="458.50" cy="400.81" r="1.55" fill="#6b2d93"/>
<circle cx="458.50" cy="404.56" r="1.55" fill="#6b2d93"/>
<circle cx="458.50" cy="407.68" r="1.55" fill="#6b2d93"/>
<circle cx="458.50" cy="408.92" r="1.55" fill="#6b2d93"/>
<circle cx="458.50" cy="410.17" r="1.55" fill="#6b2d93"/>
<text x="452.15" y="386.10" font-size="5.70" text-anchor="middle" fill="#303030" font-weight="normal" >NS</text>
<line x1="444.85" y1="388.30" x2="459.45" y2="388.30" stroke="#c2c2c2" stroke-width="1.20" />
<line x1="478.00" y1="395.82" x2="490.40" y2="398.94" stroke="#1a1a1a" stroke-width="0.80" />
<line x1="478.00" y1="401.44" x2="490.40" y2="405.80" stroke="#1a1a1a" stroke-width="0.80" />
<line x1="478.00" y1="405.18" x2="490.40" y2="413.92" stroke="#1a1a1a" stroke-width="0.80" />
<line x1="478.00" y1="406.43" x2="490.40" y2="419.53" stroke="#1a1a1a" stroke-width="0.80" />
<line x1="478.00" y1="418.91" x2="490.40" y2="420.78" stroke="#1a1a1a" stroke-width="0.80" />
<circle cx="478.00" cy="395.82" r="1.55" fill="#1a1a1a"/>
<circle cx="478.00" cy="401.44" r="1.55" fill="#1a1a1a"/>
<circle cx="478.00" cy="405.18" r="1.55" fill="#1a1a1a"/>
<circle cx="478.00" cy="406.43" r="1.55" fill="#1a1a1a"/>
<circle cx="478.00" cy="418.91" r="1.55" fill="#1a1a1a"/>
<circle cx="490.40" cy="398.94" r="1.55" fill="#6b2d93"/>
<circle cx="490.40" cy="405.80" r="1.55" fill="#6b2d93"/>
<circle cx="490.40" cy="413.92" r="1.55" fill="#6b2d93"/>
<circle cx="490.40" cy="419.53" r="1.55" fill="#6b2d93"/>
<circle cx="490.40" cy="420.78" r="1.55" fill="#6b2d93"/>
<text x="484.20" y="386.10" font-size="5.70" text-anchor="middle" fill="#303030" font-weight="normal" >NS</text>
<line x1="476.90" y1="388.30" x2="491.50" y2="388.30" stroke="#c2c2c2" stroke-width="1.20" />
<line x1="510.20" y1="395.82" x2="522.20" y2="439.50" stroke="#1a1a1a" stroke-width="0.80" />
<line x1="510.20" y1="401.44" x2="522.20" y2="439.50" stroke="#1a1a1a" stroke-width="0.80" />
<line x1="510.20" y1="405.18" x2="522.20" y2="439.50" stroke="#1a1a1a" stroke-width="0.80" />
<line x1="510.20" y1="406.43" x2="522.20" y2="439.50" stroke="#1a1a1a" stroke-width="0.80" />
<line x1="510.20" y1="418.91" x2="522.20" y2="439.50" stroke="#1a1a1a" stroke-width="0.80" />
<circle cx="510.20" cy="395.82" r="1.55" fill="#1a1a1a"/>
<circle cx="510.20" cy="401.44" r="1.55" fill="#1a1a1a"/>
<circle cx="510.20" cy="405.18" r="1.55" fill="#1a1a1a"/>
<circle cx="510.20" cy="406.43" r="1.55" fill="#1a1a1a"/>
<circle cx="510.20" cy="418.91" r="1.55" fill="#1a1a1a"/>
<circle cx="522.20" cy="439.50" r="1.55" fill="#6b2d93"/>
<circle cx="522.20" cy="439.50" r="1.55" fill="#6b2d93"/>
<circle cx="522.20" cy="439.50" r="1.55" fill="#6b2d93"/>
<circle cx="522.20" cy="439.50" r="1.55" fill="#6b2d93"/>
<circle cx="522.20" cy="439.50" r="1.55" fill="#6b2d93"/>
<path d="M507.35 382.75L507.35 386.25M505.83 383.63L508.87 385.38M505.83 385.38L508.87 383.63" stroke="#333333" stroke-width="0.95"/>
<path d="M511.45 382.75L511.45 386.25M509.93 383.63L512.97 385.38M509.93 385.38L512.97 383.63" stroke="#333333" stroke-width="0.95"/>
<path d="M515.55 382.75L515.55 386.25M514.03 383.63L517.07 385.38M514.03 385.38L517.07 383.63" stroke="#333333" stroke-width="0.95"/>
<path d="M519.65 382.75L519.65 386.25M518.13 383.63L521.17 385.38M518.13 385.38L521.17 383.63" stroke="#333333" stroke-width="0.95"/>
<line x1="506.20" y1="388.30" x2="520.80" y2="388.30" stroke="#c2c2c2" stroke-width="1.20" />
<rect x="560.80" y="377.10" width="27.80" height="62.40" fill="none" stroke="#3e8fcf" stroke-width="1.15" rx="0.00" />
<path d="M557.80 377.10 H652.60 V439.50" fill="none" stroke="#8f8f8f" stroke-width="0.95"/>
<line x1="559.40" y1="377.10" x2="559.40" y2="439.50" stroke="#c4c4c4" stroke-width="1.30" />
<line x1="557.80" y1="439.50" x2="652.60" y2="439.50" stroke="#7e7e7e" stroke-width="1.00" />
<line x1="556.60" y1="439.50" x2="558.80" y2="439.50" stroke="#555" stroke-width="0.90" />
<text x="553.50" y="441.70" font-size="6.30" text-anchor="end" fill="#303030" font-weight="normal" >0</text>
<line x1="556.60" y1="427.02" x2="558.80" y2="427.02" stroke="#555" stroke-width="0.90" />
<text x="553.50" y="429.22" font-size="6.30" text-anchor="end" fill="#303030" font-weight="normal" >20</text>
<line x1="556.60" y1="414.54" x2="558.80" y2="414.54" stroke="#555" stroke-width="0.90" />
<text x="553.50" y="416.74" font-size="6.30" text-anchor="end" fill="#303030" font-weight="normal" >40</text>
<line x1="556.60" y1="402.06" x2="558.80" y2="402.06" stroke="#555" stroke-width="0.90" />
<text x="553.50" y="404.26" font-size="6.30" text-anchor="end" fill="#303030" font-weight="normal" >60</text>
<line x1="556.60" y1="389.58" x2="558.80" y2="389.58" stroke="#555" stroke-width="0.90" />
<text x="553.50" y="391.78" font-size="6.30" text-anchor="end" fill="#303030" font-weight="normal" >80</text>
<line x1="556.60" y1="377.10" x2="558.80" y2="377.10" stroke="#555" stroke-width="0.90" />
<text x="553.50" y="379.30" font-size="6.30" text-anchor="end" fill="#303030" font-weight="normal" >100</text>
<line x1="575.00" y1="439.50" x2="575.00" y2="441.90" stroke="#777" stroke-width="0.80" />
<text x="575.00" y="449.00" font-size="6.00" text-anchor="middle" fill="#303030" font-weight="normal" >Vene</text>
<line x1="606.70" y1="439.50" x2="606.70" y2="441.90" stroke="#777" stroke-width="0.80" />
<text x="606.70" y="449.00" font-size="6.00" text-anchor="middle" fill="#303030" font-weight="normal" >Len</text>
<line x1="638.70" y1="439.50" x2="638.70" y2="441.90" stroke="#777" stroke-width="0.80" />
<text x="638.70" y="449.00" font-size="6.00" text-anchor="middle" fill="#303030" font-weight="normal" >Dasa</text>
<text x="606.20" y="375.10" font-size="7.20" text-anchor="middle" fill="#303030" font-weight="normal" >LAG3</text>
<text x="542.00" y="408.30" font-size="7.30" text-anchor="middle" fill="#303030" font-weight="normal" transform="rotate(-90 542 408.3)" >Population (%)</text>
<line x1="568.70" y1="398.94" x2="580.90" y2="418.28" stroke="#1a1a1a" stroke-width="0.80" />
<line x1="568.70" y1="410.80" x2="580.90" y2="421.40" stroke="#1a1a1a" stroke-width="0.80" />
<line x1="568.70" y1="411.42" x2="580.90" y2="432.01" stroke="#1a1a1a" stroke-width="0.80" />
<line x1="568.70" y1="416.41" x2="580.90" y2="435.13" stroke="#1a1a1a" stroke-width="0.80" />
<line x1="568.70" y1="422.65" x2="580.90" y2="436.38" stroke="#1a1a1a" stroke-width="0.80" />
<circle cx="568.70" cy="398.94" r="1.55" fill="#1a1a1a"/>
<circle cx="568.70" cy="410.80" r="1.55" fill="#1a1a1a"/>
<circle cx="568.70" cy="411.42" r="1.55" fill="#1a1a1a"/>
<circle cx="568.70" cy="416.41" r="1.55" fill="#1a1a1a"/>
<circle cx="568.70" cy="422.65" r="1.55" fill="#1a1a1a"/>
<circle cx="580.90" cy="418.28" r="1.55" fill="#6b2d93"/>
<circle cx="580.90" cy="421.40" r="1.55" fill="#6b2d93"/>
<circle cx="580.90" cy="432.01" r="1.55" fill="#6b2d93"/>
<circle cx="580.90" cy="435.13" r="1.55" fill="#6b2d93"/>
<circle cx="580.90" cy="436.38" r="1.55" fill="#6b2d93"/>
<path d="M570.50 382.75L570.50 386.25M568.98 383.63L572.02 385.38M568.98 385.38L572.02 383.63" stroke="#333333" stroke-width="0.95"/>
<path d="M574.60 382.75L574.60 386.25M573.08 383.63L576.12 385.38M573.08 385.38L576.12 383.63" stroke="#333333" stroke-width="0.95"/>
<path d="M578.70 382.75L578.70 386.25M577.18 383.63L580.22 385.38M577.18 385.38L580.22 383.63" stroke="#333333" stroke-width="0.95"/>
<line x1="567.30" y1="388.30" x2="581.90" y2="388.30" stroke="#c2c2c2" stroke-width="1.20" />
<line x1="600.80" y1="398.94" x2="612.80" y2="396.44" stroke="#1a1a1a" stroke-width="0.80" />
<line x1="600.80" y1="410.80" x2="612.80" y2="402.68" stroke="#1a1a1a" stroke-width="0.80" />
<line x1="600.80" y1="411.42" x2="612.80" y2="406.43" stroke="#1a1a1a" stroke-width="0.80" />
<line x1="600.80" y1="416.41" x2="612.80" y2="407.05" stroke="#1a1a1a" stroke-width="0.80" />
<line x1="600.80" y1="422.65" x2="612.80" y2="418.28" stroke="#1a1a1a" stroke-width="0.80" />
<circle cx="600.80" cy="398.94" r="1.55" fill="#1a1a1a"/>
<circle cx="600.80" cy="410.80" r="1.55" fill="#1a1a1a"/>
<circle cx="600.80" cy="411.42" r="1.55" fill="#1a1a1a"/>
<circle cx="600.80" cy="416.41" r="1.55" fill="#1a1a1a"/>
<circle cx="600.80" cy="422.65" r="1.55" fill="#1a1a1a"/>
<circle cx="612.80" cy="396.44" r="1.55" fill="#6b2d93"/>
<circle cx="612.80" cy="402.68" r="1.55" fill="#6b2d93"/>
<circle cx="612.80" cy="406.43" r="1.55" fill="#6b2d93"/>
<circle cx="612.80" cy="407.05" r="1.55" fill="#6b2d93"/>
<circle cx="612.80" cy="418.28" r="1.55" fill="#6b2d93"/>
<text x="606.80" y="386.10" font-size="5.70" text-anchor="middle" fill="#303030" font-weight="normal" >NS</text>
<line x1="599.50" y1="388.30" x2="614.10" y2="388.30" stroke="#c2c2c2" stroke-width="1.20" />
<line x1="632.80" y1="398.94" x2="644.80" y2="438.88" stroke="#1a1a1a" stroke-width="0.80" />
<line x1="632.80" y1="410.80" x2="644.80" y2="438.88" stroke="#1a1a1a" stroke-width="0.80" />
<line x1="632.80" y1="411.42" x2="644.80" y2="438.88" stroke="#1a1a1a" stroke-width="0.80" />
<line x1="632.80" y1="416.41" x2="644.80" y2="438.88" stroke="#1a1a1a" stroke-width="0.80" />
<line x1="632.80" y1="422.65" x2="644.80" y2="438.88" stroke="#1a1a1a" stroke-width="0.80" />
<circle cx="632.80" cy="398.94" r="1.55" fill="#1a1a1a"/>
<circle cx="632.80" cy="410.80" r="1.55" fill="#1a1a1a"/>
<circle cx="632.80" cy="411.42" r="1.55" fill="#1a1a1a"/>
<circle cx="632.80" cy="416.41" r="1.55" fill="#1a1a1a"/>
<circle cx="632.80" cy="422.65" r="1.55" fill="#1a1a1a"/>
<circle cx="644.80" cy="438.88" r="1.55" fill="#6b2d93"/>
<circle cx="644.80" cy="438.88" r="1.55" fill="#6b2d93"/>
<circle cx="644.80" cy="438.88" r="1.55" fill="#6b2d93"/>
<circle cx="644.80" cy="438.88" r="1.55" fill="#6b2d93"/>
<circle cx="644.80" cy="438.88" r="1.55" fill="#6b2d93"/>
<path d="M628.15 382.75L628.15 386.25M626.63 383.63L629.67 385.38M626.63 385.38L629.67 383.63" stroke="#333333" stroke-width="0.95"/>
<path d="M632.25 382.75L632.25 386.25M630.73 383.63L633.77 385.38M630.73 385.38L633.77 383.63" stroke="#333333" stroke-width="0.95"/>
<path d="M636.35 382.75L636.35 386.25M634.83 383.63L637.87 385.38M634.83 385.38L637.87 383.63" stroke="#333333" stroke-width="0.95"/>
<path d="M640.45 382.75L640.45 386.25M638.93 383.63L641.97 385.38M638.93 385.38L641.97 383.63" stroke="#333333" stroke-width="0.95"/>
<line x1="627.00" y1="388.30" x2="641.60" y2="388.30" stroke="#c2c2c2" stroke-width="1.20" />
<line x1="655.30" y1="399.40" x2="661.30" y2="399.40" stroke="#1a1a1a" stroke-width="0.80" />
<circle cx="658.30" cy="399.40" r="1.40" fill="#1a1a1a"/>
<text x="663.20" y="401.50" font-size="6.10" text-anchor="start" fill="#303030" font-weight="normal" >DMSO</text>
<line x1="655.30" y1="407.20" x2="661.30" y2="407.20" stroke="#6b2d93" stroke-width="0.80" />
<circle cx="658.30" cy="407.20" r="1.40" fill="#6b2d93"/>
<text x="663.20" y="409.30" font-size="6.10" text-anchor="start" fill="#303030" font-weight="normal" >Treated</text>
<text x="493.50" y="459.20" font-size="7.40" text-anchor="middle" fill="#303030" font-weight="normal" >±drug</text>
</svg>
</body></html>
